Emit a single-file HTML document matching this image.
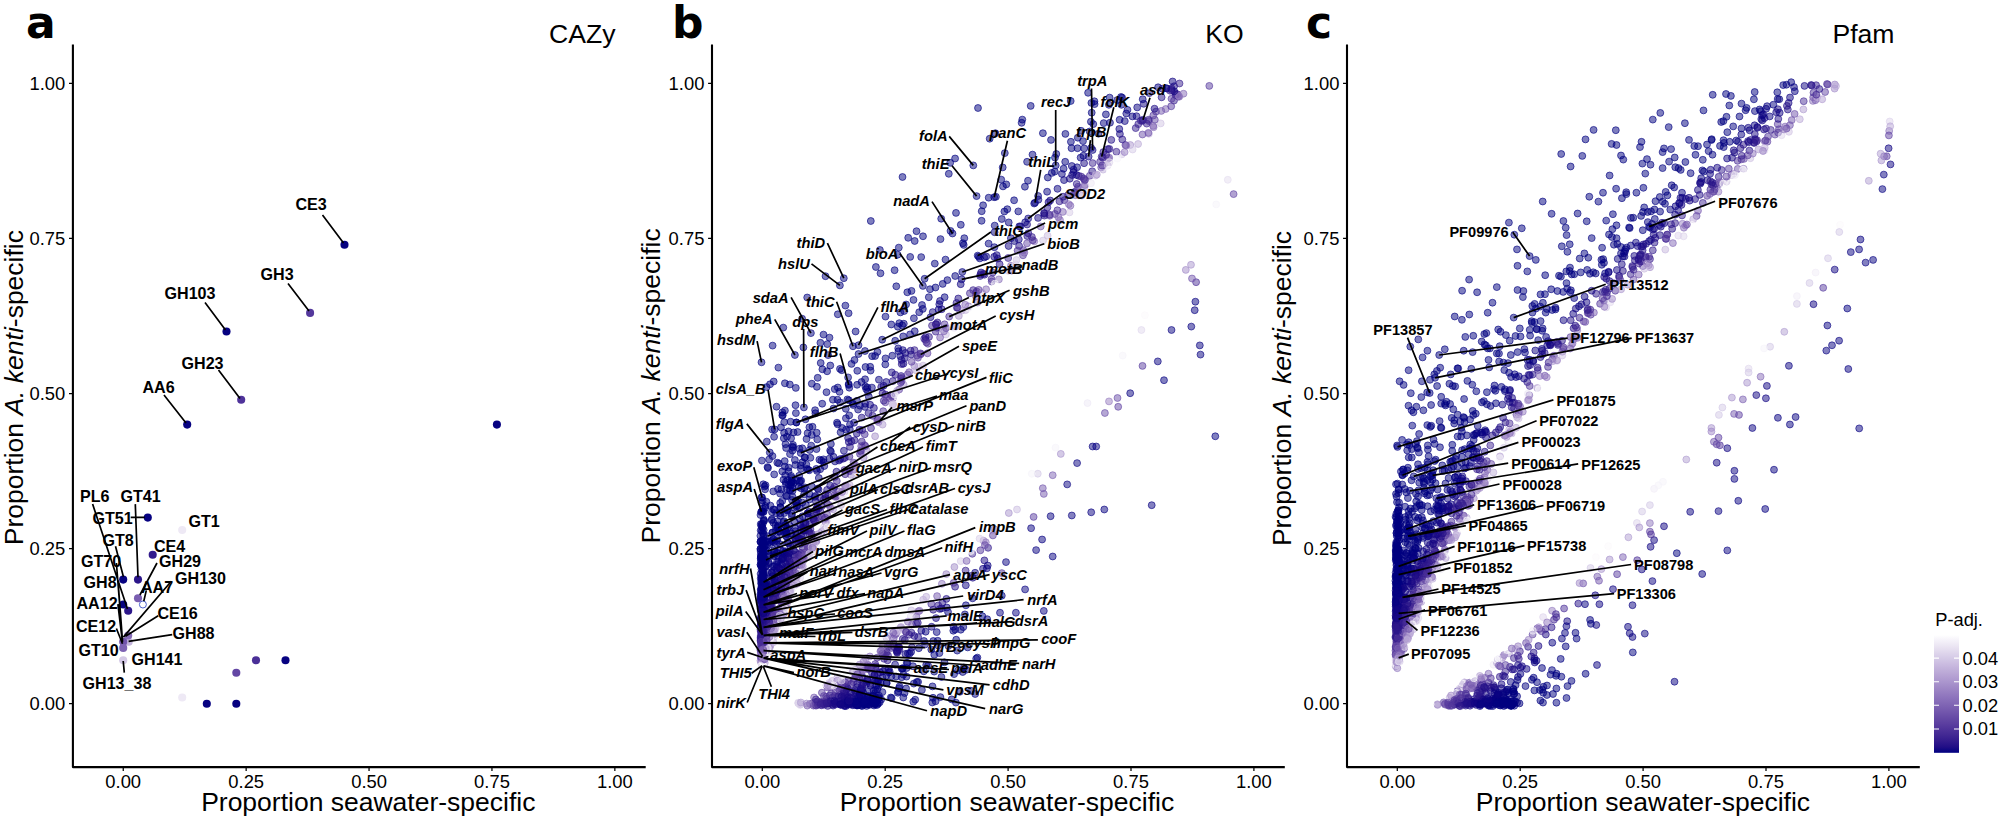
<!DOCTYPE html>
<html lang="en">
<head>
<meta charset="utf-8">
<title>Proportion of A. kenti-specific versus seawater-specific genes (CAZy, KO, Pfam)</title>
<style>
html,body{margin:0;padding:0;background:#fff;}
body{width:2000px;height:820px;overflow:hidden;}
svg{display:block;}
text{font-family:'Liberation Sans', sans-serif;fill:#000;}
.tick{font-size:18.4px;}
.atitle{font-size:26.5px;}
.pname{font-size:26.6px;}
.pletter{font-family:'DejaVu Sans','Liberation Sans',sans-serif;font-weight:bold;font-size:44px;}
.leg{font-size:18.3px;}
.la text{font-size:16.1px;font-weight:bold;}
.lb text{font-size:14.7px;font-weight:bold;font-style:italic;}
.lc text{font-size:14.6px;font-weight:bold;}
</style>
</head>
<body>
<svg width="2000" height="820" viewBox="0 0 2000 820">
<rect width="2000" height="820" fill="#fff"/>
<g class="frame" id="panel-a">
<path d="M72.9 44.4V767.1H645.7" fill="none" stroke="#000" stroke-width="2.1" stroke-linejoin="round"/>
<path d="M69.00 703.70H72.90M123.25 767.15V771.05M69.00 548.62H72.90M246.15 767.15V771.05M69.00 393.55H72.90M369.05 767.15V771.05M69.00 238.48H72.90M491.95 767.15V771.05M69.00 83.40H72.90M614.85 767.15V771.05" stroke="#000" stroke-width="1.25" fill="none"/>
<text class="tick" text-anchor="end" x="65.3" y="710.1">0.00</text>
<text class="tick" text-anchor="middle" x="123.2" y="788.0">0.00</text>
<text class="tick" text-anchor="end" x="65.3" y="555.0">0.25</text>
<text class="tick" text-anchor="middle" x="246.2" y="788.0">0.25</text>
<text class="tick" text-anchor="end" x="65.3" y="400.0">0.50</text>
<text class="tick" text-anchor="middle" x="369.1" y="788.0">0.50</text>
<text class="tick" text-anchor="end" x="65.3" y="244.9">0.75</text>
<text class="tick" text-anchor="middle" x="492.0" y="788.0">0.75</text>
<text class="tick" text-anchor="end" x="65.3" y="89.8">1.00</text>
<text class="tick" text-anchor="middle" x="614.9" y="788.0">1.00</text>
<text class="atitle" text-anchor="middle" x="368.3" y="810.6">Proportion seawater-specific</text>
<text class="atitle" text-anchor="middle" transform="translate(22.5 387.6) rotate(-90)">Proportion <tspan font-style="italic">A. kenti</tspan>-specific</text>
<text class="pname" x="549.0" y="43.0">CAZy</text>
<text class="pletter" x="26.0" y="38.2">a</text>
</g>
<g class="frame" id="panel-b">
<path d="M712.0 44.4V767.1H1284.8" fill="none" stroke="#000" stroke-width="2.1" stroke-linejoin="round"/>
<path d="M708.10 703.70H712.00M762.30 767.15V771.05M708.10 548.62H712.00M885.20 767.15V771.05M708.10 393.55H712.00M1008.10 767.15V771.05M708.10 238.48H712.00M1131.00 767.15V771.05M708.10 83.40H712.00M1253.90 767.15V771.05" stroke="#000" stroke-width="1.25" fill="none"/>
<text class="tick" text-anchor="end" x="704.4" y="710.1">0.00</text>
<text class="tick" text-anchor="middle" x="762.3" y="788.0">0.00</text>
<text class="tick" text-anchor="end" x="704.4" y="555.0">0.25</text>
<text class="tick" text-anchor="middle" x="885.2" y="788.0">0.25</text>
<text class="tick" text-anchor="end" x="704.4" y="400.0">0.50</text>
<text class="tick" text-anchor="middle" x="1008.1" y="788.0">0.50</text>
<text class="tick" text-anchor="end" x="704.4" y="244.9">0.75</text>
<text class="tick" text-anchor="middle" x="1131.0" y="788.0">0.75</text>
<text class="tick" text-anchor="end" x="704.4" y="89.8">1.00</text>
<text class="tick" text-anchor="middle" x="1253.9" y="788.0">1.00</text>
<text class="atitle" text-anchor="middle" x="1007.0" y="810.6">Proportion seawater-specific</text>
<text class="atitle" text-anchor="middle" transform="translate(660.2 385.9) rotate(-90)">Proportion <tspan font-style="italic">A. kenti</tspan>-specific</text>
<text class="pname" x="1205.3" y="43.0">KO</text>
<text class="pletter" x="672.0" y="38.2">b</text>
</g>
<g class="frame" id="panel-c">
<path d="M1347.0 44.4V767.1H1919.8" fill="none" stroke="#000" stroke-width="2.1" stroke-linejoin="round"/>
<path d="M1343.05 703.70H1346.95M1397.30 767.15V771.05M1343.05 548.62H1346.95M1520.20 767.15V771.05M1343.05 393.55H1346.95M1643.10 767.15V771.05M1343.05 238.48H1346.95M1766.00 767.15V771.05M1343.05 83.40H1346.95M1888.90 767.15V771.05" stroke="#000" stroke-width="1.25" fill="none"/>
<text class="tick" text-anchor="end" x="1339.4" y="710.1">0.00</text>
<text class="tick" text-anchor="middle" x="1397.3" y="788.0">0.00</text>
<text class="tick" text-anchor="end" x="1339.4" y="555.0">0.25</text>
<text class="tick" text-anchor="middle" x="1520.2" y="788.0">0.25</text>
<text class="tick" text-anchor="end" x="1339.4" y="400.0">0.50</text>
<text class="tick" text-anchor="middle" x="1643.1" y="788.0">0.50</text>
<text class="tick" text-anchor="end" x="1339.4" y="244.9">0.75</text>
<text class="tick" text-anchor="middle" x="1766.0" y="788.0">0.75</text>
<text class="tick" text-anchor="end" x="1339.4" y="89.8">1.00</text>
<text class="tick" text-anchor="middle" x="1888.9" y="788.0">1.00</text>
<text class="atitle" text-anchor="middle" x="1642.9" y="810.6">Proportion seawater-specific</text>
<text class="atitle" text-anchor="middle" transform="translate(1290.8 388.5) rotate(-90)">Proportion <tspan font-style="italic">A. kenti</tspan>-specific</text>
<text class="pname" x="1832.4" y="43.0">Pfam</text>
<text class="pletter" x="1306.0" y="38.2">c</text>
</g>
<g id="legend">
<defs><linearGradient id="padj" x1="0" y1="1" x2="0" y2="0">
<stop offset="0.00" stop-color="#000080"/>
<stop offset="0.05" stop-color="#210e86"/>
<stop offset="0.10" stop-color="#331b8d"/>
<stop offset="0.15" stop-color="#422893"/>
<stop offset="0.20" stop-color="#4f339a"/>
<stop offset="0.25" stop-color="#5c3fa0"/>
<stop offset="0.30" stop-color="#674ba6"/>
<stop offset="0.35" stop-color="#7357ad"/>
<stop offset="0.40" stop-color="#7e63b3"/>
<stop offset="0.45" stop-color="#896fba"/>
<stop offset="0.50" stop-color="#947bc0"/>
<stop offset="0.55" stop-color="#9f88c6"/>
<stop offset="0.60" stop-color="#aa95cd"/>
<stop offset="0.65" stop-color="#b5a1d3"/>
<stop offset="0.70" stop-color="#bfaed9"/>
<stop offset="0.75" stop-color="#cabbe0"/>
<stop offset="0.80" stop-color="#d4c9e6"/>
<stop offset="0.85" stop-color="#dfd6ec"/>
<stop offset="0.90" stop-color="#eae4f2"/>
<stop offset="0.95" stop-color="#f4f1f9"/>
<stop offset="1.00" stop-color="#ffffff"/>
</linearGradient></defs>
<text class="leg" x="1935.2" y="626.2">P-adj.</text>
<rect x="1934.0" y="635.0" width="25.0" height="117.8" fill="url(#padj)"/>
<path d="M1934.0 658.1h5M1954.0 658.1h5" stroke="#fff" stroke-width="1.1"/>
<text class="leg" x="1962.6" y="664.5">0.04</text>
<path d="M1934.0 681.7h5M1954.0 681.7h5" stroke="#fff" stroke-width="1.1"/>
<text class="leg" x="1962.6" y="688.1">0.03</text>
<path d="M1934.0 705.3h5M1954.0 705.3h5" stroke="#fff" stroke-width="1.1"/>
<text class="leg" x="1962.6" y="711.7">0.02</text>
<path d="M1934.0 729.0h5M1954.0 729.0h5" stroke="#fff" stroke-width="1.1"/>
<text class="leg" x="1962.6" y="735.4">0.01</text>
</g>
<g id="pts-a">
<circle cx="344.5" cy="244.7" r="4.05" fill="#070281"/>
<circle cx="310.1" cy="312.9" r="4.05" fill="#54389c"/>
<circle cx="226.5" cy="331.5" r="4.05" fill="#070281"/>
<circle cx="241.2" cy="399.8" r="4.05" fill="#4f339a"/>
<circle cx="187.2" cy="424.6" r="4.05" fill="#070281"/>
<circle cx="496.9" cy="424.6" r="4.05" fill="#070281"/>
<circle cx="147.8" cy="517.6" r="4.05" fill="#070281"/>
<circle cx="182.2" cy="530.0" r="4.05" fill="#eee9f5"/>
<circle cx="152.7" cy="554.8" r="4.05" fill="#331b8d"/>
<circle cx="123.2" cy="579.6" r="4.05" fill="#070281"/>
<circle cx="138.0" cy="579.6" r="4.05" fill="#2c168a"/>
<circle cx="138.0" cy="598.2" r="4.05" fill="#7a5eb1"/>
<circle cx="142.9" cy="604.5" r="3.5" fill="#fff" stroke="#3a50c8" stroke-width="0.9"/>
<circle cx="123.2" cy="604.5" r="4.05" fill="#070281"/>
<circle cx="128.2" cy="610.7" r="4.05" fill="#2c168a"/>
<circle cx="128.7" cy="641.7" r="4.05" fill="#c3b4dc"/>
<circle cx="128.2" cy="635.5" r="4.05" fill="#876db8"/>
<circle cx="123.2" cy="641.7" r="4.05" fill="#7154ac"/>
<circle cx="123.2" cy="647.9" r="4.05" fill="#7e63b3"/>
<circle cx="123.2" cy="660.3" r="4.05" fill="#d4c9e6"/>
<circle cx="182.2" cy="697.5" r="4.05" fill="#eee9f5"/>
<circle cx="206.8" cy="703.7" r="4.05" fill="#070281"/>
<circle cx="236.3" cy="703.7" r="4.05" fill="#070281"/>
<circle cx="236.3" cy="672.7" r="4.05" fill="#6346a4"/>
<circle cx="256.0" cy="660.3" r="4.05" fill="#4a2f97"/>
<circle cx="285.5" cy="660.3" r="4.05" fill="#070281"/>
</g>
<g id="pts-b" stroke-width="1" fill-opacity="0.5" stroke-opacity="0.62">
<circle cx="863.2" cy="700.7" r="3.45" fill="#060181" stroke="#060181"/>
<circle cx="763.1" cy="641.6" r="3.45" fill="#4f3399" stroke="#4f3399"/>
<circle cx="776.7" cy="553.0" r="3.45" fill="#020180" stroke="#020180"/>
<circle cx="863.2" cy="704.1" r="3.45" fill="#030180" stroke="#030180"/>
<circle cx="774.2" cy="550.5" r="3.45" fill="#000080" stroke="#000080"/>
<circle cx="786.5" cy="552.8" r="3.45" fill="#0f0482" stroke="#0f0482"/>
<circle cx="1023.0" cy="255.3" r="3.45" fill="#5a3e9f" stroke="#5a3e9f"/>
<circle cx="763.5" cy="589.8" r="3.45" fill="#050181" stroke="#050181"/>
<circle cx="768.9" cy="630.7" r="3.45" fill="#977fc2" stroke="#977fc2"/>
<circle cx="897.8" cy="692.7" r="3.45" fill="#000080" stroke="#000080"/>
<circle cx="761.0" cy="639.0" r="3.45" fill="#4b3098" stroke="#4b3098"/>
<circle cx="814.7" cy="496.9" r="3.45" fill="#050181" stroke="#050181"/>
<circle cx="877.1" cy="657.7" r="3.45" fill="#573a9d" stroke="#573a9d"/>
<circle cx="1174.0" cy="100.6" r="3.45" fill="#3d2391" stroke="#3d2391"/>
<circle cx="762.5" cy="626.4" r="3.45" fill="#2b158a" stroke="#2b158a"/>
<circle cx="1091.4" cy="102.9" r="3.45" fill="#000080" stroke="#000080"/>
<circle cx="763.5" cy="597.3" r="3.45" fill="#0a0281" stroke="#0a0281"/>
<circle cx="855.2" cy="669.9" r="3.45" fill="#9c84c4" stroke="#9c84c4"/>
<circle cx="899.3" cy="649.5" r="3.45" fill="#200d86" stroke="#200d86"/>
<circle cx="1175.5" cy="93.5" r="3.45" fill="#462b95" stroke="#462b95"/>
<circle cx="763.3" cy="536.4" r="3.45" fill="#000080" stroke="#000080"/>
<circle cx="765.7" cy="630.0" r="3.45" fill="#4a2f97" stroke="#4a2f97"/>
<circle cx="763.7" cy="664.8" r="3.45" fill="#ffffff" stroke="#ffffff"/>
<circle cx="1148.9" cy="121.1" r="3.45" fill="#563a9d" stroke="#563a9d"/>
<circle cx="1103.7" cy="123.1" r="3.45" fill="#010080" stroke="#010080"/>
<circle cx="776.9" cy="571.1" r="3.45" fill="#0f0482" stroke="#0f0482"/>
<circle cx="763.7" cy="638.2" r="3.45" fill="#472c96" stroke="#472c96"/>
<circle cx="768.5" cy="627.6" r="3.45" fill="#6346a4" stroke="#6346a4"/>
<circle cx="782.7" cy="612.1" r="3.45" fill="#fcfbfd" stroke="#fcfbfd"/>
<circle cx="900.4" cy="312.4" r="3.45" fill="#000080" stroke="#000080"/>
<circle cx="901.7" cy="668.7" r="3.45" fill="#020080" stroke="#020080"/>
<circle cx="761.5" cy="569.5" r="3.45" fill="#000080" stroke="#000080"/>
<circle cx="763.4" cy="614.3" r="3.45" fill="#0e0482" stroke="#0e0482"/>
<circle cx="768.7" cy="553.4" r="3.45" fill="#010080" stroke="#010080"/>
<circle cx="912.1" cy="624.5" r="3.45" fill="#8469b6" stroke="#8469b6"/>
<circle cx="763.3" cy="664.7" r="3.45" fill="#a791cb" stroke="#a791cb"/>
<circle cx="896.3" cy="286.3" r="3.45" fill="#000080" stroke="#000080"/>
<circle cx="848.7" cy="704.6" r="3.45" fill="#0c0382" stroke="#0c0382"/>
<circle cx="767.1" cy="597.6" r="3.45" fill="#0b0382" stroke="#0b0382"/>
<circle cx="1156.0" cy="111.6" r="3.45" fill="#472c96" stroke="#472c96"/>
<circle cx="779.5" cy="588.8" r="3.45" fill="#341c8d" stroke="#341c8d"/>
<circle cx="788.0" cy="508.9" r="3.45" fill="#010080" stroke="#010080"/>
<circle cx="956.2" cy="639.7" r="3.45" fill="#000080" stroke="#000080"/>
<circle cx="777.8" cy="553.0" r="3.45" fill="#030180" stroke="#030180"/>
<circle cx="871.0" cy="428.2" r="3.45" fill="#3e2491" stroke="#3e2491"/>
<circle cx="767.0" cy="623.5" r="3.45" fill="#462b95" stroke="#462b95"/>
<circle cx="802.3" cy="546.8" r="3.45" fill="#331c8d" stroke="#331c8d"/>
<circle cx="1049.5" cy="214.7" r="3.45" fill="#2e178b" stroke="#2e178b"/>
<circle cx="799.5" cy="482.1" r="3.45" fill="#000080" stroke="#000080"/>
<circle cx="1164.0" cy="380.2" r="3.45" fill="#050181" stroke="#050181"/>
<circle cx="1196.1" cy="282.2" r="3.45" fill="#4f339a" stroke="#4f339a"/>
<circle cx="761.6" cy="497.3" r="3.45" fill="#000080" stroke="#000080"/>
<circle cx="964.3" cy="238.2" r="3.45" fill="#000080" stroke="#000080"/>
<circle cx="785.2" cy="525.1" r="3.45" fill="#010080" stroke="#010080"/>
<circle cx="829.5" cy="703.1" r="3.45" fill="#1a0a85" stroke="#1a0a85"/>
<circle cx="893.4" cy="643.5" r="3.45" fill="#4a2f97" stroke="#4a2f97"/>
<circle cx="945.9" cy="334.5" r="3.45" fill="#cec1e2" stroke="#cec1e2"/>
<circle cx="798.7" cy="570.2" r="3.45" fill="#c0afd9" stroke="#c0afd9"/>
<circle cx="760.6" cy="550.9" r="3.45" fill="#000080" stroke="#000080"/>
<circle cx="769.7" cy="641.5" r="3.45" fill="#ece6f4" stroke="#ece6f4"/>
<circle cx="1049.8" cy="215.7" r="3.45" fill="#6548a5" stroke="#6548a5"/>
<circle cx="857.1" cy="384.8" r="3.45" fill="#000080" stroke="#000080"/>
<circle cx="800.7" cy="543.8" r="3.45" fill="#261288" stroke="#261288"/>
<circle cx="770.4" cy="505.6" r="3.45" fill="#000080" stroke="#000080"/>
<circle cx="783.7" cy="614.1" r="3.45" fill="#ad98cf" stroke="#ad98cf"/>
<circle cx="844.0" cy="697.0" r="3.45" fill="#190984" stroke="#190984"/>
<circle cx="867.7" cy="691.7" r="3.45" fill="#020180" stroke="#020180"/>
<circle cx="764.6" cy="652.0" r="3.45" fill="#9981c3" stroke="#9981c3"/>
<circle cx="860.6" cy="673.4" r="3.45" fill="#3b2290" stroke="#3b2290"/>
<circle cx="871.9" cy="387.6" r="3.45" fill="#060281" stroke="#060281"/>
<circle cx="770.6" cy="645.2" r="3.45" fill="#b4a1d3" stroke="#b4a1d3"/>
<circle cx="774.4" cy="509.7" r="3.45" fill="#000080" stroke="#000080"/>
<circle cx="976.6" cy="291.5" r="3.45" fill="#3f2592" stroke="#3f2592"/>
<circle cx="798.8" cy="564.7" r="3.45" fill="#472c96" stroke="#472c96"/>
<circle cx="837.6" cy="495.0" r="3.45" fill="#785db0" stroke="#785db0"/>
<circle cx="819.4" cy="459.7" r="3.45" fill="#010080" stroke="#010080"/>
<circle cx="875.1" cy="436.3" r="3.45" fill="#a690ca" stroke="#a690ca"/>
<circle cx="762.5" cy="589.0" r="3.45" fill="#040181" stroke="#040181"/>
<circle cx="1127.5" cy="109.9" r="3.45" fill="#050181" stroke="#050181"/>
<circle cx="848.0" cy="702.9" r="3.45" fill="#090281" stroke="#090281"/>
<circle cx="1194.7" cy="310.2" r="3.45" fill="#080281" stroke="#080281"/>
<circle cx="1081.1" cy="130.8" r="3.45" fill="#000080" stroke="#000080"/>
<circle cx="940.1" cy="337.5" r="3.45" fill="#765aaf" stroke="#765aaf"/>
<circle cx="1042.1" cy="539.5" r="3.45" fill="#080281" stroke="#080281"/>
<circle cx="763.2" cy="641.3" r="3.45" fill="#472c96" stroke="#472c96"/>
<circle cx="767.5" cy="624.0" r="3.45" fill="#412793" stroke="#412793"/>
<circle cx="771.2" cy="629.4" r="3.45" fill="#795eb1" stroke="#795eb1"/>
<circle cx="901.7" cy="677.2" r="3.45" fill="#010080" stroke="#010080"/>
<circle cx="825.5" cy="276.2" r="3.45" fill="#000080" stroke="#000080"/>
<circle cx="761.0" cy="649.8" r="3.45" fill="#8368b6" stroke="#8368b6"/>
<circle cx="766.7" cy="618.8" r="3.45" fill="#281389" stroke="#281389"/>
<circle cx="1109.2" cy="157.7" r="3.45" fill="#7357ad" stroke="#7357ad"/>
<circle cx="790.6" cy="485.5" r="3.45" fill="#000080" stroke="#000080"/>
<circle cx="898.5" cy="351.3" r="3.45" fill="#070281" stroke="#070281"/>
<circle cx="1090.9" cy="121.7" r="3.45" fill="#000080" stroke="#000080"/>
<circle cx="988.7" cy="197.7" r="3.45" fill="#000080" stroke="#000080"/>
<circle cx="875.4" cy="697.3" r="3.45" fill="#010080" stroke="#010080"/>
<circle cx="963.8" cy="667.5" r="3.45" fill="#000080" stroke="#000080"/>
<circle cx="760.7" cy="524.1" r="3.45" fill="#000080" stroke="#000080"/>
<circle cx="772.0" cy="541.0" r="3.45" fill="#000080" stroke="#000080"/>
<circle cx="769.4" cy="544.7" r="3.45" fill="#000080" stroke="#000080"/>
<circle cx="792.8" cy="584.7" r="3.45" fill="#cdbfe1" stroke="#cdbfe1"/>
<circle cx="798.4" cy="539.0" r="3.45" fill="#130683" stroke="#130683"/>
<circle cx="765.6" cy="561.4" r="3.45" fill="#010080" stroke="#010080"/>
<circle cx="844.3" cy="692.3" r="3.45" fill="#180884" stroke="#180884"/>
<circle cx="1130.3" cy="145.0" r="3.45" fill="#ab96cd" stroke="#ab96cd"/>
<circle cx="764.6" cy="586.9" r="3.45" fill="#0c0382" stroke="#0c0382"/>
<circle cx="1185.8" cy="269.9" r="3.45" fill="#a18ac8" stroke="#a18ac8"/>
<circle cx="800.7" cy="453.0" r="3.45" fill="#000080" stroke="#000080"/>
<circle cx="763.5" cy="619.5" r="3.45" fill="#200d86" stroke="#200d86"/>
<circle cx="1227.8" cy="179.8" r="3.45" fill="#e5def0" stroke="#e5def0"/>
<circle cx="763.0" cy="665.9" r="3.45" fill="#ffffff" stroke="#ffffff"/>
<circle cx="1153.6" cy="127.2" r="3.45" fill="#8d74bc" stroke="#8d74bc"/>
<circle cx="800.1" cy="553.1" r="3.45" fill="#2f188b" stroke="#2f188b"/>
<circle cx="772.9" cy="566.4" r="3.45" fill="#040181" stroke="#040181"/>
<circle cx="1084.2" cy="148.4" r="3.45" fill="#060181" stroke="#060181"/>
<circle cx="800.9" cy="468.8" r="3.45" fill="#000080" stroke="#000080"/>
<circle cx="762.0" cy="588.4" r="3.45" fill="#030180" stroke="#030180"/>
<circle cx="764.2" cy="662.3" r="3.45" fill="#efeaf5" stroke="#efeaf5"/>
<circle cx="1072.1" cy="175.0" r="3.45" fill="#110583" stroke="#110583"/>
<circle cx="763.1" cy="583.5" r="3.45" fill="#020180" stroke="#020180"/>
<circle cx="897.1" cy="630.6" r="3.45" fill="#d9cee9" stroke="#d9cee9"/>
<circle cx="814.8" cy="541.3" r="3.45" fill="#9c84c4" stroke="#9c84c4"/>
<circle cx="1216.2" cy="204.4" r="3.45" fill="#f6f4fa" stroke="#f6f4fa"/>
<circle cx="783.4" cy="607.5" r="3.45" fill="#d2c6e5" stroke="#d2c6e5"/>
<circle cx="836.3" cy="507.0" r="3.45" fill="#fcfcfe" stroke="#fcfcfe"/>
<circle cx="848.5" cy="701.5" r="3.45" fill="#0a0381" stroke="#0a0381"/>
<circle cx="788.5" cy="431.4" r="3.45" fill="#000080" stroke="#000080"/>
<circle cx="1105.9" cy="114.4" r="3.45" fill="#010080" stroke="#010080"/>
<circle cx="787.9" cy="566.4" r="3.45" fill="#241087" stroke="#241087"/>
<circle cx="761.8" cy="588.8" r="3.45" fill="#030180" stroke="#030180"/>
<circle cx="761.8" cy="623.4" r="3.45" fill="#200d86" stroke="#200d86"/>
<circle cx="916.5" cy="231.2" r="3.45" fill="#000080" stroke="#000080"/>
<circle cx="762.4" cy="631.6" r="3.45" fill="#361d8e" stroke="#361d8e"/>
<circle cx="816.4" cy="541.2" r="3.45" fill="#8065b4" stroke="#8065b4"/>
<circle cx="892.8" cy="381.1" r="3.45" fill="#2e178b" stroke="#2e178b"/>
<circle cx="867.8" cy="664.7" r="3.45" fill="#7154ac" stroke="#7154ac"/>
<circle cx="842.2" cy="428.0" r="3.45" fill="#010080" stroke="#010080"/>
<circle cx="774.7" cy="631.0" r="3.45" fill="#f4f1f9" stroke="#f4f1f9"/>
<circle cx="932.5" cy="686.4" r="3.45" fill="#000080" stroke="#000080"/>
<circle cx="760.5" cy="650.4" r="3.45" fill="#7357ad" stroke="#7357ad"/>
<circle cx="776.4" cy="590.1" r="3.45" fill="#241087" stroke="#241087"/>
<circle cx="1006.3" cy="184.4" r="3.45" fill="#000080" stroke="#000080"/>
<circle cx="796.7" cy="480.2" r="3.45" fill="#000080" stroke="#000080"/>
<circle cx="761.2" cy="644.3" r="3.45" fill="#51359b" stroke="#51359b"/>
<circle cx="857.1" cy="694.7" r="3.45" fill="#130583" stroke="#130583"/>
<circle cx="906.1" cy="304.5" r="3.45" fill="#000080" stroke="#000080"/>
<circle cx="970.8" cy="690.7" r="3.45" fill="#000080" stroke="#000080"/>
<circle cx="913.8" cy="683.6" r="3.45" fill="#000080" stroke="#000080"/>
<circle cx="955.6" cy="563.6" r="3.45" fill="#ffffff" stroke="#ffffff"/>
<circle cx="762.9" cy="614.3" r="3.45" fill="#1f0d86" stroke="#1f0d86"/>
<circle cx="1092.6" cy="163.1" r="3.45" fill="#402692" stroke="#402692"/>
<circle cx="803.1" cy="535.5" r="3.45" fill="#140683" stroke="#140683"/>
<circle cx="940.4" cy="697.1" r="3.45" fill="#000080" stroke="#000080"/>
<circle cx="765.3" cy="541.2" r="3.45" fill="#000080" stroke="#000080"/>
<circle cx="763.4" cy="599.4" r="3.45" fill="#0c0382" stroke="#0c0382"/>
<circle cx="981.1" cy="272.5" r="3.45" fill="#150783" stroke="#150783"/>
<circle cx="960.7" cy="561.1" r="3.45" fill="#d6cbe7" stroke="#d6cbe7"/>
<circle cx="763.6" cy="656.0" r="3.45" fill="#947cc0" stroke="#947cc0"/>
<circle cx="771.9" cy="631.8" r="3.45" fill="#795eb1" stroke="#795eb1"/>
<circle cx="875.1" cy="693.1" r="3.45" fill="#020080" stroke="#020080"/>
<circle cx="768.9" cy="563.8" r="3.45" fill="#020080" stroke="#020080"/>
<circle cx="762.3" cy="527.3" r="3.45" fill="#000080" stroke="#000080"/>
<circle cx="802.2" cy="572.2" r="3.45" fill="#f1edf7" stroke="#f1edf7"/>
<circle cx="766.1" cy="590.2" r="3.45" fill="#060181" stroke="#060181"/>
<circle cx="765.4" cy="506.0" r="3.45" fill="#000080" stroke="#000080"/>
<circle cx="850.9" cy="697.7" r="3.45" fill="#0f0482" stroke="#0f0482"/>
<circle cx="842.3" cy="684.8" r="3.45" fill="#573a9e" stroke="#573a9e"/>
<circle cx="848.3" cy="703.8" r="3.45" fill="#0a0381" stroke="#0a0381"/>
<circle cx="763.6" cy="579.5" r="3.45" fill="#020080" stroke="#020080"/>
<circle cx="821.9" cy="702.1" r="3.45" fill="#51359b" stroke="#51359b"/>
<circle cx="763.6" cy="594.9" r="3.45" fill="#040181" stroke="#040181"/>
<circle cx="1141.4" cy="330.0" r="3.45" fill="#e1d9ed" stroke="#e1d9ed"/>
<circle cx="779.5" cy="568.6" r="3.45" fill="#0a0281" stroke="#0a0281"/>
<circle cx="804.8" cy="457.6" r="3.45" fill="#000080" stroke="#000080"/>
<circle cx="799.7" cy="518.5" r="3.45" fill="#030180" stroke="#030180"/>
<circle cx="794.5" cy="556.2" r="3.45" fill="#1d0b85" stroke="#1d0b85"/>
<circle cx="842.9" cy="458.8" r="3.45" fill="#281389" stroke="#281389"/>
<circle cx="763.5" cy="604.9" r="3.45" fill="#0f0482" stroke="#0f0482"/>
<circle cx="789.5" cy="490.1" r="3.45" fill="#000080" stroke="#000080"/>
<circle cx="868.5" cy="413.1" r="3.45" fill="#200e86" stroke="#200e86"/>
<circle cx="865.0" cy="351.0" r="3.45" fill="#000080" stroke="#000080"/>
<circle cx="1004.4" cy="211.5" r="3.45" fill="#000080" stroke="#000080"/>
<circle cx="813.7" cy="519.8" r="3.45" fill="#2d178b" stroke="#2d178b"/>
<circle cx="798.2" cy="559.1" r="3.45" fill="#4d3299" stroke="#4d3299"/>
<circle cx="763.6" cy="638.6" r="3.45" fill="#452a95" stroke="#452a95"/>
<circle cx="790.4" cy="546.2" r="3.45" fill="#0a0281" stroke="#0a0281"/>
<circle cx="925.6" cy="339.8" r="3.45" fill="#30198c" stroke="#30198c"/>
<circle cx="802.3" cy="566.7" r="3.45" fill="#9b84c4" stroke="#9b84c4"/>
<circle cx="874.0" cy="705.5" r="3.45" fill="#010080" stroke="#010080"/>
<circle cx="844.4" cy="698.8" r="3.45" fill="#1a0a85" stroke="#1a0a85"/>
<circle cx="862.2" cy="676.6" r="3.45" fill="#220f87" stroke="#220f87"/>
<circle cx="1000.0" cy="612.7" r="3.45" fill="#080281" stroke="#080281"/>
<circle cx="766.4" cy="631.0" r="3.45" fill="#3c2291" stroke="#3c2291"/>
<circle cx="832.8" cy="704.5" r="3.45" fill="#1c0b85" stroke="#1c0b85"/>
<circle cx="1064.4" cy="200.1" r="3.45" fill="#3d2491" stroke="#3d2491"/>
<circle cx="1008.7" cy="222.4" r="3.45" fill="#010080" stroke="#010080"/>
<circle cx="815.2" cy="515.7" r="3.45" fill="#2a1489" stroke="#2a1489"/>
<circle cx="772.5" cy="597.2" r="3.45" fill="#220f87" stroke="#220f87"/>
<circle cx="859.5" cy="700.2" r="3.45" fill="#070281" stroke="#070281"/>
<circle cx="764.1" cy="641.5" r="3.45" fill="#321b8c" stroke="#321b8c"/>
<circle cx="786.9" cy="603.7" r="3.45" fill="#ab96cd" stroke="#ab96cd"/>
<circle cx="854.8" cy="690.3" r="3.45" fill="#170784" stroke="#170784"/>
<circle cx="872.2" cy="699.3" r="3.45" fill="#010080" stroke="#010080"/>
<circle cx="827.7" cy="705.9" r="3.45" fill="#271288" stroke="#271288"/>
<circle cx="872.1" cy="356.2" r="3.45" fill="#000080" stroke="#000080"/>
<circle cx="761.9" cy="627.8" r="3.45" fill="#2c168a" stroke="#2c168a"/>
<circle cx="838.7" cy="696.0" r="3.45" fill="#2a158a" stroke="#2a158a"/>
<circle cx="761.0" cy="652.0" r="3.45" fill="#8469b6" stroke="#8469b6"/>
<circle cx="763.8" cy="619.8" r="3.45" fill="#1b0a85" stroke="#1b0a85"/>
<circle cx="761.2" cy="617.9" r="3.45" fill="#140683" stroke="#140683"/>
<circle cx="876.9" cy="681.3" r="3.45" fill="#060281" stroke="#060281"/>
<circle cx="772.8" cy="539.9" r="3.45" fill="#010080" stroke="#010080"/>
<circle cx="764.7" cy="644.9" r="3.45" fill="#6b4ea8" stroke="#6b4ea8"/>
<circle cx="763.5" cy="597.3" r="3.45" fill="#0a0281" stroke="#0a0281"/>
<circle cx="763.5" cy="587.0" r="3.45" fill="#060181" stroke="#060181"/>
<circle cx="791.8" cy="590.2" r="3.45" fill="#c3b3db" stroke="#c3b3db"/>
<circle cx="1154.5" cy="108.7" r="3.45" fill="#1e0c85" stroke="#1e0c85"/>
<circle cx="953.3" cy="630.7" r="3.45" fill="#010080" stroke="#010080"/>
<circle cx="918.4" cy="366.7" r="3.45" fill="#cfc2e3" stroke="#cfc2e3"/>
<circle cx="760.7" cy="558.7" r="3.45" fill="#000080" stroke="#000080"/>
<circle cx="934.2" cy="671.6" r="3.45" fill="#000080" stroke="#000080"/>
<circle cx="762.8" cy="523.7" r="3.45" fill="#000080" stroke="#000080"/>
<circle cx="844.6" cy="705.4" r="3.45" fill="#0d0482" stroke="#0d0482"/>
<circle cx="762.8" cy="643.1" r="3.45" fill="#422894" stroke="#422894"/>
<circle cx="872.3" cy="703.1" r="3.45" fill="#010080" stroke="#010080"/>
<circle cx="763.5" cy="611.1" r="3.45" fill="#110583" stroke="#110583"/>
<circle cx="821.8" cy="531.7" r="3.45" fill="#8a70ba" stroke="#8a70ba"/>
<circle cx="975.9" cy="305.4" r="3.45" fill="#ffffff" stroke="#ffffff"/>
<circle cx="785.6" cy="531.4" r="3.45" fill="#010080" stroke="#010080"/>
<circle cx="761.2" cy="566.3" r="3.45" fill="#000080" stroke="#000080"/>
<circle cx="834.9" cy="703.3" r="3.45" fill="#1d0b85" stroke="#1d0b85"/>
<circle cx="801.0" cy="488.3" r="3.45" fill="#000080" stroke="#000080"/>
<circle cx="916.2" cy="623.3" r="3.45" fill="#4d3299" stroke="#4d3299"/>
<circle cx="966.6" cy="560.9" r="3.45" fill="#7f64b4" stroke="#7f64b4"/>
<circle cx="761.1" cy="512.1" r="3.45" fill="#000080" stroke="#000080"/>
<circle cx="888.7" cy="668.8" r="3.45" fill="#130683" stroke="#130683"/>
<circle cx="851.1" cy="474.8" r="3.45" fill="#7559ae" stroke="#7559ae"/>
<circle cx="761.3" cy="610.4" r="3.45" fill="#140683" stroke="#140683"/>
<circle cx="762.6" cy="545.9" r="3.45" fill="#000080" stroke="#000080"/>
<circle cx="823.7" cy="462.3" r="3.45" fill="#010080" stroke="#010080"/>
<circle cx="803.4" cy="347.4" r="3.45" fill="#000080" stroke="#000080"/>
<circle cx="859.8" cy="679.5" r="3.45" fill="#361d8e" stroke="#361d8e"/>
<circle cx="761.6" cy="637.0" r="3.45" fill="#432894" stroke="#432894"/>
<circle cx="863.8" cy="665.2" r="3.45" fill="#9b84c4" stroke="#9b84c4"/>
<circle cx="998.9" cy="279.4" r="3.45" fill="#8e75bc" stroke="#8e75bc"/>
<circle cx="760.9" cy="561.1" r="3.45" fill="#000080" stroke="#000080"/>
<circle cx="819.3" cy="534.7" r="3.45" fill="#f3eff8" stroke="#f3eff8"/>
<circle cx="771.5" cy="622.2" r="3.45" fill="#422893" stroke="#422893"/>
<circle cx="826.4" cy="685.4" r="3.45" fill="#cfc2e3" stroke="#cfc2e3"/>
<circle cx="810.4" cy="457.8" r="3.45" fill="#000080" stroke="#000080"/>
<circle cx="788.5" cy="543.3" r="3.45" fill="#070281" stroke="#070281"/>
<circle cx="760.5" cy="604.1" r="3.45" fill="#0b0382" stroke="#0b0382"/>
<circle cx="882.1" cy="645.3" r="3.45" fill="#c7b8de" stroke="#c7b8de"/>
<circle cx="879.0" cy="695.6" r="3.45" fill="#020080" stroke="#020080"/>
<circle cx="798.4" cy="703.3" r="3.45" fill="#cbbde0" stroke="#cbbde0"/>
<circle cx="762.4" cy="647.0" r="3.45" fill="#422893" stroke="#422893"/>
<circle cx="955.1" cy="586.7" r="3.45" fill="#231087" stroke="#231087"/>
<circle cx="763.5" cy="647.0" r="3.45" fill="#6d51aa" stroke="#6d51aa"/>
<circle cx="1108.1" cy="158.5" r="3.45" fill="#856ab7" stroke="#856ab7"/>
<circle cx="929.0" cy="336.9" r="3.45" fill="#361e8e" stroke="#361e8e"/>
<circle cx="769.2" cy="652.0" r="3.45" fill="#c6b7dd" stroke="#c6b7dd"/>
<circle cx="763.5" cy="627.4" r="3.45" fill="#2c168a" stroke="#2c168a"/>
<circle cx="782.3" cy="579.6" r="3.45" fill="#210e86" stroke="#210e86"/>
<circle cx="823.5" cy="459.4" r="3.45" fill="#010080" stroke="#010080"/>
<circle cx="835.0" cy="496.8" r="3.45" fill="#775baf" stroke="#775baf"/>
<circle cx="780.3" cy="599.5" r="3.45" fill="#492e97" stroke="#492e97"/>
<circle cx="764.0" cy="600.2" r="3.45" fill="#090281" stroke="#090281"/>
<circle cx="785.5" cy="605.9" r="3.45" fill="#b09cd0" stroke="#b09cd0"/>
<circle cx="863.4" cy="692.9" r="3.45" fill="#0a0381" stroke="#0a0381"/>
<circle cx="761.9" cy="460.6" r="3.45" fill="#000080" stroke="#000080"/>
<circle cx="762.1" cy="660.8" r="3.45" fill="#a791cb" stroke="#a791cb"/>
<circle cx="1122.7" cy="355.6" r="3.45" fill="#f6f4fa" stroke="#f6f4fa"/>
<circle cx="873.5" cy="701.5" r="3.45" fill="#010080" stroke="#010080"/>
<circle cx="1100.1" cy="161.8" r="3.45" fill="#4b3098" stroke="#4b3098"/>
<circle cx="787.0" cy="537.1" r="3.45" fill="#030180" stroke="#030180"/>
<circle cx="1004.8" cy="153.1" r="3.45" fill="#000080" stroke="#000080"/>
<circle cx="784.8" cy="602.7" r="3.45" fill="#8368b6" stroke="#8368b6"/>
<circle cx="760.9" cy="557.2" r="3.45" fill="#000080" stroke="#000080"/>
<circle cx="884.8" cy="654.7" r="3.45" fill="#3b2290" stroke="#3b2290"/>
<circle cx="1109.0" cy="401.4" r="3.45" fill="#9980c2" stroke="#9980c2"/>
<circle cx="955.2" cy="629.6" r="3.45" fill="#000080" stroke="#000080"/>
<circle cx="994.6" cy="232.2" r="3.45" fill="#010080" stroke="#010080"/>
<circle cx="849.3" cy="387.7" r="3.45" fill="#000080" stroke="#000080"/>
<circle cx="765.1" cy="545.1" r="3.45" fill="#000080" stroke="#000080"/>
<circle cx="779.8" cy="588.7" r="3.45" fill="#251188" stroke="#251188"/>
<circle cx="954.1" cy="674.1" r="3.45" fill="#000080" stroke="#000080"/>
<circle cx="1086.9" cy="186.8" r="3.45" fill="#ffffff" stroke="#ffffff"/>
<circle cx="894.2" cy="646.9" r="3.45" fill="#321b8d" stroke="#321b8d"/>
<circle cx="903.2" cy="336.4" r="3.45" fill="#020080" stroke="#020080"/>
<circle cx="904.2" cy="311.0" r="3.45" fill="#000080" stroke="#000080"/>
<circle cx="864.7" cy="434.3" r="3.45" fill="#462b95" stroke="#462b95"/>
<circle cx="1037.8" cy="473.7" r="3.45" fill="#d4c9e6" stroke="#d4c9e6"/>
<circle cx="760.7" cy="530.4" r="3.45" fill="#000080" stroke="#000080"/>
<circle cx="865.0" cy="704.1" r="3.45" fill="#020080" stroke="#020080"/>
<circle cx="763.5" cy="604.9" r="3.45" fill="#0f0482" stroke="#0f0482"/>
<circle cx="771.0" cy="611.0" r="3.45" fill="#371e8e" stroke="#371e8e"/>
<circle cx="878.5" cy="422.1" r="3.45" fill="#7e62b3" stroke="#7e62b3"/>
<circle cx="997.8" cy="258.6" r="3.45" fill="#180884" stroke="#180884"/>
<circle cx="1172.6" cy="81.5" r="3.45" fill="#100482" stroke="#100482"/>
<circle cx="772.4" cy="632.9" r="3.45" fill="#775caf" stroke="#775caf"/>
<circle cx="800.5" cy="704.4" r="3.45" fill="#b29fd2" stroke="#b29fd2"/>
<circle cx="853.0" cy="346.3" r="3.45" fill="#000080" stroke="#000080"/>
<circle cx="1035.0" cy="202.7" r="3.45" fill="#040181" stroke="#040181"/>
<circle cx="816.3" cy="705.6" r="3.45" fill="#4e3299" stroke="#4e3299"/>
<circle cx="761.8" cy="523.9" r="3.45" fill="#000080" stroke="#000080"/>
<circle cx="1043.1" cy="240.5" r="3.45" fill="#cec1e2" stroke="#cec1e2"/>
<circle cx="762.9" cy="552.7" r="3.45" fill="#000080" stroke="#000080"/>
<circle cx="787.4" cy="597.0" r="3.45" fill="#ae9acf" stroke="#ae9acf"/>
<circle cx="1071.8" cy="166.0" r="3.45" fill="#090281" stroke="#090281"/>
<circle cx="774.4" cy="600.8" r="3.45" fill="#30198c" stroke="#30198c"/>
<circle cx="763.8" cy="636.5" r="3.45" fill="#2b158a" stroke="#2b158a"/>
<circle cx="946.0" cy="328.1" r="3.45" fill="#5a3d9f" stroke="#5a3d9f"/>
<circle cx="763.9" cy="661.8" r="3.45" fill="#765aae" stroke="#765aae"/>
<circle cx="887.8" cy="636.1" r="3.45" fill="#b7a5d5" stroke="#b7a5d5"/>
<circle cx="1171.5" cy="90.0" r="3.45" fill="#1d0b85" stroke="#1d0b85"/>
<circle cx="761.8" cy="593.0" r="3.45" fill="#060181" stroke="#060181"/>
<circle cx="834.6" cy="695.9" r="3.45" fill="#231087" stroke="#231087"/>
<circle cx="882.6" cy="424.6" r="3.45" fill="#b29ed1" stroke="#b29ed1"/>
<circle cx="760.7" cy="638.7" r="3.45" fill="#341c8d" stroke="#341c8d"/>
<circle cx="954.0" cy="327.9" r="3.45" fill="#ece7f4" stroke="#ece7f4"/>
<circle cx="854.5" cy="462.9" r="3.45" fill="#b9a7d6" stroke="#b9a7d6"/>
<circle cx="778.9" cy="463.4" r="3.45" fill="#000080" stroke="#000080"/>
<circle cx="765.2" cy="636.9" r="3.45" fill="#472c96" stroke="#472c96"/>
<circle cx="841.8" cy="493.9" r="3.45" fill="#c5b5dd" stroke="#c5b5dd"/>
<circle cx="762.4" cy="609.6" r="3.45" fill="#170884" stroke="#170884"/>
<circle cx="761.2" cy="654.6" r="3.45" fill="#ac98ce" stroke="#ac98ce"/>
<circle cx="793.1" cy="447.4" r="3.45" fill="#000080" stroke="#000080"/>
<circle cx="1104.0" cy="165.2" r="3.45" fill="#b29fd2" stroke="#b29fd2"/>
<circle cx="784.9" cy="554.4" r="3.45" fill="#0f0482" stroke="#0f0482"/>
<circle cx="918.0" cy="357.7" r="3.45" fill="#5f43a2" stroke="#5f43a2"/>
<circle cx="763.8" cy="651.2" r="3.45" fill="#785cb0" stroke="#785cb0"/>
<circle cx="805.7" cy="523.3" r="3.45" fill="#120583" stroke="#120583"/>
<circle cx="781.0" cy="427.4" r="3.45" fill="#000080" stroke="#000080"/>
<circle cx="762.9" cy="539.7" r="3.45" fill="#000080" stroke="#000080"/>
<circle cx="831.8" cy="685.3" r="3.45" fill="#b3a0d2" stroke="#b3a0d2"/>
<circle cx="763.5" cy="665.9" r="3.45" fill="#ffffff" stroke="#ffffff"/>
<circle cx="911.2" cy="354.5" r="3.45" fill="#1f0d86" stroke="#1f0d86"/>
<circle cx="787.5" cy="542.7" r="3.45" fill="#060181" stroke="#060181"/>
<circle cx="1002.7" cy="167.4" r="3.45" fill="#000080" stroke="#000080"/>
<circle cx="762.6" cy="626.4" r="3.45" fill="#2c168a" stroke="#2c168a"/>
<circle cx="895.2" cy="340.8" r="3.45" fill="#020080" stroke="#020080"/>
<circle cx="850.0" cy="446.9" r="3.45" fill="#271388" stroke="#271388"/>
<circle cx="798.7" cy="572.0" r="3.45" fill="#ae99cf" stroke="#ae99cf"/>
<circle cx="763.3" cy="540.2" r="3.45" fill="#000080" stroke="#000080"/>
<circle cx="854.6" cy="699.6" r="3.45" fill="#0c0382" stroke="#0c0382"/>
<circle cx="797.9" cy="500.1" r="3.45" fill="#010080" stroke="#010080"/>
<circle cx="854.0" cy="678.7" r="3.45" fill="#9177be" stroke="#9177be"/>
<circle cx="796.4" cy="422.5" r="3.45" fill="#000080" stroke="#000080"/>
<circle cx="783.2" cy="610.8" r="3.45" fill="#d0c3e3" stroke="#d0c3e3"/>
<circle cx="766.1" cy="566.0" r="3.45" fill="#010080" stroke="#010080"/>
<circle cx="774.6" cy="578.5" r="3.45" fill="#080281" stroke="#080281"/>
<circle cx="762.6" cy="615.8" r="3.45" fill="#281389" stroke="#281389"/>
<circle cx="866.8" cy="701.6" r="3.45" fill="#010080" stroke="#010080"/>
<circle cx="1057.5" cy="188.8" r="3.45" fill="#0c0382" stroke="#0c0382"/>
<circle cx="763.5" cy="604.9" r="3.45" fill="#0f0482" stroke="#0f0482"/>
<circle cx="958.8" cy="315.9" r="3.45" fill="#a994cc" stroke="#a994cc"/>
<circle cx="832.9" cy="399.7" r="3.45" fill="#000080" stroke="#000080"/>
<circle cx="769.6" cy="542.0" r="3.45" fill="#000080" stroke="#000080"/>
<circle cx="773.0" cy="627.2" r="3.45" fill="#a58fca" stroke="#a58fca"/>
<circle cx="1024.9" cy="186.7" r="3.45" fill="#000080" stroke="#000080"/>
<circle cx="766.6" cy="387.1" r="3.45" fill="#000080" stroke="#000080"/>
<circle cx="773.3" cy="491.4" r="3.45" fill="#000080" stroke="#000080"/>
<circle cx="828.5" cy="703.3" r="3.45" fill="#251188" stroke="#251188"/>
<circle cx="1138.1" cy="144.0" r="3.45" fill="#bdacd8" stroke="#bdacd8"/>
<circle cx="976.1" cy="293.0" r="3.45" fill="#573b9e" stroke="#573b9e"/>
<circle cx="761.0" cy="620.6" r="3.45" fill="#1d0b85" stroke="#1d0b85"/>
<circle cx="892.1" cy="396.5" r="3.45" fill="#5b3fa0" stroke="#5b3fa0"/>
<circle cx="813.5" cy="705.6" r="3.45" fill="#6043a2" stroke="#6043a2"/>
<circle cx="763.3" cy="553.7" r="3.45" fill="#000080" stroke="#000080"/>
<circle cx="818.6" cy="489.7" r="3.45" fill="#0b0382" stroke="#0b0382"/>
<circle cx="886.7" cy="683.2" r="3.45" fill="#030180" stroke="#030180"/>
<circle cx="789.2" cy="586.3" r="3.45" fill="#7a5eb1" stroke="#7a5eb1"/>
<circle cx="784.9" cy="466.6" r="3.45" fill="#000080" stroke="#000080"/>
<circle cx="811.6" cy="533.7" r="3.45" fill="#2c168a" stroke="#2c168a"/>
<circle cx="893.2" cy="397.9" r="3.45" fill="#8267b5" stroke="#8267b5"/>
<circle cx="1149.3" cy="93.1" r="3.45" fill="#090281" stroke="#090281"/>
<circle cx="775.5" cy="525.5" r="3.45" fill="#000080" stroke="#000080"/>
<circle cx="923.2" cy="599.7" r="3.45" fill="#beacd8" stroke="#beacd8"/>
<circle cx="839.9" cy="681.8" r="3.45" fill="#6d51a9" stroke="#6d51a9"/>
<circle cx="898.5" cy="630.5" r="3.45" fill="#c2b2db" stroke="#c2b2db"/>
<circle cx="1006.0" cy="562.1" r="3.45" fill="#0a0381" stroke="#0a0381"/>
<circle cx="771.8" cy="572.9" r="3.45" fill="#060181" stroke="#060181"/>
<circle cx="865.8" cy="658.2" r="3.45" fill="#a892cb" stroke="#a892cb"/>
<circle cx="778.4" cy="367.6" r="3.45" fill="#000080" stroke="#000080"/>
<circle cx="867.5" cy="679.9" r="3.45" fill="#210e86" stroke="#210e86"/>
<circle cx="764.0" cy="657.2" r="3.45" fill="#a28bc8" stroke="#a28bc8"/>
<circle cx="791.0" cy="584.0" r="3.45" fill="#7a5eb1" stroke="#7a5eb1"/>
<circle cx="767.0" cy="628.1" r="3.45" fill="#371e8e" stroke="#371e8e"/>
<circle cx="765.9" cy="651.0" r="3.45" fill="#8267b5" stroke="#8267b5"/>
<circle cx="1078.8" cy="175.9" r="3.45" fill="#2b158a" stroke="#2b158a"/>
<circle cx="828.3" cy="495.3" r="3.45" fill="#381f8f" stroke="#381f8f"/>
<circle cx="1110.0" cy="122.7" r="3.45" fill="#030180" stroke="#030180"/>
<circle cx="817.3" cy="439.4" r="3.45" fill="#000080" stroke="#000080"/>
<circle cx="761.7" cy="577.3" r="3.45" fill="#010080" stroke="#010080"/>
<circle cx="787.3" cy="557.8" r="3.45" fill="#140683" stroke="#140683"/>
<circle cx="764.2" cy="641.0" r="3.45" fill="#422893" stroke="#422893"/>
<circle cx="900.3" cy="356.2" r="3.45" fill="#0c0382" stroke="#0c0382"/>
<circle cx="1017.0" cy="509.5" r="3.45" fill="#ccbee1" stroke="#ccbee1"/>
<circle cx="767.4" cy="572.2" r="3.45" fill="#010080" stroke="#010080"/>
<circle cx="784.2" cy="553.1" r="3.45" fill="#050181" stroke="#050181"/>
<circle cx="877.3" cy="689.5" r="3.45" fill="#020180" stroke="#020180"/>
<circle cx="1165.7" cy="109.0" r="3.45" fill="#7f64b4" stroke="#7f64b4"/>
<circle cx="1137.2" cy="107.4" r="3.45" fill="#090281" stroke="#090281"/>
<circle cx="1021.6" cy="122.8" r="3.45" fill="#000080" stroke="#000080"/>
<circle cx="862.2" cy="690.1" r="3.45" fill="#090281" stroke="#090281"/>
<circle cx="861.4" cy="696.0" r="3.45" fill="#060181" stroke="#060181"/>
<circle cx="793.8" cy="567.4" r="3.45" fill="#331b8d" stroke="#331b8d"/>
<circle cx="840.0" cy="368.9" r="3.45" fill="#000080" stroke="#000080"/>
<circle cx="1042.8" cy="488.2" r="3.45" fill="#7559ae" stroke="#7559ae"/>
<circle cx="777.3" cy="462.7" r="3.45" fill="#000080" stroke="#000080"/>
<circle cx="763.5" cy="658.1" r="3.45" fill="#b39fd2" stroke="#b39fd2"/>
<circle cx="763.9" cy="660.1" r="3.45" fill="#ffffff" stroke="#ffffff"/>
<circle cx="880.0" cy="672.5" r="3.45" fill="#130683" stroke="#130683"/>
<circle cx="837.1" cy="683.1" r="3.45" fill="#bdabd8" stroke="#bdabd8"/>
<circle cx="763.5" cy="658.1" r="3.45" fill="#b39fd2" stroke="#b39fd2"/>
<circle cx="824.6" cy="704.6" r="3.45" fill="#2f188b" stroke="#2f188b"/>
<circle cx="880.7" cy="683.6" r="3.45" fill="#060181" stroke="#060181"/>
<circle cx="883.3" cy="655.3" r="3.45" fill="#4d3299" stroke="#4d3299"/>
<circle cx="786.1" cy="495.6" r="3.45" fill="#000080" stroke="#000080"/>
<circle cx="827.8" cy="703.4" r="3.45" fill="#261188" stroke="#261188"/>
<circle cx="816.3" cy="511.8" r="3.45" fill="#1e0c86" stroke="#1e0c86"/>
<circle cx="891.7" cy="698.1" r="3.45" fill="#000080" stroke="#000080"/>
<circle cx="866.4" cy="450.0" r="3.45" fill="#a791cb" stroke="#a791cb"/>
<circle cx="761.2" cy="623.8" r="3.45" fill="#241087" stroke="#241087"/>
<circle cx="847.9" cy="680.6" r="3.45" fill="#7b60b1" stroke="#7b60b1"/>
<circle cx="821.8" cy="705.3" r="3.45" fill="#331b8d" stroke="#331b8d"/>
<circle cx="761.8" cy="611.8" r="3.45" fill="#110582" stroke="#110582"/>
<circle cx="895.3" cy="374.8" r="3.45" fill="#2b158a" stroke="#2b158a"/>
<circle cx="845.2" cy="474.2" r="3.45" fill="#39208f" stroke="#39208f"/>
<circle cx="931.3" cy="603.9" r="3.45" fill="#492e97" stroke="#492e97"/>
<circle cx="762.5" cy="628.3" r="3.45" fill="#251188" stroke="#251188"/>
<circle cx="805.1" cy="524.0" r="3.45" fill="#150683" stroke="#150683"/>
<circle cx="865.2" cy="455.4" r="3.45" fill="#f1edf7" stroke="#f1edf7"/>
<circle cx="771.7" cy="520.2" r="3.45" fill="#000080" stroke="#000080"/>
<circle cx="764.9" cy="663.0" r="3.45" fill="#f9f8fc" stroke="#f9f8fc"/>
<circle cx="781.9" cy="586.2" r="3.45" fill="#2f188b" stroke="#2f188b"/>
<circle cx="1148.9" cy="133.8" r="3.45" fill="#cabce0" stroke="#cabce0"/>
<circle cx="777.7" cy="521.2" r="3.45" fill="#000080" stroke="#000080"/>
<circle cx="762.6" cy="657.5" r="3.45" fill="#9a82c3" stroke="#9a82c3"/>
<circle cx="1065.4" cy="133.9" r="3.45" fill="#000080" stroke="#000080"/>
<circle cx="773.8" cy="600.7" r="3.45" fill="#291489" stroke="#291489"/>
<circle cx="852.5" cy="470.8" r="3.45" fill="#674ba6" stroke="#674ba6"/>
<circle cx="815.4" cy="413.3" r="3.45" fill="#000080" stroke="#000080"/>
<circle cx="776.4" cy="564.8" r="3.45" fill="#060281" stroke="#060281"/>
<circle cx="763.5" cy="635.4" r="3.45" fill="#3e2592" stroke="#3e2592"/>
<circle cx="780.1" cy="608.2" r="3.45" fill="#8065b4" stroke="#8065b4"/>
<circle cx="785.9" cy="536.1" r="3.45" fill="#030180" stroke="#030180"/>
<circle cx="762.3" cy="645.9" r="3.45" fill="#6a4da8" stroke="#6a4da8"/>
<circle cx="931.5" cy="352.8" r="3.45" fill="#ffffff" stroke="#ffffff"/>
<circle cx="1091.7" cy="112.7" r="3.45" fill="#000080" stroke="#000080"/>
<circle cx="800.6" cy="465.4" r="3.45" fill="#000080" stroke="#000080"/>
<circle cx="816.1" cy="509.2" r="3.45" fill="#2c168a" stroke="#2c168a"/>
<circle cx="968.6" cy="306.4" r="3.45" fill="#9077bd" stroke="#9077bd"/>
<circle cx="804.6" cy="554.6" r="3.45" fill="#6447a4" stroke="#6447a4"/>
<circle cx="948.8" cy="173.8" r="3.45" fill="#000080" stroke="#000080"/>
<circle cx="777.5" cy="626.4" r="3.45" fill="#eae4f3" stroke="#eae4f3"/>
<circle cx="778.2" cy="597.0" r="3.45" fill="#361e8e" stroke="#361e8e"/>
<circle cx="761.4" cy="615.5" r="3.45" fill="#0d0382" stroke="#0d0382"/>
<circle cx="774.8" cy="632.6" r="3.45" fill="#ebe5f3" stroke="#ebe5f3"/>
<circle cx="1065.2" cy="161.8" r="3.45" fill="#020080" stroke="#020080"/>
<circle cx="901.5" cy="359.9" r="3.45" fill="#120583" stroke="#120583"/>
<circle cx="988.1" cy="547.8" r="3.45" fill="#351d8e" stroke="#351d8e"/>
<circle cx="958.1" cy="670.4" r="3.45" fill="#000080" stroke="#000080"/>
<circle cx="792.4" cy="481.9" r="3.45" fill="#000080" stroke="#000080"/>
<circle cx="972.6" cy="598.3" r="3.45" fill="#020080" stroke="#020080"/>
<circle cx="763.5" cy="658.1" r="3.45" fill="#b39fd2" stroke="#b39fd2"/>
<circle cx="1001.8" cy="573.1" r="3.45" fill="#54389c" stroke="#54389c"/>
<circle cx="800.2" cy="481.1" r="3.45" fill="#000080" stroke="#000080"/>
<circle cx="763.9" cy="626.0" r="3.45" fill="#220f87" stroke="#220f87"/>
<circle cx="763.3" cy="661.0" r="3.45" fill="#b09cd0" stroke="#b09cd0"/>
<circle cx="787.1" cy="510.4" r="3.45" fill="#000080" stroke="#000080"/>
<circle cx="1071.8" cy="515.5" r="3.45" fill="#0a0381" stroke="#0a0381"/>
<circle cx="861.3" cy="701.9" r="3.45" fill="#020080" stroke="#020080"/>
<circle cx="991.7" cy="281.6" r="3.45" fill="#5a3e9f" stroke="#5a3e9f"/>
<circle cx="932.3" cy="702.5" r="3.45" fill="#000080" stroke="#000080"/>
<circle cx="781.2" cy="607.9" r="3.45" fill="#9a82c3" stroke="#9a82c3"/>
<circle cx="865.1" cy="379.3" r="3.45" fill="#010080" stroke="#010080"/>
<circle cx="935.5" cy="287.5" r="3.45" fill="#000080" stroke="#000080"/>
<circle cx="795.4" cy="464.9" r="3.45" fill="#000080" stroke="#000080"/>
<circle cx="786.6" cy="533.9" r="3.45" fill="#010080" stroke="#010080"/>
<circle cx="776.9" cy="540.8" r="3.45" fill="#010080" stroke="#010080"/>
<circle cx="963.3" cy="627.1" r="3.45" fill="#000080" stroke="#000080"/>
<circle cx="879.7" cy="702.3" r="3.45" fill="#000080" stroke="#000080"/>
<circle cx="984.2" cy="257.4" r="3.45" fill="#090281" stroke="#090281"/>
<circle cx="1118.2" cy="406.8" r="3.45" fill="#6346a4" stroke="#6346a4"/>
<circle cx="1022.3" cy="119.6" r="3.45" fill="#000080" stroke="#000080"/>
<circle cx="897.1" cy="652.0" r="3.45" fill="#160784" stroke="#160784"/>
<circle cx="763.9" cy="653.6" r="3.45" fill="#b19dd1" stroke="#b19dd1"/>
<circle cx="1143.7" cy="103.8" r="3.45" fill="#110582" stroke="#110582"/>
<circle cx="776.2" cy="580.1" r="3.45" fill="#0e0482" stroke="#0e0482"/>
<circle cx="804.1" cy="530.5" r="3.45" fill="#190984" stroke="#190984"/>
<circle cx="785.4" cy="598.9" r="3.45" fill="#7f64b4" stroke="#7f64b4"/>
<circle cx="762.6" cy="563.6" r="3.45" fill="#000080" stroke="#000080"/>
<circle cx="761.0" cy="617.5" r="3.45" fill="#190984" stroke="#190984"/>
<circle cx="870.2" cy="366.8" r="3.45" fill="#000080" stroke="#000080"/>
<circle cx="817.7" cy="704.7" r="3.45" fill="#3c2391" stroke="#3c2391"/>
<circle cx="930.5" cy="317.2" r="3.45" fill="#0d0382" stroke="#0d0382"/>
<circle cx="863.4" cy="682.8" r="3.45" fill="#180884" stroke="#180884"/>
<circle cx="1052.7" cy="475.2" r="3.45" fill="#7e63b3" stroke="#7e63b3"/>
<circle cx="764.1" cy="597.7" r="3.45" fill="#070281" stroke="#070281"/>
<circle cx="770.5" cy="606.3" r="3.45" fill="#341c8d" stroke="#341c8d"/>
<circle cx="760.9" cy="618.0" r="3.45" fill="#251188" stroke="#251188"/>
<circle cx="916.4" cy="616.7" r="3.45" fill="#7255ac" stroke="#7255ac"/>
<circle cx="771.0" cy="634.5" r="3.45" fill="#856bb7" stroke="#856bb7"/>
<circle cx="807.5" cy="513.3" r="3.45" fill="#0d0382" stroke="#0d0382"/>
<circle cx="769.5" cy="646.1" r="3.45" fill="#957dc1" stroke="#957dc1"/>
<circle cx="1064.0" cy="180.1" r="3.45" fill="#090281" stroke="#090281"/>
<circle cx="965.6" cy="310.1" r="3.45" fill="#c7b8de" stroke="#c7b8de"/>
<circle cx="881.2" cy="387.0" r="3.45" fill="#1b0a85" stroke="#1b0a85"/>
<circle cx="812.5" cy="426.8" r="3.45" fill="#000080" stroke="#000080"/>
<circle cx="764.0" cy="659.7" r="3.45" fill="#aa95cd" stroke="#aa95cd"/>
<circle cx="852.9" cy="403.6" r="3.45" fill="#010080" stroke="#010080"/>
<circle cx="955.9" cy="702.6" r="3.45" fill="#000080" stroke="#000080"/>
<circle cx="764.0" cy="521.0" r="3.45" fill="#000080" stroke="#000080"/>
<circle cx="784.1" cy="432.8" r="3.45" fill="#000080" stroke="#000080"/>
<circle cx="780.3" cy="515.8" r="3.45" fill="#000080" stroke="#000080"/>
<circle cx="855.6" cy="675.6" r="3.45" fill="#50359a" stroke="#50359a"/>
<circle cx="777.7" cy="594.7" r="3.45" fill="#2f188b" stroke="#2f188b"/>
<circle cx="778.5" cy="590.4" r="3.45" fill="#2b158a" stroke="#2b158a"/>
<circle cx="803.9" cy="407.4" r="3.45" fill="#000080" stroke="#000080"/>
<circle cx="792.4" cy="446.7" r="3.45" fill="#000080" stroke="#000080"/>
<circle cx="767.3" cy="609.2" r="3.45" fill="#200d86" stroke="#200d86"/>
<circle cx="809.1" cy="511.7" r="3.45" fill="#0d0382" stroke="#0d0382"/>
<circle cx="769.3" cy="602.7" r="3.45" fill="#241087" stroke="#241087"/>
<circle cx="762.7" cy="660.7" r="3.45" fill="#f6f3fa" stroke="#f6f3fa"/>
<circle cx="1070.7" cy="101.0" r="3.45" fill="#000080" stroke="#000080"/>
<circle cx="785.5" cy="444.2" r="3.45" fill="#000080" stroke="#000080"/>
<circle cx="820.7" cy="363.0" r="3.45" fill="#000080" stroke="#000080"/>
<circle cx="761.6" cy="621.1" r="3.45" fill="#230f87" stroke="#230f87"/>
<circle cx="770.5" cy="587.1" r="3.45" fill="#0c0382" stroke="#0c0382"/>
<circle cx="1001.8" cy="595.7" r="3.45" fill="#040181" stroke="#040181"/>
<circle cx="824.3" cy="466.0" r="3.45" fill="#030180" stroke="#030180"/>
<circle cx="952.4" cy="327.1" r="3.45" fill="#ece6f4" stroke="#ece6f4"/>
<circle cx="796.6" cy="575.7" r="3.45" fill="#7e62b3" stroke="#7e62b3"/>
<circle cx="962.3" cy="272.0" r="3.45" fill="#030180" stroke="#030180"/>
<circle cx="801.1" cy="569.0" r="3.45" fill="#8c72bb" stroke="#8c72bb"/>
<circle cx="792.6" cy="563.4" r="3.45" fill="#3e2592" stroke="#3e2592"/>
<circle cx="976.0" cy="296.4" r="3.45" fill="#6b4fa8" stroke="#6b4fa8"/>
<circle cx="982.2" cy="292.9" r="3.45" fill="#baa8d6" stroke="#baa8d6"/>
<circle cx="823.6" cy="702.8" r="3.45" fill="#432994" stroke="#432994"/>
<circle cx="830.9" cy="444.0" r="3.45" fill="#020080" stroke="#020080"/>
<circle cx="771.7" cy="605.3" r="3.45" fill="#210e86" stroke="#210e86"/>
<circle cx="1055.0" cy="214.0" r="3.45" fill="#573b9e" stroke="#573b9e"/>
<circle cx="891.5" cy="647.9" r="3.45" fill="#3f2592" stroke="#3f2592"/>
<circle cx="978.7" cy="256.6" r="3.45" fill="#030180" stroke="#030180"/>
<circle cx="762.1" cy="666.3" r="3.45" fill="#e7e0f1" stroke="#e7e0f1"/>
<circle cx="791.1" cy="482.9" r="3.45" fill="#000080" stroke="#000080"/>
<circle cx="760.6" cy="609.0" r="3.45" fill="#0e0482" stroke="#0e0482"/>
<circle cx="1121.8" cy="154.4" r="3.45" fill="#d6cbe7" stroke="#d6cbe7"/>
<circle cx="922.9" cy="285.9" r="3.45" fill="#000080" stroke="#000080"/>
<circle cx="763.5" cy="589.8" r="3.45" fill="#050181" stroke="#050181"/>
<circle cx="843.6" cy="694.5" r="3.45" fill="#1a0984" stroke="#1a0984"/>
<circle cx="828.1" cy="355.1" r="3.45" fill="#000080" stroke="#000080"/>
<circle cx="761.8" cy="583.5" r="3.45" fill="#050181" stroke="#050181"/>
<circle cx="939.8" cy="608.9" r="3.45" fill="#140683" stroke="#140683"/>
<circle cx="802.0" cy="560.9" r="3.45" fill="#5d41a1" stroke="#5d41a1"/>
<circle cx="762.6" cy="600.6" r="3.45" fill="#0b0382" stroke="#0b0382"/>
<circle cx="815.8" cy="702.9" r="3.45" fill="#462b95" stroke="#462b95"/>
<circle cx="859.0" cy="703.0" r="3.45" fill="#030180" stroke="#030180"/>
<circle cx="774.6" cy="613.2" r="3.45" fill="#492e97" stroke="#492e97"/>
<circle cx="774.2" cy="630.2" r="3.45" fill="#a993cc" stroke="#a993cc"/>
<circle cx="768.3" cy="637.9" r="3.45" fill="#d3c6e5" stroke="#d3c6e5"/>
<circle cx="1176.8" cy="94.2" r="3.45" fill="#4c3198" stroke="#4c3198"/>
<circle cx="761.4" cy="594.7" r="3.45" fill="#050181" stroke="#050181"/>
<circle cx="785.7" cy="592.8" r="3.45" fill="#5a3e9f" stroke="#5a3e9f"/>
<circle cx="764.1" cy="596.3" r="3.45" fill="#0c0382" stroke="#0c0382"/>
<circle cx="803.8" cy="523.0" r="3.45" fill="#170884" stroke="#170884"/>
<circle cx="896.2" cy="676.5" r="3.45" fill="#010080" stroke="#010080"/>
<circle cx="872.1" cy="673.2" r="3.45" fill="#160784" stroke="#160784"/>
<circle cx="939.3" cy="304.2" r="3.45" fill="#0b0382" stroke="#0b0382"/>
<circle cx="760.6" cy="564.4" r="3.45" fill="#010080" stroke="#010080"/>
<circle cx="882.5" cy="677.2" r="3.45" fill="#0a0281" stroke="#0a0281"/>
<circle cx="771.1" cy="637.7" r="3.45" fill="#b3a0d2" stroke="#b3a0d2"/>
<circle cx="799.2" cy="475.7" r="3.45" fill="#000080" stroke="#000080"/>
<circle cx="1060.0" cy="220.1" r="3.45" fill="#896eb9" stroke="#896eb9"/>
<circle cx="852.5" cy="475.8" r="3.45" fill="#e0d7ed" stroke="#e0d7ed"/>
<circle cx="1015.9" cy="612.7" r="3.45" fill="#080281" stroke="#080281"/>
<circle cx="941.2" cy="218.7" r="3.45" fill="#000080" stroke="#000080"/>
<circle cx="784.6" cy="577.0" r="3.45" fill="#2a1589" stroke="#2a1589"/>
<circle cx="861.9" cy="685.6" r="3.45" fill="#200d86" stroke="#200d86"/>
<circle cx="845.4" cy="485.6" r="3.45" fill="#a791cb" stroke="#a791cb"/>
<circle cx="761.6" cy="623.4" r="3.45" fill="#220f87" stroke="#220f87"/>
<circle cx="787.6" cy="479.9" r="3.45" fill="#000080" stroke="#000080"/>
<circle cx="764.2" cy="664.2" r="3.45" fill="#b6a3d4" stroke="#b6a3d4"/>
<circle cx="1011.0" cy="265.7" r="3.45" fill="#8c73bb" stroke="#8c73bb"/>
<circle cx="762.6" cy="542.6" r="3.45" fill="#000080" stroke="#000080"/>
<circle cx="830.3" cy="685.8" r="3.45" fill="#ad99cf" stroke="#ad99cf"/>
<circle cx="773.9" cy="637.3" r="3.45" fill="#d7cce7" stroke="#d7cce7"/>
<circle cx="956.0" cy="212.9" r="3.45" fill="#000080" stroke="#000080"/>
<circle cx="807.2" cy="297.5" r="3.45" fill="#000080" stroke="#000080"/>
<circle cx="864.5" cy="702.8" r="3.45" fill="#020180" stroke="#020180"/>
<circle cx="1151.7" cy="505.2" r="3.45" fill="#080281" stroke="#080281"/>
<circle cx="886.2" cy="382.0" r="3.45" fill="#120583" stroke="#120583"/>
<circle cx="762.6" cy="623.6" r="3.45" fill="#160784" stroke="#160784"/>
<circle cx="763.1" cy="663.3" r="3.45" fill="#cfc1e2" stroke="#cfc1e2"/>
<circle cx="765.4" cy="588.1" r="3.45" fill="#090281" stroke="#090281"/>
<circle cx="761.7" cy="600.3" r="3.45" fill="#0d0382" stroke="#0d0382"/>
<circle cx="1153.3" cy="115.5" r="3.45" fill="#573b9e" stroke="#573b9e"/>
<circle cx="914.7" cy="331.2" r="3.45" fill="#050181" stroke="#050181"/>
<circle cx="788.5" cy="580.4" r="3.45" fill="#4e3299" stroke="#4e3299"/>
<circle cx="795.2" cy="561.3" r="3.45" fill="#3e2491" stroke="#3e2491"/>
<circle cx="860.0" cy="405.7" r="3.45" fill="#040181" stroke="#040181"/>
<circle cx="768.2" cy="641.9" r="3.45" fill="#a58fca" stroke="#a58fca"/>
<circle cx="868.2" cy="699.0" r="3.45" fill="#030180" stroke="#030180"/>
<circle cx="762.3" cy="572.0" r="3.45" fill="#010080" stroke="#010080"/>
<circle cx="788.5" cy="471.3" r="3.45" fill="#000080" stroke="#000080"/>
<circle cx="865.4" cy="386.6" r="3.45" fill="#010080" stroke="#010080"/>
<circle cx="767.9" cy="644.4" r="3.45" fill="#bbaad7" stroke="#bbaad7"/>
<circle cx="1043.8" cy="610.9" r="3.45" fill="#080281" stroke="#080281"/>
<circle cx="855.4" cy="692.1" r="3.45" fill="#130683" stroke="#130683"/>
<circle cx="841.0" cy="688.5" r="3.45" fill="#39208f" stroke="#39208f"/>
<circle cx="980.1" cy="276.0" r="3.45" fill="#200d86" stroke="#200d86"/>
<circle cx="772.5" cy="456.1" r="3.45" fill="#000080" stroke="#000080"/>
<circle cx="768.5" cy="591.1" r="3.45" fill="#110582" stroke="#110582"/>
<circle cx="859.8" cy="693.3" r="3.45" fill="#110582" stroke="#110582"/>
<circle cx="909.1" cy="372.2" r="3.45" fill="#7154ac" stroke="#7154ac"/>
<circle cx="760.8" cy="652.8" r="3.45" fill="#8469b6" stroke="#8469b6"/>
<circle cx="763.9" cy="625.5" r="3.45" fill="#1d0c85" stroke="#1d0c85"/>
<circle cx="877.7" cy="419.8" r="3.45" fill="#6346a4" stroke="#6346a4"/>
<circle cx="930.0" cy="289.2" r="3.45" fill="#000080" stroke="#000080"/>
<circle cx="816.7" cy="432.7" r="3.45" fill="#000080" stroke="#000080"/>
<circle cx="773.3" cy="634.7" r="3.45" fill="#ac98ce" stroke="#ac98ce"/>
<circle cx="1160.7" cy="123.4" r="3.45" fill="#d2c5e4" stroke="#d2c5e4"/>
<circle cx="877.3" cy="703.3" r="3.45" fill="#010080" stroke="#010080"/>
<circle cx="793.5" cy="577.2" r="3.45" fill="#a58fca" stroke="#a58fca"/>
<circle cx="1088.1" cy="92.8" r="3.45" fill="#000080" stroke="#000080"/>
<circle cx="1030.7" cy="105.9" r="3.45" fill="#000080" stroke="#000080"/>
<circle cx="763.8" cy="588.9" r="3.45" fill="#070281" stroke="#070281"/>
<circle cx="809.3" cy="549.1" r="3.45" fill="#785cb0" stroke="#785cb0"/>
<circle cx="783.8" cy="438.2" r="3.45" fill="#000080" stroke="#000080"/>
<circle cx="764.1" cy="600.5" r="3.45" fill="#080281" stroke="#080281"/>
<circle cx="762.6" cy="636.8" r="3.45" fill="#4b3098" stroke="#4b3098"/>
<circle cx="1092.6" cy="446.5" r="3.45" fill="#080281" stroke="#080281"/>
<circle cx="804.6" cy="552.8" r="3.45" fill="#6246a4" stroke="#6246a4"/>
<circle cx="763.0" cy="664.2" r="3.45" fill="#e7e0f1" stroke="#e7e0f1"/>
<circle cx="813.5" cy="548.5" r="3.45" fill="#a38cc8" stroke="#a38cc8"/>
<circle cx="903.3" cy="697.5" r="3.45" fill="#000080" stroke="#000080"/>
<circle cx="766.9" cy="649.6" r="3.45" fill="#cdbfe1" stroke="#cdbfe1"/>
<circle cx="944.0" cy="331.3" r="3.45" fill="#7e63b3" stroke="#7e63b3"/>
<circle cx="763.1" cy="580.9" r="3.45" fill="#020180" stroke="#020180"/>
<circle cx="809.4" cy="548.1" r="3.45" fill="#432894" stroke="#432894"/>
<circle cx="858.1" cy="409.6" r="3.45" fill="#030180" stroke="#030180"/>
<circle cx="770.3" cy="633.9" r="3.45" fill="#674ba6" stroke="#674ba6"/>
<circle cx="924.2" cy="338.7" r="3.45" fill="#3b2290" stroke="#3b2290"/>
<circle cx="983.5" cy="540.6" r="3.45" fill="#a994cc" stroke="#a994cc"/>
<circle cx="761.3" cy="556.4" r="3.45" fill="#000080" stroke="#000080"/>
<circle cx="796.5" cy="506.7" r="3.45" fill="#010080" stroke="#010080"/>
<circle cx="776.3" cy="568.1" r="3.45" fill="#0b0381" stroke="#0b0381"/>
<circle cx="843.1" cy="683.2" r="3.45" fill="#664aa6" stroke="#664aa6"/>
<circle cx="799.8" cy="571.9" r="3.45" fill="#ffffff" stroke="#ffffff"/>
<circle cx="906.0" cy="632.1" r="3.45" fill="#583c9e" stroke="#583c9e"/>
<circle cx="796.4" cy="422.5" r="3.45" fill="#000080" stroke="#000080"/>
<circle cx="848.7" cy="384.0" r="3.45" fill="#000080" stroke="#000080"/>
<circle cx="845.9" cy="418.3" r="3.45" fill="#050181" stroke="#050181"/>
<circle cx="875.8" cy="666.3" r="3.45" fill="#261188" stroke="#261188"/>
<circle cx="776.2" cy="513.2" r="3.45" fill="#000080" stroke="#000080"/>
<circle cx="764.0" cy="520.6" r="3.45" fill="#000080" stroke="#000080"/>
<circle cx="763.5" cy="600.9" r="3.45" fill="#080281" stroke="#080281"/>
<circle cx="803.2" cy="527.8" r="3.45" fill="#190984" stroke="#190984"/>
<circle cx="763.5" cy="582.2" r="3.45" fill="#030180" stroke="#030180"/>
<circle cx="760.5" cy="515.0" r="3.45" fill="#000080" stroke="#000080"/>
<circle cx="762.6" cy="642.7" r="3.45" fill="#51359b" stroke="#51359b"/>
<circle cx="767.3" cy="544.4" r="3.45" fill="#000080" stroke="#000080"/>
<circle cx="773.4" cy="590.4" r="3.45" fill="#160783" stroke="#160783"/>
<circle cx="760.6" cy="627.0" r="3.45" fill="#291489" stroke="#291489"/>
<circle cx="841.3" cy="703.4" r="3.45" fill="#130683" stroke="#130683"/>
<circle cx="786.9" cy="496.3" r="3.45" fill="#000080" stroke="#000080"/>
<circle cx="837.8" cy="387.5" r="3.45" fill="#000080" stroke="#000080"/>
<circle cx="840.6" cy="704.4" r="3.45" fill="#180884" stroke="#180884"/>
<circle cx="1077.1" cy="167.3" r="3.45" fill="#0a0381" stroke="#0a0381"/>
<circle cx="834.7" cy="476.9" r="3.45" fill="#1d0b85" stroke="#1d0b85"/>
<circle cx="825.3" cy="494.5" r="3.45" fill="#1f0c86" stroke="#1f0c86"/>
<circle cx="801.4" cy="571.9" r="3.45" fill="#d3c7e5" stroke="#d3c7e5"/>
<circle cx="826.1" cy="696.7" r="3.45" fill="#5a3e9f" stroke="#5a3e9f"/>
<circle cx="762.1" cy="612.7" r="3.45" fill="#100582" stroke="#100582"/>
<circle cx="950.2" cy="162.8" r="3.45" fill="#000080" stroke="#000080"/>
<circle cx="991.5" cy="279.1" r="3.45" fill="#4d3198" stroke="#4d3198"/>
<circle cx="790.7" cy="576.7" r="3.45" fill="#7c61b2" stroke="#7c61b2"/>
<circle cx="846.8" cy="686.5" r="3.45" fill="#422893" stroke="#422893"/>
<circle cx="866.1" cy="702.8" r="3.45" fill="#020180" stroke="#020180"/>
<circle cx="1161.3" cy="110.9" r="3.45" fill="#765baf" stroke="#765baf"/>
<circle cx="884.7" cy="417.2" r="3.45" fill="#dcd3eb" stroke="#dcd3eb"/>
<circle cx="1075.2" cy="191.6" r="3.45" fill="#3d2491" stroke="#3d2491"/>
<circle cx="841.9" cy="703.7" r="3.45" fill="#100482" stroke="#100482"/>
<circle cx="845.5" cy="693.8" r="3.45" fill="#261288" stroke="#261288"/>
<circle cx="762.7" cy="658.9" r="3.45" fill="#bdacd8" stroke="#bdacd8"/>
<circle cx="787.2" cy="552.4" r="3.45" fill="#150783" stroke="#150783"/>
<circle cx="902.9" cy="668.5" r="3.45" fill="#010080" stroke="#010080"/>
<circle cx="763.7" cy="585.8" r="3.45" fill="#040181" stroke="#040181"/>
<circle cx="944.6" cy="297.2" r="3.45" fill="#040181" stroke="#040181"/>
<circle cx="976.6" cy="196.1" r="3.45" fill="#000080" stroke="#000080"/>
<circle cx="830.2" cy="450.5" r="3.45" fill="#020180" stroke="#020180"/>
<circle cx="761.6" cy="565.5" r="3.45" fill="#000080" stroke="#000080"/>
<circle cx="1087.5" cy="403.1" r="3.45" fill="#eee9f5" stroke="#eee9f5"/>
<circle cx="782.6" cy="558.1" r="3.45" fill="#070281" stroke="#070281"/>
<circle cx="789.5" cy="572.2" r="3.45" fill="#2a1489" stroke="#2a1489"/>
<circle cx="853.7" cy="703.5" r="3.45" fill="#0b0382" stroke="#0b0382"/>
<circle cx="897.2" cy="652.8" r="3.45" fill="#1d0c85" stroke="#1d0c85"/>
<circle cx="761.2" cy="624.5" r="3.45" fill="#200e86" stroke="#200e86"/>
<circle cx="761.7" cy="627.0" r="3.45" fill="#2e188b" stroke="#2e188b"/>
<circle cx="807.3" cy="705.6" r="3.45" fill="#795db0" stroke="#795db0"/>
<circle cx="812.5" cy="703.3" r="3.45" fill="#7054ab" stroke="#7054ab"/>
<circle cx="763.2" cy="626.2" r="3.45" fill="#261188" stroke="#261188"/>
<circle cx="923.0" cy="236.3" r="3.45" fill="#000080" stroke="#000080"/>
<circle cx="763.5" cy="657.6" r="3.45" fill="#a089c7" stroke="#a089c7"/>
<circle cx="857.0" cy="400.8" r="3.45" fill="#010080" stroke="#010080"/>
<circle cx="1011.7" cy="270.6" r="3.45" fill="#6d50a9" stroke="#6d50a9"/>
<circle cx="763.9" cy="647.8" r="3.45" fill="#573b9e" stroke="#573b9e"/>
<circle cx="764.3" cy="594.6" r="3.45" fill="#110583" stroke="#110583"/>
<circle cx="811.2" cy="445.6" r="3.45" fill="#000080" stroke="#000080"/>
<circle cx="836.6" cy="680.6" r="3.45" fill="#ffffff" stroke="#ffffff"/>
<circle cx="769.8" cy="647.5" r="3.45" fill="#b09cd0" stroke="#b09cd0"/>
<circle cx="808.9" cy="531.3" r="3.45" fill="#2b158a" stroke="#2b158a"/>
<circle cx="894.1" cy="406.3" r="3.45" fill="#e1d9ed" stroke="#e1d9ed"/>
<circle cx="848.2" cy="701.9" r="3.45" fill="#0d0382" stroke="#0d0382"/>
<circle cx="763.9" cy="630.3" r="3.45" fill="#271288" stroke="#271288"/>
<circle cx="1077.1" cy="463.1" r="3.45" fill="#0a0381" stroke="#0a0381"/>
<circle cx="764.1" cy="629.1" r="3.45" fill="#3a2190" stroke="#3a2190"/>
<circle cx="887.4" cy="639.5" r="3.45" fill="#ffffff" stroke="#ffffff"/>
<circle cx="760.9" cy="645.5" r="3.45" fill="#4f3399" stroke="#4f3399"/>
<circle cx="809.2" cy="549.0" r="3.45" fill="#a690ca" stroke="#a690ca"/>
<circle cx="786.8" cy="566.0" r="3.45" fill="#2e178b" stroke="#2e178b"/>
<circle cx="765.5" cy="485.2" r="3.45" fill="#000080" stroke="#000080"/>
<circle cx="763.5" cy="644.0" r="3.45" fill="#412793" stroke="#412793"/>
<circle cx="921.3" cy="630.7" r="3.45" fill="#130683" stroke="#130683"/>
<circle cx="800.1" cy="577.8" r="3.45" fill="#ded4eb" stroke="#ded4eb"/>
<circle cx="818.0" cy="696.4" r="3.45" fill="#ffffff" stroke="#ffffff"/>
<circle cx="762.6" cy="664.2" r="3.45" fill="#e6dff0" stroke="#e6dff0"/>
<circle cx="786.9" cy="598.3" r="3.45" fill="#8a70ba" stroke="#8a70ba"/>
<circle cx="909.6" cy="653.6" r="3.45" fill="#030180" stroke="#030180"/>
<circle cx="868.7" cy="701.4" r="3.45" fill="#020180" stroke="#020180"/>
<circle cx="972.3" cy="553.8" r="3.45" fill="#4c3198" stroke="#4c3198"/>
<circle cx="775.1" cy="594.3" r="3.45" fill="#261188" stroke="#261188"/>
<circle cx="994.2" cy="197.2" r="3.45" fill="#000080" stroke="#000080"/>
<circle cx="795.9" cy="413.1" r="3.45" fill="#000080" stroke="#000080"/>
<circle cx="779.1" cy="622.9" r="3.45" fill="#c4b5dc" stroke="#c4b5dc"/>
<circle cx="837.4" cy="681.8" r="3.45" fill="#9880c2" stroke="#9880c2"/>
<circle cx="985.8" cy="542.3" r="3.45" fill="#947bc0" stroke="#947bc0"/>
<circle cx="861.3" cy="451.9" r="3.45" fill="#9077be" stroke="#9077be"/>
<circle cx="933.3" cy="641.0" r="3.45" fill="#020080" stroke="#020080"/>
<circle cx="763.1" cy="616.1" r="3.45" fill="#190984" stroke="#190984"/>
<circle cx="762.3" cy="643.4" r="3.45" fill="#3b2290" stroke="#3b2290"/>
<circle cx="763.5" cy="642.9" r="3.45" fill="#563a9d" stroke="#563a9d"/>
<circle cx="1038.1" cy="196.0" r="3.45" fill="#040181" stroke="#040181"/>
<circle cx="953.6" cy="582.9" r="3.45" fill="#50349a" stroke="#50349a"/>
<circle cx="763.6" cy="657.7" r="3.45" fill="#947bc0" stroke="#947bc0"/>
<circle cx="784.7" cy="461.1" r="3.45" fill="#000080" stroke="#000080"/>
<circle cx="1101.2" cy="167.4" r="3.45" fill="#7357ad" stroke="#7357ad"/>
<circle cx="948.4" cy="646.0" r="3.45" fill="#000080" stroke="#000080"/>
<circle cx="776.5" cy="406.7" r="3.45" fill="#000080" stroke="#000080"/>
<circle cx="762.2" cy="543.6" r="3.45" fill="#000080" stroke="#000080"/>
<circle cx="914.3" cy="365.9" r="3.45" fill="#9f89c7" stroke="#9f89c7"/>
<circle cx="761.5" cy="592.7" r="3.45" fill="#050181" stroke="#050181"/>
<circle cx="762.8" cy="533.0" r="3.45" fill="#000080" stroke="#000080"/>
<circle cx="1050.2" cy="200.5" r="3.45" fill="#130683" stroke="#130683"/>
<circle cx="795.5" cy="405.2" r="3.45" fill="#000080" stroke="#000080"/>
<circle cx="982.4" cy="616.3" r="3.45" fill="#000080" stroke="#000080"/>
<circle cx="767.7" cy="623.2" r="3.45" fill="#361e8e" stroke="#361e8e"/>
<circle cx="763.4" cy="663.0" r="3.45" fill="#947cc0" stroke="#947cc0"/>
<circle cx="875.2" cy="703.7" r="3.45" fill="#010080" stroke="#010080"/>
<circle cx="787.5" cy="586.4" r="3.45" fill="#6d51aa" stroke="#6d51aa"/>
<circle cx="791.8" cy="480.4" r="3.45" fill="#000080" stroke="#000080"/>
<circle cx="854.6" cy="670.5" r="3.45" fill="#e9e3f2" stroke="#e9e3f2"/>
<circle cx="762.1" cy="643.5" r="3.45" fill="#51359b" stroke="#51359b"/>
<circle cx="821.0" cy="703.2" r="3.45" fill="#492e97" stroke="#492e97"/>
<circle cx="785.4" cy="605.7" r="3.45" fill="#a38dc9" stroke="#a38dc9"/>
<circle cx="890.8" cy="697.5" r="3.45" fill="#000080" stroke="#000080"/>
<circle cx="789.8" cy="561.8" r="3.45" fill="#251188" stroke="#251188"/>
<circle cx="787.6" cy="571.8" r="3.45" fill="#2a1589" stroke="#2a1589"/>
<circle cx="830.6" cy="508.2" r="3.45" fill="#846ab7" stroke="#846ab7"/>
<circle cx="763.0" cy="550.6" r="3.45" fill="#000080" stroke="#000080"/>
<circle cx="786.1" cy="448.0" r="3.45" fill="#000080" stroke="#000080"/>
<circle cx="1135.7" cy="128.1" r="3.45" fill="#351d8e" stroke="#351d8e"/>
<circle cx="785.8" cy="551.3" r="3.45" fill="#0a0381" stroke="#0a0381"/>
<circle cx="777.4" cy="578.2" r="3.45" fill="#140683" stroke="#140683"/>
<circle cx="761.7" cy="636.5" r="3.45" fill="#3d2391" stroke="#3d2391"/>
<circle cx="845.1" cy="687.0" r="3.45" fill="#331b8d" stroke="#331b8d"/>
<circle cx="864.5" cy="445.2" r="3.45" fill="#684ba7" stroke="#684ba7"/>
<circle cx="1051.8" cy="172.9" r="3.45" fill="#010080" stroke="#010080"/>
<circle cx="772.4" cy="576.2" r="3.45" fill="#060181" stroke="#060181"/>
<circle cx="764.0" cy="632.6" r="3.45" fill="#351d8e" stroke="#351d8e"/>
<circle cx="761.8" cy="578.4" r="3.45" fill="#020180" stroke="#020180"/>
<circle cx="833.8" cy="703.3" r="3.45" fill="#1b0a85" stroke="#1b0a85"/>
<circle cx="831.2" cy="684.5" r="3.45" fill="#d3c7e5" stroke="#d3c7e5"/>
<circle cx="861.3" cy="695.8" r="3.45" fill="#050181" stroke="#050181"/>
<circle cx="861.7" cy="417.6" r="3.45" fill="#1e0c86" stroke="#1e0c86"/>
<circle cx="994.2" cy="256.8" r="3.45" fill="#110582" stroke="#110582"/>
<circle cx="776.8" cy="595.7" r="3.45" fill="#351d8e" stroke="#351d8e"/>
<circle cx="822.4" cy="369.3" r="3.45" fill="#000080" stroke="#000080"/>
<circle cx="763.5" cy="658.1" r="3.45" fill="#b39fd2" stroke="#b39fd2"/>
<circle cx="760.8" cy="601.2" r="3.45" fill="#090281" stroke="#090281"/>
<circle cx="927.5" cy="353.3" r="3.45" fill="#6548a5" stroke="#6548a5"/>
<circle cx="781.5" cy="572.9" r="3.45" fill="#110583" stroke="#110583"/>
<circle cx="821.9" cy="505.9" r="3.45" fill="#2a1489" stroke="#2a1489"/>
<circle cx="867.4" cy="679.3" r="3.45" fill="#2b158a" stroke="#2b158a"/>
<circle cx="779.9" cy="615.6" r="3.45" fill="#7b5fb1" stroke="#7b5fb1"/>
<circle cx="986.9" cy="568.3" r="3.45" fill="#080281" stroke="#080281"/>
<circle cx="764.0" cy="660.2" r="3.45" fill="#c6b7dd" stroke="#c6b7dd"/>
<circle cx="773.1" cy="600.7" r="3.45" fill="#2e178b" stroke="#2e178b"/>
<circle cx="1060.8" cy="453.9" r="3.45" fill="#aa95cd" stroke="#aa95cd"/>
<circle cx="891.8" cy="372.4" r="3.45" fill="#1d0c85" stroke="#1d0c85"/>
<circle cx="761.2" cy="558.4" r="3.45" fill="#000080" stroke="#000080"/>
<circle cx="842.0" cy="689.1" r="3.45" fill="#593c9f" stroke="#593c9f"/>
<circle cx="762.0" cy="548.0" r="3.45" fill="#000080" stroke="#000080"/>
<circle cx="760.8" cy="599.9" r="3.45" fill="#090281" stroke="#090281"/>
<circle cx="820.7" cy="702.2" r="3.45" fill="#472c96" stroke="#472c96"/>
<circle cx="784.4" cy="597.1" r="3.45" fill="#674ba6" stroke="#674ba6"/>
<circle cx="974.9" cy="305.7" r="3.45" fill="#ffffff" stroke="#ffffff"/>
<circle cx="814.1" cy="520.5" r="3.45" fill="#3b2290" stroke="#3b2290"/>
<circle cx="849.8" cy="429.2" r="3.45" fill="#040181" stroke="#040181"/>
<circle cx="870.8" cy="221.0" r="3.45" fill="#000080" stroke="#000080"/>
<circle cx="837.3" cy="677.5" r="3.45" fill="#bcaad7" stroke="#bcaad7"/>
<circle cx="765.3" cy="566.8" r="3.45" fill="#020080" stroke="#020080"/>
<circle cx="772.1" cy="632.5" r="3.45" fill="#967dc1" stroke="#967dc1"/>
<circle cx="761.5" cy="649.0" r="3.45" fill="#7e63b3" stroke="#7e63b3"/>
<circle cx="983.9" cy="295.9" r="3.45" fill="#faf8fc" stroke="#faf8fc"/>
<circle cx="790.8" cy="592.6" r="3.45" fill="#ffffff" stroke="#ffffff"/>
<circle cx="769.1" cy="459.5" r="3.45" fill="#000080" stroke="#000080"/>
<circle cx="824.4" cy="519.3" r="3.45" fill="#8166b5" stroke="#8166b5"/>
<circle cx="836.8" cy="481.1" r="3.45" fill="#3b2290" stroke="#3b2290"/>
<circle cx="820.1" cy="497.8" r="3.45" fill="#251188" stroke="#251188"/>
<circle cx="781.2" cy="579.9" r="3.45" fill="#1f0d86" stroke="#1f0d86"/>
<circle cx="848.4" cy="680.5" r="3.45" fill="#8166b5" stroke="#8166b5"/>
<circle cx="836.5" cy="471.7" r="3.45" fill="#190984" stroke="#190984"/>
<circle cx="761.2" cy="581.0" r="3.45" fill="#020180" stroke="#020180"/>
<circle cx="885.5" cy="358.4" r="3.45" fill="#010080" stroke="#010080"/>
<circle cx="765.6" cy="585.5" r="3.45" fill="#050181" stroke="#050181"/>
<circle cx="763.5" cy="612.2" r="3.45" fill="#170784" stroke="#170784"/>
<circle cx="988.6" cy="243.6" r="3.45" fill="#020080" stroke="#020080"/>
<circle cx="889.7" cy="671.8" r="3.45" fill="#060281" stroke="#060281"/>
<circle cx="763.5" cy="612.2" r="3.45" fill="#170784" stroke="#170784"/>
<circle cx="764.6" cy="486.5" r="3.45" fill="#000080" stroke="#000080"/>
<circle cx="900.5" cy="627.7" r="3.45" fill="#b4a1d3" stroke="#b4a1d3"/>
<circle cx="761.4" cy="663.7" r="3.45" fill="#896fb9" stroke="#896fb9"/>
<circle cx="763.2" cy="554.5" r="3.45" fill="#000080" stroke="#000080"/>
<circle cx="804.3" cy="530.1" r="3.45" fill="#1e0c85" stroke="#1e0c85"/>
<circle cx="1094.4" cy="101.3" r="3.45" fill="#000080" stroke="#000080"/>
<circle cx="795.2" cy="572.6" r="3.45" fill="#6447a4" stroke="#6447a4"/>
<circle cx="837.6" cy="686.3" r="3.45" fill="#8e74bc" stroke="#8e74bc"/>
<circle cx="761.8" cy="615.7" r="3.45" fill="#150783" stroke="#150783"/>
<circle cx="829.1" cy="683.0" r="3.45" fill="#cbbde0" stroke="#cbbde0"/>
<circle cx="853.5" cy="704.6" r="3.45" fill="#090281" stroke="#090281"/>
<circle cx="983.0" cy="568.8" r="3.45" fill="#0f0482" stroke="#0f0482"/>
<circle cx="865.5" cy="367.0" r="3.45" fill="#000080" stroke="#000080"/>
<circle cx="939.4" cy="653.1" r="3.45" fill="#000080" stroke="#000080"/>
<circle cx="962.7" cy="672.0" r="3.45" fill="#000080" stroke="#000080"/>
<circle cx="922.0" cy="305.0" r="3.45" fill="#010080" stroke="#010080"/>
<circle cx="860.0" cy="453.9" r="3.45" fill="#422893" stroke="#422893"/>
<circle cx="978.7" cy="289.9" r="3.45" fill="#5f43a2" stroke="#5f43a2"/>
<circle cx="832.5" cy="697.5" r="3.45" fill="#2a158a" stroke="#2a158a"/>
<circle cx="880.5" cy="273.3" r="3.45" fill="#000080" stroke="#000080"/>
<circle cx="968.5" cy="308.0" r="3.45" fill="#f5f2f9" stroke="#f5f2f9"/>
<circle cx="1083.4" cy="155.7" r="3.45" fill="#030180" stroke="#030180"/>
<circle cx="847.2" cy="701.2" r="3.45" fill="#100482" stroke="#100482"/>
<circle cx="790.2" cy="590.1" r="3.45" fill="#ffffff" stroke="#ffffff"/>
<circle cx="1200.5" cy="354.6" r="3.45" fill="#080281" stroke="#080281"/>
<circle cx="1094.6" cy="104.1" r="3.45" fill="#000080" stroke="#000080"/>
<circle cx="827.1" cy="503.9" r="3.45" fill="#311a8c" stroke="#311a8c"/>
<circle cx="774.2" cy="474.4" r="3.45" fill="#000080" stroke="#000080"/>
<circle cx="1083.7" cy="178.5" r="3.45" fill="#442994" stroke="#442994"/>
<circle cx="795.6" cy="539.0" r="3.45" fill="#110583" stroke="#110583"/>
<circle cx="941.9" cy="583.8" r="3.45" fill="#9077be" stroke="#9077be"/>
<circle cx="895.1" cy="664.6" r="3.45" fill="#0b0382" stroke="#0b0382"/>
<circle cx="947.4" cy="280.1" r="3.45" fill="#010080" stroke="#010080"/>
<circle cx="762.2" cy="540.6" r="3.45" fill="#000080" stroke="#000080"/>
<circle cx="878.6" cy="680.4" r="3.45" fill="#0a0281" stroke="#0a0281"/>
<circle cx="1056.3" cy="154.0" r="3.45" fill="#000080" stroke="#000080"/>
<circle cx="849.8" cy="471.0" r="3.45" fill="#3b2290" stroke="#3b2290"/>
<circle cx="776.4" cy="619.5" r="3.45" fill="#e1d8ed" stroke="#e1d8ed"/>
<circle cx="873.8" cy="702.2" r="3.45" fill="#010080" stroke="#010080"/>
<circle cx="833.1" cy="509.3" r="3.45" fill="#ae9acf" stroke="#ae9acf"/>
<circle cx="916.2" cy="370.4" r="3.45" fill="#bdabd8" stroke="#bdabd8"/>
<circle cx="942.4" cy="602.9" r="3.45" fill="#2d178a" stroke="#2d178a"/>
<circle cx="762.9" cy="619.1" r="3.45" fill="#2b158a" stroke="#2b158a"/>
<circle cx="1063.1" cy="196.7" r="3.45" fill="#1e0c86" stroke="#1e0c86"/>
<circle cx="927.9" cy="343.7" r="3.45" fill="#5c40a0" stroke="#5c40a0"/>
<circle cx="785.8" cy="482.0" r="3.45" fill="#000080" stroke="#000080"/>
<circle cx="976.2" cy="658.6" r="3.45" fill="#000080" stroke="#000080"/>
<circle cx="772.7" cy="611.9" r="3.45" fill="#3d2391" stroke="#3d2391"/>
<circle cx="811.9" cy="544.1" r="3.45" fill="#9d85c5" stroke="#9d85c5"/>
<circle cx="1008.2" cy="270.8" r="3.45" fill="#cbbde0" stroke="#cbbde0"/>
<circle cx="788.5" cy="570.9" r="3.45" fill="#452a95" stroke="#452a95"/>
<circle cx="862.3" cy="430.1" r="3.45" fill="#2f188b" stroke="#2f188b"/>
<circle cx="798.2" cy="702.7" r="3.45" fill="#ded5ec" stroke="#ded5ec"/>
<circle cx="995.4" cy="133.2" r="3.45" fill="#000080" stroke="#000080"/>
<circle cx="1073.6" cy="169.7" r="3.45" fill="#0c0382" stroke="#0c0382"/>
<circle cx="850.0" cy="668.6" r="3.45" fill="#eee9f5" stroke="#eee9f5"/>
<circle cx="949.2" cy="316.6" r="3.45" fill="#432894" stroke="#432894"/>
<circle cx="760.5" cy="629.7" r="3.45" fill="#2e178b" stroke="#2e178b"/>
<circle cx="809.1" cy="556.9" r="3.45" fill="#d0c3e3" stroke="#d0c3e3"/>
<circle cx="795.6" cy="501.6" r="3.45" fill="#010080" stroke="#010080"/>
<circle cx="1199.8" cy="345.4" r="3.45" fill="#080281" stroke="#080281"/>
<circle cx="787.0" cy="533.9" r="3.45" fill="#020180" stroke="#020180"/>
<circle cx="760.5" cy="549.0" r="3.45" fill="#000080" stroke="#000080"/>
<circle cx="1122.1" cy="97.6" r="3.45" fill="#000080" stroke="#000080"/>
<circle cx="762.0" cy="665.7" r="3.45" fill="#a791cb" stroke="#a791cb"/>
<circle cx="913.0" cy="666.2" r="3.45" fill="#010080" stroke="#010080"/>
<circle cx="869.9" cy="656.5" r="3.45" fill="#896fba" stroke="#896fba"/>
<circle cx="839.7" cy="682.2" r="3.45" fill="#5d41a1" stroke="#5d41a1"/>
<circle cx="856.1" cy="702.0" r="3.45" fill="#060281" stroke="#060281"/>
<circle cx="1157.8" cy="361.4" r="3.45" fill="#0a0381" stroke="#0a0381"/>
<circle cx="764.0" cy="625.3" r="3.45" fill="#231087" stroke="#231087"/>
<circle cx="1042.9" cy="133.2" r="3.45" fill="#000080" stroke="#000080"/>
<circle cx="937.7" cy="640.8" r="3.45" fill="#000080" stroke="#000080"/>
<circle cx="870.6" cy="370.6" r="3.45" fill="#010080" stroke="#010080"/>
<circle cx="794.9" cy="460.0" r="3.45" fill="#000080" stroke="#000080"/>
<circle cx="992.7" cy="272.6" r="3.45" fill="#3b2290" stroke="#3b2290"/>
<circle cx="877.9" cy="673.5" r="3.45" fill="#1b0a85" stroke="#1b0a85"/>
<circle cx="781.5" cy="573.7" r="3.45" fill="#180884" stroke="#180884"/>
<circle cx="1078.0" cy="186.8" r="3.45" fill="#5e42a1" stroke="#5e42a1"/>
<circle cx="785.2" cy="558.4" r="3.45" fill="#070281" stroke="#070281"/>
<circle cx="877.2" cy="420.4" r="3.45" fill="#765aae" stroke="#765aae"/>
<circle cx="1093.3" cy="124.1" r="3.45" fill="#010080" stroke="#010080"/>
<circle cx="873.9" cy="408.0" r="3.45" fill="#190984" stroke="#190984"/>
<circle cx="763.0" cy="508.7" r="3.45" fill="#000080" stroke="#000080"/>
<circle cx="789.8" cy="384.5" r="3.45" fill="#000080" stroke="#000080"/>
<circle cx="835.6" cy="691.5" r="3.45" fill="#4e3299" stroke="#4e3299"/>
<circle cx="780.9" cy="601.6" r="3.45" fill="#4e3299" stroke="#4e3299"/>
<circle cx="901.5" cy="377.8" r="3.45" fill="#6d50a9" stroke="#6d50a9"/>
<circle cx="899.3" cy="323.2" r="3.45" fill="#000080" stroke="#000080"/>
<circle cx="781.6" cy="609.9" r="3.45" fill="#7357ad" stroke="#7357ad"/>
<circle cx="955.7" cy="326.5" r="3.45" fill="#bbaad7" stroke="#bbaad7"/>
<circle cx="762.3" cy="584.9" r="3.45" fill="#030180" stroke="#030180"/>
<circle cx="878.1" cy="419.3" r="3.45" fill="#7559ae" stroke="#7559ae"/>
<circle cx="1161.6" cy="97.3" r="3.45" fill="#220f87" stroke="#220f87"/>
<circle cx="973.2" cy="290.1" r="3.45" fill="#3a2190" stroke="#3a2190"/>
<circle cx="1027.1" cy="224.5" r="3.45" fill="#1f0d86" stroke="#1f0d86"/>
<circle cx="857.8" cy="696.5" r="3.45" fill="#0b0382" stroke="#0b0382"/>
<circle cx="861.5" cy="382.0" r="3.45" fill="#010080" stroke="#010080"/>
<circle cx="1167.1" cy="88.6" r="3.45" fill="#130683" stroke="#130683"/>
<circle cx="793.5" cy="483.3" r="3.45" fill="#000080" stroke="#000080"/>
<circle cx="761.1" cy="583.4" r="3.45" fill="#020080" stroke="#020080"/>
<circle cx="953.5" cy="626.7" r="3.45" fill="#010080" stroke="#010080"/>
<circle cx="790.4" cy="593.0" r="3.45" fill="#ded5eb" stroke="#ded5eb"/>
<circle cx="816.3" cy="468.9" r="3.45" fill="#010080" stroke="#010080"/>
<circle cx="772.4" cy="614.0" r="3.45" fill="#3c2391" stroke="#3c2391"/>
<circle cx="781.2" cy="576.4" r="3.45" fill="#1f0d86" stroke="#1f0d86"/>
<circle cx="1092.2" cy="171.3" r="3.45" fill="#2f198b" stroke="#2f198b"/>
<circle cx="783.3" cy="600.5" r="3.45" fill="#51359b" stroke="#51359b"/>
<circle cx="763.5" cy="603.9" r="3.45" fill="#110582" stroke="#110582"/>
<circle cx="1181.7" cy="102.4" r="3.45" fill="#ffffff" stroke="#ffffff"/>
<circle cx="946.3" cy="574.1" r="3.45" fill="#9a82c3" stroke="#9a82c3"/>
<circle cx="785.5" cy="525.1" r="3.45" fill="#010080" stroke="#010080"/>
<circle cx="763.5" cy="582.2" r="3.45" fill="#030180" stroke="#030180"/>
<circle cx="994.7" cy="225.6" r="3.45" fill="#000080" stroke="#000080"/>
<circle cx="769.0" cy="621.8" r="3.45" fill="#2a1589" stroke="#2a1589"/>
<circle cx="875.9" cy="267.0" r="3.45" fill="#000080" stroke="#000080"/>
<circle cx="808.6" cy="517.8" r="3.45" fill="#170884" stroke="#170884"/>
<circle cx="867.7" cy="669.0" r="3.45" fill="#361e8e" stroke="#361e8e"/>
<circle cx="909.3" cy="634.7" r="3.45" fill="#371f8f" stroke="#371f8f"/>
<circle cx="874.9" cy="704.0" r="3.45" fill="#010080" stroke="#010080"/>
<circle cx="774.8" cy="579.9" r="3.45" fill="#160784" stroke="#160784"/>
<circle cx="773.0" cy="616.0" r="3.45" fill="#5b3fa0" stroke="#5b3fa0"/>
<circle cx="807.0" cy="468.9" r="3.45" fill="#000080" stroke="#000080"/>
<circle cx="860.1" cy="701.3" r="3.45" fill="#030180" stroke="#030180"/>
<circle cx="763.6" cy="630.0" r="3.45" fill="#2d178a" stroke="#2d178a"/>
<circle cx="830.3" cy="365.5" r="3.45" fill="#000080" stroke="#000080"/>
<circle cx="902.4" cy="668.3" r="3.45" fill="#020080" stroke="#020080"/>
<circle cx="765.4" cy="595.2" r="3.45" fill="#0a0281" stroke="#0a0281"/>
<circle cx="790.6" cy="421.7" r="3.45" fill="#000080" stroke="#000080"/>
<circle cx="768.2" cy="613.2" r="3.45" fill="#371e8e" stroke="#371e8e"/>
<circle cx="1178.6" cy="96.5" r="3.45" fill="#6d51aa" stroke="#6d51aa"/>
<circle cx="934.8" cy="263.6" r="3.45" fill="#000080" stroke="#000080"/>
<circle cx="769.8" cy="606.3" r="3.45" fill="#200d86" stroke="#200d86"/>
<circle cx="918.8" cy="648.2" r="3.45" fill="#040181" stroke="#040181"/>
<circle cx="837.5" cy="497.3" r="3.45" fill="#cabce0" stroke="#cabce0"/>
<circle cx="777.9" cy="614.1" r="3.45" fill="#7458ad" stroke="#7458ad"/>
<circle cx="855.9" cy="674.3" r="3.45" fill="#4d3299" stroke="#4d3299"/>
<circle cx="761.4" cy="618.9" r="3.45" fill="#1c0b85" stroke="#1c0b85"/>
<circle cx="850.5" cy="468.4" r="3.45" fill="#593c9e" stroke="#593c9e"/>
<circle cx="829.4" cy="458.6" r="3.45" fill="#030180" stroke="#030180"/>
<circle cx="821.3" cy="460.5" r="3.45" fill="#010080" stroke="#010080"/>
<circle cx="784.6" cy="554.2" r="3.45" fill="#070281" stroke="#070281"/>
<circle cx="761.3" cy="639.7" r="3.45" fill="#6e52aa" stroke="#6e52aa"/>
<circle cx="955.2" cy="276.0" r="3.45" fill="#030180" stroke="#030180"/>
<circle cx="773.7" cy="381.5" r="3.45" fill="#000080" stroke="#000080"/>
<circle cx="783.1" cy="551.0" r="3.45" fill="#060281" stroke="#060281"/>
<circle cx="851.4" cy="702.5" r="3.45" fill="#070281" stroke="#070281"/>
<circle cx="895.9" cy="633.9" r="3.45" fill="#5c3fa0" stroke="#5c3fa0"/>
<circle cx="897.8" cy="650.7" r="3.45" fill="#200e86" stroke="#200e86"/>
<circle cx="901.1" cy="627.0" r="3.45" fill="#b7a5d5" stroke="#b7a5d5"/>
<circle cx="762.7" cy="652.6" r="3.45" fill="#664aa6" stroke="#664aa6"/>
<circle cx="791.4" cy="566.3" r="3.45" fill="#371e8e" stroke="#371e8e"/>
<circle cx="815.1" cy="551.3" r="3.45" fill="#c7b8de" stroke="#c7b8de"/>
<circle cx="1089.8" cy="175.8" r="3.45" fill="#573a9d" stroke="#573a9d"/>
<circle cx="764.1" cy="623.3" r="3.45" fill="#180884" stroke="#180884"/>
<circle cx="771.4" cy="608.3" r="3.45" fill="#51359b" stroke="#51359b"/>
<circle cx="1069.5" cy="212.4" r="3.45" fill="#d9cee8" stroke="#d9cee8"/>
<circle cx="970.8" cy="551.1" r="3.45" fill="#fdfdfe" stroke="#fdfdfe"/>
<circle cx="875.2" cy="664.1" r="3.45" fill="#3b2290" stroke="#3b2290"/>
<circle cx="789.7" cy="525.9" r="3.45" fill="#020180" stroke="#020180"/>
<circle cx="763.7" cy="574.8" r="3.45" fill="#010080" stroke="#010080"/>
<circle cx="981.7" cy="211.2" r="3.45" fill="#000080" stroke="#000080"/>
<circle cx="785.8" cy="585.0" r="3.45" fill="#4a2e97" stroke="#4a2e97"/>
<circle cx="783.5" cy="571.9" r="3.45" fill="#1a0a85" stroke="#1a0a85"/>
<circle cx="1054.8" cy="171.6" r="3.45" fill="#020180" stroke="#020180"/>
<circle cx="849.6" cy="484.9" r="3.45" fill="#bbaad7" stroke="#bbaad7"/>
<circle cx="823.5" cy="334.6" r="3.45" fill="#000080" stroke="#000080"/>
<circle cx="860.9" cy="702.7" r="3.45" fill="#030180" stroke="#030180"/>
<circle cx="887.7" cy="645.8" r="3.45" fill="#8065b4" stroke="#8065b4"/>
<circle cx="833.2" cy="489.0" r="3.45" fill="#361e8e" stroke="#361e8e"/>
<circle cx="793.6" cy="576.6" r="3.45" fill="#6246a4" stroke="#6246a4"/>
<circle cx="800.1" cy="561.1" r="3.45" fill="#6549a5" stroke="#6549a5"/>
<circle cx="1055.0" cy="157.6" r="3.45" fill="#000080" stroke="#000080"/>
<circle cx="873.4" cy="699.0" r="3.45" fill="#010080" stroke="#010080"/>
<circle cx="853.3" cy="682.1" r="3.45" fill="#492d96" stroke="#492d96"/>
<circle cx="787.5" cy="567.8" r="3.45" fill="#180884" stroke="#180884"/>
<circle cx="840.0" cy="703.5" r="3.45" fill="#140683" stroke="#140683"/>
<circle cx="760.5" cy="548.8" r="3.45" fill="#000080" stroke="#000080"/>
<circle cx="790.6" cy="533.6" r="3.45" fill="#040181" stroke="#040181"/>
<circle cx="787.1" cy="594.2" r="3.45" fill="#795db0" stroke="#795db0"/>
<circle cx="762.4" cy="597.5" r="3.45" fill="#060181" stroke="#060181"/>
<circle cx="799.3" cy="562.3" r="3.45" fill="#39208f" stroke="#39208f"/>
<circle cx="785.0" cy="603.1" r="3.45" fill="#9f88c7" stroke="#9f88c7"/>
<circle cx="1047.1" cy="191.7" r="3.45" fill="#050181" stroke="#050181"/>
<circle cx="896.4" cy="632.1" r="3.45" fill="#cdbfe1" stroke="#cdbfe1"/>
<circle cx="763.5" cy="635.4" r="3.45" fill="#3e2592" stroke="#3e2592"/>
<circle cx="780.4" cy="609.2" r="3.45" fill="#896eb9" stroke="#896eb9"/>
<circle cx="1119.6" cy="119.8" r="3.45" fill="#050181" stroke="#050181"/>
<circle cx="851.3" cy="703.8" r="3.45" fill="#090281" stroke="#090281"/>
<circle cx="793.2" cy="574.6" r="3.45" fill="#5d41a1" stroke="#5d41a1"/>
<circle cx="792.5" cy="491.0" r="3.45" fill="#000080" stroke="#000080"/>
<circle cx="768.4" cy="636.7" r="3.45" fill="#6144a3" stroke="#6144a3"/>
<circle cx="921.9" cy="689.9" r="3.45" fill="#000080" stroke="#000080"/>
<circle cx="1098.5" cy="133.7" r="3.45" fill="#020180" stroke="#020180"/>
<circle cx="807.1" cy="555.8" r="3.45" fill="#c3b3db" stroke="#c3b3db"/>
<circle cx="773.4" cy="522.7" r="3.45" fill="#000080" stroke="#000080"/>
<circle cx="1111.3" cy="139.9" r="3.45" fill="#251188" stroke="#251188"/>
<circle cx="1084.7" cy="180.6" r="3.45" fill="#5f42a2" stroke="#5f42a2"/>
<circle cx="762.4" cy="642.1" r="3.45" fill="#573b9e" stroke="#573b9e"/>
<circle cx="785.9" cy="596.9" r="3.45" fill="#7f64b4" stroke="#7f64b4"/>
<circle cx="762.9" cy="646.2" r="3.45" fill="#472c96" stroke="#472c96"/>
<circle cx="1125.4" cy="145.0" r="3.45" fill="#6043a2" stroke="#6043a2"/>
<circle cx="763.5" cy="612.2" r="3.45" fill="#170784" stroke="#170784"/>
<circle cx="792.0" cy="514.0" r="3.45" fill="#010080" stroke="#010080"/>
<circle cx="760.5" cy="620.9" r="3.45" fill="#2a1489" stroke="#2a1489"/>
<circle cx="762.4" cy="665.3" r="3.45" fill="#b8a6d5" stroke="#b8a6d5"/>
<circle cx="937.4" cy="322.5" r="3.45" fill="#2f198b" stroke="#2f198b"/>
<circle cx="984.5" cy="274.7" r="3.45" fill="#291489" stroke="#291489"/>
<circle cx="778.3" cy="557.0" r="3.45" fill="#030180" stroke="#030180"/>
<circle cx="763.5" cy="635.4" r="3.45" fill="#3e2592" stroke="#3e2592"/>
<circle cx="788.3" cy="583.3" r="3.45" fill="#442994" stroke="#442994"/>
<circle cx="1043.8" cy="493.9" r="3.45" fill="#7559ae" stroke="#7559ae"/>
<circle cx="984.9" cy="545.1" r="3.45" fill="#6a4da8" stroke="#6a4da8"/>
<circle cx="907.5" cy="663.0" r="3.45" fill="#040181" stroke="#040181"/>
<circle cx="835.0" cy="461.4" r="3.45" fill="#0a0381" stroke="#0a0381"/>
<circle cx="816.9" cy="386.8" r="3.45" fill="#000080" stroke="#000080"/>
<circle cx="1191.0" cy="264.8" r="3.45" fill="#aa95cd" stroke="#aa95cd"/>
<circle cx="875.1" cy="356.0" r="3.45" fill="#000080" stroke="#000080"/>
<circle cx="861.6" cy="670.5" r="3.45" fill="#8e75bc" stroke="#8e75bc"/>
<circle cx="761.2" cy="632.8" r="3.45" fill="#4a2f97" stroke="#4a2f97"/>
<circle cx="788.3" cy="556.6" r="3.45" fill="#110582" stroke="#110582"/>
<circle cx="868.3" cy="695.9" r="3.45" fill="#050181" stroke="#050181"/>
<circle cx="827.8" cy="687.2" r="3.45" fill="#b8a6d5" stroke="#b8a6d5"/>
<circle cx="1047.3" cy="207.6" r="3.45" fill="#230f87" stroke="#230f87"/>
<circle cx="763.5" cy="627.4" r="3.45" fill="#2c168a" stroke="#2c168a"/>
<circle cx="763.0" cy="611.7" r="3.45" fill="#100482" stroke="#100482"/>
<circle cx="773.4" cy="642.3" r="3.45" fill="#c7b8de" stroke="#c7b8de"/>
<circle cx="961.7" cy="279.3" r="3.45" fill="#070281" stroke="#070281"/>
<circle cx="844.4" cy="491.9" r="3.45" fill="#a28bc8" stroke="#a28bc8"/>
<circle cx="823.8" cy="499.5" r="3.45" fill="#271288" stroke="#271288"/>
<circle cx="954.4" cy="567.0" r="3.45" fill="#a28cc8" stroke="#a28cc8"/>
<circle cx="761.7" cy="608.3" r="3.45" fill="#0d0382" stroke="#0d0382"/>
<circle cx="763.8" cy="663.2" r="3.45" fill="#cbbde0" stroke="#cbbde0"/>
<circle cx="857.3" cy="683.8" r="3.45" fill="#220f87" stroke="#220f87"/>
<circle cx="913.9" cy="318.3" r="3.45" fill="#030180" stroke="#030180"/>
<circle cx="760.7" cy="639.9" r="3.45" fill="#371f8f" stroke="#371f8f"/>
<circle cx="781.4" cy="489.4" r="3.45" fill="#000080" stroke="#000080"/>
<circle cx="1183.5" cy="93.7" r="3.45" fill="#856ab7" stroke="#856ab7"/>
<circle cx="761.5" cy="620.7" r="3.45" fill="#210e86" stroke="#210e86"/>
<circle cx="836.1" cy="687.3" r="3.45" fill="#b8a6d5" stroke="#b8a6d5"/>
<circle cx="839.6" cy="680.9" r="3.45" fill="#ffffff" stroke="#ffffff"/>
<circle cx="901.7" cy="364.1" r="3.45" fill="#1f0c86" stroke="#1f0c86"/>
<circle cx="896.6" cy="396.4" r="3.45" fill="#ffffff" stroke="#ffffff"/>
<circle cx="809.6" cy="450.0" r="3.45" fill="#000080" stroke="#000080"/>
<circle cx="761.5" cy="586.4" r="3.45" fill="#010080" stroke="#010080"/>
<circle cx="763.2" cy="557.7" r="3.45" fill="#000080" stroke="#000080"/>
<circle cx="763.4" cy="650.3" r="3.45" fill="#8368b6" stroke="#8368b6"/>
<circle cx="999.6" cy="264.2" r="3.45" fill="#261188" stroke="#261188"/>
<circle cx="892.0" cy="441.0" r="3.45" fill="#ffffff" stroke="#ffffff"/>
<circle cx="761.5" cy="362.3" r="3.45" fill="#000080" stroke="#000080"/>
<circle cx="978.0" cy="108.0" r="3.45" fill="#000080" stroke="#000080"/>
<circle cx="1008.2" cy="258.0" r="3.45" fill="#3e2592" stroke="#3e2592"/>
<circle cx="1062.8" cy="211.9" r="3.45" fill="#8368b6" stroke="#8368b6"/>
<circle cx="894.6" cy="270.2" r="3.45" fill="#000080" stroke="#000080"/>
<circle cx="1061.9" cy="173.9" r="3.45" fill="#080281" stroke="#080281"/>
<circle cx="1028.2" cy="218.5" r="3.45" fill="#0c0382" stroke="#0c0382"/>
<circle cx="1124.6" cy="152.1" r="3.45" fill="#967dc1" stroke="#967dc1"/>
<circle cx="807.8" cy="513.5" r="3.45" fill="#0c0382" stroke="#0c0382"/>
<circle cx="923.1" cy="365.6" r="3.45" fill="#c5b5dc" stroke="#c5b5dc"/>
<circle cx="762.4" cy="618.2" r="3.45" fill="#130683" stroke="#130683"/>
<circle cx="762.3" cy="574.4" r="3.45" fill="#010080" stroke="#010080"/>
<circle cx="763.5" cy="629.1" r="3.45" fill="#321b8d" stroke="#321b8d"/>
<circle cx="1130.2" cy="393.2" r="3.45" fill="#0a0381" stroke="#0a0381"/>
<circle cx="960.8" cy="629.7" r="3.45" fill="#000080" stroke="#000080"/>
<circle cx="763.3" cy="583.8" r="3.45" fill="#030180" stroke="#030180"/>
<circle cx="883.6" cy="385.8" r="3.45" fill="#130683" stroke="#130683"/>
<circle cx="807.8" cy="547.1" r="3.45" fill="#5a3e9f" stroke="#5a3e9f"/>
<circle cx="760.6" cy="637.2" r="3.45" fill="#2b158a" stroke="#2b158a"/>
<circle cx="1027.3" cy="236.1" r="3.45" fill="#1d0b85" stroke="#1d0b85"/>
<circle cx="763.7" cy="530.2" r="3.45" fill="#000080" stroke="#000080"/>
<circle cx="898.4" cy="691.4" r="3.45" fill="#000080" stroke="#000080"/>
<circle cx="804.1" cy="494.4" r="3.45" fill="#020080" stroke="#020080"/>
<circle cx="1038.4" cy="199.7" r="3.45" fill="#060281" stroke="#060281"/>
<circle cx="952.5" cy="233.5" r="3.45" fill="#000080" stroke="#000080"/>
<circle cx="1076.5" cy="175.0" r="3.45" fill="#110583" stroke="#110583"/>
<circle cx="783.8" cy="603.8" r="3.45" fill="#a892cb" stroke="#a892cb"/>
<circle cx="767.1" cy="639.9" r="3.45" fill="#785cb0" stroke="#785cb0"/>
<circle cx="810.4" cy="529.1" r="3.45" fill="#30198c" stroke="#30198c"/>
<circle cx="763.8" cy="559.6" r="3.45" fill="#000080" stroke="#000080"/>
<circle cx="823.3" cy="703.7" r="3.45" fill="#2f188b" stroke="#2f188b"/>
<circle cx="886.4" cy="683.1" r="3.45" fill="#020080" stroke="#020080"/>
<circle cx="920.6" cy="353.4" r="3.45" fill="#3a2190" stroke="#3a2190"/>
<circle cx="760.5" cy="564.9" r="3.45" fill="#000080" stroke="#000080"/>
<circle cx="827.1" cy="514.4" r="3.45" fill="#6649a5" stroke="#6649a5"/>
<circle cx="1015.7" cy="264.3" r="3.45" fill="#e5ddef" stroke="#e5ddef"/>
<circle cx="778.0" cy="528.0" r="3.45" fill="#000080" stroke="#000080"/>
<circle cx="1058.3" cy="217.1" r="3.45" fill="#8368b6" stroke="#8368b6"/>
<circle cx="904.8" cy="358.1" r="3.45" fill="#1c0b85" stroke="#1c0b85"/>
<circle cx="919.5" cy="610.8" r="3.45" fill="#8d73bc" stroke="#8d73bc"/>
<circle cx="886.5" cy="638.0" r="3.45" fill="#8d73bc" stroke="#8d73bc"/>
<circle cx="1177.9" cy="96.4" r="3.45" fill="#4d3198" stroke="#4d3198"/>
<circle cx="796.4" cy="501.9" r="3.45" fill="#010080" stroke="#010080"/>
<circle cx="761.8" cy="609.0" r="3.45" fill="#0e0482" stroke="#0e0482"/>
<circle cx="790.4" cy="490.2" r="3.45" fill="#000080" stroke="#000080"/>
<circle cx="785.3" cy="475.2" r="3.45" fill="#000080" stroke="#000080"/>
<circle cx="865.2" cy="403.7" r="3.45" fill="#0a0381" stroke="#0a0381"/>
<circle cx="827.4" cy="687.5" r="3.45" fill="#7f64b4" stroke="#7f64b4"/>
<circle cx="761.3" cy="630.7" r="3.45" fill="#371e8e" stroke="#371e8e"/>
<circle cx="1177.4" cy="94.3" r="3.45" fill="#51359b" stroke="#51359b"/>
<circle cx="955.1" cy="158.5" r="3.45" fill="#000080" stroke="#000080"/>
<circle cx="872.1" cy="702.6" r="3.45" fill="#010080" stroke="#010080"/>
<circle cx="763.5" cy="650.6" r="3.45" fill="#7b60b1" stroke="#7b60b1"/>
<circle cx="765.3" cy="550.9" r="3.45" fill="#000080" stroke="#000080"/>
<circle cx="760.8" cy="596.3" r="3.45" fill="#090281" stroke="#090281"/>
<circle cx="789.6" cy="569.8" r="3.45" fill="#1d0b85" stroke="#1d0b85"/>
<circle cx="762.4" cy="659.0" r="3.45" fill="#947bc0" stroke="#947bc0"/>
<circle cx="910.8" cy="616.0" r="3.45" fill="#e4dcef" stroke="#e4dcef"/>
<circle cx="781.6" cy="581.3" r="3.45" fill="#331b8d" stroke="#331b8d"/>
<circle cx="1044.4" cy="215.6" r="3.45" fill="#281389" stroke="#281389"/>
<circle cx="1044.3" cy="213.8" r="3.45" fill="#291489" stroke="#291489"/>
<circle cx="885.3" cy="364.4" r="3.45" fill="#040181" stroke="#040181"/>
<circle cx="960.8" cy="224.8" r="3.45" fill="#000080" stroke="#000080"/>
<circle cx="806.3" cy="464.4" r="3.45" fill="#000080" stroke="#000080"/>
<circle cx="826.5" cy="392.2" r="3.45" fill="#000080" stroke="#000080"/>
<circle cx="881.2" cy="699.4" r="3.45" fill="#010080" stroke="#010080"/>
<circle cx="763.0" cy="607.8" r="3.45" fill="#0e0482" stroke="#0e0482"/>
<circle cx="762.5" cy="657.1" r="3.45" fill="#c6b7dd" stroke="#c6b7dd"/>
<circle cx="794.9" cy="355.0" r="3.45" fill="#000080" stroke="#000080"/>
<circle cx="1154.8" cy="119.7" r="3.45" fill="#6448a5" stroke="#6448a5"/>
<circle cx="1067.2" cy="484.4" r="3.45" fill="#0a0381" stroke="#0a0381"/>
<circle cx="772.3" cy="599.3" r="3.45" fill="#2f188b" stroke="#2f188b"/>
<circle cx="918.1" cy="681.9" r="3.45" fill="#000080" stroke="#000080"/>
<circle cx="834.7" cy="389.1" r="3.45" fill="#000080" stroke="#000080"/>
<circle cx="891.3" cy="324.5" r="3.45" fill="#000080" stroke="#000080"/>
<circle cx="839.9" cy="285.4" r="3.45" fill="#000080" stroke="#000080"/>
<circle cx="798.7" cy="486.9" r="3.45" fill="#000080" stroke="#000080"/>
<circle cx="1034.3" cy="241.3" r="3.45" fill="#8f75bd" stroke="#8f75bd"/>
<circle cx="765.2" cy="648.9" r="3.45" fill="#ad99cf" stroke="#ad99cf"/>
<circle cx="1095.6" cy="175.5" r="3.45" fill="#cdbfe1" stroke="#cdbfe1"/>
<circle cx="780.2" cy="549.8" r="3.45" fill="#010080" stroke="#010080"/>
<circle cx="799.7" cy="508.1" r="3.45" fill="#010080" stroke="#010080"/>
<circle cx="918.3" cy="611.3" r="3.45" fill="#9076bd" stroke="#9076bd"/>
<circle cx="775.8" cy="530.4" r="3.45" fill="#000080" stroke="#000080"/>
<circle cx="780.1" cy="589.7" r="3.45" fill="#281389" stroke="#281389"/>
<circle cx="764.2" cy="613.0" r="3.45" fill="#140683" stroke="#140683"/>
<circle cx="761.3" cy="647.5" r="3.45" fill="#4a2f97" stroke="#4a2f97"/>
<circle cx="760.5" cy="541.9" r="3.45" fill="#000080" stroke="#000080"/>
<circle cx="777.1" cy="619.4" r="3.45" fill="#7a5eb1" stroke="#7a5eb1"/>
<circle cx="849.0" cy="697.0" r="3.45" fill="#311a8c" stroke="#311a8c"/>
<circle cx="796.7" cy="562.6" r="3.45" fill="#5a3e9f" stroke="#5a3e9f"/>
<circle cx="825.6" cy="498.0" r="3.45" fill="#200e86" stroke="#200e86"/>
<circle cx="760.6" cy="640.5" r="3.45" fill="#3c2290" stroke="#3c2290"/>
<circle cx="854.1" cy="422.7" r="3.45" fill="#080281" stroke="#080281"/>
<circle cx="782.8" cy="415.1" r="3.45" fill="#000080" stroke="#000080"/>
<circle cx="779.0" cy="531.3" r="3.45" fill="#010080" stroke="#010080"/>
<circle cx="965.8" cy="585.3" r="3.45" fill="#100482" stroke="#100482"/>
<circle cx="935.6" cy="701.3" r="3.45" fill="#000080" stroke="#000080"/>
<circle cx="801.4" cy="536.5" r="3.45" fill="#1b0a85" stroke="#1b0a85"/>
<circle cx="851.0" cy="684.0" r="3.45" fill="#422793" stroke="#422793"/>
<circle cx="899.2" cy="647.2" r="3.45" fill="#321a8c" stroke="#321a8c"/>
<circle cx="814.1" cy="697.5" r="3.45" fill="#7d62b3" stroke="#7d62b3"/>
<circle cx="762.0" cy="628.2" r="3.45" fill="#341c8d" stroke="#341c8d"/>
<circle cx="1175.5" cy="95.0" r="3.45" fill="#2e178b" stroke="#2e178b"/>
<circle cx="805.8" cy="504.7" r="3.45" fill="#040181" stroke="#040181"/>
<circle cx="980.5" cy="274.4" r="3.45" fill="#261188" stroke="#261188"/>
<circle cx="762.2" cy="576.5" r="3.45" fill="#010080" stroke="#010080"/>
<circle cx="1109.4" cy="148.9" r="3.45" fill="#371f8f" stroke="#371f8f"/>
<circle cx="772.0" cy="583.7" r="3.45" fill="#130683" stroke="#130683"/>
<circle cx="891.2" cy="395.0" r="3.45" fill="#452a95" stroke="#452a95"/>
<circle cx="763.5" cy="658.1" r="3.45" fill="#b39fd2" stroke="#b39fd2"/>
<circle cx="945.5" cy="259.6" r="3.45" fill="#000080" stroke="#000080"/>
<circle cx="820.2" cy="469.2" r="3.45" fill="#010080" stroke="#010080"/>
<circle cx="845.8" cy="408.8" r="3.45" fill="#010080" stroke="#010080"/>
<circle cx="963.7" cy="244.9" r="3.45" fill="#000080" stroke="#000080"/>
<circle cx="887.6" cy="660.3" r="3.45" fill="#271288" stroke="#271288"/>
<circle cx="763.6" cy="511.9" r="3.45" fill="#000080" stroke="#000080"/>
<circle cx="763.3" cy="595.6" r="3.45" fill="#050181" stroke="#050181"/>
<circle cx="859.7" cy="694.9" r="3.45" fill="#090281" stroke="#090281"/>
<circle cx="862.5" cy="447.4" r="3.45" fill="#9279bf" stroke="#9279bf"/>
<circle cx="1034.2" cy="203.5" r="3.45" fill="#050181" stroke="#050181"/>
<circle cx="781.2" cy="602.2" r="3.45" fill="#6649a6" stroke="#6649a6"/>
<circle cx="763.4" cy="654.7" r="3.45" fill="#977fc2" stroke="#977fc2"/>
<circle cx="843.8" cy="278.2" r="3.45" fill="#000080" stroke="#000080"/>
<circle cx="837.6" cy="424.3" r="3.45" fill="#010080" stroke="#010080"/>
<circle cx="858.4" cy="704.6" r="3.45" fill="#030180" stroke="#030180"/>
<circle cx="802.1" cy="318.7" r="3.45" fill="#000080" stroke="#000080"/>
<circle cx="763.8" cy="573.3" r="3.45" fill="#010080" stroke="#010080"/>
<circle cx="1068.1" cy="195.0" r="3.45" fill="#3d2491" stroke="#3d2491"/>
<circle cx="774.1" cy="566.4" r="3.45" fill="#050181" stroke="#050181"/>
<circle cx="763.2" cy="666.3" r="3.45" fill="#ffffff" stroke="#ffffff"/>
<circle cx="1019.3" cy="226.4" r="3.45" fill="#070281" stroke="#070281"/>
<circle cx="966.3" cy="669.7" r="3.45" fill="#000080" stroke="#000080"/>
<circle cx="1192.0" cy="278.5" r="3.45" fill="#7559ae" stroke="#7559ae"/>
<circle cx="771.8" cy="577.1" r="3.45" fill="#050181" stroke="#050181"/>
<circle cx="858.5" cy="345.2" r="3.45" fill="#000080" stroke="#000080"/>
<circle cx="825.2" cy="529.3" r="3.45" fill="#ffffff" stroke="#ffffff"/>
<circle cx="801.2" cy="480.8" r="3.45" fill="#000080" stroke="#000080"/>
<circle cx="763.0" cy="611.4" r="3.45" fill="#120583" stroke="#120583"/>
<circle cx="774.1" cy="626.6" r="3.45" fill="#cabce0" stroke="#cabce0"/>
<circle cx="815.5" cy="705.3" r="3.45" fill="#54389c" stroke="#54389c"/>
<circle cx="847.9" cy="700.1" r="3.45" fill="#070281" stroke="#070281"/>
<circle cx="811.9" cy="550.7" r="3.45" fill="#f5f2f9" stroke="#f5f2f9"/>
<circle cx="786.9" cy="489.1" r="3.45" fill="#000080" stroke="#000080"/>
<circle cx="773.3" cy="632.5" r="3.45" fill="#a38cc8" stroke="#a38cc8"/>
<circle cx="835.5" cy="704.5" r="3.45" fill="#180884" stroke="#180884"/>
<circle cx="763.5" cy="641.4" r="3.45" fill="#5a3d9f" stroke="#5a3d9f"/>
<circle cx="763.6" cy="627.1" r="3.45" fill="#31198c" stroke="#31198c"/>
<circle cx="826.2" cy="701.5" r="3.45" fill="#2f188b" stroke="#2f188b"/>
<circle cx="874.0" cy="702.8" r="3.45" fill="#010080" stroke="#010080"/>
<circle cx="1003.0" cy="186.4" r="3.45" fill="#000080" stroke="#000080"/>
<circle cx="763.7" cy="664.1" r="3.45" fill="#e8e1f1" stroke="#e8e1f1"/>
<circle cx="877.7" cy="681.9" r="3.45" fill="#080281" stroke="#080281"/>
<circle cx="1001.2" cy="179.6" r="3.45" fill="#000080" stroke="#000080"/>
<circle cx="770.9" cy="640.2" r="3.45" fill="#e3dbef" stroke="#e3dbef"/>
<circle cx="784.1" cy="521.2" r="3.45" fill="#000080" stroke="#000080"/>
<circle cx="809.8" cy="534.2" r="3.45" fill="#341c8d" stroke="#341c8d"/>
<circle cx="944.6" cy="324.3" r="3.45" fill="#5c3fa0" stroke="#5c3fa0"/>
<circle cx="989.7" cy="138.7" r="3.45" fill="#000080" stroke="#000080"/>
<circle cx="763.7" cy="661.7" r="3.45" fill="#ac97ce" stroke="#ac97ce"/>
<circle cx="778.2" cy="567.0" r="3.45" fill="#110582" stroke="#110582"/>
<circle cx="882.4" cy="692.1" r="3.45" fill="#010080" stroke="#010080"/>
<circle cx="938.1" cy="645.5" r="3.45" fill="#000080" stroke="#000080"/>
<circle cx="1075.5" cy="195.2" r="3.45" fill="#7c61b2" stroke="#7c61b2"/>
<circle cx="836.6" cy="680.4" r="3.45" fill="#ffffff" stroke="#ffffff"/>
<circle cx="765.3" cy="661.7" r="3.45" fill="#cec1e2" stroke="#cec1e2"/>
<circle cx="1036.1" cy="550.1" r="3.45" fill="#080281" stroke="#080281"/>
<circle cx="1116.4" cy="151.8" r="3.45" fill="#432994" stroke="#432994"/>
<circle cx="760.5" cy="660.8" r="3.45" fill="#8f76bd" stroke="#8f76bd"/>
<circle cx="803.5" cy="560.7" r="3.45" fill="#ad99cf" stroke="#ad99cf"/>
<circle cx="817.7" cy="534.3" r="3.45" fill="#a28bc8" stroke="#a28bc8"/>
<circle cx="1103.1" cy="169.6" r="3.45" fill="#c2b2db" stroke="#c2b2db"/>
<circle cx="778.0" cy="489.0" r="3.45" fill="#000080" stroke="#000080"/>
<circle cx="762.4" cy="558.8" r="3.45" fill="#000080" stroke="#000080"/>
<circle cx="850.1" cy="697.7" r="3.45" fill="#180884" stroke="#180884"/>
<circle cx="760.5" cy="598.2" r="3.45" fill="#080281" stroke="#080281"/>
<circle cx="1215.3" cy="436.3" r="3.45" fill="#040181" stroke="#040181"/>
<circle cx="779.0" cy="531.5" r="3.45" fill="#000080" stroke="#000080"/>
<circle cx="890.3" cy="398.3" r="3.45" fill="#6144a3" stroke="#6144a3"/>
<circle cx="761.9" cy="610.9" r="3.45" fill="#0e0482" stroke="#0e0482"/>
<circle cx="782.4" cy="558.5" r="3.45" fill="#060281" stroke="#060281"/>
<circle cx="826.5" cy="684.7" r="3.45" fill="#efeaf5" stroke="#efeaf5"/>
<circle cx="761.2" cy="626.6" r="3.45" fill="#2a1489" stroke="#2a1489"/>
<circle cx="926.2" cy="665.0" r="3.45" fill="#000080" stroke="#000080"/>
<circle cx="761.3" cy="611.8" r="3.45" fill="#0d0482" stroke="#0d0482"/>
<circle cx="936.2" cy="324.2" r="3.45" fill="#2c168a" stroke="#2c168a"/>
<circle cx="784.2" cy="422.2" r="3.45" fill="#000080" stroke="#000080"/>
<circle cx="762.1" cy="497.5" r="3.45" fill="#000080" stroke="#000080"/>
<circle cx="763.7" cy="597.1" r="3.45" fill="#070281" stroke="#070281"/>
<circle cx="839.4" cy="491.4" r="3.45" fill="#7c61b2" stroke="#7c61b2"/>
<circle cx="765.2" cy="651.7" r="3.45" fill="#8469b6" stroke="#8469b6"/>
<circle cx="903.4" cy="363.7" r="3.45" fill="#1a0985" stroke="#1a0985"/>
<circle cx="980.4" cy="550.3" r="3.45" fill="#52369b" stroke="#52369b"/>
<circle cx="1019.1" cy="245.9" r="3.45" fill="#281389" stroke="#281389"/>
<circle cx="1178.4" cy="95.4" r="3.45" fill="#967dc1" stroke="#967dc1"/>
<circle cx="785.3" cy="590.0" r="3.45" fill="#6c50a9" stroke="#6c50a9"/>
<circle cx="766.0" cy="647.0" r="3.45" fill="#c8badf" stroke="#c8badf"/>
<circle cx="841.4" cy="696.7" r="3.45" fill="#210e86" stroke="#210e86"/>
<circle cx="804.0" cy="568.6" r="3.45" fill="#f3eff8" stroke="#f3eff8"/>
<circle cx="762.1" cy="660.2" r="3.45" fill="#896fba" stroke="#896fba"/>
<circle cx="821.3" cy="703.3" r="3.45" fill="#381f8f" stroke="#381f8f"/>
<circle cx="1171.5" cy="330.0" r="3.45" fill="#0a0381" stroke="#0a0381"/>
<circle cx="782.9" cy="610.5" r="3.45" fill="#ffffff" stroke="#ffffff"/>
<circle cx="763.9" cy="583.7" r="3.45" fill="#020080" stroke="#020080"/>
<circle cx="845.9" cy="706.1" r="3.45" fill="#0d0482" stroke="#0d0482"/>
<circle cx="870.5" cy="685.5" r="3.45" fill="#090281" stroke="#090281"/>
<circle cx="780.1" cy="493.6" r="3.45" fill="#000080" stroke="#000080"/>
<circle cx="802.3" cy="448.3" r="3.45" fill="#000080" stroke="#000080"/>
<circle cx="802.3" cy="540.9" r="3.45" fill="#291489" stroke="#291489"/>
<circle cx="797.7" cy="564.2" r="3.45" fill="#7a5eb1" stroke="#7a5eb1"/>
<circle cx="797.6" cy="432.0" r="3.45" fill="#000080" stroke="#000080"/>
<circle cx="839.5" cy="391.8" r="3.45" fill="#000080" stroke="#000080"/>
<circle cx="774.3" cy="570.2" r="3.45" fill="#070281" stroke="#070281"/>
<circle cx="882.5" cy="393.3" r="3.45" fill="#230f87" stroke="#230f87"/>
<circle cx="789.9" cy="551.5" r="3.45" fill="#170784" stroke="#170784"/>
<circle cx="815.7" cy="702.0" r="3.45" fill="#472c96" stroke="#472c96"/>
<circle cx="911.4" cy="632.7" r="3.45" fill="#2a1589" stroke="#2a1589"/>
<circle cx="836.2" cy="701.9" r="3.45" fill="#180884" stroke="#180884"/>
<circle cx="1158.1" cy="87.3" r="3.45" fill="#060281" stroke="#060281"/>
<circle cx="768.0" cy="468.0" r="3.45" fill="#000080" stroke="#000080"/>
<circle cx="796.7" cy="535.7" r="3.45" fill="#0f0482" stroke="#0f0482"/>
<circle cx="763.5" cy="560.6" r="3.45" fill="#000080" stroke="#000080"/>
<circle cx="761.3" cy="593.6" r="3.45" fill="#060181" stroke="#060181"/>
<circle cx="788.5" cy="558.4" r="3.45" fill="#190984" stroke="#190984"/>
<circle cx="763.0" cy="644.0" r="3.45" fill="#492e96" stroke="#492e96"/>
<circle cx="841.4" cy="684.2" r="3.45" fill="#7155ac" stroke="#7155ac"/>
<circle cx="762.5" cy="563.4" r="3.45" fill="#000080" stroke="#000080"/>
<circle cx="844.4" cy="702.4" r="3.45" fill="#0a0381" stroke="#0a0381"/>
<circle cx="876.0" cy="669.3" r="3.45" fill="#321a8c" stroke="#321a8c"/>
<circle cx="1174.1" cy="86.3" r="3.45" fill="#170884" stroke="#170884"/>
<circle cx="820.4" cy="342.8" r="3.45" fill="#000080" stroke="#000080"/>
<circle cx="763.7" cy="610.3" r="3.45" fill="#1a0a85" stroke="#1a0a85"/>
<circle cx="804.2" cy="556.9" r="3.45" fill="#9279bf" stroke="#9279bf"/>
<circle cx="846.1" cy="429.7" r="3.45" fill="#040181" stroke="#040181"/>
<circle cx="987.2" cy="619.2" r="3.45" fill="#000080" stroke="#000080"/>
<circle cx="773.6" cy="539.4" r="3.45" fill="#000080" stroke="#000080"/>
<circle cx="762.5" cy="644.8" r="3.45" fill="#957dc1" stroke="#957dc1"/>
<circle cx="977.7" cy="255.6" r="3.45" fill="#030180" stroke="#030180"/>
<circle cx="790.0" cy="454.1" r="3.45" fill="#000080" stroke="#000080"/>
<circle cx="1119.9" cy="134.0" r="3.45" fill="#190984" stroke="#190984"/>
<circle cx="830.3" cy="687.0" r="3.45" fill="#957cc0" stroke="#957cc0"/>
<circle cx="760.5" cy="541.8" r="3.45" fill="#000080" stroke="#000080"/>
<circle cx="1162.3" cy="88.7" r="3.45" fill="#0e0482" stroke="#0e0482"/>
<circle cx="762.2" cy="617.7" r="3.45" fill="#1a0984" stroke="#1a0984"/>
<circle cx="1081.3" cy="176.6" r="3.45" fill="#432894" stroke="#432894"/>
<circle cx="800.0" cy="705.0" r="3.45" fill="#e2daee" stroke="#e2daee"/>
<circle cx="1091.2" cy="512.3" r="3.45" fill="#090281" stroke="#090281"/>
<circle cx="867.3" cy="666.2" r="3.45" fill="#573b9e" stroke="#573b9e"/>
<circle cx="773.8" cy="542.0" r="3.45" fill="#000080" stroke="#000080"/>
<circle cx="773.5" cy="620.1" r="3.45" fill="#6548a5" stroke="#6548a5"/>
<circle cx="847.4" cy="399.4" r="3.45" fill="#000080" stroke="#000080"/>
<circle cx="818.2" cy="517.3" r="3.45" fill="#422893" stroke="#422893"/>
<circle cx="810.9" cy="333.1" r="3.45" fill="#000080" stroke="#000080"/>
<circle cx="888.0" cy="655.5" r="3.45" fill="#30198c" stroke="#30198c"/>
<circle cx="761.3" cy="526.0" r="3.45" fill="#000080" stroke="#000080"/>
<circle cx="858.7" cy="697.5" r="3.45" fill="#090281" stroke="#090281"/>
<circle cx="783.2" cy="589.9" r="3.45" fill="#4d3299" stroke="#4d3299"/>
<circle cx="914.5" cy="350.1" r="3.45" fill="#371e8e" stroke="#371e8e"/>
<circle cx="836.2" cy="496.4" r="3.45" fill="#583c9e" stroke="#583c9e"/>
<circle cx="1078.3" cy="188.5" r="3.45" fill="#7e63b3" stroke="#7e63b3"/>
<circle cx="783.3" cy="327.6" r="3.45" fill="#000080" stroke="#000080"/>
<circle cx="788.4" cy="588.5" r="3.45" fill="#8e75bc" stroke="#8e75bc"/>
<circle cx="762.2" cy="592.0" r="3.45" fill="#080281" stroke="#080281"/>
<circle cx="809.5" cy="525.0" r="3.45" fill="#1b0a85" stroke="#1b0a85"/>
<circle cx="892.6" cy="404.7" r="3.45" fill="#c6b6dd" stroke="#c6b6dd"/>
<circle cx="840.2" cy="459.1" r="3.45" fill="#0a0381" stroke="#0a0381"/>
<circle cx="1017.6" cy="250.6" r="3.45" fill="#4d3198" stroke="#4d3198"/>
<circle cx="829.0" cy="505.0" r="3.45" fill="#7e63b3" stroke="#7e63b3"/>
<circle cx="776.9" cy="613.8" r="3.45" fill="#694da7" stroke="#694da7"/>
<circle cx="841.3" cy="686.6" r="3.45" fill="#5a3e9f" stroke="#5a3e9f"/>
<circle cx="794.8" cy="522.2" r="3.45" fill="#050181" stroke="#050181"/>
<circle cx="941.7" cy="309.2" r="3.45" fill="#160784" stroke="#160784"/>
<circle cx="760.6" cy="573.9" r="3.45" fill="#010080" stroke="#010080"/>
<circle cx="763.5" cy="603.7" r="3.45" fill="#0b0382" stroke="#0b0382"/>
<circle cx="786.1" cy="531.9" r="3.45" fill="#030180" stroke="#030180"/>
<circle cx="783.9" cy="532.4" r="3.45" fill="#010080" stroke="#010080"/>
<circle cx="868.8" cy="396.7" r="3.45" fill="#050181" stroke="#050181"/>
<circle cx="873.6" cy="690.5" r="3.45" fill="#040181" stroke="#040181"/>
<circle cx="924.0" cy="641.0" r="3.45" fill="#060181" stroke="#060181"/>
<circle cx="857.9" cy="701.8" r="3.45" fill="#050181" stroke="#050181"/>
<circle cx="811.8" cy="538.9" r="3.45" fill="#6549a5" stroke="#6549a5"/>
<circle cx="782.3" cy="415.4" r="3.45" fill="#000080" stroke="#000080"/>
<circle cx="926.2" cy="596.8" r="3.45" fill="#c1b1db" stroke="#c1b1db"/>
<circle cx="862.1" cy="706.0" r="3.45" fill="#020180" stroke="#020180"/>
<circle cx="815.3" cy="495.9" r="3.45" fill="#0a0381" stroke="#0a0381"/>
<circle cx="784.9" cy="383.3" r="3.45" fill="#000080" stroke="#000080"/>
<circle cx="1209.3" cy="85.9" r="3.45" fill="#593d9f" stroke="#593d9f"/>
<circle cx="941.6" cy="608.4" r="3.45" fill="#140683" stroke="#140683"/>
<circle cx="772.1" cy="429.5" r="3.45" fill="#000080" stroke="#000080"/>
<circle cx="1055.7" cy="165.4" r="3.45" fill="#010080" stroke="#010080"/>
<circle cx="795.0" cy="560.0" r="3.45" fill="#5f42a2" stroke="#5f42a2"/>
<circle cx="764.1" cy="576.6" r="3.45" fill="#010080" stroke="#010080"/>
<circle cx="1024.3" cy="252.6" r="3.45" fill="#6f53ab" stroke="#6f53ab"/>
<circle cx="853.2" cy="405.0" r="3.45" fill="#010080" stroke="#010080"/>
<circle cx="882.9" cy="671.2" r="3.45" fill="#110583" stroke="#110583"/>
<circle cx="816.5" cy="509.1" r="3.45" fill="#1e0c86" stroke="#1e0c86"/>
<circle cx="892.3" cy="355.7" r="3.45" fill="#030180" stroke="#030180"/>
<circle cx="967.7" cy="647.4" r="3.45" fill="#000080" stroke="#000080"/>
<circle cx="906.6" cy="668.1" r="3.45" fill="#020180" stroke="#020180"/>
<circle cx="906.1" cy="688.5" r="3.45" fill="#000080" stroke="#000080"/>
<circle cx="762.5" cy="647.1" r="3.45" fill="#8166b5" stroke="#8166b5"/>
<circle cx="769.8" cy="452.5" r="3.45" fill="#000080" stroke="#000080"/>
<circle cx="767.4" cy="536.2" r="3.45" fill="#000080" stroke="#000080"/>
<circle cx="763.8" cy="534.5" r="3.45" fill="#000080" stroke="#000080"/>
<circle cx="792.2" cy="578.8" r="3.45" fill="#7054ab" stroke="#7054ab"/>
<circle cx="1102.6" cy="157.6" r="3.45" fill="#351d8e" stroke="#351d8e"/>
<circle cx="1084.7" cy="186.4" r="3.45" fill="#a994cc" stroke="#a994cc"/>
<circle cx="878.6" cy="685.8" r="3.45" fill="#020180" stroke="#020180"/>
<circle cx="826.8" cy="698.8" r="3.45" fill="#3d2391" stroke="#3d2391"/>
<circle cx="817.7" cy="377.8" r="3.45" fill="#000080" stroke="#000080"/>
<circle cx="785.3" cy="586.2" r="3.45" fill="#6a4da8" stroke="#6a4da8"/>
<circle cx="767.9" cy="644.4" r="3.45" fill="#9d86c5" stroke="#9d86c5"/>
<circle cx="847.5" cy="697.8" r="3.45" fill="#180884" stroke="#180884"/>
<circle cx="839.0" cy="460.5" r="3.45" fill="#110582" stroke="#110582"/>
<circle cx="1027.1" cy="161.8" r="3.45" fill="#000080" stroke="#000080"/>
<circle cx="808.0" cy="469.6" r="3.45" fill="#000080" stroke="#000080"/>
<circle cx="972.8" cy="577.7" r="3.45" fill="#1c0b85" stroke="#1c0b85"/>
<circle cx="783.5" cy="522.1" r="3.45" fill="#000080" stroke="#000080"/>
<circle cx="1018.8" cy="239.4" r="3.45" fill="#140683" stroke="#140683"/>
<circle cx="919.2" cy="312.2" r="3.45" fill="#010080" stroke="#010080"/>
<circle cx="790.5" cy="564.3" r="3.45" fill="#2c168a" stroke="#2c168a"/>
<circle cx="1073.5" cy="172.1" r="3.45" fill="#110582" stroke="#110582"/>
<circle cx="958.3" cy="298.5" r="3.45" fill="#1d0c85" stroke="#1d0c85"/>
<circle cx="893.7" cy="638.1" r="3.45" fill="#785caf" stroke="#785caf"/>
<circle cx="763.5" cy="635.4" r="3.45" fill="#3e2592" stroke="#3e2592"/>
<circle cx="928.8" cy="297.2" r="3.45" fill="#010080" stroke="#010080"/>
<circle cx="762.1" cy="665.6" r="3.45" fill="#ded4eb" stroke="#ded4eb"/>
<circle cx="946.4" cy="598.9" r="3.45" fill="#200d86" stroke="#200d86"/>
<circle cx="845.0" cy="486.4" r="3.45" fill="#977ec1" stroke="#977ec1"/>
<circle cx="813.7" cy="541.6" r="3.45" fill="#856bb7" stroke="#856bb7"/>
<circle cx="902.8" cy="638.9" r="3.45" fill="#321a8c" stroke="#321a8c"/>
<circle cx="869.7" cy="704.8" r="3.45" fill="#010080" stroke="#010080"/>
<circle cx="817.7" cy="701.3" r="3.45" fill="#442994" stroke="#442994"/>
<circle cx="776.2" cy="599.9" r="3.45" fill="#492e97" stroke="#492e97"/>
<circle cx="925.6" cy="337.1" r="3.45" fill="#230f87" stroke="#230f87"/>
<circle cx="931.6" cy="626.8" r="3.45" fill="#140683" stroke="#140683"/>
<circle cx="801.4" cy="564.9" r="3.45" fill="#6e52aa" stroke="#6e52aa"/>
<circle cx="994.4" cy="247.2" r="3.45" fill="#060281" stroke="#060281"/>
<circle cx="793.6" cy="554.5" r="3.45" fill="#210e86" stroke="#210e86"/>
<circle cx="914.3" cy="636.0" r="3.45" fill="#251188" stroke="#251188"/>
<circle cx="760.4" cy="594.2" r="3.45" fill="#040181" stroke="#040181"/>
<circle cx="864.3" cy="704.3" r="3.45" fill="#020080" stroke="#020080"/>
<circle cx="761.0" cy="556.5" r="3.45" fill="#000080" stroke="#000080"/>
<circle cx="796.0" cy="541.1" r="3.45" fill="#190984" stroke="#190984"/>
<circle cx="1096.2" cy="446.5" r="3.45" fill="#080281" stroke="#080281"/>
<circle cx="773.8" cy="624.8" r="3.45" fill="#7a5eb1" stroke="#7a5eb1"/>
<circle cx="764.2" cy="625.3" r="3.45" fill="#220f87" stroke="#220f87"/>
<circle cx="872.9" cy="695.7" r="3.45" fill="#010080" stroke="#010080"/>
<circle cx="763.6" cy="593.3" r="3.45" fill="#080281" stroke="#080281"/>
<circle cx="763.1" cy="656.2" r="3.45" fill="#e5def0" stroke="#e5def0"/>
<circle cx="800.8" cy="702.5" r="3.45" fill="#b09cd0" stroke="#b09cd0"/>
<circle cx="764.0" cy="656.9" r="3.45" fill="#8b71ba" stroke="#8b71ba"/>
<circle cx="760.8" cy="554.2" r="3.45" fill="#000080" stroke="#000080"/>
<circle cx="885.2" cy="640.2" r="3.45" fill="#ffffff" stroke="#ffffff"/>
<circle cx="893.1" cy="404.1" r="3.45" fill="#cfc2e3" stroke="#cfc2e3"/>
<circle cx="863.1" cy="704.2" r="3.45" fill="#020180" stroke="#020180"/>
<circle cx="807.6" cy="433.2" r="3.45" fill="#000080" stroke="#000080"/>
<circle cx="761.0" cy="598.2" r="3.45" fill="#0b0382" stroke="#0b0382"/>
<circle cx="766.7" cy="636.4" r="3.45" fill="#492e97" stroke="#492e97"/>
<circle cx="861.4" cy="705.5" r="3.45" fill="#030180" stroke="#030180"/>
<circle cx="802.3" cy="502.6" r="3.45" fill="#030180" stroke="#030180"/>
<circle cx="785.9" cy="588.3" r="3.45" fill="#7d62b3" stroke="#7d62b3"/>
<circle cx="800.2" cy="524.2" r="3.45" fill="#0e0482" stroke="#0e0482"/>
<circle cx="841.7" cy="370.2" r="3.45" fill="#000080" stroke="#000080"/>
<circle cx="846.4" cy="703.6" r="3.45" fill="#0d0482" stroke="#0d0482"/>
<circle cx="904.8" cy="640.0" r="3.45" fill="#2b158a" stroke="#2b158a"/>
<circle cx="905.3" cy="353.0" r="3.45" fill="#160783" stroke="#160783"/>
<circle cx="839.6" cy="690.2" r="3.45" fill="#52369b" stroke="#52369b"/>
<circle cx="837.1" cy="696.7" r="3.45" fill="#351d8d" stroke="#351d8d"/>
<circle cx="1084.7" cy="190.7" r="3.45" fill="#dcd2ea" stroke="#dcd2ea"/>
<circle cx="899.2" cy="389.5" r="3.45" fill="#6448a5" stroke="#6448a5"/>
<circle cx="764.3" cy="631.5" r="3.45" fill="#4f3399" stroke="#4f3399"/>
<circle cx="849.4" cy="456.6" r="3.45" fill="#371e8e" stroke="#371e8e"/>
<circle cx="764.6" cy="626.9" r="3.45" fill="#220e87" stroke="#220e87"/>
<circle cx="762.5" cy="563.9" r="3.45" fill="#000080" stroke="#000080"/>
<circle cx="894.6" cy="634.9" r="3.45" fill="#7d62b3" stroke="#7d62b3"/>
<circle cx="868.8" cy="701.2" r="3.45" fill="#020080" stroke="#020080"/>
<circle cx="866.6" cy="705.9" r="3.45" fill="#020080" stroke="#020080"/>
<circle cx="763.5" cy="635.4" r="3.45" fill="#3e2592" stroke="#3e2592"/>
<circle cx="795.0" cy="538.4" r="3.45" fill="#0e0482" stroke="#0e0482"/>
<circle cx="940.0" cy="301.0" r="3.45" fill="#0a0281" stroke="#0a0281"/>
<circle cx="1171.5" cy="88.4" r="3.45" fill="#271288" stroke="#271288"/>
<circle cx="762.7" cy="582.4" r="3.45" fill="#020180" stroke="#020180"/>
<circle cx="794.1" cy="507.5" r="3.45" fill="#010080" stroke="#010080"/>
<circle cx="761.9" cy="579.6" r="3.45" fill="#020080" stroke="#020080"/>
<circle cx="851.2" cy="691.4" r="3.45" fill="#281389" stroke="#281389"/>
<circle cx="856.2" cy="466.2" r="3.45" fill="#8267b5" stroke="#8267b5"/>
<circle cx="937.0" cy="327.7" r="3.45" fill="#3d2391" stroke="#3d2391"/>
<circle cx="789.8" cy="561.4" r="3.45" fill="#251188" stroke="#251188"/>
<circle cx="872.7" cy="696.5" r="3.45" fill="#020180" stroke="#020180"/>
<circle cx="762.7" cy="543.2" r="3.45" fill="#000080" stroke="#000080"/>
<circle cx="864.4" cy="699.8" r="3.45" fill="#020180" stroke="#020180"/>
<circle cx="860.6" cy="450.9" r="3.45" fill="#4c3098" stroke="#4c3098"/>
<circle cx="763.1" cy="570.5" r="3.45" fill="#010080" stroke="#010080"/>
<circle cx="799.4" cy="538.6" r="3.45" fill="#170884" stroke="#170884"/>
<circle cx="761.5" cy="502.8" r="3.45" fill="#000080" stroke="#000080"/>
<circle cx="775.4" cy="629.3" r="3.45" fill="#cec0e2" stroke="#cec0e2"/>
<circle cx="765.3" cy="507.9" r="3.45" fill="#000080" stroke="#000080"/>
<circle cx="1038.1" cy="217.9" r="3.45" fill="#170884" stroke="#170884"/>
<circle cx="853.0" cy="671.4" r="3.45" fill="#a994cc" stroke="#a994cc"/>
<circle cx="938.6" cy="309.5" r="3.45" fill="#0c0382" stroke="#0c0382"/>
<circle cx="800.9" cy="529.8" r="3.45" fill="#140683" stroke="#140683"/>
<circle cx="763.1" cy="640.3" r="3.45" fill="#381f8f" stroke="#381f8f"/>
<circle cx="770.0" cy="556.0" r="3.45" fill="#010080" stroke="#010080"/>
<circle cx="782.3" cy="471.4" r="3.45" fill="#000080" stroke="#000080"/>
<circle cx="854.9" cy="702.9" r="3.45" fill="#090281" stroke="#090281"/>
<circle cx="777.4" cy="538.8" r="3.45" fill="#010080" stroke="#010080"/>
<circle cx="771.9" cy="612.9" r="3.45" fill="#432894" stroke="#432894"/>
<circle cx="1122.3" cy="139.4" r="3.45" fill="#2e178b" stroke="#2e178b"/>
<circle cx="763.9" cy="623.0" r="3.45" fill="#1a0a85" stroke="#1a0a85"/>
<circle cx="830.8" cy="701.1" r="3.45" fill="#241087" stroke="#241087"/>
<circle cx="763.3" cy="484.3" r="3.45" fill="#000080" stroke="#000080"/>
<circle cx="804.9" cy="457.4" r="3.45" fill="#000080" stroke="#000080"/>
<circle cx="903.4" cy="674.6" r="3.45" fill="#010080" stroke="#010080"/>
<circle cx="815.9" cy="699.4" r="3.45" fill="#3c2391" stroke="#3c2391"/>
<circle cx="1126.3" cy="113.5" r="3.45" fill="#0b0382" stroke="#0b0382"/>
<circle cx="764.1" cy="626.0" r="3.45" fill="#351d8e" stroke="#351d8e"/>
<circle cx="835.3" cy="702.6" r="3.45" fill="#1d0b85" stroke="#1d0b85"/>
<circle cx="1028.0" cy="180.7" r="3.45" fill="#000080" stroke="#000080"/>
<circle cx="875.2" cy="689.8" r="3.45" fill="#040181" stroke="#040181"/>
<circle cx="763.5" cy="635.4" r="3.45" fill="#3e2592" stroke="#3e2592"/>
<circle cx="810.0" cy="704.0" r="3.45" fill="#765aaf" stroke="#765aaf"/>
<circle cx="762.6" cy="635.4" r="3.45" fill="#351d8e" stroke="#351d8e"/>
<circle cx="854.5" cy="360.0" r="3.45" fill="#000080" stroke="#000080"/>
<circle cx="884.1" cy="658.8" r="3.45" fill="#341c8d" stroke="#341c8d"/>
<circle cx="794.7" cy="527.9" r="3.45" fill="#040181" stroke="#040181"/>
<circle cx="763.3" cy="580.6" r="3.45" fill="#030180" stroke="#030180"/>
<circle cx="767.4" cy="551.3" r="3.45" fill="#000080" stroke="#000080"/>
<circle cx="763.5" cy="658.1" r="3.45" fill="#b39fd2" stroke="#b39fd2"/>
<circle cx="861.2" cy="671.0" r="3.45" fill="#9a82c3" stroke="#9a82c3"/>
<circle cx="821.9" cy="516.7" r="3.45" fill="#432994" stroke="#432994"/>
<circle cx="808.1" cy="530.5" r="3.45" fill="#281389" stroke="#281389"/>
<circle cx="1174.3" cy="91.4" r="3.45" fill="#150783" stroke="#150783"/>
<circle cx="847.4" cy="704.5" r="3.45" fill="#0b0381" stroke="#0b0381"/>
<circle cx="910.2" cy="256.9" r="3.45" fill="#000080" stroke="#000080"/>
<circle cx="766.1" cy="650.1" r="3.45" fill="#896eb9" stroke="#896eb9"/>
<circle cx="874.0" cy="700.4" r="3.45" fill="#010080" stroke="#010080"/>
<circle cx="1047.8" cy="177.5" r="3.45" fill="#010080" stroke="#010080"/>
<circle cx="802.4" cy="462.3" r="3.45" fill="#000080" stroke="#000080"/>
<circle cx="808.4" cy="545.1" r="3.45" fill="#684ba7" stroke="#684ba7"/>
<circle cx="772.7" cy="532.6" r="3.45" fill="#000080" stroke="#000080"/>
<circle cx="964.9" cy="614.4" r="3.45" fill="#010080" stroke="#010080"/>
<circle cx="767.8" cy="624.5" r="3.45" fill="#593c9f" stroke="#593c9f"/>
<circle cx="1088.6" cy="156.6" r="3.45" fill="#0f0482" stroke="#0f0482"/>
<circle cx="1108.9" cy="104.8" r="3.45" fill="#000080" stroke="#000080"/>
<circle cx="857.3" cy="370.8" r="3.45" fill="#000080" stroke="#000080"/>
<circle cx="763.4" cy="626.9" r="3.45" fill="#251188" stroke="#251188"/>
<circle cx="860.0" cy="694.6" r="3.45" fill="#090281" stroke="#090281"/>
<circle cx="764.5" cy="559.6" r="3.45" fill="#010080" stroke="#010080"/>
<circle cx="863.6" cy="457.6" r="3.45" fill="#a089c7" stroke="#a089c7"/>
<circle cx="775.6" cy="627.0" r="3.45" fill="#c5b6dd" stroke="#c5b6dd"/>
<circle cx="801.1" cy="553.1" r="3.45" fill="#4d3299" stroke="#4d3299"/>
<circle cx="780.8" cy="563.6" r="3.45" fill="#110582" stroke="#110582"/>
<circle cx="857.9" cy="705.4" r="3.45" fill="#030180" stroke="#030180"/>
<circle cx="779.9" cy="611.7" r="3.45" fill="#7054ab" stroke="#7054ab"/>
<circle cx="766.0" cy="641.4" r="3.45" fill="#56399d" stroke="#56399d"/>
<circle cx="827.1" cy="371.3" r="3.45" fill="#000080" stroke="#000080"/>
<circle cx="1171.5" cy="98.8" r="3.45" fill="#573b9e" stroke="#573b9e"/>
<circle cx="795.2" cy="552.0" r="3.45" fill="#2e188b" stroke="#2e188b"/>
<circle cx="948.0" cy="611.9" r="3.45" fill="#040181" stroke="#040181"/>
<circle cx="996.7" cy="255.1" r="3.45" fill="#140683" stroke="#140683"/>
<circle cx="783.4" cy="585.1" r="3.45" fill="#261288" stroke="#261288"/>
<circle cx="793.0" cy="571.3" r="3.45" fill="#6447a5" stroke="#6447a5"/>
<circle cx="782.0" cy="564.5" r="3.45" fill="#090281" stroke="#090281"/>
<circle cx="768.8" cy="562.3" r="3.45" fill="#010080" stroke="#010080"/>
<circle cx="896.8" cy="651.0" r="3.45" fill="#1b0a85" stroke="#1b0a85"/>
<circle cx="762.8" cy="618.8" r="3.45" fill="#271288" stroke="#271288"/>
<circle cx="931.3" cy="649.6" r="3.45" fill="#000080" stroke="#000080"/>
<circle cx="762.3" cy="644.1" r="3.45" fill="#371e8e" stroke="#371e8e"/>
<circle cx="874.4" cy="675.1" r="3.45" fill="#1d0b85" stroke="#1d0b85"/>
<circle cx="867.9" cy="701.7" r="3.45" fill="#010080" stroke="#010080"/>
<circle cx="898.9" cy="647.4" r="3.45" fill="#241087" stroke="#241087"/>
<circle cx="797.3" cy="505.7" r="3.45" fill="#010080" stroke="#010080"/>
<circle cx="854.6" cy="440.3" r="3.45" fill="#220f87" stroke="#220f87"/>
<circle cx="765.4" cy="652.6" r="3.45" fill="#cbbde0" stroke="#cbbde0"/>
<circle cx="780.5" cy="507.1" r="3.45" fill="#000080" stroke="#000080"/>
<circle cx="950.5" cy="230.9" r="3.45" fill="#000080" stroke="#000080"/>
<circle cx="783.3" cy="586.4" r="3.45" fill="#412793" stroke="#412793"/>
<circle cx="885.5" cy="394.5" r="3.45" fill="#30198b" stroke="#30198b"/>
<circle cx="763.3" cy="612.4" r="3.45" fill="#150783" stroke="#150783"/>
<circle cx="1081.8" cy="195.6" r="3.45" fill="#b5a2d3" stroke="#b5a2d3"/>
<circle cx="933.0" cy="697.8" r="3.45" fill="#000080" stroke="#000080"/>
<circle cx="895.9" cy="631.8" r="3.45" fill="#cfc1e2" stroke="#cfc1e2"/>
<circle cx="762.1" cy="599.0" r="3.45" fill="#050181" stroke="#050181"/>
<circle cx="936.0" cy="618.1" r="3.45" fill="#160784" stroke="#160784"/>
<circle cx="762.6" cy="528.0" r="3.45" fill="#000080" stroke="#000080"/>
<circle cx="770.0" cy="384.3" r="3.45" fill="#000080" stroke="#000080"/>
<circle cx="1080.6" cy="157.6" r="3.45" fill="#070281" stroke="#070281"/>
<circle cx="886.4" cy="675.5" r="3.45" fill="#060181" stroke="#060181"/>
<circle cx="893.2" cy="632.7" r="3.45" fill="#7559ae" stroke="#7559ae"/>
<circle cx="878.9" cy="379.7" r="3.45" fill="#080281" stroke="#080281"/>
<circle cx="806.5" cy="439.0" r="3.45" fill="#000080" stroke="#000080"/>
<circle cx="763.7" cy="630.4" r="3.45" fill="#2d178b" stroke="#2d178b"/>
<circle cx="803.5" cy="541.8" r="3.45" fill="#311a8c" stroke="#311a8c"/>
<circle cx="1016.5" cy="260.0" r="3.45" fill="#d2c6e4" stroke="#d2c6e4"/>
<circle cx="760.5" cy="656.1" r="3.45" fill="#9b83c4" stroke="#9b83c4"/>
<circle cx="763.3" cy="647.8" r="3.45" fill="#6e52aa" stroke="#6e52aa"/>
<circle cx="766.0" cy="560.0" r="3.45" fill="#010080" stroke="#010080"/>
<circle cx="867.3" cy="387.4" r="3.45" fill="#020080" stroke="#020080"/>
<circle cx="760.4" cy="535.8" r="3.45" fill="#000080" stroke="#000080"/>
<circle cx="766.4" cy="541.0" r="3.45" fill="#000080" stroke="#000080"/>
<circle cx="841.8" cy="696.1" r="3.45" fill="#1c0a85" stroke="#1c0a85"/>
<circle cx="762.2" cy="609.5" r="3.45" fill="#120583" stroke="#120583"/>
<circle cx="769.1" cy="621.7" r="3.45" fill="#271288" stroke="#271288"/>
<circle cx="1136.5" cy="116.2" r="3.45" fill="#120583" stroke="#120583"/>
<circle cx="899.1" cy="688.2" r="3.45" fill="#000080" stroke="#000080"/>
<circle cx="799.6" cy="565.1" r="3.45" fill="#6447a5" stroke="#6447a5"/>
<circle cx="1170.0" cy="90.7" r="3.45" fill="#39208f" stroke="#39208f"/>
<circle cx="765.4" cy="648.1" r="3.45" fill="#6c50a9" stroke="#6c50a9"/>
<circle cx="979.6" cy="538.6" r="3.45" fill="#dacfe9" stroke="#dacfe9"/>
<circle cx="942.7" cy="283.9" r="3.45" fill="#010080" stroke="#010080"/>
<circle cx="965.6" cy="570.6" r="3.45" fill="#371f8f" stroke="#371f8f"/>
<circle cx="767.8" cy="626.9" r="3.45" fill="#341c8d" stroke="#341c8d"/>
<circle cx="762.2" cy="575.7" r="3.45" fill="#010080" stroke="#010080"/>
<circle cx="811.8" cy="535.8" r="3.45" fill="#3f2592" stroke="#3f2592"/>
<circle cx="763.5" cy="642.9" r="3.45" fill="#563a9d" stroke="#563a9d"/>
<circle cx="846.3" cy="689.6" r="3.45" fill="#2a1589" stroke="#2a1589"/>
<circle cx="1142.7" cy="99.2" r="3.45" fill="#050181" stroke="#050181"/>
<circle cx="774.7" cy="593.3" r="3.45" fill="#1f0d86" stroke="#1f0d86"/>
<circle cx="780.1" cy="513.2" r="3.45" fill="#000080" stroke="#000080"/>
<circle cx="975.1" cy="572.8" r="3.45" fill="#0d0482" stroke="#0d0482"/>
<circle cx="805.5" cy="419.3" r="3.45" fill="#000080" stroke="#000080"/>
<circle cx="788.9" cy="593.8" r="3.45" fill="#cfc2e3" stroke="#cfc2e3"/>
<circle cx="764.1" cy="576.7" r="3.45" fill="#010080" stroke="#010080"/>
<circle cx="801.5" cy="527.9" r="3.45" fill="#110582" stroke="#110582"/>
<circle cx="1010.9" cy="238.2" r="3.45" fill="#0d0382" stroke="#0d0382"/>
<circle cx="1102.1" cy="165.5" r="3.45" fill="#4c3198" stroke="#4c3198"/>
<circle cx="762.0" cy="563.5" r="3.45" fill="#010080" stroke="#010080"/>
<circle cx="761.8" cy="640.1" r="3.45" fill="#3c2291" stroke="#3c2291"/>
<circle cx="837.1" cy="687.5" r="3.45" fill="#7054ab" stroke="#7054ab"/>
<circle cx="763.5" cy="642.9" r="3.45" fill="#563a9d" stroke="#563a9d"/>
<circle cx="765.1" cy="489.3" r="3.45" fill="#000080" stroke="#000080"/>
<circle cx="784.9" cy="410.6" r="3.45" fill="#000080" stroke="#000080"/>
<circle cx="841.0" cy="505.1" r="3.45" fill="#c1b0da" stroke="#c1b0da"/>
<circle cx="1068.8" cy="204.2" r="3.45" fill="#8b71bb" stroke="#8b71bb"/>
<circle cx="760.8" cy="641.6" r="3.45" fill="#3d2491" stroke="#3d2491"/>
<circle cx="867.9" cy="391.8" r="3.45" fill="#0a0381" stroke="#0a0381"/>
<circle cx="1023.4" cy="250.1" r="3.45" fill="#54389c" stroke="#54389c"/>
<circle cx="986.2" cy="256.5" r="3.45" fill="#060281" stroke="#060281"/>
<circle cx="781.6" cy="581.9" r="3.45" fill="#251188" stroke="#251188"/>
<circle cx="762.6" cy="592.8" r="3.45" fill="#050181" stroke="#050181"/>
<circle cx="764.6" cy="654.3" r="3.45" fill="#ffffff" stroke="#ffffff"/>
<circle cx="965.9" cy="605.3" r="3.45" fill="#040181" stroke="#040181"/>
<circle cx="916.8" cy="682.0" r="3.45" fill="#000080" stroke="#000080"/>
<circle cx="914.7" cy="241.0" r="3.45" fill="#000080" stroke="#000080"/>
<circle cx="817.0" cy="470.9" r="3.45" fill="#010080" stroke="#010080"/>
<circle cx="1142.4" cy="120.9" r="3.45" fill="#341c8d" stroke="#341c8d"/>
<circle cx="897.8" cy="326.7" r="3.45" fill="#000080" stroke="#000080"/>
<circle cx="801.4" cy="539.2" r="3.45" fill="#180884" stroke="#180884"/>
<circle cx="871.2" cy="668.4" r="3.45" fill="#462b95" stroke="#462b95"/>
<circle cx="793.0" cy="444.9" r="3.45" fill="#000080" stroke="#000080"/>
<circle cx="780.5" cy="607.9" r="3.45" fill="#ad98cf" stroke="#ad98cf"/>
<circle cx="903.7" cy="384.9" r="3.45" fill="#ad99cf" stroke="#ad99cf"/>
<circle cx="970.6" cy="576.0" r="3.45" fill="#241087" stroke="#241087"/>
<circle cx="787.0" cy="510.0" r="3.45" fill="#000080" stroke="#000080"/>
<circle cx="856.8" cy="705.2" r="3.45" fill="#060181" stroke="#060181"/>
<circle cx="879.9" cy="250.0" r="3.45" fill="#000080" stroke="#000080"/>
<circle cx="1121.0" cy="97.0" r="3.45" fill="#000080" stroke="#000080"/>
<circle cx="911.6" cy="361.8" r="3.45" fill="#6347a4" stroke="#6347a4"/>
<circle cx="811.8" cy="486.5" r="3.45" fill="#030180" stroke="#030180"/>
<circle cx="815.2" cy="520.6" r="3.45" fill="#341c8d" stroke="#341c8d"/>
<circle cx="798.8" cy="554.8" r="3.45" fill="#281389" stroke="#281389"/>
<circle cx="771.0" cy="593.8" r="3.45" fill="#1b0a85" stroke="#1b0a85"/>
<circle cx="763.0" cy="587.3" r="3.45" fill="#020180" stroke="#020180"/>
<circle cx="791.1" cy="475.9" r="3.45" fill="#000080" stroke="#000080"/>
<circle cx="957.7" cy="307.7" r="3.45" fill="#54389c" stroke="#54389c"/>
<circle cx="761.8" cy="530.9" r="3.45" fill="#000080" stroke="#000080"/>
<circle cx="764.0" cy="607.8" r="3.45" fill="#120583" stroke="#120583"/>
<circle cx="840.6" cy="432.3" r="3.45" fill="#020180" stroke="#020180"/>
<circle cx="850.7" cy="692.8" r="3.45" fill="#160784" stroke="#160784"/>
<circle cx="763.2" cy="652.1" r="3.45" fill="#856bb7" stroke="#856bb7"/>
<circle cx="764.7" cy="649.3" r="3.45" fill="#a18ac7" stroke="#a18ac7"/>
<circle cx="1084.8" cy="185.0" r="3.45" fill="#8267b5" stroke="#8267b5"/>
<circle cx="876.2" cy="685.9" r="3.45" fill="#040181" stroke="#040181"/>
<circle cx="1106.1" cy="154.8" r="3.45" fill="#3b2290" stroke="#3b2290"/>
<circle cx="856.8" cy="705.5" r="3.45" fill="#050181" stroke="#050181"/>
<circle cx="762.3" cy="554.7" r="3.45" fill="#000080" stroke="#000080"/>
<circle cx="774.6" cy="429.4" r="3.45" fill="#000080" stroke="#000080"/>
<circle cx="781.7" cy="570.5" r="3.45" fill="#120583" stroke="#120583"/>
<circle cx="804.4" cy="488.9" r="3.45" fill="#010080" stroke="#010080"/>
<circle cx="762.6" cy="500.5" r="3.45" fill="#000080" stroke="#000080"/>
<circle cx="803.2" cy="557.3" r="3.45" fill="#8065b4" stroke="#8065b4"/>
<circle cx="933.2" cy="609.7" r="3.45" fill="#271288" stroke="#271288"/>
<circle cx="962.9" cy="243.2" r="3.45" fill="#000080" stroke="#000080"/>
<circle cx="891.4" cy="676.3" r="3.45" fill="#030180" stroke="#030180"/>
<circle cx="788.7" cy="588.1" r="3.45" fill="#cbbde0" stroke="#cbbde0"/>
<circle cx="867.7" cy="681.1" r="3.45" fill="#160784" stroke="#160784"/>
<circle cx="845.5" cy="485.6" r="3.45" fill="#9b83c4" stroke="#9b83c4"/>
<circle cx="907.9" cy="621.7" r="3.45" fill="#856bb7" stroke="#856bb7"/>
<circle cx="762.2" cy="607.3" r="3.45" fill="#0e0482" stroke="#0e0482"/>
<circle cx="763.1" cy="628.3" r="3.45" fill="#281389" stroke="#281389"/>
<circle cx="761.5" cy="611.7" r="3.45" fill="#130683" stroke="#130683"/>
<circle cx="1109.6" cy="97.6" r="3.45" fill="#000080" stroke="#000080"/>
<circle cx="771.2" cy="628.3" r="3.45" fill="#4e3399" stroke="#4e3399"/>
<circle cx="762.8" cy="657.5" r="3.45" fill="#8e74bc" stroke="#8e74bc"/>
<circle cx="763.5" cy="642.9" r="3.45" fill="#563a9d" stroke="#563a9d"/>
<circle cx="901.6" cy="381.1" r="3.45" fill="#6044a2" stroke="#6044a2"/>
<circle cx="992.2" cy="530.5" r="3.45" fill="#d9cee8" stroke="#d9cee8"/>
<circle cx="761.1" cy="659.9" r="3.45" fill="#c1b1db" stroke="#c1b1db"/>
<circle cx="844.0" cy="691.3" r="3.45" fill="#230f87" stroke="#230f87"/>
<circle cx="1140.9" cy="120.7" r="3.45" fill="#2f188b" stroke="#2f188b"/>
<circle cx="886.6" cy="651.9" r="3.45" fill="#482d96" stroke="#482d96"/>
<circle cx="760.7" cy="625.3" r="3.45" fill="#291489" stroke="#291489"/>
<circle cx="878.0" cy="703.9" r="3.45" fill="#000080" stroke="#000080"/>
<circle cx="760.5" cy="649.3" r="3.45" fill="#4b2f97" stroke="#4b2f97"/>
<circle cx="842.8" cy="704.1" r="3.45" fill="#0e0482" stroke="#0e0482"/>
<circle cx="791.2" cy="482.7" r="3.45" fill="#000080" stroke="#000080"/>
<circle cx="767.5" cy="467.1" r="3.45" fill="#000080" stroke="#000080"/>
<circle cx="818.6" cy="508.4" r="3.45" fill="#1a0a85" stroke="#1a0a85"/>
<circle cx="763.6" cy="630.7" r="3.45" fill="#311a8c" stroke="#311a8c"/>
<circle cx="772.7" cy="608.7" r="3.45" fill="#341c8d" stroke="#341c8d"/>
<circle cx="934.3" cy="654.8" r="3.45" fill="#000080" stroke="#000080"/>
<circle cx="1233.6" cy="194.1" r="3.45" fill="#6346a4" stroke="#6346a4"/>
<circle cx="992.9" cy="535.4" r="3.45" fill="#6043a2" stroke="#6043a2"/>
<circle cx="878.7" cy="698.5" r="3.45" fill="#010080" stroke="#010080"/>
<circle cx="815.1" cy="410.2" r="3.45" fill="#000080" stroke="#000080"/>
<circle cx="830.0" cy="685.5" r="3.45" fill="#c3b3dc" stroke="#c3b3dc"/>
<circle cx="832.2" cy="680.9" r="3.45" fill="#c3b3dc" stroke="#c3b3dc"/>
<circle cx="766.4" cy="501.7" r="3.45" fill="#000080" stroke="#000080"/>
<circle cx="763.5" cy="665.9" r="3.45" fill="#ffffff" stroke="#ffffff"/>
<circle cx="840.4" cy="701.0" r="3.45" fill="#1c0b85" stroke="#1c0b85"/>
<circle cx="921.2" cy="257.1" r="3.45" fill="#000080" stroke="#000080"/>
<circle cx="835.5" cy="682.6" r="3.45" fill="#eee9f5" stroke="#eee9f5"/>
<circle cx="902.8" cy="350.1" r="3.45" fill="#0d0382" stroke="#0d0382"/>
<circle cx="908.2" cy="237.8" r="3.45" fill="#000080" stroke="#000080"/>
<circle cx="1059.5" cy="201.3" r="3.45" fill="#341c8d" stroke="#341c8d"/>
<circle cx="848.9" cy="400.3" r="3.45" fill="#000080" stroke="#000080"/>
<circle cx="789.6" cy="573.9" r="3.45" fill="#593d9f" stroke="#593d9f"/>
<circle cx="833.1" cy="705.6" r="3.45" fill="#200d86" stroke="#200d86"/>
<circle cx="866.3" cy="703.9" r="3.45" fill="#010080" stroke="#010080"/>
<circle cx="824.7" cy="529.5" r="3.45" fill="#9981c3" stroke="#9981c3"/>
<circle cx="965.2" cy="304.8" r="3.45" fill="#896eb9" stroke="#896eb9"/>
<circle cx="1047.6" cy="235.7" r="3.45" fill="#c9bbdf" stroke="#c9bbdf"/>
<circle cx="1109.4" cy="162.2" r="3.45" fill="#e1d9ed" stroke="#e1d9ed"/>
<circle cx="1074.2" cy="192.5" r="3.45" fill="#492e97" stroke="#492e97"/>
<circle cx="889.7" cy="644.2" r="3.45" fill="#684ba7" stroke="#684ba7"/>
<circle cx="1143.0" cy="119.7" r="3.45" fill="#2b168a" stroke="#2b168a"/>
<circle cx="764.0" cy="640.7" r="3.45" fill="#30198b" stroke="#30198b"/>
<circle cx="763.4" cy="594.8" r="3.45" fill="#050181" stroke="#050181"/>
<circle cx="761.3" cy="659.3" r="3.45" fill="#a58fca" stroke="#a58fca"/>
<circle cx="881.1" cy="650.8" r="3.45" fill="#5c40a0" stroke="#5c40a0"/>
<circle cx="1166.3" cy="88.2" r="3.45" fill="#0c0382" stroke="#0c0382"/>
<circle cx="783.9" cy="611.1" r="3.45" fill="#b19ed1" stroke="#b19ed1"/>
<circle cx="907.3" cy="292.3" r="3.45" fill="#000080" stroke="#000080"/>
<circle cx="763.2" cy="581.0" r="3.45" fill="#030180" stroke="#030180"/>
<circle cx="923.8" cy="671.3" r="3.45" fill="#000080" stroke="#000080"/>
<circle cx="769.0" cy="584.0" r="3.45" fill="#090281" stroke="#090281"/>
<circle cx="869.9" cy="666.4" r="3.45" fill="#5d41a1" stroke="#5d41a1"/>
<circle cx="874.5" cy="675.1" r="3.45" fill="#150783" stroke="#150783"/>
<circle cx="772.3" cy="532.5" r="3.45" fill="#000080" stroke="#000080"/>
<circle cx="764.0" cy="618.6" r="3.45" fill="#2d178a" stroke="#2d178a"/>
<circle cx="766.6" cy="583.7" r="3.45" fill="#050181" stroke="#050181"/>
<circle cx="762.9" cy="661.6" r="3.45" fill="#ffffff" stroke="#ffffff"/>
<circle cx="761.9" cy="609.1" r="3.45" fill="#1a0a85" stroke="#1a0a85"/>
<circle cx="910.6" cy="350.7" r="3.45" fill="#251188" stroke="#251188"/>
<circle cx="1191.3" cy="326.6" r="3.45" fill="#080281" stroke="#080281"/>
<circle cx="766.5" cy="629.9" r="3.45" fill="#7054ab" stroke="#7054ab"/>
<circle cx="770.5" cy="638.2" r="3.45" fill="#ffffff" stroke="#ffffff"/>
<circle cx="760.7" cy="578.2" r="3.45" fill="#010080" stroke="#010080"/>
<circle cx="1055.5" cy="447.6" r="3.45" fill="#f6f4fa" stroke="#f6f4fa"/>
<circle cx="762.6" cy="634.4" r="3.45" fill="#361e8e" stroke="#361e8e"/>
<circle cx="834.4" cy="701.0" r="3.45" fill="#170884" stroke="#170884"/>
<circle cx="956.5" cy="302.9" r="3.45" fill="#271288" stroke="#271288"/>
<circle cx="825.6" cy="522.2" r="3.45" fill="#8065b4" stroke="#8065b4"/>
<circle cx="787.0" cy="436.7" r="3.45" fill="#000080" stroke="#000080"/>
<circle cx="1132.6" cy="149.5" r="3.45" fill="#d6cbe7" stroke="#d6cbe7"/>
<circle cx="983.6" cy="273.8" r="3.45" fill="#230f87" stroke="#230f87"/>
<circle cx="818.8" cy="478.0" r="3.45" fill="#020080" stroke="#020080"/>
<circle cx="850.0" cy="424.4" r="3.45" fill="#040181" stroke="#040181"/>
<circle cx="984.4" cy="560.4" r="3.45" fill="#1d0c85" stroke="#1d0c85"/>
<circle cx="1091.0" cy="183.2" r="3.45" fill="#ede7f4" stroke="#ede7f4"/>
<circle cx="795.5" cy="531.2" r="3.45" fill="#090281" stroke="#090281"/>
<circle cx="788.2" cy="598.6" r="3.45" fill="#b3a0d2" stroke="#b3a0d2"/>
<circle cx="813.2" cy="518.3" r="3.45" fill="#1f0d86" stroke="#1f0d86"/>
<circle cx="847.5" cy="688.2" r="3.45" fill="#2a1589" stroke="#2a1589"/>
<circle cx="794.2" cy="585.3" r="3.45" fill="#af9bd0" stroke="#af9bd0"/>
<circle cx="869.0" cy="704.3" r="3.45" fill="#010080" stroke="#010080"/>
<circle cx="897.9" cy="647.2" r="3.45" fill="#1b0a85" stroke="#1b0a85"/>
<circle cx="761.2" cy="658.1" r="3.45" fill="#8368b6" stroke="#8368b6"/>
<circle cx="784.9" cy="528.4" r="3.45" fill="#010080" stroke="#010080"/>
<circle cx="1107.9" cy="149.1" r="3.45" fill="#230f87" stroke="#230f87"/>
<circle cx="793.1" cy="544.2" r="3.45" fill="#0e0482" stroke="#0e0482"/>
<circle cx="823.9" cy="527.1" r="3.45" fill="#dad0e9" stroke="#dad0e9"/>
<circle cx="868.2" cy="697.1" r="3.45" fill="#020180" stroke="#020180"/>
<circle cx="843.9" cy="450.7" r="3.45" fill="#0d0482" stroke="#0d0482"/>
<circle cx="811.8" cy="383.7" r="3.45" fill="#000080" stroke="#000080"/>
<circle cx="769.6" cy="636.7" r="3.45" fill="#876cb8" stroke="#876cb8"/>
<circle cx="1101.7" cy="156.6" r="3.45" fill="#331c8d" stroke="#331c8d"/>
<circle cx="838.2" cy="685.4" r="3.45" fill="#6145a3" stroke="#6145a3"/>
<circle cx="770.7" cy="626.2" r="3.45" fill="#4c3098" stroke="#4c3098"/>
<circle cx="866.2" cy="389.1" r="3.45" fill="#030180" stroke="#030180"/>
<circle cx="773.9" cy="630.8" r="3.45" fill="#a893cc" stroke="#a893cc"/>
<circle cx="925.1" cy="644.5" r="3.45" fill="#070281" stroke="#070281"/>
<circle cx="817.6" cy="488.6" r="3.45" fill="#080281" stroke="#080281"/>
<circle cx="905.3" cy="653.9" r="3.45" fill="#0e0482" stroke="#0e0482"/>
<circle cx="848.6" cy="313.2" r="3.45" fill="#000080" stroke="#000080"/>
<circle cx="762.7" cy="643.5" r="3.45" fill="#3e2491" stroke="#3e2491"/>
<circle cx="781.3" cy="621.4" r="3.45" fill="#fcfcfe" stroke="#fcfcfe"/>
<circle cx="772.6" cy="345.6" r="3.45" fill="#000080" stroke="#000080"/>
<circle cx="780.0" cy="590.6" r="3.45" fill="#1d0b85" stroke="#1d0b85"/>
<circle cx="1070.4" cy="205.7" r="3.45" fill="#856bb7" stroke="#856bb7"/>
<circle cx="1121.4" cy="104.8" r="3.45" fill="#020080" stroke="#020080"/>
<circle cx="1153.2" cy="125.9" r="3.45" fill="#8368b6" stroke="#8368b6"/>
<circle cx="797.2" cy="583.7" r="3.45" fill="#a58eca" stroke="#a58eca"/>
<circle cx="1142.5" cy="365.9" r="3.45" fill="#593d9f" stroke="#593d9f"/>
<circle cx="790.6" cy="587.3" r="3.45" fill="#8a70ba" stroke="#8a70ba"/>
<circle cx="766.7" cy="635.9" r="3.45" fill="#482d96" stroke="#482d96"/>
<circle cx="898.8" cy="247.6" r="3.45" fill="#000080" stroke="#000080"/>
<circle cx="842.1" cy="496.0" r="3.45" fill="#d9cee8" stroke="#d9cee8"/>
<circle cx="925.7" cy="631.7" r="3.45" fill="#070281" stroke="#070281"/>
<circle cx="763.0" cy="583.3" r="3.45" fill="#030180" stroke="#030180"/>
<circle cx="1001.8" cy="219.0" r="3.45" fill="#010080" stroke="#010080"/>
<circle cx="827.3" cy="344.1" r="3.45" fill="#000080" stroke="#000080"/>
<circle cx="906.7" cy="662.9" r="3.45" fill="#040180" stroke="#040180"/>
<circle cx="763.0" cy="652.2" r="3.45" fill="#52369b" stroke="#52369b"/>
<circle cx="762.9" cy="574.2" r="3.45" fill="#010080" stroke="#010080"/>
<circle cx="852.6" cy="705.2" r="3.45" fill="#0b0381" stroke="#0b0381"/>
<circle cx="763.0" cy="591.7" r="3.45" fill="#030180" stroke="#030180"/>
<circle cx="932.0" cy="325.6" r="3.45" fill="#432894" stroke="#432894"/>
<circle cx="904.6" cy="693.0" r="3.45" fill="#000080" stroke="#000080"/>
<circle cx="861.1" cy="690.2" r="3.45" fill="#0f0482" stroke="#0f0482"/>
<circle cx="875.7" cy="680.3" r="3.45" fill="#090281" stroke="#090281"/>
<circle cx="774.1" cy="436.8" r="3.45" fill="#000080" stroke="#000080"/>
<circle cx="961.6" cy="310.7" r="3.45" fill="#bbaad7" stroke="#bbaad7"/>
<circle cx="848.0" cy="487.3" r="3.45" fill="#b39fd2" stroke="#b39fd2"/>
<circle cx="906.5" cy="676.6" r="3.45" fill="#010080" stroke="#010080"/>
<circle cx="771.9" cy="572.5" r="3.45" fill="#090281" stroke="#090281"/>
<circle cx="837.8" cy="314.3" r="3.45" fill="#000080" stroke="#000080"/>
<circle cx="834.7" cy="495.2" r="3.45" fill="#6447a5" stroke="#6447a5"/>
<circle cx="1025.2" cy="222.3" r="3.45" fill="#080281" stroke="#080281"/>
<circle cx="764.3" cy="546.8" r="3.45" fill="#000080" stroke="#000080"/>
<circle cx="864.9" cy="701.5" r="3.45" fill="#020080" stroke="#020080"/>
<circle cx="1057.4" cy="210.3" r="3.45" fill="#492e97" stroke="#492e97"/>
<circle cx="772.7" cy="587.5" r="3.45" fill="#130683" stroke="#130683"/>
<circle cx="977.5" cy="302.6" r="3.45" fill="#957cc0" stroke="#957cc0"/>
<circle cx="1077.8" cy="137.7" r="3.45" fill="#000080" stroke="#000080"/>
<circle cx="789.6" cy="595.2" r="3.45" fill="#ffffff" stroke="#ffffff"/>
<circle cx="946.8" cy="607.5" r="3.45" fill="#100582" stroke="#100582"/>
<circle cx="788.6" cy="467.6" r="3.45" fill="#000080" stroke="#000080"/>
<circle cx="762.4" cy="603.4" r="3.45" fill="#130683" stroke="#130683"/>
<circle cx="767.8" cy="648.0" r="3.45" fill="#ffffff" stroke="#ffffff"/>
<circle cx="763.5" cy="597.3" r="3.45" fill="#0a0281" stroke="#0a0281"/>
<circle cx="782.8" cy="606.7" r="3.45" fill="#765aaf" stroke="#765aaf"/>
<circle cx="803.3" cy="530.7" r="3.45" fill="#160784" stroke="#160784"/>
<circle cx="853.5" cy="462.7" r="3.45" fill="#6b4fa9" stroke="#6b4fa9"/>
<circle cx="1014.1" cy="200.3" r="3.45" fill="#000080" stroke="#000080"/>
<circle cx="882.2" cy="339.7" r="3.45" fill="#000080" stroke="#000080"/>
<circle cx="772.2" cy="585.7" r="3.45" fill="#140683" stroke="#140683"/>
<circle cx="781.7" cy="559.5" r="3.45" fill="#090281" stroke="#090281"/>
<circle cx="935.7" cy="331.6" r="3.45" fill="#3e2491" stroke="#3e2491"/>
<circle cx="782.4" cy="412.4" r="3.45" fill="#000080" stroke="#000080"/>
<circle cx="762.6" cy="634.9" r="3.45" fill="#371f8f" stroke="#371f8f"/>
<circle cx="773.6" cy="554.8" r="3.45" fill="#010080" stroke="#010080"/>
<circle cx="761.7" cy="596.4" r="3.45" fill="#070281" stroke="#070281"/>
<circle cx="1084.1" cy="163.2" r="3.45" fill="#180884" stroke="#180884"/>
<circle cx="1148.4" cy="132.9" r="3.45" fill="#7256ac" stroke="#7256ac"/>
<circle cx="935.8" cy="324.3" r="3.45" fill="#2f198b" stroke="#2f198b"/>
<circle cx="804.9" cy="487.4" r="3.45" fill="#010080" stroke="#010080"/>
<circle cx="766.8" cy="441.6" r="3.45" fill="#000080" stroke="#000080"/>
<circle cx="791.6" cy="515.9" r="3.45" fill="#010080" stroke="#010080"/>
<circle cx="1008.6" cy="246.0" r="3.45" fill="#130683" stroke="#130683"/>
<circle cx="763.1" cy="642.7" r="3.45" fill="#4f349a" stroke="#4f349a"/>
<circle cx="808.1" cy="547.5" r="3.45" fill="#5f42a2" stroke="#5f42a2"/>
<circle cx="762.0" cy="635.2" r="3.45" fill="#3e2491" stroke="#3e2491"/>
<circle cx="903.8" cy="323.7" r="3.45" fill="#010080" stroke="#010080"/>
<circle cx="763.4" cy="658.8" r="3.45" fill="#c8b9de" stroke="#c8b9de"/>
<circle cx="856.1" cy="703.9" r="3.45" fill="#070281" stroke="#070281"/>
<circle cx="869.9" cy="683.9" r="3.45" fill="#190984" stroke="#190984"/>
<circle cx="779.8" cy="532.1" r="3.45" fill="#010080" stroke="#010080"/>
<circle cx="840.9" cy="686.4" r="3.45" fill="#6347a4" stroke="#6347a4"/>
<circle cx="766.3" cy="640.9" r="3.45" fill="#583c9e" stroke="#583c9e"/>
<circle cx="1142.5" cy="134.5" r="3.45" fill="#6c50a9" stroke="#6c50a9"/>
<circle cx="779.6" cy="614.2" r="3.45" fill="#795eb0" stroke="#795eb0"/>
<circle cx="763.5" cy="619.5" r="3.45" fill="#200d86" stroke="#200d86"/>
<circle cx="763.6" cy="632.1" r="3.45" fill="#3f2592" stroke="#3f2592"/>
<circle cx="762.2" cy="511.4" r="3.45" fill="#000080" stroke="#000080"/>
<circle cx="1124.8" cy="121.1" r="3.45" fill="#0b0382" stroke="#0b0382"/>
<circle cx="831.5" cy="684.5" r="3.45" fill="#d7cce7" stroke="#d7cce7"/>
<circle cx="855.1" cy="671.5" r="3.45" fill="#eae4f3" stroke="#eae4f3"/>
<circle cx="867.9" cy="697.0" r="3.45" fill="#020080" stroke="#020080"/>
<circle cx="845.1" cy="682.4" r="3.45" fill="#4e3299" stroke="#4e3299"/>
<circle cx="1048.5" cy="202.2" r="3.45" fill="#150683" stroke="#150683"/>
<circle cx="780.2" cy="507.4" r="3.45" fill="#000080" stroke="#000080"/>
<circle cx="848.1" cy="438.0" r="3.45" fill="#0f0482" stroke="#0f0482"/>
<circle cx="788.9" cy="484.7" r="3.45" fill="#000080" stroke="#000080"/>
<circle cx="760.8" cy="541.0" r="3.45" fill="#000080" stroke="#000080"/>
<circle cx="782.8" cy="603.5" r="3.45" fill="#583c9e" stroke="#583c9e"/>
<circle cx="763.1" cy="567.2" r="3.45" fill="#010080" stroke="#010080"/>
<circle cx="1050.6" cy="516.2" r="3.45" fill="#0a0381" stroke="#0a0381"/>
<circle cx="791.2" cy="533.2" r="3.45" fill="#060181" stroke="#060181"/>
<circle cx="1096.8" cy="174.7" r="3.45" fill="#ab96cd" stroke="#ab96cd"/>
<circle cx="775.2" cy="582.3" r="3.45" fill="#100582" stroke="#100582"/>
<circle cx="763.8" cy="642.7" r="3.45" fill="#492e97" stroke="#492e97"/>
<circle cx="1107.7" cy="165.6" r="3.45" fill="#cec1e2" stroke="#cec1e2"/>
<circle cx="906.1" cy="631.9" r="3.45" fill="#4b2f98" stroke="#4b2f98"/>
<circle cx="1033.6" cy="516.9" r="3.45" fill="#593d9f" stroke="#593d9f"/>
<circle cx="771.8" cy="519.2" r="3.45" fill="#000080" stroke="#000080"/>
<circle cx="878.8" cy="697.9" r="3.45" fill="#010080" stroke="#010080"/>
<circle cx="765.5" cy="583.8" r="3.45" fill="#030180" stroke="#030180"/>
<circle cx="886.1" cy="653.6" r="3.45" fill="#4d3198" stroke="#4d3198"/>
<circle cx="1071.5" cy="148.2" r="3.45" fill="#010080" stroke="#010080"/>
<circle cx="763.0" cy="641.9" r="3.45" fill="#3f2592" stroke="#3f2592"/>
<circle cx="790.0" cy="589.9" r="3.45" fill="#6346a4" stroke="#6346a4"/>
<circle cx="783.8" cy="613.4" r="3.45" fill="#9a82c3" stroke="#9a82c3"/>
<circle cx="780.2" cy="503.0" r="3.45" fill="#000080" stroke="#000080"/>
<circle cx="767.9" cy="658.0" r="3.45" fill="#fdfcfe" stroke="#fdfcfe"/>
<circle cx="1104.9" cy="413.0" r="3.45" fill="#6c50a9" stroke="#6c50a9"/>
<circle cx="829.8" cy="695.5" r="3.45" fill="#2c168a" stroke="#2c168a"/>
<circle cx="855.6" cy="331.5" r="3.45" fill="#000080" stroke="#000080"/>
<circle cx="791.1" cy="438.3" r="3.45" fill="#000080" stroke="#000080"/>
<circle cx="783.8" cy="591.7" r="3.45" fill="#3d2491" stroke="#3d2491"/>
<circle cx="780.9" cy="618.7" r="3.45" fill="#baa8d6" stroke="#baa8d6"/>
<circle cx="830.2" cy="485.6" r="3.45" fill="#140683" stroke="#140683"/>
<circle cx="761.7" cy="608.5" r="3.45" fill="#170884" stroke="#170884"/>
<circle cx="1103.3" cy="152.1" r="3.45" fill="#291489" stroke="#291489"/>
<circle cx="762.9" cy="660.0" r="3.45" fill="#a18ac7" stroke="#a18ac7"/>
<circle cx="1023.9" cy="252.0" r="3.45" fill="#9e87c6" stroke="#9e87c6"/>
<circle cx="897.1" cy="390.8" r="3.45" fill="#b09cd0" stroke="#b09cd0"/>
<circle cx="763.1" cy="544.3" r="3.45" fill="#000080" stroke="#000080"/>
<circle cx="776.6" cy="610.3" r="3.45" fill="#573b9e" stroke="#573b9e"/>
<circle cx="1007.3" cy="209.2" r="3.45" fill="#000080" stroke="#000080"/>
<circle cx="959.8" cy="691.8" r="3.45" fill="#000080" stroke="#000080"/>
<circle cx="763.3" cy="621.8" r="3.45" fill="#371f8f" stroke="#371f8f"/>
<circle cx="778.2" cy="525.4" r="3.45" fill="#000080" stroke="#000080"/>
<circle cx="837.2" cy="680.6" r="3.45" fill="#9981c3" stroke="#9981c3"/>
<circle cx="1070.9" cy="141.8" r="3.45" fill="#000080" stroke="#000080"/>
<circle cx="804.9" cy="530.6" r="3.45" fill="#190984" stroke="#190984"/>
<circle cx="1027.0" cy="243.4" r="3.45" fill="#6a4da8" stroke="#6a4da8"/>
<circle cx="1085.0" cy="179.8" r="3.45" fill="#4f3399" stroke="#4f3399"/>
<circle cx="762.1" cy="581.1" r="3.45" fill="#020180" stroke="#020180"/>
<circle cx="761.0" cy="656.8" r="3.45" fill="#6549a5" stroke="#6549a5"/>
<circle cx="790.9" cy="574.8" r="3.45" fill="#54389c" stroke="#54389c"/>
<circle cx="840.3" cy="704.4" r="3.45" fill="#110582" stroke="#110582"/>
<circle cx="951.7" cy="699.4" r="3.45" fill="#000080" stroke="#000080"/>
<circle cx="763.6" cy="605.1" r="3.45" fill="#0e0482" stroke="#0e0482"/>
<circle cx="1040.7" cy="226.5" r="3.45" fill="#785cb0" stroke="#785cb0"/>
<circle cx="788.9" cy="592.6" r="3.45" fill="#9178be" stroke="#9178be"/>
<circle cx="761.7" cy="630.0" r="3.45" fill="#291489" stroke="#291489"/>
<circle cx="840.1" cy="402.4" r="3.45" fill="#000080" stroke="#000080"/>
<circle cx="848.8" cy="442.1" r="3.45" fill="#160784" stroke="#160784"/>
<circle cx="803.3" cy="555.8" r="3.45" fill="#6447a4" stroke="#6447a4"/>
<circle cx="797.5" cy="563.4" r="3.45" fill="#563a9d" stroke="#563a9d"/>
<circle cx="874.7" cy="704.2" r="3.45" fill="#010080" stroke="#010080"/>
<circle cx="764.7" cy="659.2" r="3.45" fill="#6549a5" stroke="#6549a5"/>
<circle cx="785.2" cy="608.8" r="3.45" fill="#ffffff" stroke="#ffffff"/>
<circle cx="778.5" cy="561.2" r="3.45" fill="#060281" stroke="#060281"/>
<circle cx="920.6" cy="354.4" r="3.45" fill="#52369b" stroke="#52369b"/>
<circle cx="888.8" cy="672.5" r="3.45" fill="#0a0281" stroke="#0a0281"/>
<circle cx="862.5" cy="670.9" r="3.45" fill="#8d73bc" stroke="#8d73bc"/>
<circle cx="762.3" cy="588.2" r="3.45" fill="#040181" stroke="#040181"/>
<circle cx="763.7" cy="519.4" r="3.45" fill="#000080" stroke="#000080"/>
<circle cx="877.4" cy="351.9" r="3.45" fill="#010080" stroke="#010080"/>
<circle cx="924.6" cy="278.8" r="3.45" fill="#000080" stroke="#000080"/>
<circle cx="845.4" cy="305.6" r="3.45" fill="#000080" stroke="#000080"/>
<circle cx="764.6" cy="606.5" r="3.45" fill="#120583" stroke="#120583"/>
<circle cx="807.5" cy="549.5" r="3.45" fill="#5e42a1" stroke="#5e42a1"/>
<circle cx="760.8" cy="666.1" r="3.45" fill="#ffffff" stroke="#ffffff"/>
<circle cx="760.8" cy="589.3" r="3.45" fill="#030180" stroke="#030180"/>
<circle cx="792.5" cy="450.6" r="3.45" fill="#000080" stroke="#000080"/>
<circle cx="762.9" cy="569.3" r="3.45" fill="#010080" stroke="#010080"/>
<circle cx="783.5" cy="479.7" r="3.45" fill="#000080" stroke="#000080"/>
<circle cx="885.3" cy="402.3" r="3.45" fill="#6144a3" stroke="#6144a3"/>
<circle cx="834.3" cy="486.9" r="3.45" fill="#351d8e" stroke="#351d8e"/>
<circle cx="780.1" cy="544.2" r="3.45" fill="#020080" stroke="#020080"/>
<circle cx="1032.8" cy="240.2" r="3.45" fill="#4e3299" stroke="#4e3299"/>
<circle cx="1063.6" cy="168.7" r="3.45" fill="#030180" stroke="#030180"/>
<circle cx="774.7" cy="614.6" r="3.45" fill="#5f42a2" stroke="#5f42a2"/>
<circle cx="941.4" cy="677.0" r="3.45" fill="#000080" stroke="#000080"/>
<circle cx="791.7" cy="586.4" r="3.45" fill="#c1b1da" stroke="#c1b1da"/>
<circle cx="792.7" cy="590.5" r="3.45" fill="#ffffff" stroke="#ffffff"/>
<circle cx="844.4" cy="706.0" r="3.45" fill="#100482" stroke="#100482"/>
<circle cx="764.0" cy="558.3" r="3.45" fill="#000080" stroke="#000080"/>
<circle cx="859.7" cy="664.6" r="3.45" fill="#b09cd0" stroke="#b09cd0"/>
<circle cx="918.1" cy="637.1" r="3.45" fill="#1b0a85" stroke="#1b0a85"/>
<circle cx="776.6" cy="592.8" r="3.45" fill="#2f188b" stroke="#2f188b"/>
<circle cx="888.0" cy="646.7" r="3.45" fill="#4a2f97" stroke="#4a2f97"/>
<circle cx="844.4" cy="470.0" r="3.45" fill="#4c3198" stroke="#4c3198"/>
<circle cx="856.8" cy="433.5" r="3.45" fill="#150783" stroke="#150783"/>
<circle cx="894.5" cy="394.5" r="3.45" fill="#f1edf7" stroke="#f1edf7"/>
<circle cx="900.7" cy="382.5" r="3.45" fill="#53379c" stroke="#53379c"/>
<circle cx="865.8" cy="699.6" r="3.45" fill="#060181" stroke="#060181"/>
<circle cx="1126.2" cy="145.6" r="3.45" fill="#7e63b3" stroke="#7e63b3"/>
<circle cx="981.6" cy="220.8" r="3.45" fill="#000080" stroke="#000080"/>
<circle cx="795.3" cy="578.6" r="3.45" fill="#c0afda" stroke="#c0afda"/>
<circle cx="761.7" cy="634.1" r="3.45" fill="#2b158a" stroke="#2b158a"/>
<circle cx="944.4" cy="662.3" r="3.45" fill="#000080" stroke="#000080"/>
<circle cx="815.9" cy="501.5" r="3.45" fill="#170884" stroke="#170884"/>
<circle cx="851.4" cy="441.4" r="3.45" fill="#200e86" stroke="#200e86"/>
<circle cx="762.6" cy="656.4" r="3.45" fill="#9279bf" stroke="#9279bf"/>
<circle cx="861.2" cy="446.1" r="3.45" fill="#6d51aa" stroke="#6d51aa"/>
<circle cx="995.9" cy="196.8" r="3.45" fill="#000080" stroke="#000080"/>
<circle cx="847.5" cy="701.6" r="3.45" fill="#0d0382" stroke="#0d0382"/>
<circle cx="775.6" cy="585.9" r="3.45" fill="#0e0482" stroke="#0e0482"/>
<circle cx="957.2" cy="650.6" r="3.45" fill="#000080" stroke="#000080"/>
<circle cx="1089.7" cy="131.5" r="3.45" fill="#000080" stroke="#000080"/>
<circle cx="761.5" cy="598.7" r="3.45" fill="#090281" stroke="#090281"/>
<circle cx="913.5" cy="299.9" r="3.45" fill="#000080" stroke="#000080"/>
<circle cx="853.5" cy="701.4" r="3.45" fill="#060281" stroke="#060281"/>
<circle cx="761.0" cy="590.0" r="3.45" fill="#070281" stroke="#070281"/>
<circle cx="1179.5" cy="83.5" r="3.45" fill="#3a2190" stroke="#3a2190"/>
<circle cx="837.0" cy="422.7" r="3.45" fill="#000080" stroke="#000080"/>
<circle cx="1028.3" cy="233.3" r="3.45" fill="#281389" stroke="#281389"/>
<circle cx="940.5" cy="239.1" r="3.45" fill="#000080" stroke="#000080"/>
<circle cx="956.9" cy="307.7" r="3.45" fill="#361d8e" stroke="#361d8e"/>
<circle cx="773.3" cy="509.5" r="3.45" fill="#000080" stroke="#000080"/>
<circle cx="774.2" cy="552.3" r="3.45" fill="#010080" stroke="#010080"/>
<circle cx="784.5" cy="598.1" r="3.45" fill="#a690ca" stroke="#a690ca"/>
<circle cx="848.8" cy="702.2" r="3.45" fill="#0c0382" stroke="#0c0382"/>
<circle cx="1104.3" cy="509.5" r="3.45" fill="#080281" stroke="#080281"/>
<circle cx="833.7" cy="685.3" r="3.45" fill="#f7f4fa" stroke="#f7f4fa"/>
<circle cx="820.5" cy="704.8" r="3.45" fill="#381f8f" stroke="#381f8f"/>
<circle cx="874.6" cy="680.4" r="3.45" fill="#090281" stroke="#090281"/>
<circle cx="777.7" cy="526.8" r="3.45" fill="#000080" stroke="#000080"/>
<circle cx="779.6" cy="611.9" r="3.45" fill="#856ab7" stroke="#856ab7"/>
<circle cx="986.1" cy="289.3" r="3.45" fill="#8a70ba" stroke="#8a70ba"/>
<circle cx="1069.8" cy="178.7" r="3.45" fill="#160783" stroke="#160783"/>
<circle cx="776.3" cy="543.7" r="3.45" fill="#010080" stroke="#010080"/>
<circle cx="969.9" cy="293.3" r="3.45" fill="#4a2f97" stroke="#4a2f97"/>
<circle cx="763.1" cy="511.7" r="3.45" fill="#000080" stroke="#000080"/>
<circle cx="786.2" cy="583.5" r="3.45" fill="#52369b" stroke="#52369b"/>
<circle cx="856.4" cy="704.5" r="3.45" fill="#060181" stroke="#060181"/>
<circle cx="858.5" cy="354.0" r="3.45" fill="#000080" stroke="#000080"/>
<circle cx="809.4" cy="493.9" r="3.45" fill="#020180" stroke="#020180"/>
<circle cx="760.8" cy="641.1" r="3.45" fill="#371f8f" stroke="#371f8f"/>
<circle cx="855.6" cy="473.2" r="3.45" fill="#ccbee1" stroke="#ccbee1"/>
<circle cx="779.5" cy="615.9" r="3.45" fill="#8f76bd" stroke="#8f76bd"/>
<circle cx="1146.7" cy="123.6" r="3.45" fill="#3a2190" stroke="#3a2190"/>
<circle cx="787.5" cy="528.2" r="3.45" fill="#010080" stroke="#010080"/>
<circle cx="760.8" cy="635.8" r="3.45" fill="#2c168a" stroke="#2c168a"/>
<circle cx="773.9" cy="556.2" r="3.45" fill="#010080" stroke="#010080"/>
<circle cx="771.6" cy="590.5" r="3.45" fill="#180884" stroke="#180884"/>
<circle cx="775.7" cy="611.2" r="3.45" fill="#51359a" stroke="#51359a"/>
<circle cx="760.9" cy="619.2" r="3.45" fill="#1c0a85" stroke="#1c0a85"/>
<circle cx="877.0" cy="705.0" r="3.45" fill="#000080" stroke="#000080"/>
<circle cx="762.8" cy="586.3" r="3.45" fill="#050181" stroke="#050181"/>
<circle cx="811.7" cy="434.9" r="3.45" fill="#000080" stroke="#000080"/>
<circle cx="975.2" cy="694.0" r="3.45" fill="#000080" stroke="#000080"/>
<circle cx="865.4" cy="446.1" r="3.45" fill="#5d41a1" stroke="#5d41a1"/>
<circle cx="857.6" cy="674.1" r="3.45" fill="#6044a2" stroke="#6044a2"/>
<circle cx="907.6" cy="374.4" r="3.45" fill="#7054ab" stroke="#7054ab"/>
<circle cx="900.9" cy="378.8" r="3.45" fill="#54389c" stroke="#54389c"/>
<circle cx="761.3" cy="591.2" r="3.45" fill="#050181" stroke="#050181"/>
<circle cx="928.1" cy="665.7" r="3.45" fill="#000080" stroke="#000080"/>
<circle cx="761.8" cy="594.2" r="3.45" fill="#060281" stroke="#060281"/>
<circle cx="809.4" cy="553.6" r="3.45" fill="#cec1e2" stroke="#cec1e2"/>
<circle cx="987.7" cy="565.5" r="3.45" fill="#0d0382" stroke="#0d0382"/>
<circle cx="1092.6" cy="150.0" r="3.45" fill="#0c0382" stroke="#0c0382"/>
<circle cx="761.1" cy="641.8" r="3.45" fill="#52369b" stroke="#52369b"/>
<circle cx="994.4" cy="529.2" r="3.45" fill="#9c85c5" stroke="#9c85c5"/>
<circle cx="857.1" cy="687.1" r="3.45" fill="#1f0d86" stroke="#1f0d86"/>
<circle cx="802.8" cy="566.1" r="3.45" fill="#b5a2d3" stroke="#b5a2d3"/>
<circle cx="915.2" cy="699.7" r="3.45" fill="#000080" stroke="#000080"/>
<circle cx="814.6" cy="543.4" r="3.45" fill="#c9badf" stroke="#c9badf"/>
<circle cx="960.7" cy="284.2" r="3.45" fill="#0e0482" stroke="#0e0482"/>
<circle cx="792.0" cy="500.0" r="3.45" fill="#000080" stroke="#000080"/>
<circle cx="764.0" cy="582.7" r="3.45" fill="#020080" stroke="#020080"/>
<circle cx="849.2" cy="415.4" r="3.45" fill="#020180" stroke="#020180"/>
<circle cx="782.2" cy="501.0" r="3.45" fill="#000080" stroke="#000080"/>
<circle cx="827.1" cy="489.9" r="3.45" fill="#200d86" stroke="#200d86"/>
<circle cx="851.5" cy="363.9" r="3.45" fill="#000080" stroke="#000080"/>
<circle cx="1018.3" cy="211.4" r="3.45" fill="#010080" stroke="#010080"/>
<circle cx="848.7" cy="384.9" r="3.45" fill="#000080" stroke="#000080"/>
<circle cx="1020.4" cy="226.5" r="3.45" fill="#110583" stroke="#110583"/>
<circle cx="830.9" cy="451.7" r="3.45" fill="#020080" stroke="#020080"/>
<circle cx="910.1" cy="334.4" r="3.45" fill="#060281" stroke="#060281"/>
<circle cx="1014.3" cy="241.1" r="3.45" fill="#100582" stroke="#100582"/>
<circle cx="816.5" cy="449.1" r="3.45" fill="#000080" stroke="#000080"/>
<circle cx="765.5" cy="613.5" r="3.45" fill="#2a158a" stroke="#2a158a"/>
<circle cx="885.5" cy="316.6" r="3.45" fill="#000080" stroke="#000080"/>
<circle cx="867.5" cy="704.1" r="3.45" fill="#010080" stroke="#010080"/>
<circle cx="911.3" cy="610.4" r="3.45" fill="#cdc0e2" stroke="#cdc0e2"/>
<circle cx="792.0" cy="478.0" r="3.45" fill="#000080" stroke="#000080"/>
<circle cx="763.5" cy="628.2" r="3.45" fill="#281389" stroke="#281389"/>
<circle cx="842.8" cy="495.2" r="3.45" fill="#f7f4fa" stroke="#f7f4fa"/>
<circle cx="1091.1" cy="147.9" r="3.45" fill="#070281" stroke="#070281"/>
<circle cx="806.6" cy="703.6" r="3.45" fill="#9880c2" stroke="#9880c2"/>
<circle cx="846.7" cy="492.7" r="3.45" fill="#ffffff" stroke="#ffffff"/>
<circle cx="870.1" cy="404.8" r="3.45" fill="#110583" stroke="#110583"/>
<circle cx="1179.3" cy="96.7" r="3.45" fill="#9077bd" stroke="#9077bd"/>
<circle cx="827.8" cy="685.2" r="3.45" fill="#9b83c4" stroke="#9b83c4"/>
<circle cx="779.7" cy="568.4" r="3.45" fill="#0f0482" stroke="#0f0482"/>
<circle cx="823.9" cy="696.0" r="3.45" fill="#5b3fa0" stroke="#5b3fa0"/>
<circle cx="1076.7" cy="184.0" r="3.45" fill="#381f8f" stroke="#381f8f"/>
<circle cx="883.2" cy="411.2" r="3.45" fill="#52369b" stroke="#52369b"/>
<circle cx="790.1" cy="592.0" r="3.45" fill="#bba9d7" stroke="#bba9d7"/>
<circle cx="882.3" cy="653.6" r="3.45" fill="#4a2f97" stroke="#4a2f97"/>
<circle cx="1195.4" cy="301.7" r="3.45" fill="#080281" stroke="#080281"/>
<circle cx="837.5" cy="399.7" r="3.45" fill="#000080" stroke="#000080"/>
<circle cx="761.9" cy="596.2" r="3.45" fill="#070281" stroke="#070281"/>
<circle cx="763.5" cy="619.5" r="3.45" fill="#200d86" stroke="#200d86"/>
<circle cx="1117.2" cy="100.1" r="3.45" fill="#000080" stroke="#000080"/>
<circle cx="899.5" cy="686.5" r="3.45" fill="#000080" stroke="#000080"/>
<circle cx="765.6" cy="586.6" r="3.45" fill="#040181" stroke="#040181"/>
<circle cx="785.9" cy="484.1" r="3.45" fill="#000080" stroke="#000080"/>
<circle cx="859.4" cy="429.7" r="3.45" fill="#1f0c86" stroke="#1f0c86"/>
<circle cx="793.6" cy="432.5" r="3.45" fill="#000080" stroke="#000080"/>
<circle cx="938.2" cy="605.4" r="3.45" fill="#2f188b" stroke="#2f188b"/>
<circle cx="937.1" cy="596.1" r="3.45" fill="#7458ae" stroke="#7458ae"/>
<circle cx="762.5" cy="592.0" r="3.45" fill="#050181" stroke="#050181"/>
<circle cx="979.8" cy="258.4" r="3.45" fill="#040181" stroke="#040181"/>
<circle cx="866.2" cy="684.1" r="3.45" fill="#0d0382" stroke="#0d0382"/>
<circle cx="917.8" cy="622.8" r="3.45" fill="#241087" stroke="#241087"/>
<circle cx="880.4" cy="651.3" r="3.45" fill="#876db8" stroke="#876db8"/>
<circle cx="994.9" cy="283.6" r="3.45" fill="#ffffff" stroke="#ffffff"/>
<circle cx="859.6" cy="664.7" r="3.45" fill="#b4a1d3" stroke="#b4a1d3"/>
<circle cx="897.6" cy="254.7" r="3.45" fill="#000080" stroke="#000080"/>
<circle cx="786.6" cy="575.3" r="3.45" fill="#361e8e" stroke="#361e8e"/>
<circle cx="770.5" cy="608.7" r="3.45" fill="#210e87" stroke="#210e87"/>
<circle cx="848.1" cy="377.4" r="3.45" fill="#000080" stroke="#000080"/>
<circle cx="763.1" cy="649.3" r="3.45" fill="#8267b5" stroke="#8267b5"/>
<circle cx="763.5" cy="627.4" r="3.45" fill="#2c168a" stroke="#2c168a"/>
<circle cx="1044.1" cy="213.0" r="3.45" fill="#1d0b85" stroke="#1d0b85"/>
<circle cx="1032.5" cy="154.6" r="3.45" fill="#000080" stroke="#000080"/>
<circle cx="1051.0" cy="139.9" r="3.45" fill="#000080" stroke="#000080"/>
<circle cx="1171.2" cy="106.3" r="3.45" fill="#593d9f" stroke="#593d9f"/>
<circle cx="764.8" cy="628.2" r="3.45" fill="#492e97" stroke="#492e97"/>
<circle cx="1025.1" cy="589.4" r="3.45" fill="#080281" stroke="#080281"/>
<circle cx="795.8" cy="387.9" r="3.45" fill="#000080" stroke="#000080"/>
<circle cx="822.2" cy="403.7" r="3.45" fill="#000080" stroke="#000080"/>
<circle cx="863.6" cy="661.6" r="3.45" fill="#9178be" stroke="#9178be"/>
<circle cx="763.5" cy="650.6" r="3.45" fill="#7b60b1" stroke="#7b60b1"/>
<circle cx="861.8" cy="441.6" r="3.45" fill="#3b2290" stroke="#3b2290"/>
<circle cx="760.8" cy="631.4" r="3.45" fill="#3a2190" stroke="#3a2190"/>
<circle cx="809.4" cy="427.3" r="3.45" fill="#000080" stroke="#000080"/>
<circle cx="857.0" cy="472.0" r="3.45" fill="#ffffff" stroke="#ffffff"/>
<circle cx="763.6" cy="590.4" r="3.45" fill="#070281" stroke="#070281"/>
<circle cx="811.6" cy="547.1" r="3.45" fill="#dcd2ea" stroke="#dcd2ea"/>
<circle cx="883.8" cy="400.7" r="3.45" fill="#402692" stroke="#402692"/>
<circle cx="785.8" cy="584.8" r="3.45" fill="#3c2391" stroke="#3c2391"/>
<circle cx="872.6" cy="415.8" r="3.45" fill="#3a2190" stroke="#3a2190"/>
<circle cx="829.5" cy="337.6" r="3.45" fill="#000080" stroke="#000080"/>
<circle cx="901.1" cy="376.0" r="3.45" fill="#311a8c" stroke="#311a8c"/>
<circle cx="907.9" cy="653.4" r="3.45" fill="#070281" stroke="#070281"/>
<circle cx="766.0" cy="613.1" r="3.45" fill="#150783" stroke="#150783"/>
<circle cx="1119.3" cy="129.0" r="3.45" fill="#0d0382" stroke="#0d0382"/>
<circle cx="1132.4" cy="116.4" r="3.45" fill="#090281" stroke="#090281"/>
<circle cx="911.5" cy="290.9" r="3.45" fill="#000080" stroke="#000080"/>
<circle cx="779.7" cy="615.6" r="3.45" fill="#dcd2ea" stroke="#dcd2ea"/>
<circle cx="977.4" cy="657.6" r="3.45" fill="#000080" stroke="#000080"/>
<circle cx="770.1" cy="593.5" r="3.45" fill="#140683" stroke="#140683"/>
<circle cx="762.5" cy="577.0" r="3.45" fill="#010080" stroke="#010080"/>
<circle cx="772.0" cy="512.2" r="3.45" fill="#000080" stroke="#000080"/>
<circle cx="1031.9" cy="237.0" r="3.45" fill="#3b2290" stroke="#3b2290"/>
<circle cx="898.2" cy="348.4" r="3.45" fill="#060281" stroke="#060281"/>
<circle cx="885.1" cy="668.9" r="3.45" fill="#0e0482" stroke="#0e0482"/>
<circle cx="1117.5" cy="398.0" r="3.45" fill="#6c50a9" stroke="#6c50a9"/>
<circle cx="932.7" cy="312.1" r="3.45" fill="#110583" stroke="#110583"/>
<circle cx="763.8" cy="619.8" r="3.45" fill="#190984" stroke="#190984"/>
<circle cx="876.5" cy="701.5" r="3.45" fill="#000080" stroke="#000080"/>
<circle cx="1148.6" cy="119.8" r="3.45" fill="#422893" stroke="#422893"/>
<circle cx="973.3" cy="165.4" r="3.45" fill="#000080" stroke="#000080"/>
<circle cx="768.2" cy="603.8" r="3.45" fill="#220f87" stroke="#220f87"/>
<circle cx="820.2" cy="511.1" r="3.45" fill="#2b158a" stroke="#2b158a"/>
<circle cx="784.8" cy="577.0" r="3.45" fill="#241087" stroke="#241087"/>
<circle cx="864.9" cy="406.9" r="3.45" fill="#0a0381" stroke="#0a0381"/>
<circle cx="788.9" cy="553.2" r="3.45" fill="#0e0482" stroke="#0e0482"/>
<circle cx="785.8" cy="563.9" r="3.45" fill="#120583" stroke="#120583"/>
<circle cx="911.1" cy="651.9" r="3.45" fill="#060181" stroke="#060181"/>
<circle cx="855.5" cy="701.6" r="3.45" fill="#050181" stroke="#050181"/>
<circle cx="763.2" cy="548.9" r="3.45" fill="#000080" stroke="#000080"/>
<circle cx="784.2" cy="513.1" r="3.45" fill="#000080" stroke="#000080"/>
<circle cx="860.8" cy="688.9" r="3.45" fill="#0d0482" stroke="#0d0482"/>
<circle cx="1031.1" cy="528.2" r="3.45" fill="#0a0381" stroke="#0a0381"/>
<circle cx="767.6" cy="590.3" r="3.45" fill="#070281" stroke="#070281"/>
<circle cx="797.8" cy="556.0" r="3.45" fill="#52369b" stroke="#52369b"/>
<circle cx="796.9" cy="576.8" r="3.45" fill="#b7a4d4" stroke="#b7a4d4"/>
<circle cx="926.4" cy="342.4" r="3.45" fill="#4c3098" stroke="#4c3098"/>
<circle cx="761.2" cy="604.4" r="3.45" fill="#0f0482" stroke="#0f0482"/>
<circle cx="783.0" cy="596.1" r="3.45" fill="#9077be" stroke="#9077be"/>
<circle cx="1109.5" cy="169.5" r="3.45" fill="#ffffff" stroke="#ffffff"/>
<circle cx="826.5" cy="703.0" r="3.45" fill="#2e178b" stroke="#2e178b"/>
<circle cx="1138.3" cy="124.1" r="3.45" fill="#381f8f" stroke="#381f8f"/>
<circle cx="886.4" cy="397.6" r="3.45" fill="#694ca7" stroke="#694ca7"/>
<circle cx="826.6" cy="521.1" r="3.45" fill="#c7b7de" stroke="#c7b7de"/>
<circle cx="792.7" cy="488.1" r="3.45" fill="#000080" stroke="#000080"/>
<circle cx="762.5" cy="604.9" r="3.45" fill="#100482" stroke="#100482"/>
<circle cx="792.6" cy="496.9" r="3.45" fill="#000080" stroke="#000080"/>
<circle cx="1144.9" cy="315.3" r="3.45" fill="#fbf9fc" stroke="#fbf9fc"/>
<circle cx="1008.8" cy="513.0" r="3.45" fill="#aa95cd" stroke="#aa95cd"/>
<circle cx="821.9" cy="692.7" r="3.45" fill="#5f43a2" stroke="#5f43a2"/>
<circle cx="762.4" cy="630.5" r="3.45" fill="#30198c" stroke="#30198c"/>
<circle cx="773.8" cy="599.8" r="3.45" fill="#2d178a" stroke="#2d178a"/>
<circle cx="788.0" cy="598.7" r="3.45" fill="#765aae" stroke="#765aae"/>
<circle cx="802.6" cy="516.3" r="3.45" fill="#050181" stroke="#050181"/>
<circle cx="983.1" cy="205.3" r="3.45" fill="#000080" stroke="#000080"/>
<circle cx="868.4" cy="668.5" r="3.45" fill="#55399d" stroke="#55399d"/>
<circle cx="763.4" cy="632.7" r="3.45" fill="#341c8d" stroke="#341c8d"/>
<circle cx="1117.4" cy="158.6" r="3.45" fill="#f7f5fb" stroke="#f7f5fb"/>
<circle cx="882.6" cy="646.5" r="3.45" fill="#876db8" stroke="#876db8"/>
<circle cx="854.6" cy="469.6" r="3.45" fill="#7f64b4" stroke="#7f64b4"/>
<circle cx="913.3" cy="701.7" r="3.45" fill="#000080" stroke="#000080"/>
<circle cx="911.9" cy="647.4" r="3.45" fill="#140683" stroke="#140683"/>
<circle cx="777.0" cy="561.9" r="3.45" fill="#060281" stroke="#060281"/>
<circle cx="760.6" cy="626.0" r="3.45" fill="#200e86" stroke="#200e86"/>
<circle cx="761.5" cy="511.8" r="3.45" fill="#000080" stroke="#000080"/>
<circle cx="827.5" cy="527.2" r="3.45" fill="#f4f1f9" stroke="#f4f1f9"/>
<circle cx="842.1" cy="492.0" r="3.45" fill="#8d73bc" stroke="#8d73bc"/>
<circle cx="783.1" cy="558.6" r="3.45" fill="#0d0382" stroke="#0d0382"/>
<circle cx="887.5" cy="417.4" r="3.45" fill="#fcfbfd" stroke="#fcfbfd"/>
<circle cx="840.8" cy="704.9" r="3.45" fill="#130683" stroke="#130683"/>
<circle cx="761.7" cy="589.0" r="3.45" fill="#050181" stroke="#050181"/>
<circle cx="922.8" cy="308.9" r="3.45" fill="#030180" stroke="#030180"/>
<circle cx="809.4" cy="499.5" r="3.45" fill="#040181" stroke="#040181"/>
<circle cx="809.2" cy="470.3" r="3.45" fill="#000080" stroke="#000080"/>
<circle cx="817.2" cy="507.6" r="3.45" fill="#170884" stroke="#170884"/>
<circle cx="936.7" cy="632.1" r="3.45" fill="#050181" stroke="#050181"/>
<circle cx="864.3" cy="701.6" r="3.45" fill="#040181" stroke="#040181"/>
<circle cx="844.7" cy="457.9" r="3.45" fill="#1f0d86" stroke="#1f0d86"/>
<circle cx="762.8" cy="657.1" r="3.45" fill="#ab96cd" stroke="#ab96cd"/>
<circle cx="766.7" cy="619.6" r="3.45" fill="#2e178b" stroke="#2e178b"/>
<circle cx="766.7" cy="640.3" r="3.45" fill="#6f53ab" stroke="#6f53ab"/>
<circle cx="1083.0" cy="141.1" r="3.45" fill="#000080" stroke="#000080"/>
<circle cx="825.3" cy="517.8" r="3.45" fill="#4c3098" stroke="#4c3098"/>
<circle cx="799.4" cy="448.8" r="3.45" fill="#000080" stroke="#000080"/>
<circle cx="833.5" cy="456.8" r="3.45" fill="#080281" stroke="#080281"/>
<circle cx="762.1" cy="633.3" r="3.45" fill="#311a8c" stroke="#311a8c"/>
<circle cx="862.2" cy="687.1" r="3.45" fill="#241087" stroke="#241087"/>
<circle cx="812.4" cy="547.8" r="3.45" fill="#8469b6" stroke="#8469b6"/>
<circle cx="841.6" cy="680.6" r="3.45" fill="#dcd3eb" stroke="#dcd3eb"/>
<circle cx="762.5" cy="623.3" r="3.45" fill="#200e86" stroke="#200e86"/>
<circle cx="873.3" cy="699.6" r="3.45" fill="#010080" stroke="#010080"/>
<circle cx="902.5" cy="177.0" r="3.45" fill="#000080" stroke="#000080"/>
<circle cx="833.5" cy="408.5" r="3.45" fill="#000080" stroke="#000080"/>
<circle cx="769.8" cy="604.7" r="3.45" fill="#2c168a" stroke="#2c168a"/>
<circle cx="902.2" cy="325.3" r="3.45" fill="#000080" stroke="#000080"/>
<circle cx="1077.5" cy="148.2" r="3.45" fill="#020080" stroke="#020080"/>
<circle cx="1031.8" cy="473.7" r="3.45" fill="#f6f4fa" stroke="#f6f4fa"/>
<circle cx="849.1" cy="700.7" r="3.45" fill="#1a0a85" stroke="#1a0a85"/>
<circle cx="917.0" cy="355.6" r="3.45" fill="#51359a" stroke="#51359a"/>
<circle cx="763.6" cy="613.2" r="3.45" fill="#0d0382" stroke="#0d0382"/>
<circle cx="764.0" cy="611.2" r="3.45" fill="#150783" stroke="#150783"/>
<circle cx="1052.7" cy="556.5" r="3.45" fill="#080281" stroke="#080281"/>
<circle cx="793.7" cy="550.3" r="3.45" fill="#160784" stroke="#160784"/>
<circle cx="831.2" cy="693.5" r="3.45" fill="#5c40a0" stroke="#5c40a0"/>
</g>
<g id="pts-c" stroke-width="1" fill-opacity="0.5" stroke-opacity="0.62">
<circle cx="1721.2" cy="122.0" r="3.45" fill="#000080" stroke="#000080"/>
<circle cx="1448.1" cy="705.6" r="3.45" fill="#5c40a0" stroke="#5c40a0"/>
<circle cx="1542.7" cy="201.5" r="3.45" fill="#000080" stroke="#000080"/>
<circle cx="1535.3" cy="350.5" r="3.45" fill="#0e0482" stroke="#0e0482"/>
<circle cx="1488.1" cy="700.6" r="3.45" fill="#0c0382" stroke="#0c0382"/>
<circle cx="1712.5" cy="154.7" r="3.45" fill="#030180" stroke="#030180"/>
<circle cx="1597.3" cy="576.6" r="3.45" fill="#7e63b3" stroke="#7e63b3"/>
<circle cx="1482.2" cy="701.2" r="3.45" fill="#170784" stroke="#170784"/>
<circle cx="1410.8" cy="624.1" r="3.45" fill="#7a5fb1" stroke="#7a5fb1"/>
<circle cx="1396.1" cy="621.9" r="3.45" fill="#1d0c85" stroke="#1d0c85"/>
<circle cx="1647.0" cy="159.1" r="3.45" fill="#000080" stroke="#000080"/>
<circle cx="1492.4" cy="435.4" r="3.45" fill="#271288" stroke="#271288"/>
<circle cx="1476.2" cy="704.9" r="3.45" fill="#130683" stroke="#130683"/>
<circle cx="1514.0" cy="408.2" r="3.45" fill="#371f8f" stroke="#371f8f"/>
<circle cx="1788.9" cy="365.8" r="3.45" fill="#0b0382" stroke="#0b0382"/>
<circle cx="1420.9" cy="477.9" r="3.45" fill="#000080" stroke="#000080"/>
<circle cx="1442.6" cy="471.0" r="3.45" fill="#000080" stroke="#000080"/>
<circle cx="1398.4" cy="642.3" r="3.45" fill="#472c96" stroke="#472c96"/>
<circle cx="1506.8" cy="689.9" r="3.45" fill="#030180" stroke="#030180"/>
<circle cx="1428.1" cy="565.6" r="3.45" fill="#492e97" stroke="#492e97"/>
<circle cx="1415.8" cy="548.7" r="3.45" fill="#030180" stroke="#030180"/>
<circle cx="1442.1" cy="510.9" r="3.45" fill="#0c0382" stroke="#0c0382"/>
<circle cx="1466.9" cy="435.4" r="3.45" fill="#010080" stroke="#010080"/>
<circle cx="1399.7" cy="661.8" r="3.45" fill="#dad0e9" stroke="#dad0e9"/>
<circle cx="1464.2" cy="417.9" r="3.45" fill="#000080" stroke="#000080"/>
<circle cx="1632.5" cy="267.4" r="3.45" fill="#4c3198" stroke="#4c3198"/>
<circle cx="1576.6" cy="638.6" r="3.45" fill="#010080" stroke="#010080"/>
<circle cx="1723.7" cy="147.1" r="3.45" fill="#030180" stroke="#030180"/>
<circle cx="1630.7" cy="274.2" r="3.45" fill="#3a2190" stroke="#3a2190"/>
<circle cx="1495.8" cy="702.6" r="3.45" fill="#040181" stroke="#040181"/>
<circle cx="1487.7" cy="703.4" r="3.45" fill="#0b0381" stroke="#0b0381"/>
<circle cx="1513.4" cy="689.0" r="3.45" fill="#020180" stroke="#020180"/>
<circle cx="1588.7" cy="312.9" r="3.45" fill="#684ba7" stroke="#684ba7"/>
<circle cx="1504.7" cy="703.1" r="3.45" fill="#010080" stroke="#010080"/>
<circle cx="1402.4" cy="581.2" r="3.45" fill="#060281" stroke="#060281"/>
<circle cx="1407.4" cy="627.9" r="3.45" fill="#7e63b3" stroke="#7e63b3"/>
<circle cx="1469.4" cy="486.5" r="3.45" fill="#3e2592" stroke="#3e2592"/>
<circle cx="1423.9" cy="478.3" r="3.45" fill="#000080" stroke="#000080"/>
<circle cx="1442.3" cy="465.4" r="3.45" fill="#000080" stroke="#000080"/>
<circle cx="1400.9" cy="636.9" r="3.45" fill="#492e97" stroke="#492e97"/>
<circle cx="1460.3" cy="484.1" r="3.45" fill="#140683" stroke="#140683"/>
<circle cx="1398.5" cy="636.5" r="3.45" fill="#4a2f97" stroke="#4a2f97"/>
<circle cx="1421.3" cy="601.9" r="3.45" fill="#bcaad7" stroke="#bcaad7"/>
<circle cx="1420.7" cy="571.6" r="3.45" fill="#210e87" stroke="#210e87"/>
<circle cx="1398.2" cy="546.8" r="3.45" fill="#000080" stroke="#000080"/>
<circle cx="1408.7" cy="634.3" r="3.45" fill="#d8cee8" stroke="#d8cee8"/>
<circle cx="1501.2" cy="703.6" r="3.45" fill="#020080" stroke="#020080"/>
<circle cx="1398.4" cy="518.8" r="3.45" fill="#000080" stroke="#000080"/>
<circle cx="1555.5" cy="307.8" r="3.45" fill="#010080" stroke="#010080"/>
<circle cx="1490.3" cy="445.4" r="3.45" fill="#412793" stroke="#412793"/>
<circle cx="1718.4" cy="191.7" r="3.45" fill="#9b83c4" stroke="#9b83c4"/>
<circle cx="1409.2" cy="518.4" r="3.45" fill="#000080" stroke="#000080"/>
<circle cx="1397.0" cy="574.5" r="3.45" fill="#010080" stroke="#010080"/>
<circle cx="1707.6" cy="180.2" r="3.45" fill="#190984" stroke="#190984"/>
<circle cx="1643.0" cy="212.0" r="3.45" fill="#010080" stroke="#010080"/>
<circle cx="1483.4" cy="699.8" r="3.45" fill="#0f0482" stroke="#0f0482"/>
<circle cx="1586.7" cy="221.3" r="3.45" fill="#000080" stroke="#000080"/>
<circle cx="1456.0" cy="495.4" r="3.45" fill="#120583" stroke="#120583"/>
<circle cx="1397.1" cy="586.0" r="3.45" fill="#040181" stroke="#040181"/>
<circle cx="1419.2" cy="482.7" r="3.45" fill="#000080" stroke="#000080"/>
<circle cx="1475.8" cy="413.7" r="3.45" fill="#000080" stroke="#000080"/>
<circle cx="1398.6" cy="639.3" r="3.45" fill="#7356ad" stroke="#7356ad"/>
<circle cx="1427.5" cy="565.5" r="3.45" fill="#341c8d" stroke="#341c8d"/>
<circle cx="1398.0" cy="556.6" r="3.45" fill="#000080" stroke="#000080"/>
<circle cx="1542.2" cy="330.8" r="3.45" fill="#020080" stroke="#020080"/>
<circle cx="1698.0" cy="210.7" r="3.45" fill="#7a5eb1" stroke="#7a5eb1"/>
<circle cx="1428.4" cy="552.7" r="3.45" fill="#210e86" stroke="#210e86"/>
<circle cx="1396.5" cy="517.5" r="3.45" fill="#000080" stroke="#000080"/>
<circle cx="1397.7" cy="622.6" r="3.45" fill="#180884" stroke="#180884"/>
<circle cx="1654.2" cy="228.7" r="3.45" fill="#140683" stroke="#140683"/>
<circle cx="1424.4" cy="569.4" r="3.45" fill="#281389" stroke="#281389"/>
<circle cx="1584.4" cy="253.4" r="3.45" fill="#000080" stroke="#000080"/>
<circle cx="1545.0" cy="294.2" r="3.45" fill="#000080" stroke="#000080"/>
<circle cx="1481.6" cy="681.3" r="3.45" fill="#785cb0" stroke="#785cb0"/>
<circle cx="1398.9" cy="586.3" r="3.45" fill="#020180" stroke="#020180"/>
<circle cx="1749.4" cy="150.6" r="3.45" fill="#2b168a" stroke="#2b168a"/>
<circle cx="1483.8" cy="462.6" r="3.45" fill="#4a2f97" stroke="#4a2f97"/>
<circle cx="1708.6" cy="151.1" r="3.45" fill="#010080" stroke="#010080"/>
<circle cx="1466.2" cy="688.8" r="3.45" fill="#8b72bb" stroke="#8b72bb"/>
<circle cx="1527.3" cy="382.1" r="3.45" fill="#2b158a" stroke="#2b158a"/>
<circle cx="1475.1" cy="681.1" r="3.45" fill="#896fb9" stroke="#896fb9"/>
<circle cx="1396.4" cy="569.7" r="3.45" fill="#010080" stroke="#010080"/>
<circle cx="1398.6" cy="568.1" r="3.45" fill="#010080" stroke="#010080"/>
<circle cx="1399.5" cy="516.3" r="3.45" fill="#000080" stroke="#000080"/>
<circle cx="1396.6" cy="622.9" r="3.45" fill="#1a0984" stroke="#1a0984"/>
<circle cx="1493.1" cy="704.5" r="3.45" fill="#040181" stroke="#040181"/>
<circle cx="1651.0" cy="239.8" r="3.45" fill="#160783" stroke="#160783"/>
<circle cx="1571.3" cy="345.2" r="3.45" fill="#b4a1d3" stroke="#b4a1d3"/>
<circle cx="1655.3" cy="237.9" r="3.45" fill="#230f87" stroke="#230f87"/>
<circle cx="1407.2" cy="450.4" r="3.45" fill="#000080" stroke="#000080"/>
<circle cx="1681.5" cy="204.9" r="3.45" fill="#170884" stroke="#170884"/>
<circle cx="1567.2" cy="621.2" r="3.45" fill="#140683" stroke="#140683"/>
<circle cx="1605.7" cy="289.8" r="3.45" fill="#2d168a" stroke="#2d168a"/>
<circle cx="1789.9" cy="125.2" r="3.45" fill="#7256ac" stroke="#7256ac"/>
<circle cx="1748.0" cy="141.1" r="3.45" fill="#1c0b85" stroke="#1c0b85"/>
<circle cx="1754.6" cy="125.3" r="3.45" fill="#0c0382" stroke="#0c0382"/>
<circle cx="1760.6" cy="376.7" r="3.45" fill="#876db8" stroke="#876db8"/>
<circle cx="1417.5" cy="596.7" r="3.45" fill="#7a5fb1" stroke="#7a5fb1"/>
<circle cx="1553.0" cy="694.0" r="3.45" fill="#000080" stroke="#000080"/>
<circle cx="1570.6" cy="166.5" r="3.45" fill="#000080" stroke="#000080"/>
<circle cx="1548.6" cy="362.5" r="3.45" fill="#3f2592" stroke="#3f2592"/>
<circle cx="1889.7" cy="121.5" r="3.45" fill="#ddd3eb" stroke="#ddd3eb"/>
<circle cx="1396.2" cy="646.3" r="3.45" fill="#442994" stroke="#442994"/>
<circle cx="1697.9" cy="189.9" r="3.45" fill="#170884" stroke="#170884"/>
<circle cx="1764.5" cy="118.1" r="3.45" fill="#0f0482" stroke="#0f0482"/>
<circle cx="1487.4" cy="470.0" r="3.45" fill="#7458ad" stroke="#7458ad"/>
<circle cx="1663.0" cy="481.8" r="3.45" fill="#f6f4fa" stroke="#f6f4fa"/>
<circle cx="1427.2" cy="392.4" r="3.45" fill="#000080" stroke="#000080"/>
<circle cx="1509.0" cy="653.5" r="3.45" fill="#b7a5d5" stroke="#b7a5d5"/>
<circle cx="1416.2" cy="614.9" r="3.45" fill="#a791cb" stroke="#a791cb"/>
<circle cx="1440.2" cy="367.7" r="3.45" fill="#000080" stroke="#000080"/>
<circle cx="1396.8" cy="550.2" r="3.45" fill="#000080" stroke="#000080"/>
<circle cx="1396.1" cy="632.7" r="3.45" fill="#2a1489" stroke="#2a1489"/>
<circle cx="1501.8" cy="703.5" r="3.45" fill="#010080" stroke="#010080"/>
<circle cx="1473.5" cy="457.8" r="3.45" fill="#110583" stroke="#110583"/>
<circle cx="1418.8" cy="598.8" r="3.45" fill="#9a82c3" stroke="#9a82c3"/>
<circle cx="1883.8" cy="174.6" r="3.45" fill="#080281" stroke="#080281"/>
<circle cx="1415.0" cy="606.5" r="3.45" fill="#6548a5" stroke="#6548a5"/>
<circle cx="1562.0" cy="340.7" r="3.45" fill="#261288" stroke="#261288"/>
<circle cx="1512.7" cy="402.8" r="3.45" fill="#31198c" stroke="#31198c"/>
<circle cx="1451.2" cy="504.3" r="3.45" fill="#110583" stroke="#110583"/>
<circle cx="1418.8" cy="597.8" r="3.45" fill="#846ab7" stroke="#846ab7"/>
<circle cx="1826.3" cy="350.6" r="3.45" fill="#080281" stroke="#080281"/>
<circle cx="1428.8" cy="526.3" r="3.45" fill="#030180" stroke="#030180"/>
<circle cx="1778.9" cy="129.3" r="3.45" fill="#5c40a0" stroke="#5c40a0"/>
<circle cx="1407.9" cy="498.1" r="3.45" fill="#000080" stroke="#000080"/>
<circle cx="1642.9" cy="266.1" r="3.45" fill="#492e97" stroke="#492e97"/>
<circle cx="1505.5" cy="422.4" r="3.45" fill="#2e188b" stroke="#2e188b"/>
<circle cx="1400.5" cy="587.6" r="3.45" fill="#050181" stroke="#050181"/>
<circle cx="1433.2" cy="470.2" r="3.45" fill="#000080" stroke="#000080"/>
<circle cx="1473.5" cy="702.8" r="3.45" fill="#140683" stroke="#140683"/>
<circle cx="1422.9" cy="533.4" r="3.45" fill="#040181" stroke="#040181"/>
<circle cx="1775.0" cy="134.6" r="3.45" fill="#6649a5" stroke="#6649a5"/>
<circle cx="1674.7" cy="157.5" r="3.45" fill="#000080" stroke="#000080"/>
<circle cx="1401.4" cy="652.7" r="3.45" fill="#b8a6d5" stroke="#b8a6d5"/>
<circle cx="1632.5" cy="637.0" r="3.45" fill="#0b0382" stroke="#0b0382"/>
<circle cx="1396.3" cy="641.3" r="3.45" fill="#52369b" stroke="#52369b"/>
<circle cx="1399.0" cy="638.0" r="3.45" fill="#331c8d" stroke="#331c8d"/>
<circle cx="1474.9" cy="684.5" r="3.45" fill="#7458ad" stroke="#7458ad"/>
<circle cx="1454.7" cy="316.5" r="3.45" fill="#000080" stroke="#000080"/>
<circle cx="1654.1" cy="488.8" r="3.45" fill="#f2eef7" stroke="#f2eef7"/>
<circle cx="1659.5" cy="225.1" r="3.45" fill="#0b0381" stroke="#0b0381"/>
<circle cx="1535.8" cy="259.9" r="3.45" fill="#000080" stroke="#000080"/>
<circle cx="1745.6" cy="110.2" r="3.45" fill="#010080" stroke="#010080"/>
<circle cx="1403.8" cy="538.6" r="3.45" fill="#000080" stroke="#000080"/>
<circle cx="1479.6" cy="697.3" r="3.45" fill="#120583" stroke="#120583"/>
<circle cx="1509.8" cy="390.9" r="3.45" fill="#0b0382" stroke="#0b0382"/>
<circle cx="1682.0" cy="215.4" r="3.45" fill="#351d8e" stroke="#351d8e"/>
<circle cx="1462.1" cy="686.2" r="3.45" fill="#9178be" stroke="#9178be"/>
<circle cx="1433.3" cy="521.1" r="3.45" fill="#030180" stroke="#030180"/>
<circle cx="1788.9" cy="131.8" r="3.45" fill="#d1c4e4" stroke="#d1c4e4"/>
<circle cx="1472.1" cy="448.5" r="3.45" fill="#040181" stroke="#040181"/>
<circle cx="1427.7" cy="563.9" r="3.45" fill="#341c8d" stroke="#341c8d"/>
<circle cx="1396.4" cy="658.3" r="3.45" fill="#9279bf" stroke="#9279bf"/>
<circle cx="1396.2" cy="643.9" r="3.45" fill="#452a95" stroke="#452a95"/>
<circle cx="1628.4" cy="537.3" r="3.45" fill="#b29fd2" stroke="#b29fd2"/>
<circle cx="1468.2" cy="698.8" r="3.45" fill="#311a8c" stroke="#311a8c"/>
<circle cx="1518.8" cy="376.3" r="3.45" fill="#070281" stroke="#070281"/>
<circle cx="1401.6" cy="578.8" r="3.45" fill="#030180" stroke="#030180"/>
<circle cx="1413.4" cy="412.3" r="3.45" fill="#000080" stroke="#000080"/>
<circle cx="1749.6" cy="130.3" r="3.45" fill="#0c0382" stroke="#0c0382"/>
<circle cx="1794.0" cy="87.1" r="3.45" fill="#070281" stroke="#070281"/>
<circle cx="1548.0" cy="366.9" r="3.45" fill="#4b3098" stroke="#4b3098"/>
<circle cx="1664.0" cy="526.3" r="3.45" fill="#100482" stroke="#100482"/>
<circle cx="1402.5" cy="474.9" r="3.45" fill="#000080" stroke="#000080"/>
<circle cx="1412.0" cy="553.1" r="3.45" fill="#030180" stroke="#030180"/>
<circle cx="1434.3" cy="509.8" r="3.45" fill="#030180" stroke="#030180"/>
<circle cx="1411.9" cy="449.1" r="3.45" fill="#000080" stroke="#000080"/>
<circle cx="1434.3" cy="550.0" r="3.45" fill="#402692" stroke="#402692"/>
<circle cx="1398.6" cy="613.3" r="3.45" fill="#180884" stroke="#180884"/>
<circle cx="1396.8" cy="563.5" r="3.45" fill="#010080" stroke="#010080"/>
<circle cx="1889.2" cy="130.9" r="3.45" fill="#9077bd" stroke="#9077bd"/>
<circle cx="1396.5" cy="579.0" r="3.45" fill="#010080" stroke="#010080"/>
<circle cx="1447.7" cy="498.5" r="3.45" fill="#0b0382" stroke="#0b0382"/>
<circle cx="1813.2" cy="97.3" r="3.45" fill="#6c50a9" stroke="#6c50a9"/>
<circle cx="1399.3" cy="633.3" r="3.45" fill="#3e2491" stroke="#3e2491"/>
<circle cx="1412.7" cy="612.4" r="3.45" fill="#8368b6" stroke="#8368b6"/>
<circle cx="1420.8" cy="570.0" r="3.45" fill="#251188" stroke="#251188"/>
<circle cx="1611.6" cy="143.9" r="3.45" fill="#000080" stroke="#000080"/>
<circle cx="1534.5" cy="658.3" r="3.45" fill="#190984" stroke="#190984"/>
<circle cx="1825.1" cy="92.0" r="3.45" fill="#6346a4" stroke="#6346a4"/>
<circle cx="1399.0" cy="572.8" r="3.45" fill="#020080" stroke="#020080"/>
<circle cx="1740.4" cy="148.2" r="3.45" fill="#271288" stroke="#271288"/>
<circle cx="1400.0" cy="552.7" r="3.45" fill="#000080" stroke="#000080"/>
<circle cx="1505.6" cy="699.3" r="3.45" fill="#010080" stroke="#010080"/>
<circle cx="1577.6" cy="213.5" r="3.45" fill="#000080" stroke="#000080"/>
<circle cx="1541.9" cy="348.9" r="3.45" fill="#0d0382" stroke="#0d0382"/>
<circle cx="1522.0" cy="666.2" r="3.45" fill="#160784" stroke="#160784"/>
<circle cx="1640.3" cy="261.5" r="3.45" fill="#452a95" stroke="#452a95"/>
<circle cx="1662.6" cy="152.1" r="3.45" fill="#000080" stroke="#000080"/>
<circle cx="1401.1" cy="648.0" r="3.45" fill="#5a3d9f" stroke="#5a3d9f"/>
<circle cx="1434.3" cy="374.4" r="3.45" fill="#000080" stroke="#000080"/>
<circle cx="1454.7" cy="704.5" r="3.45" fill="#3c2391" stroke="#3c2391"/>
<circle cx="1518.6" cy="414.3" r="3.45" fill="#7f64b4" stroke="#7f64b4"/>
<circle cx="1429.0" cy="586.3" r="3.45" fill="#d8cde8" stroke="#d8cde8"/>
<circle cx="1398.0" cy="613.9" r="3.45" fill="#0f0482" stroke="#0f0482"/>
<circle cx="1529.7" cy="329.9" r="3.45" fill="#000080" stroke="#000080"/>
<circle cx="1426.4" cy="549.1" r="3.45" fill="#190984" stroke="#190984"/>
<circle cx="1556.5" cy="673.7" r="3.45" fill="#000080" stroke="#000080"/>
<circle cx="1469.7" cy="498.7" r="3.45" fill="#7f64b4" stroke="#7f64b4"/>
<circle cx="1409.9" cy="597.9" r="3.45" fill="#261288" stroke="#261288"/>
<circle cx="1397.4" cy="583.0" r="3.45" fill="#040181" stroke="#040181"/>
<circle cx="1640.1" cy="256.3" r="3.45" fill="#230f87" stroke="#230f87"/>
<circle cx="1427.6" cy="506.2" r="3.45" fill="#010080" stroke="#010080"/>
<circle cx="1405.1" cy="634.3" r="3.45" fill="#7155ac" stroke="#7155ac"/>
<circle cx="1550.5" cy="345.3" r="3.45" fill="#210e87" stroke="#210e87"/>
<circle cx="1492.5" cy="302.7" r="3.45" fill="#000080" stroke="#000080"/>
<circle cx="1408.6" cy="617.4" r="3.45" fill="#55399c" stroke="#55399c"/>
<circle cx="1472.3" cy="384.7" r="3.45" fill="#000080" stroke="#000080"/>
<circle cx="1479.1" cy="704.3" r="3.45" fill="#0d0482" stroke="#0d0482"/>
<circle cx="1398.7" cy="657.7" r="3.45" fill="#7256ac" stroke="#7256ac"/>
<circle cx="1398.5" cy="560.5" r="3.45" fill="#000080" stroke="#000080"/>
<circle cx="1463.8" cy="518.9" r="3.45" fill="#e4dcef" stroke="#e4dcef"/>
<circle cx="1587.8" cy="313.2" r="3.45" fill="#4a2e97" stroke="#4a2e97"/>
<circle cx="1647.8" cy="222.1" r="3.45" fill="#050181" stroke="#050181"/>
<circle cx="1827.7" cy="84.5" r="3.45" fill="#563a9d" stroke="#563a9d"/>
<circle cx="1591.7" cy="238.1" r="3.45" fill="#000080" stroke="#000080"/>
<circle cx="1397.1" cy="445.5" r="3.45" fill="#000080" stroke="#000080"/>
<circle cx="1503.4" cy="362.6" r="3.45" fill="#000080" stroke="#000080"/>
<circle cx="1517.5" cy="680.1" r="3.45" fill="#050181" stroke="#050181"/>
<circle cx="1397.0" cy="550.2" r="3.45" fill="#000080" stroke="#000080"/>
<circle cx="1395.9" cy="623.6" r="3.45" fill="#241188" stroke="#241188"/>
<circle cx="1401.1" cy="587.5" r="3.45" fill="#090281" stroke="#090281"/>
<circle cx="1462.1" cy="290.7" r="3.45" fill="#000080" stroke="#000080"/>
<circle cx="1616.1" cy="188.7" r="3.45" fill="#000080" stroke="#000080"/>
<circle cx="1660.3" cy="112.9" r="3.45" fill="#000080" stroke="#000080"/>
<circle cx="1425.6" cy="570.9" r="3.45" fill="#371f8e" stroke="#371f8e"/>
<circle cx="1686.3" cy="459.5" r="3.45" fill="#b29fd2" stroke="#b29fd2"/>
<circle cx="1403.6" cy="630.1" r="3.45" fill="#6549a5" stroke="#6549a5"/>
<circle cx="1822.2" cy="99.3" r="3.45" fill="#b19dd1" stroke="#b19dd1"/>
<circle cx="1414.9" cy="508.4" r="3.45" fill="#000080" stroke="#000080"/>
<circle cx="1795.6" cy="417.0" r="3.45" fill="#080281" stroke="#080281"/>
<circle cx="1421.0" cy="595.6" r="3.45" fill="#8d74bc" stroke="#8d74bc"/>
<circle cx="1396.5" cy="524.4" r="3.45" fill="#000080" stroke="#000080"/>
<circle cx="1711.4" cy="428.0" r="3.45" fill="#aa95cd" stroke="#aa95cd"/>
<circle cx="1432.2" cy="577.0" r="3.45" fill="#947cc0" stroke="#947cc0"/>
<circle cx="1398.0" cy="643.6" r="3.45" fill="#7357ad" stroke="#7357ad"/>
<circle cx="1434.5" cy="540.4" r="3.45" fill="#1d0b85" stroke="#1d0b85"/>
<circle cx="1412.3" cy="552.7" r="3.45" fill="#010080" stroke="#010080"/>
<circle cx="1403.6" cy="384.9" r="3.45" fill="#000080" stroke="#000080"/>
<circle cx="1486.0" cy="693.5" r="3.45" fill="#170784" stroke="#170784"/>
<circle cx="1477.1" cy="488.9" r="3.45" fill="#b19dd1" stroke="#b19dd1"/>
<circle cx="1708.2" cy="199.4" r="3.45" fill="#e5def0" stroke="#e5def0"/>
<circle cx="1414.8" cy="547.7" r="3.45" fill="#030180" stroke="#030180"/>
<circle cx="1484.1" cy="485.0" r="3.45" fill="#d4c8e5" stroke="#d4c8e5"/>
<circle cx="1397.4" cy="617.6" r="3.45" fill="#261188" stroke="#261188"/>
<circle cx="1405.1" cy="506.7" r="3.45" fill="#000080" stroke="#000080"/>
<circle cx="1407.8" cy="544.0" r="3.45" fill="#000080" stroke="#000080"/>
<circle cx="1398.9" cy="489.3" r="3.45" fill="#000080" stroke="#000080"/>
<circle cx="1423.4" cy="410.3" r="3.45" fill="#000080" stroke="#000080"/>
<circle cx="1819.3" cy="89.0" r="3.45" fill="#2d178a" stroke="#2d178a"/>
<circle cx="1395.8" cy="656.9" r="3.45" fill="#9c84c4" stroke="#9c84c4"/>
<circle cx="1398.7" cy="648.3" r="3.45" fill="#5e41a1" stroke="#5e41a1"/>
<circle cx="1413.6" cy="620.4" r="3.45" fill="#9e86c5" stroke="#9e86c5"/>
<circle cx="1429.9" cy="586.0" r="3.45" fill="#ffffff" stroke="#ffffff"/>
<circle cx="1407.2" cy="623.5" r="3.45" fill="#765baf" stroke="#765baf"/>
<circle cx="1397.2" cy="636.8" r="3.45" fill="#482d96" stroke="#482d96"/>
<circle cx="1487.7" cy="348.4" r="3.45" fill="#000080" stroke="#000080"/>
<circle cx="1430.5" cy="572.4" r="3.45" fill="#b29fd2" stroke="#b29fd2"/>
<circle cx="1580.7" cy="272.4" r="3.45" fill="#000080" stroke="#000080"/>
<circle cx="1435.1" cy="377.8" r="3.45" fill="#000080" stroke="#000080"/>
<circle cx="1532.6" cy="634.5" r="3.45" fill="#6549a5" stroke="#6549a5"/>
<circle cx="1499.3" cy="695.5" r="3.45" fill="#070281" stroke="#070281"/>
<circle cx="1402.8" cy="636.8" r="3.45" fill="#593d9f" stroke="#593d9f"/>
<circle cx="1649.1" cy="226.6" r="3.45" fill="#050181" stroke="#050181"/>
<circle cx="1718.7" cy="176.8" r="3.45" fill="#361d8e" stroke="#361d8e"/>
<circle cx="1398.7" cy="565.7" r="3.45" fill="#000080" stroke="#000080"/>
<circle cx="1479.9" cy="675.9" r="3.45" fill="#b7a4d4" stroke="#b7a4d4"/>
<circle cx="1408.1" cy="617.5" r="3.45" fill="#5e42a1" stroke="#5e42a1"/>
<circle cx="1485.9" cy="345.4" r="3.45" fill="#000080" stroke="#000080"/>
<circle cx="1398.4" cy="621.5" r="3.45" fill="#220f87" stroke="#220f87"/>
<circle cx="1456.7" cy="694.0" r="3.45" fill="#6f53ab" stroke="#6f53ab"/>
<circle cx="1411.3" cy="575.4" r="3.45" fill="#0b0381" stroke="#0b0381"/>
<circle cx="1611.9" cy="237.0" r="3.45" fill="#010080" stroke="#010080"/>
<circle cx="1396.2" cy="615.0" r="3.45" fill="#130683" stroke="#130683"/>
<circle cx="1415.5" cy="621.0" r="3.45" fill="#b4a1d3" stroke="#b4a1d3"/>
<circle cx="1421.3" cy="581.4" r="3.45" fill="#3c2391" stroke="#3c2391"/>
<circle cx="1766.0" cy="128.5" r="3.45" fill="#220f87" stroke="#220f87"/>
<circle cx="1794.8" cy="91.2" r="3.45" fill="#070281" stroke="#070281"/>
<circle cx="1486.1" cy="431.9" r="3.45" fill="#0a0281" stroke="#0a0281"/>
<circle cx="1649.9" cy="227.6" r="3.45" fill="#040181" stroke="#040181"/>
<circle cx="1530.1" cy="335.6" r="3.45" fill="#010080" stroke="#010080"/>
<circle cx="1561.2" cy="154.0" r="3.45" fill="#000080" stroke="#000080"/>
<circle cx="1570.7" cy="320.3" r="3.45" fill="#231087" stroke="#231087"/>
<circle cx="1544.7" cy="353.0" r="3.45" fill="#2b158a" stroke="#2b158a"/>
<circle cx="1421.8" cy="517.2" r="3.45" fill="#010080" stroke="#010080"/>
<circle cx="1498.2" cy="329.5" r="3.45" fill="#000080" stroke="#000080"/>
<circle cx="1398.8" cy="590.2" r="3.45" fill="#060281" stroke="#060281"/>
<circle cx="1401.5" cy="611.8" r="3.45" fill="#261288" stroke="#261288"/>
<circle cx="1401.4" cy="629.6" r="3.45" fill="#51359b" stroke="#51359b"/>
<circle cx="1444.9" cy="704.5" r="3.45" fill="#775baf" stroke="#775baf"/>
<circle cx="1531.9" cy="322.9" r="3.45" fill="#000080" stroke="#000080"/>
<circle cx="1470.6" cy="703.8" r="3.45" fill="#190984" stroke="#190984"/>
<circle cx="1401.5" cy="624.7" r="3.45" fill="#261188" stroke="#261188"/>
<circle cx="1417.9" cy="575.5" r="3.45" fill="#190984" stroke="#190984"/>
<circle cx="1399.2" cy="584.5" r="3.45" fill="#040181" stroke="#040181"/>
<circle cx="1398.6" cy="626.6" r="3.45" fill="#220f87" stroke="#220f87"/>
<circle cx="1533.6" cy="677.7" r="3.45" fill="#010080" stroke="#010080"/>
<circle cx="1397.8" cy="627.8" r="3.45" fill="#1e0c86" stroke="#1e0c86"/>
<circle cx="1524.4" cy="349.1" r="3.45" fill="#020080" stroke="#020080"/>
<circle cx="1397.8" cy="617.3" r="3.45" fill="#251188" stroke="#251188"/>
<circle cx="1590.7" cy="314.7" r="3.45" fill="#593d9f" stroke="#593d9f"/>
<circle cx="1478.0" cy="480.2" r="3.45" fill="#e1d8ed" stroke="#e1d8ed"/>
<circle cx="1493.4" cy="664.7" r="3.45" fill="#f0ecf6" stroke="#f0ecf6"/>
<circle cx="1396.8" cy="629.4" r="3.45" fill="#2a1489" stroke="#2a1489"/>
<circle cx="1710.1" cy="173.8" r="3.45" fill="#100582" stroke="#100582"/>
<circle cx="1469.8" cy="466.1" r="3.45" fill="#100482" stroke="#100482"/>
<circle cx="1481.3" cy="688.5" r="3.45" fill="#271388" stroke="#271388"/>
<circle cx="1769.7" cy="116.4" r="3.45" fill="#0d0382" stroke="#0d0382"/>
<circle cx="1408.4" cy="617.2" r="3.45" fill="#5c40a0" stroke="#5c40a0"/>
<circle cx="1533.6" cy="652.6" r="3.45" fill="#231087" stroke="#231087"/>
<circle cx="1834.7" cy="269.6" r="3.45" fill="#100482" stroke="#100482"/>
<circle cx="1672.2" cy="228.8" r="3.45" fill="#2c168a" stroke="#2c168a"/>
<circle cx="1701.2" cy="178.2" r="3.45" fill="#0b0382" stroke="#0b0382"/>
<circle cx="1398.6" cy="608.5" r="3.45" fill="#0b0382" stroke="#0b0382"/>
<circle cx="1471.3" cy="484.4" r="3.45" fill="#381f8f" stroke="#381f8f"/>
<circle cx="1593.2" cy="272.3" r="3.45" fill="#020180" stroke="#020180"/>
<circle cx="1402.7" cy="625.4" r="3.45" fill="#51359b" stroke="#51359b"/>
<circle cx="1398.1" cy="591.6" r="3.45" fill="#060281" stroke="#060281"/>
<circle cx="1632.5" cy="605.2" r="3.45" fill="#0b0382" stroke="#0b0382"/>
<circle cx="1396.5" cy="585.0" r="3.45" fill="#040181" stroke="#040181"/>
<circle cx="1711.5" cy="184.4" r="3.45" fill="#311a8c" stroke="#311a8c"/>
<circle cx="1408.6" cy="370.2" r="3.45" fill="#000080" stroke="#000080"/>
<circle cx="1764.5" cy="150.4" r="3.45" fill="#e5def0" stroke="#e5def0"/>
<circle cx="1553.9" cy="355.7" r="3.45" fill="#5d41a1" stroke="#5d41a1"/>
<circle cx="1480.0" cy="460.7" r="3.45" fill="#2e178b" stroke="#2e178b"/>
<circle cx="1679.1" cy="202.9" r="3.45" fill="#0a0381" stroke="#0a0381"/>
<circle cx="1447.4" cy="489.9" r="3.45" fill="#050181" stroke="#050181"/>
<circle cx="1396.5" cy="533.3" r="3.45" fill="#000080" stroke="#000080"/>
<circle cx="1488.5" cy="673.7" r="3.45" fill="#886eb9" stroke="#886eb9"/>
<circle cx="1452.9" cy="543.6" r="3.45" fill="#ffffff" stroke="#ffffff"/>
<circle cx="1473.9" cy="687.7" r="3.45" fill="#7e63b3" stroke="#7e63b3"/>
<circle cx="1682.0" cy="192.7" r="3.45" fill="#040181" stroke="#040181"/>
<circle cx="1540.4" cy="700.6" r="3.45" fill="#000080" stroke="#000080"/>
<circle cx="1397.1" cy="595.6" r="3.45" fill="#050181" stroke="#050181"/>
<circle cx="1531.3" cy="656.5" r="3.45" fill="#1f0d86" stroke="#1f0d86"/>
<circle cx="1467.8" cy="505.9" r="3.45" fill="#6649a6" stroke="#6649a6"/>
<circle cx="1551.2" cy="289.3" r="3.45" fill="#000080" stroke="#000080"/>
<circle cx="1397.4" cy="615.4" r="3.45" fill="#1d0b85" stroke="#1d0b85"/>
<circle cx="1566.6" cy="235.1" r="3.45" fill="#000080" stroke="#000080"/>
<circle cx="1421.3" cy="562.6" r="3.45" fill="#1f0c86" stroke="#1f0c86"/>
<circle cx="1511.7" cy="433.6" r="3.45" fill="#c7b8de" stroke="#c7b8de"/>
<circle cx="1416.4" cy="406.7" r="3.45" fill="#000080" stroke="#000080"/>
<circle cx="1622.9" cy="557.1" r="3.45" fill="#7e63b3" stroke="#7e63b3"/>
<circle cx="1796.9" cy="303.9" r="3.45" fill="#d4c9e6" stroke="#d4c9e6"/>
<circle cx="1407.0" cy="564.5" r="3.45" fill="#020080" stroke="#020080"/>
<circle cx="1597.6" cy="312.8" r="3.45" fill="#ffffff" stroke="#ffffff"/>
<circle cx="1570.0" cy="267.6" r="3.45" fill="#000080" stroke="#000080"/>
<circle cx="1546.0" cy="616.1" r="3.45" fill="#ffffff" stroke="#ffffff"/>
<circle cx="1544.8" cy="375.7" r="3.45" fill="#795db0" stroke="#795db0"/>
<circle cx="1770.1" cy="346.7" r="3.45" fill="#d4c9e6" stroke="#d4c9e6"/>
<circle cx="1396.6" cy="496.8" r="3.45" fill="#000080" stroke="#000080"/>
<circle cx="1502.5" cy="657.8" r="3.45" fill="#a893cc" stroke="#a893cc"/>
<circle cx="1455.3" cy="699.6" r="3.45" fill="#55399d" stroke="#55399d"/>
<circle cx="1401.7" cy="603.4" r="3.45" fill="#1a0984" stroke="#1a0984"/>
<circle cx="1407.9" cy="467.7" r="3.45" fill="#000080" stroke="#000080"/>
<circle cx="1442.0" cy="496.9" r="3.45" fill="#030180" stroke="#030180"/>
<circle cx="1463.0" cy="495.6" r="3.45" fill="#442994" stroke="#442994"/>
<circle cx="1603.0" cy="192.7" r="3.45" fill="#000080" stroke="#000080"/>
<circle cx="1396.0" cy="587.2" r="3.45" fill="#040181" stroke="#040181"/>
<circle cx="1410.0" cy="633.6" r="3.45" fill="#a58fca" stroke="#a58fca"/>
<circle cx="1406.4" cy="580.4" r="3.45" fill="#0c0382" stroke="#0c0382"/>
<circle cx="1403.4" cy="625.8" r="3.45" fill="#3f2592" stroke="#3f2592"/>
<circle cx="1399.3" cy="659.7" r="3.45" fill="#ffffff" stroke="#ffffff"/>
<circle cx="1451.6" cy="513.3" r="3.45" fill="#271288" stroke="#271288"/>
<circle cx="1595.7" cy="273.5" r="3.45" fill="#030180" stroke="#030180"/>
<circle cx="1517.1" cy="696.3" r="3.45" fill="#010080" stroke="#010080"/>
<circle cx="1396.4" cy="594.9" r="3.45" fill="#070281" stroke="#070281"/>
<circle cx="1437.0" cy="522.7" r="3.45" fill="#0a0381" stroke="#0a0381"/>
<circle cx="1840.1" cy="224.8" r="3.45" fill="#fbf9fc" stroke="#fbf9fc"/>
<circle cx="1502.9" cy="656.9" r="3.45" fill="#c0afda" stroke="#c0afda"/>
<circle cx="1727.3" cy="132.2" r="3.45" fill="#020080" stroke="#020080"/>
<circle cx="1397.8" cy="620.7" r="3.45" fill="#170884" stroke="#170884"/>
<circle cx="1471.1" cy="702.0" r="3.45" fill="#1f0d86" stroke="#1f0d86"/>
<circle cx="1440.5" cy="569.4" r="3.45" fill="#efebf6" stroke="#efebf6"/>
<circle cx="1734.5" cy="152.6" r="3.45" fill="#170884" stroke="#170884"/>
<circle cx="1396.9" cy="586.9" r="3.45" fill="#060181" stroke="#060181"/>
<circle cx="1432.6" cy="578.8" r="3.45" fill="#c2b1db" stroke="#c2b1db"/>
<circle cx="1487.7" cy="697.9" r="3.45" fill="#150783" stroke="#150783"/>
<circle cx="1399.2" cy="608.9" r="3.45" fill="#100582" stroke="#100582"/>
<circle cx="1465.7" cy="705.6" r="3.45" fill="#200d86" stroke="#200d86"/>
<circle cx="1398.5" cy="622.2" r="3.45" fill="#251188" stroke="#251188"/>
<circle cx="1536.6" cy="387.9" r="3.45" fill="#ffffff" stroke="#ffffff"/>
<circle cx="1707.1" cy="195.8" r="3.45" fill="#684ca7" stroke="#684ca7"/>
<circle cx="1405.3" cy="517.0" r="3.45" fill="#000080" stroke="#000080"/>
<circle cx="1486.9" cy="404.3" r="3.45" fill="#010080" stroke="#010080"/>
<circle cx="1465.5" cy="704.0" r="3.45" fill="#210e86" stroke="#210e86"/>
<circle cx="1486.8" cy="461.1" r="3.45" fill="#462b95" stroke="#462b95"/>
<circle cx="1473.7" cy="439.9" r="3.45" fill="#040180" stroke="#040180"/>
<circle cx="1398.6" cy="628.3" r="3.45" fill="#2a1489" stroke="#2a1489"/>
<circle cx="1583.7" cy="321.4" r="3.45" fill="#6a4ea8" stroke="#6a4ea8"/>
<circle cx="1755.2" cy="139.1" r="3.45" fill="#200d86" stroke="#200d86"/>
<circle cx="1696.6" cy="216.0" r="3.45" fill="#684ba7" stroke="#684ba7"/>
<circle cx="1577.5" cy="337.2" r="3.45" fill="#9a83c4" stroke="#9a83c4"/>
<circle cx="1500.0" cy="456.4" r="3.45" fill="#b8a6d5" stroke="#b8a6d5"/>
<circle cx="1485.9" cy="701.4" r="3.45" fill="#090281" stroke="#090281"/>
<circle cx="1650.6" cy="546.8" r="3.45" fill="#120583" stroke="#120583"/>
<circle cx="1402.3" cy="569.9" r="3.45" fill="#040181" stroke="#040181"/>
<circle cx="1848.3" cy="369.0" r="3.45" fill="#080281" stroke="#080281"/>
<circle cx="1569.7" cy="244.3" r="3.45" fill="#000080" stroke="#000080"/>
<circle cx="1422.9" cy="520.4" r="3.45" fill="#010080" stroke="#010080"/>
<circle cx="1402.3" cy="484.5" r="3.45" fill="#000080" stroke="#000080"/>
<circle cx="1397.4" cy="623.3" r="3.45" fill="#200e86" stroke="#200e86"/>
<circle cx="1613.6" cy="283.2" r="3.45" fill="#452b95" stroke="#452b95"/>
<circle cx="1435.0" cy="564.7" r="3.45" fill="#563a9d" stroke="#563a9d"/>
<circle cx="1496.1" cy="703.8" r="3.45" fill="#030180" stroke="#030180"/>
<circle cx="1711.7" cy="139.2" r="3.45" fill="#000080" stroke="#000080"/>
<circle cx="1464.4" cy="468.5" r="3.45" fill="#080281" stroke="#080281"/>
<circle cx="1566.3" cy="271.4" r="3.45" fill="#000080" stroke="#000080"/>
<circle cx="1644.2" cy="207.4" r="3.45" fill="#000080" stroke="#000080"/>
<circle cx="1563.2" cy="291.9" r="3.45" fill="#000080" stroke="#000080"/>
<circle cx="1444.4" cy="470.5" r="3.45" fill="#000080" stroke="#000080"/>
<circle cx="1700.4" cy="183.6" r="3.45" fill="#0d0382" stroke="#0d0382"/>
<circle cx="1497.8" cy="702.3" r="3.45" fill="#030180" stroke="#030180"/>
<circle cx="1495.1" cy="699.9" r="3.45" fill="#040181" stroke="#040181"/>
<circle cx="1671.1" cy="224.3" r="3.45" fill="#2e178b" stroke="#2e178b"/>
<circle cx="1397.9" cy="645.3" r="3.45" fill="#53379b" stroke="#53379b"/>
<circle cx="1621.9" cy="198.2" r="3.45" fill="#000080" stroke="#000080"/>
<circle cx="1428.5" cy="533.5" r="3.45" fill="#0d0382" stroke="#0d0382"/>
<circle cx="1529.3" cy="395.2" r="3.45" fill="#886db9" stroke="#886db9"/>
<circle cx="1660.1" cy="211.6" r="3.45" fill="#040181" stroke="#040181"/>
<circle cx="1742.9" cy="399.4" r="3.45" fill="#7e63b3" stroke="#7e63b3"/>
<circle cx="1401.8" cy="614.6" r="3.45" fill="#371f8f" stroke="#371f8f"/>
<circle cx="1420.7" cy="595.9" r="3.45" fill="#b09cd0" stroke="#b09cd0"/>
<circle cx="1396.6" cy="598.9" r="3.45" fill="#070281" stroke="#070281"/>
<circle cx="1402.1" cy="597.7" r="3.45" fill="#0e0482" stroke="#0e0482"/>
<circle cx="1517.0" cy="249.4" r="3.45" fill="#000080" stroke="#000080"/>
<circle cx="1410.0" cy="594.2" r="3.45" fill="#2c168a" stroke="#2c168a"/>
<circle cx="1609.0" cy="234.5" r="3.45" fill="#000080" stroke="#000080"/>
<circle cx="1398.1" cy="537.8" r="3.45" fill="#000080" stroke="#000080"/>
<circle cx="1406.2" cy="529.3" r="3.45" fill="#000080" stroke="#000080"/>
<circle cx="1563.4" cy="221.0" r="3.45" fill="#000080" stroke="#000080"/>
<circle cx="1472.7" cy="457.3" r="3.45" fill="#080281" stroke="#080281"/>
<circle cx="1402.4" cy="617.9" r="3.45" fill="#2f198b" stroke="#2f198b"/>
<circle cx="1528.1" cy="646.8" r="3.45" fill="#321b8d" stroke="#321b8d"/>
<circle cx="1525.0" cy="352.5" r="3.45" fill="#010080" stroke="#010080"/>
<circle cx="1436.4" cy="554.0" r="3.45" fill="#51359b" stroke="#51359b"/>
<circle cx="1652.1" cy="223.9" r="3.45" fill="#050181" stroke="#050181"/>
<circle cx="1403.6" cy="569.5" r="3.45" fill="#030180" stroke="#030180"/>
<circle cx="1516.4" cy="414.6" r="3.45" fill="#6b4fa8" stroke="#6b4fa8"/>
<circle cx="1529.7" cy="386.0" r="3.45" fill="#54389c" stroke="#54389c"/>
<circle cx="1396.5" cy="659.0" r="3.45" fill="#856ab7" stroke="#856ab7"/>
<circle cx="1481.0" cy="679.2" r="3.45" fill="#7559ae" stroke="#7559ae"/>
<circle cx="1462.8" cy="481.2" r="3.45" fill="#0c0382" stroke="#0c0382"/>
<circle cx="1615.3" cy="290.7" r="3.45" fill="#53379c" stroke="#53379c"/>
<circle cx="1550.1" cy="344.9" r="3.45" fill="#1a0984" stroke="#1a0984"/>
<circle cx="1511.7" cy="407.3" r="3.45" fill="#2a1489" stroke="#2a1489"/>
<circle cx="1694.3" cy="146.0" r="3.45" fill="#000080" stroke="#000080"/>
<circle cx="1418.0" cy="577.1" r="3.45" fill="#271388" stroke="#271388"/>
<circle cx="1399.0" cy="551.0" r="3.45" fill="#000080" stroke="#000080"/>
<circle cx="1479.9" cy="706.1" r="3.45" fill="#0e0482" stroke="#0e0482"/>
<circle cx="1768.0" cy="136.6" r="3.45" fill="#54389c" stroke="#54389c"/>
<circle cx="1444.1" cy="542.3" r="3.45" fill="#5e42a2" stroke="#5e42a2"/>
<circle cx="1508.9" cy="222.6" r="3.45" fill="#000080" stroke="#000080"/>
<circle cx="1402.4" cy="630.7" r="3.45" fill="#6144a3" stroke="#6144a3"/>
<circle cx="1462.4" cy="476.4" r="3.45" fill="#120583" stroke="#120583"/>
<circle cx="1398.3" cy="633.1" r="3.45" fill="#231087" stroke="#231087"/>
<circle cx="1456.5" cy="509.2" r="3.45" fill="#1d0c85" stroke="#1d0c85"/>
<circle cx="1575.5" cy="632.8" r="3.45" fill="#030180" stroke="#030180"/>
<circle cx="1543.4" cy="686.8" r="3.45" fill="#000080" stroke="#000080"/>
<circle cx="1407.4" cy="611.6" r="3.45" fill="#311a8c" stroke="#311a8c"/>
<circle cx="1550.5" cy="674.6" r="3.45" fill="#000080" stroke="#000080"/>
<circle cx="1397.9" cy="655.9" r="3.45" fill="#a58fca" stroke="#a58fca"/>
<circle cx="1406.8" cy="629.0" r="3.45" fill="#8368b6" stroke="#8368b6"/>
<circle cx="1499.8" cy="676.8" r="3.45" fill="#3c2291" stroke="#3c2291"/>
<circle cx="1483.9" cy="401.1" r="3.45" fill="#000080" stroke="#000080"/>
<circle cx="1545.3" cy="629.1" r="3.45" fill="#422793" stroke="#422793"/>
<circle cx="1399.6" cy="525.1" r="3.45" fill="#000080" stroke="#000080"/>
<circle cx="1398.9" cy="565.8" r="3.45" fill="#010080" stroke="#010080"/>
<circle cx="1596.1" cy="293.8" r="3.45" fill="#2b168a" stroke="#2b168a"/>
<circle cx="1396.9" cy="587.7" r="3.45" fill="#040181" stroke="#040181"/>
<circle cx="1537.3" cy="388.0" r="3.45" fill="#b29ed1" stroke="#b29ed1"/>
<circle cx="1409.4" cy="445.2" r="3.45" fill="#000080" stroke="#000080"/>
<circle cx="1398.1" cy="573.8" r="3.45" fill="#010080" stroke="#010080"/>
<circle cx="1396.1" cy="552.0" r="3.45" fill="#000080" stroke="#000080"/>
<circle cx="1652.9" cy="229.5" r="3.45" fill="#0e0482" stroke="#0e0482"/>
<circle cx="1651.0" cy="211.4" r="3.45" fill="#010080" stroke="#010080"/>
<circle cx="1398.7" cy="630.3" r="3.45" fill="#241087" stroke="#241087"/>
<circle cx="1411.2" cy="583.9" r="3.45" fill="#251188" stroke="#251188"/>
<circle cx="1741.5" cy="128.4" r="3.45" fill="#030180" stroke="#030180"/>
<circle cx="1551.6" cy="213.8" r="3.45" fill="#000080" stroke="#000080"/>
<circle cx="1543.0" cy="702.6" r="3.45" fill="#000080" stroke="#000080"/>
<circle cx="1431.8" cy="577.0" r="3.45" fill="#967ec1" stroke="#967ec1"/>
<circle cx="1505.3" cy="671.7" r="3.45" fill="#3e2592" stroke="#3e2592"/>
<circle cx="1450.7" cy="374.4" r="3.45" fill="#000080" stroke="#000080"/>
<circle cx="1608.5" cy="272.4" r="3.45" fill="#0d0482" stroke="#0d0482"/>
<circle cx="1654.1" cy="540.1" r="3.45" fill="#120583" stroke="#120583"/>
<circle cx="1414.3" cy="540.1" r="3.45" fill="#010080" stroke="#010080"/>
<circle cx="1817.8" cy="98.2" r="3.45" fill="#d9cee8" stroke="#d9cee8"/>
<circle cx="1515.1" cy="701.2" r="3.45" fill="#000080" stroke="#000080"/>
<circle cx="1397.4" cy="583.8" r="3.45" fill="#010080" stroke="#010080"/>
<circle cx="1683.9" cy="227.7" r="3.45" fill="#886db9" stroke="#886db9"/>
<circle cx="1559.0" cy="275.7" r="3.45" fill="#000080" stroke="#000080"/>
<circle cx="1441.5" cy="536.4" r="3.45" fill="#220f87" stroke="#220f87"/>
<circle cx="1439.2" cy="514.1" r="3.45" fill="#060281" stroke="#060281"/>
<circle cx="1754.2" cy="143.0" r="3.45" fill="#331c8d" stroke="#331c8d"/>
<circle cx="1778.1" cy="132.6" r="3.45" fill="#53379b" stroke="#53379b"/>
<circle cx="1626.3" cy="194.1" r="3.45" fill="#000080" stroke="#000080"/>
<circle cx="1569.7" cy="271.0" r="3.45" fill="#000080" stroke="#000080"/>
<circle cx="1406.3" cy="524.3" r="3.45" fill="#000080" stroke="#000080"/>
<circle cx="1528.6" cy="374.9" r="3.45" fill="#241087" stroke="#241087"/>
<circle cx="1519.5" cy="703.4" r="3.45" fill="#000080" stroke="#000080"/>
<circle cx="1460.5" cy="697.8" r="3.45" fill="#4a2f97" stroke="#4a2f97"/>
<circle cx="1460.7" cy="490.5" r="3.45" fill="#170884" stroke="#170884"/>
<circle cx="1660.8" cy="226.7" r="3.45" fill="#130683" stroke="#130683"/>
<circle cx="1546.9" cy="309.0" r="3.45" fill="#000080" stroke="#000080"/>
<circle cx="1463.8" cy="689.4" r="3.45" fill="#d2c5e4" stroke="#d2c5e4"/>
<circle cx="1415.1" cy="617.7" r="3.45" fill="#ffffff" stroke="#ffffff"/>
<circle cx="1445.9" cy="533.2" r="3.45" fill="#351d8d" stroke="#351d8d"/>
<circle cx="1481.1" cy="698.5" r="3.45" fill="#1e0c85" stroke="#1e0c85"/>
<circle cx="1578.3" cy="603.6" r="3.45" fill="#230f87" stroke="#230f87"/>
<circle cx="1721.7" cy="170.0" r="3.45" fill="#381f8f" stroke="#381f8f"/>
<circle cx="1511.7" cy="701.6" r="3.45" fill="#010080" stroke="#010080"/>
<circle cx="1718.5" cy="511.1" r="3.45" fill="#0b0382" stroke="#0b0382"/>
<circle cx="1401.4" cy="649.2" r="3.45" fill="#b9a6d5" stroke="#b9a6d5"/>
<circle cx="1790.0" cy="97.5" r="3.45" fill="#100482" stroke="#100482"/>
<circle cx="1396.4" cy="595.8" r="3.45" fill="#060281" stroke="#060281"/>
<circle cx="1397.4" cy="665.7" r="3.45" fill="#e9e2f2" stroke="#e9e2f2"/>
<circle cx="1414.0" cy="601.5" r="3.45" fill="#2d178b" stroke="#2d178b"/>
<circle cx="1445.0" cy="551.0" r="3.45" fill="#8f75bd" stroke="#8f75bd"/>
<circle cx="1418.5" cy="490.4" r="3.45" fill="#000080" stroke="#000080"/>
<circle cx="1407.4" cy="624.0" r="3.45" fill="#52369b" stroke="#52369b"/>
<circle cx="1396.9" cy="521.7" r="3.45" fill="#000080" stroke="#000080"/>
<circle cx="1764.7" cy="141.2" r="3.45" fill="#7d62b3" stroke="#7d62b3"/>
<circle cx="1449.0" cy="540.2" r="3.45" fill="#7a5fb1" stroke="#7a5fb1"/>
<circle cx="1421.9" cy="381.3" r="3.45" fill="#000080" stroke="#000080"/>
<circle cx="1633.6" cy="269.7" r="3.45" fill="#331b8d" stroke="#331b8d"/>
<circle cx="1777.7" cy="124.1" r="3.45" fill="#5e42a1" stroke="#5e42a1"/>
<circle cx="1418.0" cy="464.3" r="3.45" fill="#000080" stroke="#000080"/>
<circle cx="1399.8" cy="555.3" r="3.45" fill="#000080" stroke="#000080"/>
<circle cx="1400.5" cy="645.6" r="3.45" fill="#5a3e9f" stroke="#5a3e9f"/>
<circle cx="1616.5" cy="225.3" r="3.45" fill="#000080" stroke="#000080"/>
<circle cx="1396.3" cy="598.0" r="3.45" fill="#0a0381" stroke="#0a0381"/>
<circle cx="1423.5" cy="597.7" r="3.45" fill="#ffffff" stroke="#ffffff"/>
<circle cx="1475.9" cy="686.2" r="3.45" fill="#a58ec9" stroke="#a58ec9"/>
<circle cx="1403.2" cy="565.6" r="3.45" fill="#020080" stroke="#020080"/>
<circle cx="1449.4" cy="383.8" r="3.45" fill="#000080" stroke="#000080"/>
<circle cx="1545.8" cy="634.5" r="3.45" fill="#200d86" stroke="#200d86"/>
<circle cx="1518.6" cy="418.4" r="3.45" fill="#d1c5e4" stroke="#d1c5e4"/>
<circle cx="1412.3" cy="425.6" r="3.45" fill="#000080" stroke="#000080"/>
<circle cx="1481.6" cy="485.6" r="3.45" fill="#c6b6dd" stroke="#c6b6dd"/>
<circle cx="1713.9" cy="441.8" r="3.45" fill="#7559ae" stroke="#7559ae"/>
<circle cx="1809.8" cy="108.0" r="3.45" fill="#ffffff" stroke="#ffffff"/>
<circle cx="1420.1" cy="566.4" r="3.45" fill="#1b0a85" stroke="#1b0a85"/>
<circle cx="1508.5" cy="693.3" r="3.45" fill="#030180" stroke="#030180"/>
<circle cx="1509.1" cy="372.8" r="3.45" fill="#010080" stroke="#010080"/>
<circle cx="1512.2" cy="669.4" r="3.45" fill="#210e86" stroke="#210e86"/>
<circle cx="1484.6" cy="477.2" r="3.45" fill="#6c50a9" stroke="#6c50a9"/>
<circle cx="1397.4" cy="633.6" r="3.45" fill="#52369b" stroke="#52369b"/>
<circle cx="1410.5" cy="508.5" r="3.45" fill="#000080" stroke="#000080"/>
<circle cx="1398.7" cy="584.3" r="3.45" fill="#020180" stroke="#020180"/>
<circle cx="1509.2" cy="429.6" r="3.45" fill="#c1b1da" stroke="#c1b1da"/>
<circle cx="1404.7" cy="597.1" r="3.45" fill="#190984" stroke="#190984"/>
<circle cx="1437.8" cy="533.8" r="3.45" fill="#1c0b85" stroke="#1c0b85"/>
<circle cx="1783.2" cy="85.1" r="3.45" fill="#020080" stroke="#020080"/>
<circle cx="1402.1" cy="589.9" r="3.45" fill="#050181" stroke="#050181"/>
<circle cx="1552.2" cy="310.0" r="3.45" fill="#000080" stroke="#000080"/>
<circle cx="1504.8" cy="676.6" r="3.45" fill="#1c0b85" stroke="#1c0b85"/>
<circle cx="1418.6" cy="548.0" r="3.45" fill="#030180" stroke="#030180"/>
<circle cx="1400.9" cy="471.5" r="3.45" fill="#000080" stroke="#000080"/>
<circle cx="1613.9" cy="244.7" r="3.45" fill="#010080" stroke="#010080"/>
<circle cx="1777.9" cy="417.8" r="3.45" fill="#080281" stroke="#080281"/>
<circle cx="1408.5" cy="570.7" r="3.45" fill="#050181" stroke="#050181"/>
<circle cx="1527.3" cy="271.4" r="3.45" fill="#000080" stroke="#000080"/>
<circle cx="1396.8" cy="609.4" r="3.45" fill="#180884" stroke="#180884"/>
<circle cx="1450.4" cy="537.8" r="3.45" fill="#6c4fa9" stroke="#6c4fa9"/>
<circle cx="1776.2" cy="112.2" r="3.45" fill="#110583" stroke="#110583"/>
<circle cx="1395.6" cy="637.8" r="3.45" fill="#371e8e" stroke="#371e8e"/>
<circle cx="1396.7" cy="577.1" r="3.45" fill="#020080" stroke="#020080"/>
<circle cx="1405.5" cy="591.1" r="3.45" fill="#120583" stroke="#120583"/>
<circle cx="1395.8" cy="601.1" r="3.45" fill="#080281" stroke="#080281"/>
<circle cx="1566.5" cy="283.1" r="3.45" fill="#000080" stroke="#000080"/>
<circle cx="1396.6" cy="638.0" r="3.45" fill="#492e97" stroke="#492e97"/>
<circle cx="1408.8" cy="531.6" r="3.45" fill="#000080" stroke="#000080"/>
<circle cx="1422.9" cy="476.8" r="3.45" fill="#000080" stroke="#000080"/>
<circle cx="1398.6" cy="604.7" r="3.45" fill="#0d0382" stroke="#0d0382"/>
<circle cx="1504.3" cy="370.1" r="3.45" fill="#000080" stroke="#000080"/>
<circle cx="1469.1" cy="279.6" r="3.45" fill="#000080" stroke="#000080"/>
<circle cx="1400.8" cy="639.0" r="3.45" fill="#472c96" stroke="#472c96"/>
<circle cx="1619.2" cy="277.6" r="3.45" fill="#462b95" stroke="#462b95"/>
<circle cx="1630.8" cy="245.5" r="3.45" fill="#0a0381" stroke="#0a0381"/>
<circle cx="1505.9" cy="335.1" r="3.45" fill="#000080" stroke="#000080"/>
<circle cx="1486.4" cy="333.1" r="3.45" fill="#000080" stroke="#000080"/>
<circle cx="1670.3" cy="209.6" r="3.45" fill="#070281" stroke="#070281"/>
<circle cx="1788.6" cy="103.0" r="3.45" fill="#170784" stroke="#170784"/>
<circle cx="1493.4" cy="472.4" r="3.45" fill="#bfafd9" stroke="#bfafd9"/>
<circle cx="1672.9" cy="243.1" r="3.45" fill="#8469b7" stroke="#8469b7"/>
<circle cx="1514.2" cy="402.7" r="3.45" fill="#2f188b" stroke="#2f188b"/>
<circle cx="1693.2" cy="219.3" r="3.45" fill="#bcaad7" stroke="#bcaad7"/>
<circle cx="1671.7" cy="185.3" r="3.45" fill="#010080" stroke="#010080"/>
<circle cx="1556.1" cy="675.8" r="3.45" fill="#000080" stroke="#000080"/>
<circle cx="1464.1" cy="399.0" r="3.45" fill="#000080" stroke="#000080"/>
<circle cx="1409.7" cy="545.8" r="3.45" fill="#010080" stroke="#010080"/>
<circle cx="1583.2" cy="583.4" r="3.45" fill="#7054ab" stroke="#7054ab"/>
<circle cx="1506.5" cy="691.6" r="3.45" fill="#040181" stroke="#040181"/>
<circle cx="1455.0" cy="537.4" r="3.45" fill="#a58fca" stroke="#a58fca"/>
<circle cx="1765.2" cy="509.0" r="3.45" fill="#080281" stroke="#080281"/>
<circle cx="1465.8" cy="481.1" r="3.45" fill="#120583" stroke="#120583"/>
<circle cx="1860.5" cy="239.5" r="3.45" fill="#080281" stroke="#080281"/>
<circle cx="1396.4" cy="559.3" r="3.45" fill="#000080" stroke="#000080"/>
<circle cx="1397.4" cy="652.0" r="3.45" fill="#8065b4" stroke="#8065b4"/>
<circle cx="1433.8" cy="554.8" r="3.45" fill="#412793" stroke="#412793"/>
<circle cx="1430.8" cy="511.4" r="3.45" fill="#010080" stroke="#010080"/>
<circle cx="1396.3" cy="554.0" r="3.45" fill="#000080" stroke="#000080"/>
<circle cx="1401.7" cy="599.9" r="3.45" fill="#0f0482" stroke="#0f0482"/>
<circle cx="1750.5" cy="140.0" r="3.45" fill="#200e86" stroke="#200e86"/>
<circle cx="1405.1" cy="555.0" r="3.45" fill="#010080" stroke="#010080"/>
<circle cx="1457.4" cy="691.2" r="3.45" fill="#573b9e" stroke="#573b9e"/>
<circle cx="1615.8" cy="130.2" r="3.45" fill="#000080" stroke="#000080"/>
<circle cx="1487.8" cy="702.4" r="3.45" fill="#060281" stroke="#060281"/>
<circle cx="1400.3" cy="595.8" r="3.45" fill="#080281" stroke="#080281"/>
<circle cx="1451.6" cy="468.4" r="3.45" fill="#010080" stroke="#010080"/>
<circle cx="1395.6" cy="577.1" r="3.45" fill="#020080" stroke="#020080"/>
<circle cx="1399.1" cy="614.3" r="3.45" fill="#160784" stroke="#160784"/>
<circle cx="1397.7" cy="646.1" r="3.45" fill="#52369b" stroke="#52369b"/>
<circle cx="1552.1" cy="610.7" r="3.45" fill="#977fc2" stroke="#977fc2"/>
<circle cx="1713.1" cy="185.3" r="3.45" fill="#291489" stroke="#291489"/>
<circle cx="1497.4" cy="696.1" r="3.45" fill="#040181" stroke="#040181"/>
<circle cx="1409.3" cy="625.6" r="3.45" fill="#896fb9" stroke="#896fb9"/>
<circle cx="1719.9" cy="445.3" r="3.45" fill="#4f339a" stroke="#4f339a"/>
<circle cx="1811.2" cy="85.0" r="3.45" fill="#210e86" stroke="#210e86"/>
<circle cx="1621.0" cy="155.5" r="3.45" fill="#000080" stroke="#000080"/>
<circle cx="1540.5" cy="294.4" r="3.45" fill="#000080" stroke="#000080"/>
<circle cx="1536.6" cy="329.1" r="3.45" fill="#010080" stroke="#010080"/>
<circle cx="1886.7" cy="156.3" r="3.45" fill="#6346a4" stroke="#6346a4"/>
<circle cx="1450.4" cy="490.0" r="3.45" fill="#060281" stroke="#060281"/>
<circle cx="1470.0" cy="701.8" r="3.45" fill="#190984" stroke="#190984"/>
<circle cx="1398.7" cy="613.1" r="3.45" fill="#170784" stroke="#170784"/>
<circle cx="1759.6" cy="109.5" r="3.45" fill="#020080" stroke="#020080"/>
<circle cx="1604.1" cy="300.7" r="3.45" fill="#52369b" stroke="#52369b"/>
<circle cx="1396.8" cy="617.6" r="3.45" fill="#180884" stroke="#180884"/>
<circle cx="1410.5" cy="558.0" r="3.45" fill="#020180" stroke="#020180"/>
<circle cx="1415.2" cy="516.9" r="3.45" fill="#000080" stroke="#000080"/>
<circle cx="1711.4" cy="431.5" r="3.45" fill="#a18ac8" stroke="#a18ac8"/>
<circle cx="1679.7" cy="203.5" r="3.45" fill="#140683" stroke="#140683"/>
<circle cx="1423.1" cy="574.1" r="3.45" fill="#432894" stroke="#432894"/>
<circle cx="1395.8" cy="598.9" r="3.45" fill="#090281" stroke="#090281"/>
<circle cx="1410.2" cy="531.7" r="3.45" fill="#000080" stroke="#000080"/>
<circle cx="1413.1" cy="590.5" r="3.45" fill="#2b158a" stroke="#2b158a"/>
<circle cx="1484.3" cy="482.5" r="3.45" fill="#8a70ba" stroke="#8a70ba"/>
<circle cx="1409.7" cy="523.2" r="3.45" fill="#000080" stroke="#000080"/>
<circle cx="1542.2" cy="689.6" r="3.45" fill="#000080" stroke="#000080"/>
<circle cx="1420.7" cy="568.6" r="3.45" fill="#38208f" stroke="#38208f"/>
<circle cx="1513.6" cy="701.0" r="3.45" fill="#000080" stroke="#000080"/>
<circle cx="1539.8" cy="690.1" r="3.45" fill="#000080" stroke="#000080"/>
<circle cx="1463.4" cy="515.7" r="3.45" fill="#7b60b2" stroke="#7b60b2"/>
<circle cx="1501.1" cy="705.0" r="3.45" fill="#020080" stroke="#020080"/>
<circle cx="1397.3" cy="632.6" r="3.45" fill="#291489" stroke="#291489"/>
<circle cx="1690.2" cy="511.8" r="3.45" fill="#0b0382" stroke="#0b0382"/>
<circle cx="1398.5" cy="622.2" r="3.45" fill="#1b0a85" stroke="#1b0a85"/>
<circle cx="1718.5" cy="437.6" r="3.45" fill="#6346a4" stroke="#6346a4"/>
<circle cx="1397.5" cy="483.6" r="3.45" fill="#000080" stroke="#000080"/>
<circle cx="1737.7" cy="168.9" r="3.45" fill="#7559ae" stroke="#7559ae"/>
<circle cx="1566.4" cy="626.2" r="3.45" fill="#070281" stroke="#070281"/>
<circle cx="1464.3" cy="687.9" r="3.45" fill="#ffffff" stroke="#ffffff"/>
<circle cx="1509.7" cy="340.7" r="3.45" fill="#000080" stroke="#000080"/>
<circle cx="1584.6" cy="296.7" r="3.45" fill="#0c0382" stroke="#0c0382"/>
<circle cx="1399.2" cy="638.2" r="3.45" fill="#39208f" stroke="#39208f"/>
<circle cx="1505.3" cy="703.2" r="3.45" fill="#010080" stroke="#010080"/>
<circle cx="1488.5" cy="682.6" r="3.45" fill="#432894" stroke="#432894"/>
<circle cx="1675.1" cy="214.7" r="3.45" fill="#140683" stroke="#140683"/>
<circle cx="1604.0" cy="262.8" r="3.45" fill="#030180" stroke="#030180"/>
<circle cx="1397.7" cy="619.8" r="3.45" fill="#200d86" stroke="#200d86"/>
<circle cx="1619.1" cy="275.9" r="3.45" fill="#251188" stroke="#251188"/>
<circle cx="1461.8" cy="478.4" r="3.45" fill="#080281" stroke="#080281"/>
<circle cx="1664.0" cy="148.4" r="3.45" fill="#000080" stroke="#000080"/>
<circle cx="1398.5" cy="652.4" r="3.45" fill="#947bc0" stroke="#947bc0"/>
<circle cx="1714.6" cy="189.5" r="3.45" fill="#50349a" stroke="#50349a"/>
<circle cx="1530.1" cy="365.1" r="3.45" fill="#110582" stroke="#110582"/>
<circle cx="1398.9" cy="535.9" r="3.45" fill="#000080" stroke="#000080"/>
<circle cx="1710.3" cy="181.2" r="3.45" fill="#2c168a" stroke="#2c168a"/>
<circle cx="1748.6" cy="368.6" r="3.45" fill="#e1d9ed" stroke="#e1d9ed"/>
<circle cx="1398.3" cy="628.0" r="3.45" fill="#210e86" stroke="#210e86"/>
<circle cx="1609.5" cy="281.1" r="3.45" fill="#200d86" stroke="#200d86"/>
<circle cx="1395.8" cy="666.3" r="3.45" fill="#a28cc8" stroke="#a28cc8"/>
<circle cx="1430.5" cy="482.3" r="3.45" fill="#000080" stroke="#000080"/>
<circle cx="1890.2" cy="126.3" r="3.45" fill="#bba9d7" stroke="#bba9d7"/>
<circle cx="1396.5" cy="646.9" r="3.45" fill="#573b9e" stroke="#573b9e"/>
<circle cx="1419.1" cy="434.0" r="3.45" fill="#000080" stroke="#000080"/>
<circle cx="1479.3" cy="701.0" r="3.45" fill="#0f0482" stroke="#0f0482"/>
<circle cx="1410.1" cy="621.0" r="3.45" fill="#5a3e9f" stroke="#5a3e9f"/>
<circle cx="1882.4" cy="189.1" r="3.45" fill="#060181" stroke="#060181"/>
<circle cx="1532.4" cy="312.6" r="3.45" fill="#000080" stroke="#000080"/>
<circle cx="1480.1" cy="478.7" r="3.45" fill="#583b9e" stroke="#583b9e"/>
<circle cx="1473.3" cy="335.8" r="3.45" fill="#000080" stroke="#000080"/>
<circle cx="1652.8" cy="119.6" r="3.45" fill="#000080" stroke="#000080"/>
<circle cx="1397.7" cy="617.8" r="3.45" fill="#291489" stroke="#291489"/>
<circle cx="1510.0" cy="666.9" r="3.45" fill="#341c8d" stroke="#341c8d"/>
<circle cx="1482.3" cy="690.3" r="3.45" fill="#2a158a" stroke="#2a158a"/>
<circle cx="1445.7" cy="558.0" r="3.45" fill="#baa8d6" stroke="#baa8d6"/>
<circle cx="1400.5" cy="649.7" r="3.45" fill="#7b60b1" stroke="#7b60b1"/>
<circle cx="1480.9" cy="432.7" r="3.45" fill="#030180" stroke="#030180"/>
<circle cx="1475.3" cy="686.9" r="3.45" fill="#3f2592" stroke="#3f2592"/>
<circle cx="1503.1" cy="704.3" r="3.45" fill="#010080" stroke="#010080"/>
<circle cx="1397.2" cy="664.3" r="3.45" fill="#ffffff" stroke="#ffffff"/>
<circle cx="1497.8" cy="659.4" r="3.45" fill="#9e87c6" stroke="#9e87c6"/>
<circle cx="1396.1" cy="605.7" r="3.45" fill="#0a0381" stroke="#0a0381"/>
<circle cx="1397.4" cy="574.9" r="3.45" fill="#010080" stroke="#010080"/>
<circle cx="1433.8" cy="543.7" r="3.45" fill="#281389" stroke="#281389"/>
<circle cx="1823.2" cy="287.8" r="3.45" fill="#593d9f" stroke="#593d9f"/>
<circle cx="1466.6" cy="517.6" r="3.45" fill="#c0b0da" stroke="#c0b0da"/>
<circle cx="1398.1" cy="570.8" r="3.45" fill="#010080" stroke="#010080"/>
<circle cx="1718.9" cy="414.9" r="3.45" fill="#d4c9e6" stroke="#d4c9e6"/>
<circle cx="1743.6" cy="168.8" r="3.45" fill="#9b84c4" stroke="#9b84c4"/>
<circle cx="1398.3" cy="625.8" r="3.45" fill="#1b0a85" stroke="#1b0a85"/>
<circle cx="1678.5" cy="168.1" r="3.45" fill="#000080" stroke="#000080"/>
<circle cx="1662.0" cy="222.8" r="3.45" fill="#110583" stroke="#110583"/>
<circle cx="1424.8" cy="579.3" r="3.45" fill="#4d3199" stroke="#4d3199"/>
<circle cx="1493.0" cy="700.6" r="3.45" fill="#040181" stroke="#040181"/>
<circle cx="1419.2" cy="602.2" r="3.45" fill="#9d85c5" stroke="#9d85c5"/>
<circle cx="1556.4" cy="688.5" r="3.45" fill="#000080" stroke="#000080"/>
<circle cx="1397.7" cy="541.6" r="3.45" fill="#000080" stroke="#000080"/>
<circle cx="1399.2" cy="573.6" r="3.45" fill="#020080" stroke="#020080"/>
<circle cx="1456.3" cy="456.0" r="3.45" fill="#010080" stroke="#010080"/>
<circle cx="1621.8" cy="264.2" r="3.45" fill="#1c0b85" stroke="#1c0b85"/>
<circle cx="1403.2" cy="632.8" r="3.45" fill="#6347a4" stroke="#6347a4"/>
<circle cx="1427.8" cy="445.4" r="3.45" fill="#000080" stroke="#000080"/>
<circle cx="1590.0" cy="273.7" r="3.45" fill="#010080" stroke="#010080"/>
<circle cx="1608.7" cy="271.8" r="3.45" fill="#0d0482" stroke="#0d0482"/>
<circle cx="1479.5" cy="702.4" r="3.45" fill="#0d0482" stroke="#0d0482"/>
<circle cx="1408.0" cy="606.4" r="3.45" fill="#3e2491" stroke="#3e2491"/>
<circle cx="1402.4" cy="597.4" r="3.45" fill="#120583" stroke="#120583"/>
<circle cx="1398.8" cy="643.0" r="3.45" fill="#462b95" stroke="#462b95"/>
<circle cx="1567.4" cy="251.8" r="3.45" fill="#000080" stroke="#000080"/>
<circle cx="1478.6" cy="704.0" r="3.45" fill="#0f0482" stroke="#0f0482"/>
<circle cx="1610.4" cy="302.3" r="3.45" fill="#e4dcef" stroke="#e4dcef"/>
<circle cx="1405.4" cy="617.6" r="3.45" fill="#4d3199" stroke="#4d3199"/>
<circle cx="1493.8" cy="702.5" r="3.45" fill="#040181" stroke="#040181"/>
<circle cx="1440.3" cy="497.4" r="3.45" fill="#010080" stroke="#010080"/>
<circle cx="1396.2" cy="636.3" r="3.45" fill="#452a95" stroke="#452a95"/>
<circle cx="1812.9" cy="100.9" r="3.45" fill="#8e75bd" stroke="#8e75bd"/>
<circle cx="1777.9" cy="109.2" r="3.45" fill="#190984" stroke="#190984"/>
<circle cx="1432.1" cy="487.7" r="3.45" fill="#000080" stroke="#000080"/>
<circle cx="1573.6" cy="328.3" r="3.45" fill="#2c168a" stroke="#2c168a"/>
<circle cx="1465.6" cy="701.8" r="3.45" fill="#3d2491" stroke="#3d2491"/>
<circle cx="1543.1" cy="617.1" r="3.45" fill="#ded4eb" stroke="#ded4eb"/>
<circle cx="1427.2" cy="588.4" r="3.45" fill="#886db9" stroke="#886db9"/>
<circle cx="1409.9" cy="536.1" r="3.45" fill="#000080" stroke="#000080"/>
<circle cx="1473.3" cy="683.6" r="3.45" fill="#d1c5e4" stroke="#d1c5e4"/>
<circle cx="1474.7" cy="435.1" r="3.45" fill="#020080" stroke="#020080"/>
<circle cx="1556.9" cy="361.0" r="3.45" fill="#e4dcef" stroke="#e4dcef"/>
<circle cx="1398.1" cy="510.3" r="3.45" fill="#000080" stroke="#000080"/>
<circle cx="1399.0" cy="632.2" r="3.45" fill="#351d8e" stroke="#351d8e"/>
<circle cx="1397.4" cy="576.1" r="3.45" fill="#010080" stroke="#010080"/>
<circle cx="1480.8" cy="694.7" r="3.45" fill="#281389" stroke="#281389"/>
<circle cx="1404.9" cy="586.7" r="3.45" fill="#110583" stroke="#110583"/>
<circle cx="1636.4" cy="192.7" r="3.45" fill="#000080" stroke="#000080"/>
<circle cx="1398.6" cy="603.8" r="3.45" fill="#0f0482" stroke="#0f0482"/>
<circle cx="1462.1" cy="450.2" r="3.45" fill="#010080" stroke="#010080"/>
<circle cx="1658.4" cy="485.3" r="3.45" fill="#f6f4fa" stroke="#f6f4fa"/>
<circle cx="1442.7" cy="543.4" r="3.45" fill="#422793" stroke="#422793"/>
<circle cx="1395.7" cy="629.9" r="3.45" fill="#220f87" stroke="#220f87"/>
<circle cx="1717.2" cy="167.7" r="3.45" fill="#180884" stroke="#180884"/>
<circle cx="1545.2" cy="275.2" r="3.45" fill="#000080" stroke="#000080"/>
<circle cx="1412.8" cy="536.3" r="3.45" fill="#010080" stroke="#010080"/>
<circle cx="1497.2" cy="696.7" r="3.45" fill="#0b0382" stroke="#0b0382"/>
<circle cx="1454.8" cy="496.5" r="3.45" fill="#110582" stroke="#110582"/>
<circle cx="1398.0" cy="585.3" r="3.45" fill="#050181" stroke="#050181"/>
<circle cx="1612.1" cy="298.9" r="3.45" fill="#a089c7" stroke="#a089c7"/>
<circle cx="1397.9" cy="628.1" r="3.45" fill="#251188" stroke="#251188"/>
<circle cx="1445.5" cy="405.4" r="3.45" fill="#000080" stroke="#000080"/>
<circle cx="1460.4" cy="481.0" r="3.45" fill="#120583" stroke="#120583"/>
<circle cx="1477.5" cy="693.3" r="3.45" fill="#291489" stroke="#291489"/>
<circle cx="1665.0" cy="203.8" r="3.45" fill="#030180" stroke="#030180"/>
<circle cx="1496.8" cy="701.5" r="3.45" fill="#030180" stroke="#030180"/>
<circle cx="1669.1" cy="161.6" r="3.45" fill="#000080" stroke="#000080"/>
<circle cx="1511.4" cy="705.7" r="3.45" fill="#010080" stroke="#010080"/>
<circle cx="1766.9" cy="385.9" r="3.45" fill="#100482" stroke="#100482"/>
<circle cx="1408.1" cy="527.6" r="3.45" fill="#000080" stroke="#000080"/>
<circle cx="1761.3" cy="119.1" r="3.45" fill="#080281" stroke="#080281"/>
<circle cx="1396.9" cy="602.0" r="3.45" fill="#0d0382" stroke="#0d0382"/>
<circle cx="1460.3" cy="518.2" r="3.45" fill="#6549a5" stroke="#6549a5"/>
<circle cx="1427.3" cy="425.1" r="3.45" fill="#000080" stroke="#000080"/>
<circle cx="1451.4" cy="461.6" r="3.45" fill="#010080" stroke="#010080"/>
<circle cx="1441.8" cy="537.1" r="3.45" fill="#3d2391" stroke="#3d2391"/>
<circle cx="1458.2" cy="368.5" r="3.45" fill="#000080" stroke="#000080"/>
<circle cx="1398.0" cy="656.0" r="3.45" fill="#c6b7dd" stroke="#c6b7dd"/>
<circle cx="1395.7" cy="550.9" r="3.45" fill="#000080" stroke="#000080"/>
<circle cx="1461.1" cy="436.5" r="3.45" fill="#000080" stroke="#000080"/>
<circle cx="1405.5" cy="598.0" r="3.45" fill="#130683" stroke="#130683"/>
<circle cx="1595.3" cy="595.3" r="3.45" fill="#120583" stroke="#120583"/>
<circle cx="1402.1" cy="439.9" r="3.45" fill="#000080" stroke="#000080"/>
<circle cx="1398.4" cy="659.8" r="3.45" fill="#765aae" stroke="#765aae"/>
<circle cx="1533.2" cy="360.5" r="3.45" fill="#0d0382" stroke="#0d0382"/>
<circle cx="1406.4" cy="552.8" r="3.45" fill="#010080" stroke="#010080"/>
<circle cx="1431.6" cy="529.5" r="3.45" fill="#0b0381" stroke="#0b0381"/>
<circle cx="1604.2" cy="276.9" r="3.45" fill="#170784" stroke="#170784"/>
<circle cx="1650.5" cy="164.7" r="3.45" fill="#000080" stroke="#000080"/>
<circle cx="1453.5" cy="699.8" r="3.45" fill="#a893cc" stroke="#a893cc"/>
<circle cx="1399.3" cy="539.9" r="3.45" fill="#000080" stroke="#000080"/>
<circle cx="1407.0" cy="444.4" r="3.45" fill="#000080" stroke="#000080"/>
<circle cx="1397.0" cy="584.2" r="3.45" fill="#020080" stroke="#020080"/>
<circle cx="1424.0" cy="483.9" r="3.45" fill="#000080" stroke="#000080"/>
<circle cx="1542.2" cy="350.8" r="3.45" fill="#150783" stroke="#150783"/>
<circle cx="1473.7" cy="450.9" r="3.45" fill="#090281" stroke="#090281"/>
<circle cx="1405.8" cy="632.8" r="3.45" fill="#5e41a1" stroke="#5e41a1"/>
<circle cx="1760.9" cy="111.2" r="3.45" fill="#040181" stroke="#040181"/>
<circle cx="1396.4" cy="610.5" r="3.45" fill="#170884" stroke="#170884"/>
<circle cx="1531.9" cy="679.8" r="3.45" fill="#010080" stroke="#010080"/>
<circle cx="1674.5" cy="681.7" r="3.45" fill="#080281" stroke="#080281"/>
<circle cx="1429.3" cy="494.9" r="3.45" fill="#000080" stroke="#000080"/>
<circle cx="1395.9" cy="659.3" r="3.45" fill="#7c60b2" stroke="#7c60b2"/>
<circle cx="1552.3" cy="642.7" r="3.45" fill="#070281" stroke="#070281"/>
<circle cx="1482.0" cy="432.4" r="3.45" fill="#0b0382" stroke="#0b0382"/>
<circle cx="1397.3" cy="585.6" r="3.45" fill="#040181" stroke="#040181"/>
<circle cx="1400.5" cy="606.9" r="3.45" fill="#110583" stroke="#110583"/>
<circle cx="1495.2" cy="689.4" r="3.45" fill="#170884" stroke="#170884"/>
<circle cx="1413.4" cy="619.9" r="3.45" fill="#e6def0" stroke="#e6def0"/>
<circle cx="1502.4" cy="404.6" r="3.45" fill="#100582" stroke="#100582"/>
<circle cx="1399.0" cy="507.4" r="3.45" fill="#000080" stroke="#000080"/>
<circle cx="1671.1" cy="149.1" r="3.45" fill="#000080" stroke="#000080"/>
<circle cx="1439.8" cy="538.0" r="3.45" fill="#210e87" stroke="#210e87"/>
<circle cx="1442.5" cy="555.0" r="3.45" fill="#8d73bc" stroke="#8d73bc"/>
<circle cx="1466.7" cy="688.7" r="3.45" fill="#ae99cf" stroke="#ae99cf"/>
<circle cx="1406.3" cy="618.6" r="3.45" fill="#3c2391" stroke="#3c2391"/>
<circle cx="1407.8" cy="605.6" r="3.45" fill="#2b158a" stroke="#2b158a"/>
<circle cx="1397.1" cy="636.2" r="3.45" fill="#3e2491" stroke="#3e2491"/>
<circle cx="1470.7" cy="701.4" r="3.45" fill="#1a0984" stroke="#1a0984"/>
<circle cx="1459.7" cy="688.6" r="3.45" fill="#d3c7e5" stroke="#d3c7e5"/>
<circle cx="1497.0" cy="663.1" r="3.45" fill="#b8a5d5" stroke="#b8a5d5"/>
<circle cx="1617.1" cy="574.2" r="3.45" fill="#593d9f" stroke="#593d9f"/>
<circle cx="1609.6" cy="559.5" r="3.45" fill="#aa95cd" stroke="#aa95cd"/>
<circle cx="1413.7" cy="593.3" r="3.45" fill="#3f2592" stroke="#3f2592"/>
<circle cx="1484.7" cy="703.4" r="3.45" fill="#100482" stroke="#100482"/>
<circle cx="1435.6" cy="555.7" r="3.45" fill="#6d51a9" stroke="#6d51a9"/>
<circle cx="1512.1" cy="397.9" r="3.45" fill="#190984" stroke="#190984"/>
<circle cx="1585.5" cy="139.4" r="3.45" fill="#000080" stroke="#000080"/>
<circle cx="1420.9" cy="572.4" r="3.45" fill="#2d178b" stroke="#2d178b"/>
<circle cx="1401.4" cy="612.4" r="3.45" fill="#1d0b85" stroke="#1d0b85"/>
<circle cx="1435.5" cy="483.2" r="3.45" fill="#000080" stroke="#000080"/>
<circle cx="1731.4" cy="175.1" r="3.45" fill="#8c72bb" stroke="#8c72bb"/>
<circle cx="1654.5" cy="242.6" r="3.45" fill="#261188" stroke="#261188"/>
<circle cx="1616.6" cy="238.2" r="3.45" fill="#010080" stroke="#010080"/>
<circle cx="1396.9" cy="603.4" r="3.45" fill="#0a0281" stroke="#0a0281"/>
<circle cx="1427.7" cy="573.9" r="3.45" fill="#593d9f" stroke="#593d9f"/>
<circle cx="1406.5" cy="553.3" r="3.45" fill="#010080" stroke="#010080"/>
<circle cx="1395.9" cy="617.3" r="3.45" fill="#1a0984" stroke="#1a0984"/>
<circle cx="1398.6" cy="634.5" r="3.45" fill="#2d168a" stroke="#2d168a"/>
<circle cx="1715.4" cy="183.8" r="3.45" fill="#341c8d" stroke="#341c8d"/>
<circle cx="1402.7" cy="619.2" r="3.45" fill="#281389" stroke="#281389"/>
<circle cx="1498.1" cy="694.4" r="3.45" fill="#0d0382" stroke="#0d0382"/>
<circle cx="1445.8" cy="527.6" r="3.45" fill="#251188" stroke="#251188"/>
<circle cx="1428.1" cy="464.1" r="3.45" fill="#000080" stroke="#000080"/>
<circle cx="1491.4" cy="687.8" r="3.45" fill="#261188" stroke="#261188"/>
<circle cx="1508.2" cy="441.3" r="3.45" fill="#e6dff0" stroke="#e6dff0"/>
<circle cx="1448.9" cy="505.7" r="3.45" fill="#070281" stroke="#070281"/>
<circle cx="1450.7" cy="538.9" r="3.45" fill="#b6a3d4" stroke="#b6a3d4"/>
<circle cx="1435.2" cy="544.9" r="3.45" fill="#2d168a" stroke="#2d168a"/>
<circle cx="1485.1" cy="430.2" r="3.45" fill="#060281" stroke="#060281"/>
<circle cx="1398.0" cy="562.5" r="3.45" fill="#000080" stroke="#000080"/>
<circle cx="1438.5" cy="568.2" r="3.45" fill="#ffffff" stroke="#ffffff"/>
<circle cx="1741.4" cy="159.3" r="3.45" fill="#50359a" stroke="#50359a"/>
<circle cx="1503.9" cy="700.8" r="3.45" fill="#020080" stroke="#020080"/>
<circle cx="1474.2" cy="699.2" r="3.45" fill="#1f0d86" stroke="#1f0d86"/>
<circle cx="1518.1" cy="646.3" r="3.45" fill="#9b83c4" stroke="#9b83c4"/>
<circle cx="1449.6" cy="697.8" r="3.45" fill="#c5b5dd" stroke="#c5b5dd"/>
<circle cx="1453.3" cy="409.3" r="3.45" fill="#000080" stroke="#000080"/>
<circle cx="1636.9" cy="523.0" r="3.45" fill="#ddd3eb" stroke="#ddd3eb"/>
<circle cx="1397.5" cy="660.8" r="3.45" fill="#ffffff" stroke="#ffffff"/>
<circle cx="1395.9" cy="557.5" r="3.45" fill="#000080" stroke="#000080"/>
<circle cx="1710.6" cy="169.8" r="3.45" fill="#130683" stroke="#130683"/>
<circle cx="1649.9" cy="531.6" r="3.45" fill="#6346a4" stroke="#6346a4"/>
<circle cx="1455.2" cy="386.4" r="3.45" fill="#000080" stroke="#000080"/>
<circle cx="1499.0" cy="353.6" r="3.45" fill="#000080" stroke="#000080"/>
<circle cx="1398.5" cy="646.4" r="3.45" fill="#563a9d" stroke="#563a9d"/>
<circle cx="1722.4" cy="407.5" r="3.45" fill="#d4c9e6" stroke="#d4c9e6"/>
<circle cx="1493.8" cy="687.1" r="3.45" fill="#1a0a85" stroke="#1a0a85"/>
<circle cx="1659.9" cy="235.1" r="3.45" fill="#1d0c85" stroke="#1d0c85"/>
<circle cx="1505.4" cy="692.2" r="3.45" fill="#040181" stroke="#040181"/>
<circle cx="1442.1" cy="508.6" r="3.45" fill="#0b0381" stroke="#0b0381"/>
<circle cx="1477.4" cy="448.5" r="3.45" fill="#0a0381" stroke="#0a0381"/>
<circle cx="1403.9" cy="648.9" r="3.45" fill="#9178be" stroke="#9178be"/>
<circle cx="1489.2" cy="367.4" r="3.45" fill="#000080" stroke="#000080"/>
<circle cx="1573.2" cy="313.8" r="3.45" fill="#140683" stroke="#140683"/>
<circle cx="1674.2" cy="187.4" r="3.45" fill="#010080" stroke="#010080"/>
<circle cx="1804.5" cy="85.9" r="3.45" fill="#110582" stroke="#110582"/>
<circle cx="1455.3" cy="459.0" r="3.45" fill="#010080" stroke="#010080"/>
<circle cx="1500.1" cy="700.4" r="3.45" fill="#030180" stroke="#030180"/>
<circle cx="1440.4" cy="538.3" r="3.45" fill="#271288" stroke="#271288"/>
<circle cx="1527.9" cy="393.7" r="3.45" fill="#ece7f4" stroke="#ece7f4"/>
<circle cx="1398.7" cy="631.2" r="3.45" fill="#2f188b" stroke="#2f188b"/>
<circle cx="1675.3" cy="167.2" r="3.45" fill="#000080" stroke="#000080"/>
<circle cx="1547.1" cy="622.4" r="3.45" fill="#8f75bd" stroke="#8f75bd"/>
<circle cx="1767.4" cy="141.7" r="3.45" fill="#684ca7" stroke="#684ca7"/>
<circle cx="1513.7" cy="317.6" r="3.45" fill="#000080" stroke="#000080"/>
<circle cx="1454.5" cy="704.6" r="3.45" fill="#432894" stroke="#432894"/>
<circle cx="1418.0" cy="496.6" r="3.45" fill="#000080" stroke="#000080"/>
<circle cx="1638.9" cy="263.5" r="3.45" fill="#492e97" stroke="#492e97"/>
<circle cx="1401.4" cy="647.6" r="3.45" fill="#c9bbdf" stroke="#c9bbdf"/>
<circle cx="1648.7" cy="265.2" r="3.45" fill="#947bc0" stroke="#947bc0"/>
<circle cx="1689.7" cy="200.6" r="3.45" fill="#170784" stroke="#170784"/>
<circle cx="1510.4" cy="431.5" r="3.45" fill="#aa95cd" stroke="#aa95cd"/>
<circle cx="1436.9" cy="534.2" r="3.45" fill="#100482" stroke="#100482"/>
<circle cx="1503.1" cy="675.6" r="3.45" fill="#261188" stroke="#261188"/>
<circle cx="1474.8" cy="701.5" r="3.45" fill="#190984" stroke="#190984"/>
<circle cx="1398.6" cy="661.0" r="3.45" fill="#ab96cd" stroke="#ab96cd"/>
<circle cx="1409.9" cy="606.0" r="3.45" fill="#371e8e" stroke="#371e8e"/>
<circle cx="1418.3" cy="618.1" r="3.45" fill="#e1d8ed" stroke="#e1d8ed"/>
<circle cx="1432.5" cy="479.7" r="3.45" fill="#000080" stroke="#000080"/>
<circle cx="1668.7" cy="127.1" r="3.45" fill="#000080" stroke="#000080"/>
<circle cx="1398.4" cy="661.0" r="3.45" fill="#896fb9" stroke="#896fb9"/>
<circle cx="1499.1" cy="361.5" r="3.45" fill="#000080" stroke="#000080"/>
<circle cx="1496.8" cy="287.1" r="3.45" fill="#000080" stroke="#000080"/>
<circle cx="1491.2" cy="463.9" r="3.45" fill="#674aa6" stroke="#674aa6"/>
<circle cx="1401.3" cy="641.9" r="3.45" fill="#a48ec9" stroke="#a48ec9"/>
<circle cx="1403.1" cy="532.3" r="3.45" fill="#000080" stroke="#000080"/>
<circle cx="1463.8" cy="519.4" r="3.45" fill="#ccbee1" stroke="#ccbee1"/>
<circle cx="1399.7" cy="531.4" r="3.45" fill="#000080" stroke="#000080"/>
<circle cx="1756.3" cy="395.1" r="3.45" fill="#100482" stroke="#100482"/>
<circle cx="1395.9" cy="660.4" r="3.45" fill="#a690ca" stroke="#a690ca"/>
<circle cx="1678.3" cy="235.6" r="3.45" fill="#ddd4eb" stroke="#ddd4eb"/>
<circle cx="1865.6" cy="262.6" r="3.45" fill="#080281" stroke="#080281"/>
<circle cx="1682.5" cy="223.8" r="3.45" fill="#9a83c4" stroke="#9a83c4"/>
<circle cx="1420.1" cy="505.3" r="3.45" fill="#000080" stroke="#000080"/>
<circle cx="1462.9" cy="684.5" r="3.45" fill="#a791cb" stroke="#a791cb"/>
<circle cx="1466.6" cy="689.0" r="3.45" fill="#7356ad" stroke="#7356ad"/>
<circle cx="1678.1" cy="210.0" r="3.45" fill="#110583" stroke="#110583"/>
<circle cx="1675.5" cy="206.3" r="3.45" fill="#090281" stroke="#090281"/>
<circle cx="1490.0" cy="706.0" r="3.45" fill="#050181" stroke="#050181"/>
<circle cx="1409.0" cy="620.9" r="3.45" fill="#7c61b2" stroke="#7c61b2"/>
<circle cx="1455.7" cy="692.9" r="3.45" fill="#ffffff" stroke="#ffffff"/>
<circle cx="1498.8" cy="705.0" r="3.45" fill="#020080" stroke="#020080"/>
<circle cx="1418.5" cy="518.0" r="3.45" fill="#000080" stroke="#000080"/>
<circle cx="1396.2" cy="654.3" r="3.45" fill="#8a70ba" stroke="#8a70ba"/>
<circle cx="1395.7" cy="583.4" r="3.45" fill="#020180" stroke="#020180"/>
<circle cx="1510.7" cy="432.9" r="3.45" fill="#bdacd8" stroke="#bdacd8"/>
<circle cx="1471.3" cy="368.8" r="3.45" fill="#000080" stroke="#000080"/>
<circle cx="1428.9" cy="535.4" r="3.45" fill="#0a0381" stroke="#0a0381"/>
<circle cx="1695.5" cy="154.8" r="3.45" fill="#000080" stroke="#000080"/>
<circle cx="1472.0" cy="446.1" r="3.45" fill="#030180" stroke="#030180"/>
<circle cx="1403.6" cy="635.5" r="3.45" fill="#54389c" stroke="#54389c"/>
<circle cx="1464.4" cy="682.4" r="3.45" fill="#a792cb" stroke="#a792cb"/>
<circle cx="1437.4" cy="704.3" r="3.45" fill="#b7a5d5" stroke="#b7a5d5"/>
<circle cx="1463.7" cy="515.6" r="3.45" fill="#866bb8" stroke="#866bb8"/>
<circle cx="1424.9" cy="528.4" r="3.45" fill="#020180" stroke="#020180"/>
<circle cx="1514.3" cy="705.8" r="3.45" fill="#000080" stroke="#000080"/>
<circle cx="1642.4" cy="163.6" r="3.45" fill="#000080" stroke="#000080"/>
<circle cx="1445.7" cy="535.2" r="3.45" fill="#4d3199" stroke="#4d3199"/>
<circle cx="1398.6" cy="529.5" r="3.45" fill="#000080" stroke="#000080"/>
<circle cx="1413.6" cy="553.2" r="3.45" fill="#020080" stroke="#020080"/>
<circle cx="1417.1" cy="561.0" r="3.45" fill="#070281" stroke="#070281"/>
<circle cx="1719.2" cy="184.0" r="3.45" fill="#53379c" stroke="#53379c"/>
<circle cx="1397.7" cy="630.1" r="3.45" fill="#281389" stroke="#281389"/>
<circle cx="1396.6" cy="588.2" r="3.45" fill="#050181" stroke="#050181"/>
<circle cx="1701.1" cy="181.9" r="3.45" fill="#150783" stroke="#150783"/>
<circle cx="1437.4" cy="508.9" r="3.45" fill="#040181" stroke="#040181"/>
<circle cx="1396.2" cy="659.5" r="3.45" fill="#f1edf7" stroke="#f1edf7"/>
<circle cx="1527.9" cy="400.4" r="3.45" fill="#ad99cf" stroke="#ad99cf"/>
<circle cx="1832.0" cy="345.3" r="3.45" fill="#080281" stroke="#080281"/>
<circle cx="1407.2" cy="538.8" r="3.45" fill="#000080" stroke="#000080"/>
<circle cx="1766.1" cy="108.8" r="3.45" fill="#090281" stroke="#090281"/>
<circle cx="1397.1" cy="622.8" r="3.45" fill="#140683" stroke="#140683"/>
<circle cx="1702.4" cy="170.4" r="3.45" fill="#050181" stroke="#050181"/>
<circle cx="1633.3" cy="217.7" r="3.45" fill="#000080" stroke="#000080"/>
<circle cx="1457.9" cy="701.3" r="3.45" fill="#361d8e" stroke="#361d8e"/>
<circle cx="1469.4" cy="505.1" r="3.45" fill="#674aa6" stroke="#674aa6"/>
<circle cx="1502.2" cy="703.0" r="3.45" fill="#030180" stroke="#030180"/>
<circle cx="1412.0" cy="614.4" r="3.45" fill="#785db0" stroke="#785db0"/>
<circle cx="1438.6" cy="500.7" r="3.45" fill="#030180" stroke="#030180"/>
<circle cx="1446.8" cy="531.2" r="3.45" fill="#281389" stroke="#281389"/>
<circle cx="1518.9" cy="411.9" r="3.45" fill="#694ca7" stroke="#694ca7"/>
<circle cx="1397.7" cy="548.4" r="3.45" fill="#000080" stroke="#000080"/>
<circle cx="1764.0" cy="129.5" r="3.45" fill="#231087" stroke="#231087"/>
<circle cx="1485.0" cy="431.9" r="3.45" fill="#0d0382" stroke="#0d0382"/>
<circle cx="1407.3" cy="530.6" r="3.45" fill="#000080" stroke="#000080"/>
<circle cx="1847.3" cy="308.5" r="3.45" fill="#060181" stroke="#060181"/>
<circle cx="1596.3" cy="625.0" r="3.45" fill="#0e0482" stroke="#0e0482"/>
<circle cx="1494.6" cy="687.5" r="3.45" fill="#180884" stroke="#180884"/>
<circle cx="1490.8" cy="678.2" r="3.45" fill="#53379c" stroke="#53379c"/>
<circle cx="1811.7" cy="85.6" r="3.45" fill="#291389" stroke="#291389"/>
<circle cx="1408.6" cy="511.1" r="3.45" fill="#000080" stroke="#000080"/>
<circle cx="1518.3" cy="403.8" r="3.45" fill="#38208f" stroke="#38208f"/>
<circle cx="1654.8" cy="219.0" r="3.45" fill="#040181" stroke="#040181"/>
<circle cx="1515.5" cy="336.0" r="3.45" fill="#000080" stroke="#000080"/>
<circle cx="1834.8" cy="84.5" r="3.45" fill="#9e87c6" stroke="#9e87c6"/>
<circle cx="1432.8" cy="555.3" r="3.45" fill="#432894" stroke="#432894"/>
<circle cx="1422.8" cy="523.9" r="3.45" fill="#010080" stroke="#010080"/>
<circle cx="1451.4" cy="521.7" r="3.45" fill="#462b95" stroke="#462b95"/>
<circle cx="1741.5" cy="103.6" r="3.45" fill="#000080" stroke="#000080"/>
<circle cx="1590.5" cy="568.0" r="3.45" fill="#d4c9e6" stroke="#d4c9e6"/>
<circle cx="1624.0" cy="253.2" r="3.45" fill="#0a0381" stroke="#0a0381"/>
<circle cx="1532.7" cy="374.6" r="3.45" fill="#2e188b" stroke="#2e188b"/>
<circle cx="1457.1" cy="503.0" r="3.45" fill="#210e87" stroke="#210e87"/>
<circle cx="1486.9" cy="392.2" r="3.45" fill="#000080" stroke="#000080"/>
<circle cx="1418.6" cy="589.4" r="3.45" fill="#4d3199" stroke="#4d3199"/>
<circle cx="1403.0" cy="469.6" r="3.45" fill="#000080" stroke="#000080"/>
<circle cx="1700.0" cy="182.7" r="3.45" fill="#150683" stroke="#150683"/>
<circle cx="1433.5" cy="439.5" r="3.45" fill="#000080" stroke="#000080"/>
<circle cx="1395.5" cy="636.7" r="3.45" fill="#361e8e" stroke="#361e8e"/>
<circle cx="1405.4" cy="630.0" r="3.45" fill="#8e74bc" stroke="#8e74bc"/>
<circle cx="1460.3" cy="704.3" r="3.45" fill="#321b8c" stroke="#321b8c"/>
<circle cx="1461.9" cy="456.8" r="3.45" fill="#020080" stroke="#020080"/>
<circle cx="1397.7" cy="620.9" r="3.45" fill="#261288" stroke="#261288"/>
<circle cx="1612.4" cy="229.2" r="3.45" fill="#000080" stroke="#000080"/>
<circle cx="1542.6" cy="328.4" r="3.45" fill="#020080" stroke="#020080"/>
<circle cx="1396.3" cy="613.5" r="3.45" fill="#150683" stroke="#150683"/>
<circle cx="1448.6" cy="469.9" r="3.45" fill="#010080" stroke="#010080"/>
<circle cx="1406.2" cy="621.2" r="3.45" fill="#4f349a" stroke="#4f349a"/>
<circle cx="1665.3" cy="249.6" r="3.45" fill="#c7b8de" stroke="#c7b8de"/>
<circle cx="1398.2" cy="586.9" r="3.45" fill="#030180" stroke="#030180"/>
<circle cx="1545.7" cy="312.6" r="3.45" fill="#000080" stroke="#000080"/>
<circle cx="1399.0" cy="589.2" r="3.45" fill="#050181" stroke="#050181"/>
<circle cx="1397.7" cy="590.9" r="3.45" fill="#050181" stroke="#050181"/>
<circle cx="1430.3" cy="426.9" r="3.45" fill="#000080" stroke="#000080"/>
<circle cx="1588.3" cy="257.7" r="3.45" fill="#000080" stroke="#000080"/>
<circle cx="1459.2" cy="483.7" r="3.45" fill="#0f0482" stroke="#0f0482"/>
<circle cx="1398.7" cy="619.3" r="3.45" fill="#1d0b85" stroke="#1d0b85"/>
<circle cx="1657.4" cy="260.4" r="3.45" fill="#ffffff" stroke="#ffffff"/>
<circle cx="1577.4" cy="337.9" r="3.45" fill="#9279bf" stroke="#9279bf"/>
<circle cx="1421.3" cy="468.1" r="3.45" fill="#000080" stroke="#000080"/>
<circle cx="1509.6" cy="402.1" r="3.45" fill="#150783" stroke="#150783"/>
<circle cx="1398.9" cy="627.9" r="3.45" fill="#251188" stroke="#251188"/>
<circle cx="1479.1" cy="702.5" r="3.45" fill="#160784" stroke="#160784"/>
<circle cx="1454.6" cy="483.3" r="3.45" fill="#040181" stroke="#040181"/>
<circle cx="1424.9" cy="528.4" r="3.45" fill="#020080" stroke="#020080"/>
<circle cx="1683.6" cy="236.3" r="3.45" fill="#ded5ec" stroke="#ded5ec"/>
<circle cx="1501.3" cy="688.2" r="3.45" fill="#130683" stroke="#130683"/>
<circle cx="1439.0" cy="510.6" r="3.45" fill="#050181" stroke="#050181"/>
<circle cx="1796.9" cy="296.1" r="3.45" fill="#f2eef7" stroke="#f2eef7"/>
<circle cx="1397.7" cy="660.8" r="3.45" fill="#eee9f5" stroke="#eee9f5"/>
<circle cx="1460.2" cy="421.8" r="3.45" fill="#000080" stroke="#000080"/>
<circle cx="1567.2" cy="288.6" r="3.45" fill="#000080" stroke="#000080"/>
<circle cx="1665.7" cy="191.9" r="3.45" fill="#000080" stroke="#000080"/>
<circle cx="1469.5" cy="682.7" r="3.45" fill="#775baf" stroke="#775baf"/>
<circle cx="1691.9" cy="225.0" r="3.45" fill="#ffffff" stroke="#ffffff"/>
<circle cx="1606.2" cy="220.6" r="3.45" fill="#000080" stroke="#000080"/>
<circle cx="1412.8" cy="560.4" r="3.45" fill="#060181" stroke="#060181"/>
<circle cx="1401.7" cy="626.1" r="3.45" fill="#2f188b" stroke="#2f188b"/>
<circle cx="1667.2" cy="234.7" r="3.45" fill="#472c95" stroke="#472c95"/>
<circle cx="1752.4" cy="428.0" r="3.45" fill="#0b0382" stroke="#0b0382"/>
<circle cx="1641.3" cy="246.7" r="3.45" fill="#0b0382" stroke="#0b0382"/>
<circle cx="1396.8" cy="605.2" r="3.45" fill="#100482" stroke="#100482"/>
<circle cx="1420.5" cy="598.9" r="3.45" fill="#7e63b3" stroke="#7e63b3"/>
<circle cx="1413.4" cy="554.0" r="3.45" fill="#020180" stroke="#020180"/>
<circle cx="1460.3" cy="489.7" r="3.45" fill="#110582" stroke="#110582"/>
<circle cx="1465.8" cy="499.4" r="3.45" fill="#2f188b" stroke="#2f188b"/>
<circle cx="1517.6" cy="352.1" r="3.45" fill="#000080" stroke="#000080"/>
<circle cx="1426.9" cy="564.3" r="3.45" fill="#51359b" stroke="#51359b"/>
<circle cx="1426.1" cy="559.2" r="3.45" fill="#150783" stroke="#150783"/>
<circle cx="1457.7" cy="414.7" r="3.45" fill="#000080" stroke="#000080"/>
<circle cx="1396.4" cy="575.5" r="3.45" fill="#010080" stroke="#010080"/>
<circle cx="1398.6" cy="549.5" r="3.45" fill="#000080" stroke="#000080"/>
<circle cx="1827.0" cy="84.0" r="3.45" fill="#5b3fa0" stroke="#5b3fa0"/>
<circle cx="1517.1" cy="417.3" r="3.45" fill="#beacd8" stroke="#beacd8"/>
<circle cx="1518.8" cy="658.8" r="3.45" fill="#311a8c" stroke="#311a8c"/>
<circle cx="1396.0" cy="546.4" r="3.45" fill="#000080" stroke="#000080"/>
<circle cx="1397.3" cy="645.6" r="3.45" fill="#52369b" stroke="#52369b"/>
<circle cx="1403.0" cy="625.9" r="3.45" fill="#361e8e" stroke="#361e8e"/>
<circle cx="1542.9" cy="302.8" r="3.45" fill="#000080" stroke="#000080"/>
<circle cx="1408.7" cy="457.4" r="3.45" fill="#000080" stroke="#000080"/>
<circle cx="1398.7" cy="510.2" r="3.45" fill="#000080" stroke="#000080"/>
<circle cx="1395.7" cy="611.4" r="3.45" fill="#0a0381" stroke="#0a0381"/>
<circle cx="1402.4" cy="597.4" r="3.45" fill="#120583" stroke="#120583"/>
<circle cx="1398.3" cy="535.5" r="3.45" fill="#000080" stroke="#000080"/>
<circle cx="1510.7" cy="703.8" r="3.45" fill="#000080" stroke="#000080"/>
<circle cx="1397.3" cy="602.7" r="3.45" fill="#060281" stroke="#060281"/>
<circle cx="1398.2" cy="526.2" r="3.45" fill="#000080" stroke="#000080"/>
<circle cx="1396.3" cy="633.1" r="3.45" fill="#452a94" stroke="#452a94"/>
<circle cx="1497.1" cy="694.9" r="3.45" fill="#060181" stroke="#060181"/>
<circle cx="1542.2" cy="354.5" r="3.45" fill="#1c0b85" stroke="#1c0b85"/>
<circle cx="1699.7" cy="194.9" r="3.45" fill="#281389" stroke="#281389"/>
<circle cx="1418.9" cy="452.5" r="3.45" fill="#000080" stroke="#000080"/>
<circle cx="1813.5" cy="304.2" r="3.45" fill="#100482" stroke="#100482"/>
<circle cx="1424.5" cy="493.4" r="3.45" fill="#000080" stroke="#000080"/>
<circle cx="1412.9" cy="606.5" r="3.45" fill="#593d9f" stroke="#593d9f"/>
<circle cx="1635.9" cy="242.6" r="3.45" fill="#0b0382" stroke="#0b0382"/>
<circle cx="1427.5" cy="583.4" r="3.45" fill="#ad98cf" stroke="#ad98cf"/>
<circle cx="1732.1" cy="157.7" r="3.45" fill="#180884" stroke="#180884"/>
<circle cx="1476.5" cy="451.9" r="3.45" fill="#100582" stroke="#100582"/>
<circle cx="1561.8" cy="246.3" r="3.45" fill="#000080" stroke="#000080"/>
<circle cx="1622.8" cy="256.5" r="3.45" fill="#0c0382" stroke="#0c0382"/>
<circle cx="1407.1" cy="556.8" r="3.45" fill="#020080" stroke="#020080"/>
<circle cx="1762.3" cy="120.5" r="3.45" fill="#130683" stroke="#130683"/>
<circle cx="1405.2" cy="639.2" r="3.45" fill="#6a4ea8" stroke="#6a4ea8"/>
<circle cx="1577.2" cy="330.3" r="3.45" fill="#9077be" stroke="#9077be"/>
<circle cx="1498.6" cy="692.8" r="3.45" fill="#060281" stroke="#060281"/>
<circle cx="1509.6" cy="423.4" r="3.45" fill="#54389c" stroke="#54389c"/>
<circle cx="1645.3" cy="173.6" r="3.45" fill="#000080" stroke="#000080"/>
<circle cx="1430.9" cy="560.2" r="3.45" fill="#271288" stroke="#271288"/>
<circle cx="1415.6" cy="444.2" r="3.45" fill="#000080" stroke="#000080"/>
<circle cx="1406.1" cy="575.2" r="3.45" fill="#050181" stroke="#050181"/>
<circle cx="1791.7" cy="120.1" r="3.45" fill="#7256ac" stroke="#7256ac"/>
<circle cx="1839.1" cy="340.7" r="3.45" fill="#080281" stroke="#080281"/>
<circle cx="1574.2" cy="298.1" r="3.45" fill="#060281" stroke="#060281"/>
<circle cx="1702.2" cy="574.0" r="3.45" fill="#080281" stroke="#080281"/>
<circle cx="1601.8" cy="264.8" r="3.45" fill="#020180" stroke="#020180"/>
<circle cx="1465.7" cy="702.3" r="3.45" fill="#1f0d86" stroke="#1f0d86"/>
<circle cx="1454.8" cy="507.6" r="3.45" fill="#3b2290" stroke="#3b2290"/>
<circle cx="1396.6" cy="612.8" r="3.45" fill="#0d0482" stroke="#0d0482"/>
<circle cx="1789.9" cy="424.5" r="3.45" fill="#080281" stroke="#080281"/>
<circle cx="1540.3" cy="306.6" r="3.45" fill="#000080" stroke="#000080"/>
<circle cx="1499.7" cy="346.2" r="3.45" fill="#000080" stroke="#000080"/>
<circle cx="1460.3" cy="508.3" r="3.45" fill="#412793" stroke="#412793"/>
<circle cx="1529.8" cy="375.2" r="3.45" fill="#150783" stroke="#150783"/>
<circle cx="1556.4" cy="702.7" r="3.45" fill="#000080" stroke="#000080"/>
<circle cx="1514.1" cy="703.6" r="3.45" fill="#000080" stroke="#000080"/>
<circle cx="1397.9" cy="561.9" r="3.45" fill="#000080" stroke="#000080"/>
<circle cx="1399.6" cy="381.3" r="3.45" fill="#000080" stroke="#000080"/>
<circle cx="1465.3" cy="698.7" r="3.45" fill="#39208f" stroke="#39208f"/>
<circle cx="1476.4" cy="490.7" r="3.45" fill="#a690ca" stroke="#a690ca"/>
<circle cx="1707.0" cy="144.5" r="3.45" fill="#010080" stroke="#010080"/>
<circle cx="1396.3" cy="660.2" r="3.45" fill="#ac97ce" stroke="#ac97ce"/>
<circle cx="1448.2" cy="704.4" r="3.45" fill="#52369b" stroke="#52369b"/>
<circle cx="1546.9" cy="695.0" r="3.45" fill="#000080" stroke="#000080"/>
<circle cx="1419.3" cy="577.6" r="3.45" fill="#2b158a" stroke="#2b158a"/>
<circle cx="1417.4" cy="596.1" r="3.45" fill="#452a95" stroke="#452a95"/>
<circle cx="1532.3" cy="306.0" r="3.45" fill="#000080" stroke="#000080"/>
<circle cx="1627.7" cy="284.7" r="3.45" fill="#a690ca" stroke="#a690ca"/>
<circle cx="1480.9" cy="685.5" r="3.45" fill="#452a95" stroke="#452a95"/>
<circle cx="1401.1" cy="626.8" r="3.45" fill="#341c8d" stroke="#341c8d"/>
<circle cx="1397.5" cy="599.3" r="3.45" fill="#0c0382" stroke="#0c0382"/>
<circle cx="1408.0" cy="536.1" r="3.45" fill="#000080" stroke="#000080"/>
<circle cx="1473.8" cy="498.3" r="3.45" fill="#a690ca" stroke="#a690ca"/>
<circle cx="1411.5" cy="568.5" r="3.45" fill="#110583" stroke="#110583"/>
<circle cx="1402.7" cy="608.4" r="3.45" fill="#241087" stroke="#241087"/>
<circle cx="1405.6" cy="621.8" r="3.45" fill="#482c96" stroke="#482c96"/>
<circle cx="1399.6" cy="600.3" r="3.45" fill="#110582" stroke="#110582"/>
<circle cx="1399.1" cy="666.2" r="3.45" fill="#ffffff" stroke="#ffffff"/>
<circle cx="1397.6" cy="625.1" r="3.45" fill="#1e0c86" stroke="#1e0c86"/>
<circle cx="1481.9" cy="402.4" r="3.45" fill="#010080" stroke="#010080"/>
<circle cx="1490.1" cy="701.5" r="3.45" fill="#080281" stroke="#080281"/>
<circle cx="1409.2" cy="569.5" r="3.45" fill="#070281" stroke="#070281"/>
<circle cx="1507.6" cy="704.2" r="3.45" fill="#010080" stroke="#010080"/>
<circle cx="1397.6" cy="578.6" r="3.45" fill="#020180" stroke="#020180"/>
<circle cx="1762.2" cy="115.3" r="3.45" fill="#060281" stroke="#060281"/>
<circle cx="1399.6" cy="653.2" r="3.45" fill="#e1d9ed" stroke="#e1d9ed"/>
<circle cx="1443.0" cy="556.3" r="3.45" fill="#674ba6" stroke="#674ba6"/>
<circle cx="1398.2" cy="614.2" r="3.45" fill="#0e0482" stroke="#0e0482"/>
<circle cx="1398.1" cy="552.5" r="3.45" fill="#000080" stroke="#000080"/>
<circle cx="1397.3" cy="591.2" r="3.45" fill="#060181" stroke="#060181"/>
<circle cx="1395.6" cy="615.7" r="3.45" fill="#180884" stroke="#180884"/>
<circle cx="1703.5" cy="110.4" r="3.45" fill="#000080" stroke="#000080"/>
<circle cx="1408.8" cy="619.0" r="3.45" fill="#7054ab" stroke="#7054ab"/>
<circle cx="1470.9" cy="686.7" r="3.45" fill="#7357ad" stroke="#7357ad"/>
<circle cx="1473.5" cy="435.0" r="3.45" fill="#020180" stroke="#020180"/>
<circle cx="1427.2" cy="585.8" r="3.45" fill="#c2b2db" stroke="#c2b2db"/>
<circle cx="1453.2" cy="508.9" r="3.45" fill="#2f188b" stroke="#2f188b"/>
<circle cx="1467.8" cy="685.7" r="3.45" fill="#6b4ea8" stroke="#6b4ea8"/>
<circle cx="1412.1" cy="557.4" r="3.45" fill="#030180" stroke="#030180"/>
<circle cx="1452.3" cy="444.8" r="3.45" fill="#000080" stroke="#000080"/>
<circle cx="1571.7" cy="274.4" r="3.45" fill="#000080" stroke="#000080"/>
<circle cx="1488.3" cy="705.5" r="3.45" fill="#060281" stroke="#060281"/>
<circle cx="1404.2" cy="647.7" r="3.45" fill="#9279bf" stroke="#9279bf"/>
<circle cx="1415.9" cy="618.0" r="3.45" fill="#9880c2" stroke="#9880c2"/>
<circle cx="1411.8" cy="608.8" r="3.45" fill="#5f43a2" stroke="#5f43a2"/>
<circle cx="1444.8" cy="549.6" r="3.45" fill="#7357ad" stroke="#7357ad"/>
<circle cx="1398.5" cy="604.3" r="3.45" fill="#090281" stroke="#090281"/>
<circle cx="1411.8" cy="457.4" r="3.45" fill="#000080" stroke="#000080"/>
<circle cx="1626.2" cy="192.2" r="3.45" fill="#000080" stroke="#000080"/>
<circle cx="1427.1" cy="554.5" r="3.45" fill="#180884" stroke="#180884"/>
<circle cx="1501.5" cy="684.2" r="3.45" fill="#160784" stroke="#160784"/>
<circle cx="1507.9" cy="398.8" r="3.45" fill="#110582" stroke="#110582"/>
<circle cx="1412.9" cy="550.0" r="3.45" fill="#020180" stroke="#020180"/>
<circle cx="1649.9" cy="523.1" r="3.45" fill="#9077bd" stroke="#9077bd"/>
<circle cx="1401.0" cy="591.0" r="3.45" fill="#110583" stroke="#110583"/>
<circle cx="1746.6" cy="107.9" r="3.45" fill="#000080" stroke="#000080"/>
<circle cx="1447.8" cy="552.9" r="3.45" fill="#ffffff" stroke="#ffffff"/>
<circle cx="1634.3" cy="255.9" r="3.45" fill="#1c0b85" stroke="#1c0b85"/>
<circle cx="1397.9" cy="635.3" r="3.45" fill="#361e8e" stroke="#361e8e"/>
<circle cx="1729.7" cy="141.8" r="3.45" fill="#030180" stroke="#030180"/>
<circle cx="1587.2" cy="269.9" r="3.45" fill="#010080" stroke="#010080"/>
<circle cx="1712.8" cy="191.8" r="3.45" fill="#7d61b2" stroke="#7d61b2"/>
<circle cx="1412.2" cy="615.5" r="3.45" fill="#583b9e" stroke="#583b9e"/>
<circle cx="1397.8" cy="639.3" r="3.45" fill="#271388" stroke="#271388"/>
<circle cx="1439.9" cy="530.7" r="3.45" fill="#230f87" stroke="#230f87"/>
<circle cx="1470.9" cy="462.7" r="3.45" fill="#0a0281" stroke="#0a0281"/>
<circle cx="1422.9" cy="559.9" r="3.45" fill="#170784" stroke="#170784"/>
<circle cx="1396.5" cy="604.2" r="3.45" fill="#0c0382" stroke="#0c0382"/>
<circle cx="1403.1" cy="629.6" r="3.45" fill="#6246a4" stroke="#6246a4"/>
<circle cx="1503.8" cy="706.0" r="3.45" fill="#010080" stroke="#010080"/>
<circle cx="1399.0" cy="644.1" r="3.45" fill="#482d96" stroke="#482d96"/>
<circle cx="1641.4" cy="261.2" r="3.45" fill="#381f8f" stroke="#381f8f"/>
<circle cx="1558.1" cy="343.6" r="3.45" fill="#351d8e" stroke="#351d8e"/>
<circle cx="1542.0" cy="668.0" r="3.45" fill="#020080" stroke="#020080"/>
<circle cx="1425.8" cy="580.5" r="3.45" fill="#452b95" stroke="#452b95"/>
<circle cx="1764.7" cy="147.7" r="3.45" fill="#c3b3dc" stroke="#c3b3dc"/>
<circle cx="1570.5" cy="337.1" r="3.45" fill="#6246a4" stroke="#6246a4"/>
<circle cx="1397.4" cy="633.8" r="3.45" fill="#351d8e" stroke="#351d8e"/>
<circle cx="1397.4" cy="642.8" r="3.45" fill="#452a95" stroke="#452a95"/>
<circle cx="1443.7" cy="702.4" r="3.45" fill="#7155ac" stroke="#7155ac"/>
<circle cx="1444.8" cy="349.3" r="3.45" fill="#000080" stroke="#000080"/>
<circle cx="1408.6" cy="581.2" r="3.45" fill="#130683" stroke="#130683"/>
<circle cx="1412.6" cy="586.0" r="3.45" fill="#1f0d86" stroke="#1f0d86"/>
<circle cx="1406.7" cy="630.0" r="3.45" fill="#694da7" stroke="#694da7"/>
<circle cx="1529.6" cy="256.1" r="3.45" fill="#000080" stroke="#000080"/>
<circle cx="1456.4" cy="698.9" r="3.45" fill="#3d2491" stroke="#3d2491"/>
<circle cx="1539.2" cy="629.0" r="3.45" fill="#694ca7" stroke="#694ca7"/>
<circle cx="1495.4" cy="390.8" r="3.45" fill="#010080" stroke="#010080"/>
<circle cx="1884.1" cy="156.3" r="3.45" fill="#7e63b3" stroke="#7e63b3"/>
<circle cx="1563.1" cy="349.0" r="3.45" fill="#6f52aa" stroke="#6f52aa"/>
<circle cx="1470.0" cy="500.1" r="3.45" fill="#6448a5" stroke="#6448a5"/>
<circle cx="1396.0" cy="494.0" r="3.45" fill="#000080" stroke="#000080"/>
<circle cx="1716.7" cy="462.7" r="3.45" fill="#100482" stroke="#100482"/>
<circle cx="1629.7" cy="633.2" r="3.45" fill="#0b0382" stroke="#0b0382"/>
<circle cx="1550.0" cy="344.3" r="3.45" fill="#1d0c85" stroke="#1d0c85"/>
<circle cx="1507.8" cy="689.4" r="3.45" fill="#030180" stroke="#030180"/>
<circle cx="1640.8" cy="254.5" r="3.45" fill="#261188" stroke="#261188"/>
<circle cx="1623.3" cy="159.6" r="3.45" fill="#000080" stroke="#000080"/>
<circle cx="1417.7" cy="448.3" r="3.45" fill="#000080" stroke="#000080"/>
<circle cx="1546.7" cy="377.2" r="3.45" fill="#977ec1" stroke="#977ec1"/>
<circle cx="1426.3" cy="524.5" r="3.45" fill="#020080" stroke="#020080"/>
<circle cx="1501.6" cy="700.7" r="3.45" fill="#030180" stroke="#030180"/>
<circle cx="1552.4" cy="358.9" r="3.45" fill="#593d9f" stroke="#593d9f"/>
<circle cx="1397.8" cy="585.6" r="3.45" fill="#030180" stroke="#030180"/>
<circle cx="1587.5" cy="310.2" r="3.45" fill="#321b8c" stroke="#321b8c"/>
<circle cx="1430.8" cy="524.8" r="3.45" fill="#050181" stroke="#050181"/>
<circle cx="1403.2" cy="565.2" r="3.45" fill="#020180" stroke="#020180"/>
<circle cx="1534.7" cy="662.5" r="3.45" fill="#0e0482" stroke="#0e0482"/>
<circle cx="1519.9" cy="651.4" r="3.45" fill="#462b95" stroke="#462b95"/>
<circle cx="1720.0" cy="145.9" r="3.45" fill="#030180" stroke="#030180"/>
<circle cx="1602.1" cy="247.7" r="3.45" fill="#000080" stroke="#000080"/>
<circle cx="1408.9" cy="525.5" r="3.45" fill="#000080" stroke="#000080"/>
<circle cx="1398.8" cy="595.2" r="3.45" fill="#070281" stroke="#070281"/>
<circle cx="1787.8" cy="109.5" r="3.45" fill="#241087" stroke="#241087"/>
<circle cx="1597.0" cy="665.0" r="3.45" fill="#0b0382" stroke="#0b0382"/>
<circle cx="1659.8" cy="197.0" r="3.45" fill="#010080" stroke="#010080"/>
<circle cx="1720.0" cy="182.0" r="3.45" fill="#8166b5" stroke="#8166b5"/>
<circle cx="1399.0" cy="583.1" r="3.45" fill="#020080" stroke="#020080"/>
<circle cx="1406.3" cy="492.4" r="3.45" fill="#000080" stroke="#000080"/>
<circle cx="1467.6" cy="497.1" r="3.45" fill="#53379c" stroke="#53379c"/>
<circle cx="1409.3" cy="527.6" r="3.45" fill="#000080" stroke="#000080"/>
<circle cx="1414.9" cy="555.4" r="3.45" fill="#080281" stroke="#080281"/>
<circle cx="1401.5" cy="572.1" r="3.45" fill="#020080" stroke="#020080"/>
<circle cx="1413.4" cy="606.5" r="3.45" fill="#4c3198" stroke="#4c3198"/>
<circle cx="1395.9" cy="549.8" r="3.45" fill="#000080" stroke="#000080"/>
<circle cx="1421.9" cy="505.2" r="3.45" fill="#000080" stroke="#000080"/>
<circle cx="1777.3" cy="92.3" r="3.45" fill="#030180" stroke="#030180"/>
<circle cx="1396.3" cy="617.2" r="3.45" fill="#160784" stroke="#160784"/>
<circle cx="1408.5" cy="636.3" r="3.45" fill="#c1b0da" stroke="#c1b0da"/>
<circle cx="1443.0" cy="506.4" r="3.45" fill="#040181" stroke="#040181"/>
<circle cx="1477.1" cy="292.3" r="3.45" fill="#000080" stroke="#000080"/>
<circle cx="1571.5" cy="680.9" r="3.45" fill="#000080" stroke="#000080"/>
<circle cx="1512.8" cy="691.6" r="3.45" fill="#020080" stroke="#020080"/>
<circle cx="1395.5" cy="650.6" r="3.45" fill="#52369b" stroke="#52369b"/>
<circle cx="1513.7" cy="691.6" r="3.45" fill="#020180" stroke="#020180"/>
<circle cx="1400.4" cy="523.4" r="3.45" fill="#000080" stroke="#000080"/>
<circle cx="1504.9" cy="391.1" r="3.45" fill="#030180" stroke="#030180"/>
<circle cx="1541.5" cy="631.2" r="3.45" fill="#593d9f" stroke="#593d9f"/>
<circle cx="1396.2" cy="637.3" r="3.45" fill="#30198c" stroke="#30198c"/>
<circle cx="1712.7" cy="94.8" r="3.45" fill="#000080" stroke="#000080"/>
<circle cx="1522.8" cy="411.7" r="3.45" fill="#937abf" stroke="#937abf"/>
<circle cx="1427.8" cy="470.5" r="3.45" fill="#000080" stroke="#000080"/>
<circle cx="1527.5" cy="359.8" r="3.45" fill="#060281" stroke="#060281"/>
<circle cx="1441.4" cy="428.0" r="3.45" fill="#000080" stroke="#000080"/>
<circle cx="1572.5" cy="343.5" r="3.45" fill="#846ab7" stroke="#846ab7"/>
<circle cx="1404.0" cy="560.9" r="3.45" fill="#010080" stroke="#010080"/>
<circle cx="1637.2" cy="560.2" r="3.45" fill="#4f339a" stroke="#4f339a"/>
<circle cx="1741.3" cy="134.5" r="3.45" fill="#0a0281" stroke="#0a0281"/>
<circle cx="1644.8" cy="633.6" r="3.45" fill="#0b0382" stroke="#0b0382"/>
<circle cx="1399.0" cy="606.9" r="3.45" fill="#150783" stroke="#150783"/>
<circle cx="1467.7" cy="502.2" r="3.45" fill="#472c96" stroke="#472c96"/>
<circle cx="1396.0" cy="484.3" r="3.45" fill="#000080" stroke="#000080"/>
<circle cx="1641.5" cy="141.8" r="3.45" fill="#000080" stroke="#000080"/>
<circle cx="1444.9" cy="403.9" r="3.45" fill="#000080" stroke="#000080"/>
<circle cx="1743.9" cy="158.9" r="3.45" fill="#7054ab" stroke="#7054ab"/>
<circle cx="1397.7" cy="604.2" r="3.45" fill="#0d0382" stroke="#0d0382"/>
<circle cx="1396.0" cy="659.1" r="3.45" fill="#a58fca" stroke="#a58fca"/>
<circle cx="1398.2" cy="611.1" r="3.45" fill="#100582" stroke="#100582"/>
<circle cx="1397.0" cy="502.2" r="3.45" fill="#000080" stroke="#000080"/>
<circle cx="1395.7" cy="606.7" r="3.45" fill="#090281" stroke="#090281"/>
<circle cx="1398.1" cy="648.2" r="3.45" fill="#51359b" stroke="#51359b"/>
<circle cx="1398.1" cy="526.0" r="3.45" fill="#000080" stroke="#000080"/>
<circle cx="1402.8" cy="601.3" r="3.45" fill="#0f0482" stroke="#0f0482"/>
<circle cx="1412.0" cy="511.7" r="3.45" fill="#000080" stroke="#000080"/>
<circle cx="1785.1" cy="126.6" r="3.45" fill="#8065b4" stroke="#8065b4"/>
<circle cx="1454.2" cy="423.5" r="3.45" fill="#000080" stroke="#000080"/>
<circle cx="1410.8" cy="568.2" r="3.45" fill="#070281" stroke="#070281"/>
<circle cx="1534.5" cy="322.1" r="3.45" fill="#000080" stroke="#000080"/>
<circle cx="1649.1" cy="256.8" r="3.45" fill="#50349a" stroke="#50349a"/>
<circle cx="1724.0" cy="142.9" r="3.45" fill="#030180" stroke="#030180"/>
<circle cx="1565.7" cy="227.7" r="3.45" fill="#000080" stroke="#000080"/>
<circle cx="1763.0" cy="151.0" r="3.45" fill="#967dc1" stroke="#967dc1"/>
<circle cx="1428.6" cy="580.8" r="3.45" fill="#d4c8e5" stroke="#d4c8e5"/>
<circle cx="1493.4" cy="685.1" r="3.45" fill="#2b158a" stroke="#2b158a"/>
<circle cx="1395.8" cy="618.2" r="3.45" fill="#160784" stroke="#160784"/>
<circle cx="1410.3" cy="346.6" r="3.45" fill="#000080" stroke="#000080"/>
<circle cx="1419.4" cy="571.7" r="3.45" fill="#2a1489" stroke="#2a1489"/>
<circle cx="1454.5" cy="701.6" r="3.45" fill="#442a94" stroke="#442a94"/>
<circle cx="1403.4" cy="599.2" r="3.45" fill="#120583" stroke="#120583"/>
<circle cx="1431.2" cy="476.3" r="3.45" fill="#000080" stroke="#000080"/>
<circle cx="1493.7" cy="700.3" r="3.45" fill="#040181" stroke="#040181"/>
<circle cx="1456.0" cy="703.5" r="3.45" fill="#472c96" stroke="#472c96"/>
<circle cx="1407.5" cy="638.5" r="3.45" fill="#9b83c4" stroke="#9b83c4"/>
<circle cx="1477.3" cy="466.2" r="3.45" fill="#220f87" stroke="#220f87"/>
<circle cx="1534.3" cy="660.2" r="3.45" fill="#0d0382" stroke="#0d0382"/>
<circle cx="1416.9" cy="583.5" r="3.45" fill="#361e8e" stroke="#361e8e"/>
<circle cx="1450.2" cy="461.7" r="3.45" fill="#000080" stroke="#000080"/>
<circle cx="1511.5" cy="705.5" r="3.45" fill="#000080" stroke="#000080"/>
<circle cx="1492.8" cy="706.1" r="3.45" fill="#040181" stroke="#040181"/>
<circle cx="1402.6" cy="586.6" r="3.45" fill="#090281" stroke="#090281"/>
<circle cx="1398.8" cy="563.3" r="3.45" fill="#010080" stroke="#010080"/>
<circle cx="1441.2" cy="403.6" r="3.45" fill="#000080" stroke="#000080"/>
<circle cx="1396.1" cy="558.1" r="3.45" fill="#000080" stroke="#000080"/>
<circle cx="1396.4" cy="588.1" r="3.45" fill="#030180" stroke="#030180"/>
<circle cx="1654.5" cy="209.5" r="3.45" fill="#010080" stroke="#010080"/>
<circle cx="1590.1" cy="619.9" r="3.45" fill="#010080" stroke="#010080"/>
<circle cx="1517.5" cy="290.0" r="3.45" fill="#000080" stroke="#000080"/>
<circle cx="1437.1" cy="386.0" r="3.45" fill="#000080" stroke="#000080"/>
<circle cx="1642.9" cy="246.3" r="3.45" fill="#180884" stroke="#180884"/>
<circle cx="1395.6" cy="516.9" r="3.45" fill="#000080" stroke="#000080"/>
<circle cx="1526.0" cy="643.0" r="3.45" fill="#7458ae" stroke="#7458ae"/>
<circle cx="1737.6" cy="160.8" r="3.45" fill="#4d3198" stroke="#4d3198"/>
<circle cx="1437.6" cy="704.9" r="3.45" fill="#a690ca" stroke="#a690ca"/>
<circle cx="1601.4" cy="569.1" r="3.45" fill="#aa95cd" stroke="#aa95cd"/>
<circle cx="1468.2" cy="697.7" r="3.45" fill="#351d8e" stroke="#351d8e"/>
<circle cx="1712.3" cy="182.5" r="3.45" fill="#261288" stroke="#261288"/>
<circle cx="1617.7" cy="258.9" r="3.45" fill="#0b0381" stroke="#0b0381"/>
<circle cx="1397.0" cy="589.7" r="3.45" fill="#060281" stroke="#060281"/>
<circle cx="1498.9" cy="429.4" r="3.45" fill="#291489" stroke="#291489"/>
<circle cx="1463.4" cy="417.1" r="3.45" fill="#000080" stroke="#000080"/>
<circle cx="1486.4" cy="703.2" r="3.45" fill="#080281" stroke="#080281"/>
<circle cx="1547.2" cy="345.4" r="3.45" fill="#120583" stroke="#120583"/>
<circle cx="1508.1" cy="704.0" r="3.45" fill="#010080" stroke="#010080"/>
<circle cx="1461.5" cy="519.3" r="3.45" fill="#b29ed1" stroke="#b29ed1"/>
<circle cx="1507.8" cy="702.2" r="3.45" fill="#010080" stroke="#010080"/>
<circle cx="1396.0" cy="593.0" r="3.45" fill="#070281" stroke="#070281"/>
<circle cx="1730.9" cy="95.9" r="3.45" fill="#000080" stroke="#000080"/>
<circle cx="1415.8" cy="548.5" r="3.45" fill="#020080" stroke="#020080"/>
<circle cx="1733.6" cy="173.8" r="3.45" fill="#a48ec9" stroke="#a48ec9"/>
<circle cx="1484.2" cy="688.1" r="3.45" fill="#351d8e" stroke="#351d8e"/>
<circle cx="1520.4" cy="673.9" r="3.45" fill="#080281" stroke="#080281"/>
<circle cx="1500.5" cy="331.7" r="3.45" fill="#000080" stroke="#000080"/>
<circle cx="1397.0" cy="594.0" r="3.45" fill="#060281" stroke="#060281"/>
<circle cx="1396.5" cy="594.6" r="3.45" fill="#090281" stroke="#090281"/>
<circle cx="1538.9" cy="389.1" r="3.45" fill="#ffffff" stroke="#ffffff"/>
<circle cx="1767.1" cy="106.2" r="3.45" fill="#050181" stroke="#050181"/>
<circle cx="1652.8" cy="250.3" r="3.45" fill="#361e8e" stroke="#361e8e"/>
<circle cx="1684.9" cy="123.2" r="3.45" fill="#000080" stroke="#000080"/>
<circle cx="1402.1" cy="585.0" r="3.45" fill="#070281" stroke="#070281"/>
<circle cx="1396.4" cy="568.7" r="3.45" fill="#010080" stroke="#010080"/>
<circle cx="1408.0" cy="638.6" r="3.45" fill="#b5a2d3" stroke="#b5a2d3"/>
<circle cx="1456.9" cy="490.7" r="3.45" fill="#0f0482" stroke="#0f0482"/>
<circle cx="1859.2" cy="428.4" r="3.45" fill="#080281" stroke="#080281"/>
<circle cx="1395.5" cy="660.3" r="3.45" fill="#f5f2f9" stroke="#f5f2f9"/>
<circle cx="1396.7" cy="608.8" r="3.45" fill="#150783" stroke="#150783"/>
<circle cx="1409.9" cy="490.8" r="3.45" fill="#000080" stroke="#000080"/>
<circle cx="1395.8" cy="604.7" r="3.45" fill="#0f0482" stroke="#0f0482"/>
<circle cx="1655.5" cy="201.2" r="3.45" fill="#010080" stroke="#010080"/>
<circle cx="1680.7" cy="169.9" r="3.45" fill="#000080" stroke="#000080"/>
<circle cx="1420.7" cy="569.5" r="3.45" fill="#31198c" stroke="#31198c"/>
<circle cx="1850.8" cy="252.1" r="3.45" fill="#080281" stroke="#080281"/>
<circle cx="1395.7" cy="646.6" r="3.45" fill="#7054ab" stroke="#7054ab"/>
<circle cx="1396.4" cy="617.1" r="3.45" fill="#1f0d86" stroke="#1f0d86"/>
<circle cx="1416.1" cy="593.7" r="3.45" fill="#402692" stroke="#402692"/>
<circle cx="1498.5" cy="658.3" r="3.45" fill="#ffffff" stroke="#ffffff"/>
<circle cx="1422.6" cy="357.4" r="3.45" fill="#000080" stroke="#000080"/>
<circle cx="1404.0" cy="607.6" r="3.45" fill="#341c8d" stroke="#341c8d"/>
<circle cx="1566.5" cy="698.0" r="3.45" fill="#000080" stroke="#000080"/>
<circle cx="1427.6" cy="480.1" r="3.45" fill="#000080" stroke="#000080"/>
<circle cx="1396.2" cy="663.3" r="3.45" fill="#ede8f5" stroke="#ede8f5"/>
<circle cx="1809.5" cy="283.0" r="3.45" fill="#d4c9e6" stroke="#d4c9e6"/>
<circle cx="1729.3" cy="105.5" r="3.45" fill="#000080" stroke="#000080"/>
<circle cx="1536.5" cy="660.7" r="3.45" fill="#090281" stroke="#090281"/>
<circle cx="1757.0" cy="140.2" r="3.45" fill="#3b2190" stroke="#3b2190"/>
<circle cx="1443.3" cy="533.0" r="3.45" fill="#291489" stroke="#291489"/>
<circle cx="1397.3" cy="606.3" r="3.45" fill="#0c0382" stroke="#0c0382"/>
<circle cx="1409.7" cy="616.2" r="3.45" fill="#51359b" stroke="#51359b"/>
<circle cx="1503.7" cy="701.5" r="3.45" fill="#010080" stroke="#010080"/>
<circle cx="1423.3" cy="562.7" r="3.45" fill="#2f188b" stroke="#2f188b"/>
<circle cx="1398.8" cy="632.5" r="3.45" fill="#4b2f97" stroke="#4b2f97"/>
<circle cx="1427.8" cy="569.6" r="3.45" fill="#573b9e" stroke="#573b9e"/>
<circle cx="1461.9" cy="431.6" r="3.45" fill="#000080" stroke="#000080"/>
<circle cx="1667.4" cy="195.4" r="3.45" fill="#020180" stroke="#020180"/>
<circle cx="1403.4" cy="550.4" r="3.45" fill="#010080" stroke="#010080"/>
<circle cx="1397.5" cy="511.5" r="3.45" fill="#000080" stroke="#000080"/>
<circle cx="1621.1" cy="289.3" r="3.45" fill="#ac98ce" stroke="#ac98ce"/>
<circle cx="1518.0" cy="677.0" r="3.45" fill="#090281" stroke="#090281"/>
<circle cx="1431.1" cy="405.0" r="3.45" fill="#000080" stroke="#000080"/>
<circle cx="1450.6" cy="525.5" r="3.45" fill="#4b3098" stroke="#4b3098"/>
<circle cx="1698.0" cy="146.2" r="3.45" fill="#000080" stroke="#000080"/>
<circle cx="1505.8" cy="702.9" r="3.45" fill="#010080" stroke="#010080"/>
<circle cx="1604.9" cy="291.8" r="3.45" fill="#361e8e" stroke="#361e8e"/>
<circle cx="1396.5" cy="547.2" r="3.45" fill="#000080" stroke="#000080"/>
<circle cx="1637.6" cy="246.1" r="3.45" fill="#110582" stroke="#110582"/>
<circle cx="1639.3" cy="527.4" r="3.45" fill="#aa95cd" stroke="#aa95cd"/>
<circle cx="1397.6" cy="659.2" r="3.45" fill="#a18ac7" stroke="#a18ac7"/>
<circle cx="1647.7" cy="212.0" r="3.45" fill="#010080" stroke="#010080"/>
<circle cx="1413.6" cy="624.8" r="3.45" fill="#ffffff" stroke="#ffffff"/>
<circle cx="1503.3" cy="700.5" r="3.45" fill="#010080" stroke="#010080"/>
<circle cx="1398.7" cy="636.3" r="3.45" fill="#39208f" stroke="#39208f"/>
<circle cx="1469.4" cy="448.3" r="3.45" fill="#020180" stroke="#020180"/>
<circle cx="1494.8" cy="698.7" r="3.45" fill="#080281" stroke="#080281"/>
<circle cx="1397.8" cy="521.6" r="3.45" fill="#000080" stroke="#000080"/>
<circle cx="1404.7" cy="600.7" r="3.45" fill="#30198c" stroke="#30198c"/>
<circle cx="1734.1" cy="413.9" r="3.45" fill="#7559ae" stroke="#7559ae"/>
<circle cx="1418.2" cy="537.9" r="3.45" fill="#030180" stroke="#030180"/>
<circle cx="1590.9" cy="623.8" r="3.45" fill="#010080" stroke="#010080"/>
<circle cx="1415.5" cy="541.4" r="3.45" fill="#010080" stroke="#010080"/>
<circle cx="1405.4" cy="624.4" r="3.45" fill="#8368b6" stroke="#8368b6"/>
<circle cx="1396.3" cy="575.6" r="3.45" fill="#010080" stroke="#010080"/>
<circle cx="1733.7" cy="150.3" r="3.45" fill="#200d86" stroke="#200d86"/>
<circle cx="1411.4" cy="620.5" r="3.45" fill="#c1b1da" stroke="#c1b1da"/>
<circle cx="1589.3" cy="196.7" r="3.45" fill="#000080" stroke="#000080"/>
<circle cx="1448.6" cy="478.0" r="3.45" fill="#030180" stroke="#030180"/>
<circle cx="1398.5" cy="634.1" r="3.45" fill="#361e8e" stroke="#361e8e"/>
<circle cx="1459.3" cy="705.8" r="3.45" fill="#341c8d" stroke="#341c8d"/>
<circle cx="1427.1" cy="558.9" r="3.45" fill="#281389" stroke="#281389"/>
<circle cx="1419.5" cy="503.8" r="3.45" fill="#000080" stroke="#000080"/>
<circle cx="1487.9" cy="478.2" r="3.45" fill="#e4dcef" stroke="#e4dcef"/>
<circle cx="1451.1" cy="695.5" r="3.45" fill="#a38cc8" stroke="#a38cc8"/>
<circle cx="1401.0" cy="597.2" r="3.45" fill="#100482" stroke="#100482"/>
<circle cx="1496.8" cy="353.4" r="3.45" fill="#000080" stroke="#000080"/>
<circle cx="1458.7" cy="505.7" r="3.45" fill="#170884" stroke="#170884"/>
<circle cx="1398.5" cy="617.5" r="3.45" fill="#261288" stroke="#261288"/>
<circle cx="1415.6" cy="576.4" r="3.45" fill="#261288" stroke="#261288"/>
<circle cx="1411.5" cy="480.3" r="3.45" fill="#000080" stroke="#000080"/>
<circle cx="1484.5" cy="344.5" r="3.45" fill="#000080" stroke="#000080"/>
<circle cx="1643.2" cy="244.5" r="3.45" fill="#1a0984" stroke="#1a0984"/>
<circle cx="1464.0" cy="703.9" r="3.45" fill="#220f87" stroke="#220f87"/>
<circle cx="1511.0" cy="705.6" r="3.45" fill="#000080" stroke="#000080"/>
<circle cx="1413.5" cy="568.5" r="3.45" fill="#0d0382" stroke="#0d0382"/>
<circle cx="1397.5" cy="446.9" r="3.45" fill="#000080" stroke="#000080"/>
<circle cx="1398.8" cy="532.6" r="3.45" fill="#000080" stroke="#000080"/>
<circle cx="1416.3" cy="534.2" r="3.45" fill="#000080" stroke="#000080"/>
<circle cx="1401.0" cy="573.8" r="3.45" fill="#010080" stroke="#010080"/>
<circle cx="1413.2" cy="558.2" r="3.45" fill="#070281" stroke="#070281"/>
<circle cx="1399.1" cy="634.3" r="3.45" fill="#341c8d" stroke="#341c8d"/>
<circle cx="1758.5" cy="149.4" r="3.45" fill="#b29ed1" stroke="#b29ed1"/>
<circle cx="1510.7" cy="681.9" r="3.45" fill="#070281" stroke="#070281"/>
<circle cx="1457.8" cy="703.1" r="3.45" fill="#361e8e" stroke="#361e8e"/>
<circle cx="1495.9" cy="403.3" r="3.45" fill="#040181" stroke="#040181"/>
<circle cx="1538.2" cy="340.1" r="3.45" fill="#030180" stroke="#030180"/>
<circle cx="1403.2" cy="623.8" r="3.45" fill="#432894" stroke="#432894"/>
<circle cx="1536.8" cy="329.2" r="3.45" fill="#010080" stroke="#010080"/>
<circle cx="1483.2" cy="701.3" r="3.45" fill="#0a0281" stroke="#0a0281"/>
<circle cx="1517.1" cy="702.6" r="3.45" fill="#010080" stroke="#010080"/>
<circle cx="1562.3" cy="351.7" r="3.45" fill="#8166b5" stroke="#8166b5"/>
<circle cx="1448.6" cy="511.3" r="3.45" fill="#170884" stroke="#170884"/>
<circle cx="1396.3" cy="599.8" r="3.45" fill="#080281" stroke="#080281"/>
<circle cx="1412.5" cy="583.6" r="3.45" fill="#1e0c86" stroke="#1e0c86"/>
<circle cx="1448.5" cy="704.5" r="3.45" fill="#5f42a2" stroke="#5f42a2"/>
<circle cx="1467.4" cy="380.9" r="3.45" fill="#000080" stroke="#000080"/>
<circle cx="1461.7" cy="683.0" r="3.45" fill="#ffffff" stroke="#ffffff"/>
<circle cx="1395.8" cy="593.1" r="3.45" fill="#060281" stroke="#060281"/>
<circle cx="1403.3" cy="469.5" r="3.45" fill="#000080" stroke="#000080"/>
<circle cx="1607.0" cy="292.5" r="3.45" fill="#3f2592" stroke="#3f2592"/>
<circle cx="1503.6" cy="697.4" r="3.45" fill="#030180" stroke="#030180"/>
<circle cx="1786.5" cy="84.7" r="3.45" fill="#010080" stroke="#010080"/>
<circle cx="1395.6" cy="576.0" r="3.45" fill="#020080" stroke="#020080"/>
<circle cx="1650.1" cy="267.2" r="3.45" fill="#aa95cd" stroke="#aa95cd"/>
<circle cx="1528.8" cy="399.6" r="3.45" fill="#9b83c4" stroke="#9b83c4"/>
<circle cx="1396.7" cy="536.0" r="3.45" fill="#000080" stroke="#000080"/>
<circle cx="1445.5" cy="483.5" r="3.45" fill="#030180" stroke="#030180"/>
<circle cx="1413.6" cy="611.7" r="3.45" fill="#7256ac" stroke="#7256ac"/>
<circle cx="1418.0" cy="574.4" r="3.45" fill="#1a0985" stroke="#1a0985"/>
<circle cx="1398.9" cy="598.1" r="3.45" fill="#160783" stroke="#160783"/>
<circle cx="1397.1" cy="577.6" r="3.45" fill="#030180" stroke="#030180"/>
<circle cx="1750.4" cy="158.2" r="3.45" fill="#cec1e2" stroke="#cec1e2"/>
<circle cx="1397.1" cy="640.2" r="3.45" fill="#422793" stroke="#422793"/>
<circle cx="1834.6" cy="88.6" r="3.45" fill="#a48ec9" stroke="#a48ec9"/>
<circle cx="1495.8" cy="699.6" r="3.45" fill="#060281" stroke="#060281"/>
<circle cx="1479.3" cy="481.0" r="3.45" fill="#3e2491" stroke="#3e2491"/>
<circle cx="1456.2" cy="700.6" r="3.45" fill="#55389c" stroke="#55389c"/>
<circle cx="1649.9" cy="505.1" r="3.45" fill="#d4c9e6" stroke="#d4c9e6"/>
<circle cx="1398.6" cy="619.3" r="3.45" fill="#200d86" stroke="#200d86"/>
<circle cx="1786.6" cy="128.5" r="3.45" fill="#6a4da8" stroke="#6a4da8"/>
<circle cx="1397.2" cy="616.3" r="3.45" fill="#130683" stroke="#130683"/>
<circle cx="1404.3" cy="574.1" r="3.45" fill="#050181" stroke="#050181"/>
<circle cx="1585.0" cy="604.2" r="3.45" fill="#080281" stroke="#080281"/>
<circle cx="1396.8" cy="605.7" r="3.45" fill="#0d0382" stroke="#0d0382"/>
<circle cx="1713.8" cy="191.7" r="3.45" fill="#5e42a1" stroke="#5e42a1"/>
<circle cx="1470.1" cy="419.6" r="3.45" fill="#000080" stroke="#000080"/>
<circle cx="1398.6" cy="597.2" r="3.45" fill="#070281" stroke="#070281"/>
<circle cx="1442.9" cy="508.0" r="3.45" fill="#040181" stroke="#040181"/>
<circle cx="1609.4" cy="288.6" r="3.45" fill="#311a8c" stroke="#311a8c"/>
<circle cx="1777.7" cy="99.0" r="3.45" fill="#070281" stroke="#070281"/>
<circle cx="1397.6" cy="623.6" r="3.45" fill="#251188" stroke="#251188"/>
<circle cx="1726.5" cy="116.8" r="3.45" fill="#000080" stroke="#000080"/>
<circle cx="1666.3" cy="238.9" r="3.45" fill="#4b2f97" stroke="#4b2f97"/>
<circle cx="1407.5" cy="563.8" r="3.45" fill="#020080" stroke="#020080"/>
<circle cx="1609.6" cy="175.5" r="3.45" fill="#000080" stroke="#000080"/>
<circle cx="1396.0" cy="654.6" r="3.45" fill="#765aaf" stroke="#765aaf"/>
<circle cx="1664.2" cy="223.2" r="3.45" fill="#160783" stroke="#160783"/>
<circle cx="1638.5" cy="259.7" r="3.45" fill="#30198c" stroke="#30198c"/>
<circle cx="1398.6" cy="571.8" r="3.45" fill="#010080" stroke="#010080"/>
<circle cx="1538.5" cy="646.0" r="3.45" fill="#1e0c86" stroke="#1e0c86"/>
<circle cx="1710.4" cy="189.7" r="3.45" fill="#442a94" stroke="#442a94"/>
<circle cx="1593.9" cy="312.6" r="3.45" fill="#7e62b3" stroke="#7e62b3"/>
<circle cx="1404.6" cy="473.6" r="3.45" fill="#000080" stroke="#000080"/>
<circle cx="1416.9" cy="441.1" r="3.45" fill="#000080" stroke="#000080"/>
<circle cx="1396.0" cy="625.8" r="3.45" fill="#281389" stroke="#281389"/>
<circle cx="1506.6" cy="703.5" r="3.45" fill="#010080" stroke="#010080"/>
<circle cx="1446.2" cy="529.8" r="3.45" fill="#381f8f" stroke="#381f8f"/>
<circle cx="1396.3" cy="663.8" r="3.45" fill="#ddd3eb" stroke="#ddd3eb"/>
<circle cx="1739.5" cy="116.5" r="3.45" fill="#010080" stroke="#010080"/>
<circle cx="1398.5" cy="592.8" r="3.45" fill="#080281" stroke="#080281"/>
<circle cx="1412.7" cy="604.4" r="3.45" fill="#3f2592" stroke="#3f2592"/>
<circle cx="1555.5" cy="309.4" r="3.45" fill="#010080" stroke="#010080"/>
<circle cx="1444.5" cy="555.8" r="3.45" fill="#f5f2f9" stroke="#f5f2f9"/>
<circle cx="1423.0" cy="537.9" r="3.45" fill="#030180" stroke="#030180"/>
<circle cx="1469.2" cy="701.5" r="3.45" fill="#2c168a" stroke="#2c168a"/>
<circle cx="1407.9" cy="569.6" r="3.45" fill="#0c0382" stroke="#0c0382"/>
<circle cx="1466.9" cy="686.1" r="3.45" fill="#896fb9" stroke="#896fb9"/>
<circle cx="1397.1" cy="530.8" r="3.45" fill="#000080" stroke="#000080"/>
<circle cx="1397.3" cy="590.8" r="3.45" fill="#050181" stroke="#050181"/>
<circle cx="1626.5" cy="247.6" r="3.45" fill="#060181" stroke="#060181"/>
<circle cx="1754.7" cy="92.0" r="3.45" fill="#000080" stroke="#000080"/>
<circle cx="1452.2" cy="450.9" r="3.45" fill="#000080" stroke="#000080"/>
<circle cx="1510.1" cy="439.6" r="3.45" fill="#ffffff" stroke="#ffffff"/>
<circle cx="1816.1" cy="85.2" r="3.45" fill="#351d8e" stroke="#351d8e"/>
<circle cx="1421.7" cy="510.0" r="3.45" fill="#000080" stroke="#000080"/>
<circle cx="1396.5" cy="645.9" r="3.45" fill="#5a3e9f" stroke="#5a3e9f"/>
<circle cx="1464.8" cy="449.1" r="3.45" fill="#020080" stroke="#020080"/>
<circle cx="1399.2" cy="616.5" r="3.45" fill="#1a0984" stroke="#1a0984"/>
<circle cx="1474.3" cy="701.5" r="3.45" fill="#140683" stroke="#140683"/>
<circle cx="1728.8" cy="168.7" r="3.45" fill="#5c3fa0" stroke="#5c3fa0"/>
<circle cx="1396.9" cy="596.7" r="3.45" fill="#050181" stroke="#050181"/>
<circle cx="1815.4" cy="100.2" r="3.45" fill="#7d62b3" stroke="#7d62b3"/>
<circle cx="1575.8" cy="308.6" r="3.45" fill="#150783" stroke="#150783"/>
<circle cx="1645.7" cy="257.8" r="3.45" fill="#381f8f" stroke="#381f8f"/>
<circle cx="1396.0" cy="623.5" r="3.45" fill="#1f0d86" stroke="#1f0d86"/>
<circle cx="1459.2" cy="518.8" r="3.45" fill="#6b4fa9" stroke="#6b4fa9"/>
<circle cx="1415.4" cy="529.7" r="3.45" fill="#010080" stroke="#010080"/>
<circle cx="1398.6" cy="559.5" r="3.45" fill="#010080" stroke="#010080"/>
<circle cx="1427.7" cy="542.6" r="3.45" fill="#0c0382" stroke="#0c0382"/>
<circle cx="1399.7" cy="652.8" r="3.45" fill="#9d86c5" stroke="#9d86c5"/>
<circle cx="1397.4" cy="638.3" r="3.45" fill="#361d8e" stroke="#361d8e"/>
<circle cx="1575.3" cy="325.7" r="3.45" fill="#261288" stroke="#261288"/>
<circle cx="1508.0" cy="363.1" r="3.45" fill="#000080" stroke="#000080"/>
<circle cx="1680.4" cy="197.9" r="3.45" fill="#0e0482" stroke="#0e0482"/>
<circle cx="1396.0" cy="595.1" r="3.45" fill="#080281" stroke="#080281"/>
<circle cx="1411.6" cy="410.3" r="3.45" fill="#000080" stroke="#000080"/>
<circle cx="1533.2" cy="361.5" r="3.45" fill="#0d0382" stroke="#0d0382"/>
<circle cx="1516.0" cy="377.1" r="3.45" fill="#0d0382" stroke="#0d0382"/>
<circle cx="1534.4" cy="690.4" r="3.45" fill="#000080" stroke="#000080"/>
<circle cx="1425.1" cy="491.6" r="3.45" fill="#000080" stroke="#000080"/>
<circle cx="1536.0" cy="308.5" r="3.45" fill="#000080" stroke="#000080"/>
<circle cx="1481.5" cy="702.4" r="3.45" fill="#090281" stroke="#090281"/>
<circle cx="1484.1" cy="703.6" r="3.45" fill="#0c0382" stroke="#0c0382"/>
<circle cx="1434.5" cy="461.1" r="3.45" fill="#000080" stroke="#000080"/>
<circle cx="1676.8" cy="553.2" r="3.45" fill="#020180" stroke="#020180"/>
<circle cx="1470.9" cy="703.7" r="3.45" fill="#1c0b85" stroke="#1c0b85"/>
<circle cx="1422.7" cy="592.4" r="3.45" fill="#af9bd0" stroke="#af9bd0"/>
<circle cx="1560.7" cy="658.9" r="3.45" fill="#000080" stroke="#000080"/>
<circle cx="1645.5" cy="256.4" r="3.45" fill="#412793" stroke="#412793"/>
<circle cx="1424.7" cy="467.6" r="3.45" fill="#000080" stroke="#000080"/>
<circle cx="1398.8" cy="578.8" r="3.45" fill="#030180" stroke="#030180"/>
<circle cx="1477.7" cy="488.9" r="3.45" fill="#6f52aa" stroke="#6f52aa"/>
<circle cx="1765.6" cy="140.5" r="3.45" fill="#583c9e" stroke="#583c9e"/>
<circle cx="1471.6" cy="485.0" r="3.45" fill="#2e188b" stroke="#2e188b"/>
<circle cx="1455.1" cy="477.1" r="3.45" fill="#050181" stroke="#050181"/>
<circle cx="1396.5" cy="532.9" r="3.45" fill="#000080" stroke="#000080"/>
<circle cx="1436.0" cy="551.9" r="3.45" fill="#38208f" stroke="#38208f"/>
<circle cx="1815.6" cy="272.5" r="3.45" fill="#f2eef7" stroke="#f2eef7"/>
<circle cx="1401.2" cy="650.8" r="3.45" fill="#937abf" stroke="#937abf"/>
<circle cx="1397.1" cy="574.9" r="3.45" fill="#010080" stroke="#010080"/>
<circle cx="1488.9" cy="704.9" r="3.45" fill="#070281" stroke="#070281"/>
<circle cx="1468.6" cy="454.4" r="3.45" fill="#070281" stroke="#070281"/>
<circle cx="1675.1" cy="223.1" r="3.45" fill="#351d8e" stroke="#351d8e"/>
<circle cx="1397.6" cy="594.5" r="3.45" fill="#040181" stroke="#040181"/>
<circle cx="1563.5" cy="320.2" r="3.45" fill="#110582" stroke="#110582"/>
<circle cx="1438.2" cy="514.1" r="3.45" fill="#070281" stroke="#070281"/>
<circle cx="1410.6" cy="607.6" r="3.45" fill="#432894" stroke="#432894"/>
<circle cx="1438.5" cy="532.6" r="3.45" fill="#1d0b85" stroke="#1d0b85"/>
<circle cx="1396.0" cy="544.8" r="3.45" fill="#000080" stroke="#000080"/>
<circle cx="1537.3" cy="628.4" r="3.45" fill="#6d51aa" stroke="#6d51aa"/>
<circle cx="1570.9" cy="290.3" r="3.45" fill="#010080" stroke="#010080"/>
<circle cx="1396.2" cy="559.6" r="3.45" fill="#000080" stroke="#000080"/>
<circle cx="1416.5" cy="609.7" r="3.45" fill="#a28bc8" stroke="#a28bc8"/>
<circle cx="1397.0" cy="633.2" r="3.45" fill="#54389c" stroke="#54389c"/>
<circle cx="1395.8" cy="560.6" r="3.45" fill="#000080" stroke="#000080"/>
<circle cx="1480.0" cy="692.2" r="3.45" fill="#241087" stroke="#241087"/>
<circle cx="1764.1" cy="348.4" r="3.45" fill="#f6f4fa" stroke="#f6f4fa"/>
<circle cx="1440.3" cy="556.7" r="3.45" fill="#785cb0" stroke="#785cb0"/>
<circle cx="1494.5" cy="385.5" r="3.45" fill="#010080" stroke="#010080"/>
<circle cx="1396.8" cy="617.8" r="3.45" fill="#170884" stroke="#170884"/>
<circle cx="1602.9" cy="291.9" r="3.45" fill="#2e188b" stroke="#2e188b"/>
<circle cx="1466.1" cy="695.3" r="3.45" fill="#4a2e97" stroke="#4a2e97"/>
<circle cx="1407.2" cy="572.0" r="3.45" fill="#050181" stroke="#050181"/>
<circle cx="1703.9" cy="171.5" r="3.45" fill="#030180" stroke="#030180"/>
<circle cx="1410.8" cy="393.2" r="3.45" fill="#000080" stroke="#000080"/>
<circle cx="1505.6" cy="435.2" r="3.45" fill="#6d50a9" stroke="#6d50a9"/>
<circle cx="1397.1" cy="613.2" r="3.45" fill="#170784" stroke="#170784"/>
<circle cx="1397.9" cy="634.0" r="3.45" fill="#371e8e" stroke="#371e8e"/>
<circle cx="1454.3" cy="420.2" r="3.45" fill="#000080" stroke="#000080"/>
<circle cx="1537.9" cy="370.1" r="3.45" fill="#462b95" stroke="#462b95"/>
<circle cx="1511.1" cy="377.0" r="3.45" fill="#040181" stroke="#040181"/>
<circle cx="1500.2" cy="427.1" r="3.45" fill="#220f87" stroke="#220f87"/>
<circle cx="1414.1" cy="558.3" r="3.45" fill="#050181" stroke="#050181"/>
<circle cx="1598.4" cy="201.6" r="3.45" fill="#000080" stroke="#000080"/>
<circle cx="1459.8" cy="694.4" r="3.45" fill="#6b4fa8" stroke="#6b4fa8"/>
<circle cx="1836.0" cy="86.1" r="3.45" fill="#bcabd7" stroke="#bcabd7"/>
<circle cx="1397.9" cy="650.9" r="3.45" fill="#a690ca" stroke="#a690ca"/>
<circle cx="1400.3" cy="630.2" r="3.45" fill="#371f8f" stroke="#371f8f"/>
<circle cx="1633.5" cy="279.5" r="3.45" fill="#785cb0" stroke="#785cb0"/>
<circle cx="1422.1" cy="578.4" r="3.45" fill="#452a95" stroke="#452a95"/>
<circle cx="1734.3" cy="178.4" r="3.45" fill="#ffffff" stroke="#ffffff"/>
<circle cx="1709.9" cy="193.9" r="3.45" fill="#7357ad" stroke="#7357ad"/>
<circle cx="1643.4" cy="187.8" r="3.45" fill="#000080" stroke="#000080"/>
<circle cx="1436.4" cy="505.6" r="3.45" fill="#020180" stroke="#020180"/>
<circle cx="1828.0" cy="258.3" r="3.45" fill="#d4c9e6" stroke="#d4c9e6"/>
<circle cx="1458.2" cy="703.1" r="3.45" fill="#2b158a" stroke="#2b158a"/>
<circle cx="1513.7" cy="694.1" r="3.45" fill="#010080" stroke="#010080"/>
<circle cx="1503.6" cy="692.7" r="3.45" fill="#0b0382" stroke="#0b0382"/>
<circle cx="1642.6" cy="250.2" r="3.45" fill="#251188" stroke="#251188"/>
<circle cx="1554.0" cy="619.7" r="3.45" fill="#472c96" stroke="#472c96"/>
<circle cx="1404.8" cy="615.7" r="3.45" fill="#412793" stroke="#412793"/>
<circle cx="1452.4" cy="494.2" r="3.45" fill="#090281" stroke="#090281"/>
<circle cx="1616.5" cy="145.0" r="3.45" fill="#000080" stroke="#000080"/>
<circle cx="1778.3" cy="118.9" r="3.45" fill="#241087" stroke="#241087"/>
<circle cx="1430.0" cy="544.9" r="3.45" fill="#1a0984" stroke="#1a0984"/>
<circle cx="1495.9" cy="432.4" r="3.45" fill="#210e86" stroke="#210e86"/>
<circle cx="1401.5" cy="643.0" r="3.45" fill="#8368b6" stroke="#8368b6"/>
<circle cx="1734.4" cy="470.8" r="3.45" fill="#0b0382" stroke="#0b0382"/>
<circle cx="1396.2" cy="649.9" r="3.45" fill="#775baf" stroke="#775baf"/>
<circle cx="1477.7" cy="425.9" r="3.45" fill="#010080" stroke="#010080"/>
<circle cx="1452.6" cy="460.6" r="3.45" fill="#010080" stroke="#010080"/>
<circle cx="1690.6" cy="173.2" r="3.45" fill="#030180" stroke="#030180"/>
<circle cx="1445.8" cy="510.9" r="3.45" fill="#0c0382" stroke="#0c0382"/>
<circle cx="1650.0" cy="259.0" r="3.45" fill="#422893" stroke="#422893"/>
<circle cx="1420.3" cy="570.4" r="3.45" fill="#160784" stroke="#160784"/>
<circle cx="1395.8" cy="610.1" r="3.45" fill="#110583" stroke="#110583"/>
<circle cx="1418.2" cy="572.3" r="3.45" fill="#241188" stroke="#241188"/>
<circle cx="1439.6" cy="421.1" r="3.45" fill="#000080" stroke="#000080"/>
<circle cx="1552.6" cy="361.2" r="3.45" fill="#ad99cf" stroke="#ad99cf"/>
<circle cx="1582.3" cy="155.9" r="3.45" fill="#000080" stroke="#000080"/>
<circle cx="1547.0" cy="685.5" r="3.45" fill="#000080" stroke="#000080"/>
<circle cx="1428.6" cy="456.2" r="3.45" fill="#000080" stroke="#000080"/>
<circle cx="1398.1" cy="548.8" r="3.45" fill="#000080" stroke="#000080"/>
<circle cx="1399.1" cy="560.4" r="3.45" fill="#000080" stroke="#000080"/>
<circle cx="1406.6" cy="635.8" r="3.45" fill="#a893cc" stroke="#a893cc"/>
<circle cx="1396.0" cy="583.5" r="3.45" fill="#020080" stroke="#020080"/>
<circle cx="1408.6" cy="628.4" r="3.45" fill="#a893cc" stroke="#a893cc"/>
<circle cx="1494.0" cy="389.1" r="3.45" fill="#010080" stroke="#010080"/>
<circle cx="1514.3" cy="234.7" r="3.45" fill="#000080" stroke="#000080"/>
<circle cx="1747.7" cy="155.4" r="3.45" fill="#6043a2" stroke="#6043a2"/>
<circle cx="1622.9" cy="270.9" r="3.45" fill="#271288" stroke="#271288"/>
<circle cx="1616.9" cy="270.0" r="3.45" fill="#150783" stroke="#150783"/>
<circle cx="1574.2" cy="274.3" r="3.45" fill="#000080" stroke="#000080"/>
<circle cx="1417.9" cy="608.9" r="3.45" fill="#7e63b3" stroke="#7e63b3"/>
<circle cx="1499.7" cy="458.1" r="3.45" fill="#f4f1f8" stroke="#f4f1f8"/>
<circle cx="1398.4" cy="493.1" r="3.45" fill="#000080" stroke="#000080"/>
<circle cx="1755.0" cy="140.1" r="3.45" fill="#2d178a" stroke="#2d178a"/>
<circle cx="1743.5" cy="144.7" r="3.45" fill="#2d168a" stroke="#2d168a"/>
<circle cx="1441.9" cy="556.3" r="3.45" fill="#a18ac7" stroke="#a18ac7"/>
<circle cx="1512.7" cy="704.5" r="3.45" fill="#000080" stroke="#000080"/>
<circle cx="1450.1" cy="404.0" r="3.45" fill="#000080" stroke="#000080"/>
<circle cx="1500.2" cy="666.4" r="3.45" fill="#6144a3" stroke="#6144a3"/>
<circle cx="1565.0" cy="632.9" r="3.45" fill="#050181" stroke="#050181"/>
<circle cx="1470.3" cy="444.5" r="3.45" fill="#030180" stroke="#030180"/>
<circle cx="1423.3" cy="573.2" r="3.45" fill="#361e8e" stroke="#361e8e"/>
<circle cx="1396.7" cy="624.4" r="3.45" fill="#241087" stroke="#241087"/>
<circle cx="1429.0" cy="534.9" r="3.45" fill="#0a0281" stroke="#0a0281"/>
<circle cx="1456.8" cy="481.3" r="3.45" fill="#060281" stroke="#060281"/>
<circle cx="1646.0" cy="243.8" r="3.45" fill="#1e0c86" stroke="#1e0c86"/>
<circle cx="1581.4" cy="304.3" r="3.45" fill="#180884" stroke="#180884"/>
<circle cx="1460.6" cy="502.3" r="3.45" fill="#3e2592" stroke="#3e2592"/>
<circle cx="1396.9" cy="622.4" r="3.45" fill="#1c0b85" stroke="#1c0b85"/>
<circle cx="1519.8" cy="328.4" r="3.45" fill="#000080" stroke="#000080"/>
<circle cx="1396.8" cy="647.3" r="3.45" fill="#7b5fb1" stroke="#7b5fb1"/>
<circle cx="1585.3" cy="321.9" r="3.45" fill="#7357ad" stroke="#7357ad"/>
<circle cx="1396.3" cy="514.0" r="3.45" fill="#000080" stroke="#000080"/>
<circle cx="1478.4" cy="456.7" r="3.45" fill="#140683" stroke="#140683"/>
<circle cx="1399.0" cy="561.7" r="3.45" fill="#000080" stroke="#000080"/>
<circle cx="1398.3" cy="575.6" r="3.45" fill="#010080" stroke="#010080"/>
<circle cx="1551.4" cy="342.7" r="3.45" fill="#1c0b85" stroke="#1c0b85"/>
<circle cx="1396.4" cy="635.7" r="3.45" fill="#2d178a" stroke="#2d178a"/>
<circle cx="1395.8" cy="647.5" r="3.45" fill="#462b95" stroke="#462b95"/>
<circle cx="1570.3" cy="292.3" r="3.45" fill="#010080" stroke="#010080"/>
<circle cx="1505.8" cy="701.5" r="3.45" fill="#010080" stroke="#010080"/>
<circle cx="1425.6" cy="565.7" r="3.45" fill="#271288" stroke="#271288"/>
<circle cx="1396.2" cy="542.3" r="3.45" fill="#000080" stroke="#000080"/>
<circle cx="1726.6" cy="181.6" r="3.45" fill="#a690ca" stroke="#a690ca"/>
<circle cx="1471.2" cy="686.2" r="3.45" fill="#c7b8de" stroke="#c7b8de"/>
<circle cx="1401.1" cy="602.7" r="3.45" fill="#140683" stroke="#140683"/>
<circle cx="1418.3" cy="339.4" r="3.45" fill="#000080" stroke="#000080"/>
<circle cx="1444.9" cy="703.7" r="3.45" fill="#6548a5" stroke="#6548a5"/>
<circle cx="1399.1" cy="584.3" r="3.45" fill="#050181" stroke="#050181"/>
<circle cx="1430.2" cy="476.6" r="3.45" fill="#000080" stroke="#000080"/>
<circle cx="1406.2" cy="609.6" r="3.45" fill="#2d178a" stroke="#2d178a"/>
<circle cx="1407.9" cy="560.5" r="3.45" fill="#030180" stroke="#030180"/>
<circle cx="1427.2" cy="572.5" r="3.45" fill="#6448a5" stroke="#6448a5"/>
<circle cx="1452.8" cy="385.9" r="3.45" fill="#000080" stroke="#000080"/>
<circle cx="1482.3" cy="701.9" r="3.45" fill="#0c0382" stroke="#0c0382"/>
<circle cx="1543.2" cy="692.8" r="3.45" fill="#000080" stroke="#000080"/>
<circle cx="1448.0" cy="510.6" r="3.45" fill="#140683" stroke="#140683"/>
<circle cx="1451.7" cy="417.9" r="3.45" fill="#000080" stroke="#000080"/>
<circle cx="1587.9" cy="309.0" r="3.45" fill="#341c8d" stroke="#341c8d"/>
<circle cx="1397.7" cy="630.1" r="3.45" fill="#241087" stroke="#241087"/>
<circle cx="1485.6" cy="688.1" r="3.45" fill="#2b158a" stroke="#2b158a"/>
<circle cx="1716.7" cy="444.3" r="3.45" fill="#6346a4" stroke="#6346a4"/>
<circle cx="1398.6" cy="566.4" r="3.45" fill="#010080" stroke="#010080"/>
<circle cx="1600.1" cy="303.8" r="3.45" fill="#573b9e" stroke="#573b9e"/>
<circle cx="1396.3" cy="624.7" r="3.45" fill="#281389" stroke="#281389"/>
<circle cx="1461.9" cy="319.8" r="3.45" fill="#000080" stroke="#000080"/>
<circle cx="1476.6" cy="458.2" r="3.45" fill="#120583" stroke="#120583"/>
<circle cx="1448.2" cy="534.2" r="3.45" fill="#6e51aa" stroke="#6e51aa"/>
<circle cx="1398.1" cy="637.9" r="3.45" fill="#6043a2" stroke="#6043a2"/>
<circle cx="1510.6" cy="705.9" r="3.45" fill="#000080" stroke="#000080"/>
<circle cx="1397.3" cy="647.6" r="3.45" fill="#5b3fa0" stroke="#5b3fa0"/>
<circle cx="1407.3" cy="470.4" r="3.45" fill="#000080" stroke="#000080"/>
<circle cx="1412.8" cy="598.7" r="3.45" fill="#412793" stroke="#412793"/>
<circle cx="1418.2" cy="611.7" r="3.45" fill="#b8a6d5" stroke="#b8a6d5"/>
<circle cx="1520.4" cy="667.6" r="3.45" fill="#170884" stroke="#170884"/>
<circle cx="1556.3" cy="617.2" r="3.45" fill="#482d96" stroke="#482d96"/>
<circle cx="1528.6" cy="639.8" r="3.45" fill="#9e87c6" stroke="#9e87c6"/>
<circle cx="1398.9" cy="572.1" r="3.45" fill="#010080" stroke="#010080"/>
<circle cx="1432.6" cy="475.3" r="3.45" fill="#000080" stroke="#000080"/>
<circle cx="1398.6" cy="574.7" r="3.45" fill="#010080" stroke="#010080"/>
<circle cx="1653.6" cy="234.7" r="3.45" fill="#190984" stroke="#190984"/>
<circle cx="1538.7" cy="627.3" r="3.45" fill="#aa95cd" stroke="#aa95cd"/>
<circle cx="1413.7" cy="476.4" r="3.45" fill="#000080" stroke="#000080"/>
<circle cx="1605.1" cy="273.4" r="3.45" fill="#060281" stroke="#060281"/>
<circle cx="1399.9" cy="623.2" r="3.45" fill="#220f87" stroke="#220f87"/>
<circle cx="1579.7" cy="258.5" r="3.45" fill="#000080" stroke="#000080"/>
<circle cx="1398.2" cy="661.9" r="3.45" fill="#c6b6dd" stroke="#c6b6dd"/>
<circle cx="1435.4" cy="559.2" r="3.45" fill="#9077be" stroke="#9077be"/>
<circle cx="1397.5" cy="582.6" r="3.45" fill="#020180" stroke="#020180"/>
<circle cx="1489.9" cy="348.4" r="3.45" fill="#000080" stroke="#000080"/>
<circle cx="1786.9" cy="105.9" r="3.45" fill="#271388" stroke="#271388"/>
<circle cx="1430.8" cy="704.2" r="3.45" fill="#ffffff" stroke="#ffffff"/>
<circle cx="1603.2" cy="259.1" r="3.45" fill="#020180" stroke="#020180"/>
<circle cx="1465.1" cy="701.9" r="3.45" fill="#200e86" stroke="#200e86"/>
<circle cx="1652.4" cy="581.1" r="3.45" fill="#0b0382" stroke="#0b0382"/>
<circle cx="1411.2" cy="577.3" r="3.45" fill="#150783" stroke="#150783"/>
<circle cx="1405.1" cy="608.7" r="3.45" fill="#241088" stroke="#241088"/>
<circle cx="1511.9" cy="703.7" r="3.45" fill="#010080" stroke="#010080"/>
<circle cx="1757.3" cy="127.0" r="3.45" fill="#120583" stroke="#120583"/>
<circle cx="1435.6" cy="459.7" r="3.45" fill="#000080" stroke="#000080"/>
<circle cx="1500.9" cy="703.1" r="3.45" fill="#020080" stroke="#020080"/>
<circle cx="1585.6" cy="673.8" r="3.45" fill="#000080" stroke="#000080"/>
<circle cx="1523.4" cy="291.0" r="3.45" fill="#000080" stroke="#000080"/>
<circle cx="1599.0" cy="580.7" r="3.45" fill="#7559ae" stroke="#7559ae"/>
<circle cx="1432.3" cy="473.4" r="3.45" fill="#000080" stroke="#000080"/>
<circle cx="1460.4" cy="698.4" r="3.45" fill="#52369b" stroke="#52369b"/>
<circle cx="1422.2" cy="527.4" r="3.45" fill="#030180" stroke="#030180"/>
<circle cx="1397.3" cy="578.2" r="3.45" fill="#020080" stroke="#020080"/>
<circle cx="1398.8" cy="643.2" r="3.45" fill="#3a2190" stroke="#3a2190"/>
<circle cx="1399.0" cy="611.5" r="3.45" fill="#110582" stroke="#110582"/>
<circle cx="1638.5" cy="258.8" r="3.45" fill="#2f198b" stroke="#2f198b"/>
<circle cx="1398.5" cy="594.3" r="3.45" fill="#060281" stroke="#060281"/>
<circle cx="1398.5" cy="567.4" r="3.45" fill="#010080" stroke="#010080"/>
<circle cx="1765.9" cy="398.3" r="3.45" fill="#100482" stroke="#100482"/>
<circle cx="1395.5" cy="626.6" r="3.45" fill="#271288" stroke="#271288"/>
<circle cx="1422.8" cy="558.5" r="3.45" fill="#0f0482" stroke="#0f0482"/>
<circle cx="1859.1" cy="249.4" r="3.45" fill="#080281" stroke="#080281"/>
<circle cx="1595.9" cy="557.1" r="3.45" fill="#fbf9fc" stroke="#fbf9fc"/>
<circle cx="1515.6" cy="685.1" r="3.45" fill="#030180" stroke="#030180"/>
<circle cx="1396.7" cy="623.8" r="3.45" fill="#230f87" stroke="#230f87"/>
<circle cx="1504.1" cy="655.0" r="3.45" fill="#967ec1" stroke="#967ec1"/>
<circle cx="1490.7" cy="691.0" r="3.45" fill="#150683" stroke="#150683"/>
<circle cx="1508.8" cy="703.5" r="3.45" fill="#010080" stroke="#010080"/>
<circle cx="1418.1" cy="469.0" r="3.45" fill="#000080" stroke="#000080"/>
<circle cx="1640.0" cy="147.1" r="3.45" fill="#000080" stroke="#000080"/>
<circle cx="1398.0" cy="617.7" r="3.45" fill="#1d0b85" stroke="#1d0b85"/>
<circle cx="1411.3" cy="623.2" r="3.45" fill="#9178be" stroke="#9178be"/>
<circle cx="1431.3" cy="425.8" r="3.45" fill="#000080" stroke="#000080"/>
<circle cx="1421.3" cy="592.6" r="3.45" fill="#6144a3" stroke="#6144a3"/>
<circle cx="1503.9" cy="447.7" r="3.45" fill="#d4c9e6" stroke="#d4c9e6"/>
<circle cx="1417.8" cy="553.4" r="3.45" fill="#030180" stroke="#030180"/>
<circle cx="1641.8" cy="569.4" r="3.45" fill="#0e0482" stroke="#0e0482"/>
<circle cx="1873.1" cy="259.9" r="3.45" fill="#060181" stroke="#060181"/>
<circle cx="1477.0" cy="469.3" r="3.45" fill="#3d2391" stroke="#3d2391"/>
<circle cx="1396.1" cy="603.4" r="3.45" fill="#0c0382" stroke="#0c0382"/>
<circle cx="1803.4" cy="109.4" r="3.45" fill="#b29ed1" stroke="#b29ed1"/>
<circle cx="1754.9" cy="111.1" r="3.45" fill="#010080" stroke="#010080"/>
<circle cx="1803.7" cy="101.2" r="3.45" fill="#4e3399" stroke="#4e3399"/>
<circle cx="1396.1" cy="665.4" r="3.45" fill="#ffffff" stroke="#ffffff"/>
<circle cx="1632.8" cy="652.4" r="3.45" fill="#020180" stroke="#020180"/>
<circle cx="1667.1" cy="234.6" r="3.45" fill="#482d96" stroke="#482d96"/>
<circle cx="1428.0" cy="536.3" r="3.45" fill="#080281" stroke="#080281"/>
<circle cx="1418.0" cy="540.0" r="3.45" fill="#010080" stroke="#010080"/>
<circle cx="1504.5" cy="435.6" r="3.45" fill="#886eb9" stroke="#886eb9"/>
<circle cx="1459.0" cy="512.6" r="3.45" fill="#422793" stroke="#422793"/>
<circle cx="1528.0" cy="366.1" r="3.45" fill="#150783" stroke="#150783"/>
<circle cx="1642.8" cy="230.2" r="3.45" fill="#030180" stroke="#030180"/>
<circle cx="1784.3" cy="331.8" r="3.45" fill="#b29fd2" stroke="#b29fd2"/>
<circle cx="1466.8" cy="502.3" r="3.45" fill="#7d61b2" stroke="#7d61b2"/>
<circle cx="1400.3" cy="643.5" r="3.45" fill="#5f42a2" stroke="#5f42a2"/>
<circle cx="1433.1" cy="559.0" r="3.45" fill="#3f2692" stroke="#3f2692"/>
<circle cx="1397.2" cy="527.6" r="3.45" fill="#000080" stroke="#000080"/>
<circle cx="1799.8" cy="119.2" r="3.45" fill="#bdabd8" stroke="#bdabd8"/>
<circle cx="1752.8" cy="153.6" r="3.45" fill="#8d73bc" stroke="#8d73bc"/>
<circle cx="1427.9" cy="449.6" r="3.45" fill="#000080" stroke="#000080"/>
<circle cx="1685.5" cy="225.6" r="3.45" fill="#9178be" stroke="#9178be"/>
<circle cx="1612.9" cy="214.2" r="3.45" fill="#000080" stroke="#000080"/>
<circle cx="1413.4" cy="569.0" r="3.45" fill="#0c0382" stroke="#0c0382"/>
<circle cx="1461.9" cy="492.1" r="3.45" fill="#1c0b85" stroke="#1c0b85"/>
<circle cx="1462.1" cy="503.3" r="3.45" fill="#341c8d" stroke="#341c8d"/>
<circle cx="1417.5" cy="591.3" r="3.45" fill="#51359b" stroke="#51359b"/>
<circle cx="1395.5" cy="654.5" r="3.45" fill="#54389c" stroke="#54389c"/>
<circle cx="1398.8" cy="596.2" r="3.45" fill="#0d0482" stroke="#0d0482"/>
<circle cx="1561.9" cy="638.6" r="3.45" fill="#050181" stroke="#050181"/>
<circle cx="1514.7" cy="374.3" r="3.45" fill="#050181" stroke="#050181"/>
<circle cx="1441.1" cy="503.6" r="3.45" fill="#080281" stroke="#080281"/>
<circle cx="1757.5" cy="127.8" r="3.45" fill="#190984" stroke="#190984"/>
<circle cx="1565.7" cy="646.4" r="3.45" fill="#010080" stroke="#010080"/>
<circle cx="1403.6" cy="588.3" r="3.45" fill="#160784" stroke="#160784"/>
<circle cx="1441.8" cy="543.4" r="3.45" fill="#573b9e" stroke="#573b9e"/>
<circle cx="1629.7" cy="228.1" r="3.45" fill="#000080" stroke="#000080"/>
<circle cx="1396.1" cy="555.8" r="3.45" fill="#000080" stroke="#000080"/>
<circle cx="1649.1" cy="241.2" r="3.45" fill="#110583" stroke="#110583"/>
<circle cx="1398.6" cy="657.9" r="3.45" fill="#b3a0d2" stroke="#b3a0d2"/>
<circle cx="1478.3" cy="489.1" r="3.45" fill="#ddd3eb" stroke="#ddd3eb"/>
<circle cx="1401.6" cy="649.6" r="3.45" fill="#6548a5" stroke="#6548a5"/>
<circle cx="1880.6" cy="153.7" r="3.45" fill="#b29fd2" stroke="#b29fd2"/>
<circle cx="1621.0" cy="253.4" r="3.45" fill="#030180" stroke="#030180"/>
<circle cx="1662.6" cy="168.1" r="3.45" fill="#000080" stroke="#000080"/>
<circle cx="1428.7" cy="586.6" r="3.45" fill="#efebf6" stroke="#efebf6"/>
<circle cx="1397.1" cy="658.9" r="3.45" fill="#a893cc" stroke="#a893cc"/>
<circle cx="1413.3" cy="621.3" r="3.45" fill="#937bbf" stroke="#937bbf"/>
<circle cx="1791.2" cy="82.2" r="3.45" fill="#020080" stroke="#020080"/>
<circle cx="1480.5" cy="458.5" r="3.45" fill="#241087" stroke="#241087"/>
<circle cx="1465.3" cy="336.9" r="3.45" fill="#000080" stroke="#000080"/>
<circle cx="1537.5" cy="367.7" r="3.45" fill="#311a8c" stroke="#311a8c"/>
<circle cx="1399.9" cy="618.7" r="3.45" fill="#261188" stroke="#261188"/>
<circle cx="1469.3" cy="688.8" r="3.45" fill="#a48ec9" stroke="#a48ec9"/>
<circle cx="1398.1" cy="602.5" r="3.45" fill="#100482" stroke="#100482"/>
<circle cx="1510.8" cy="355.0" r="3.45" fill="#000080" stroke="#000080"/>
<circle cx="1506.3" cy="701.8" r="3.45" fill="#010080" stroke="#010080"/>
<circle cx="1756.5" cy="141.5" r="3.45" fill="#402692" stroke="#402692"/>
<circle cx="1400.9" cy="559.7" r="3.45" fill="#000080" stroke="#000080"/>
<circle cx="1481.7" cy="341.5" r="3.45" fill="#000080" stroke="#000080"/>
<circle cx="1398.4" cy="566.5" r="3.45" fill="#000080" stroke="#000080"/>
<circle cx="1417.0" cy="520.3" r="3.45" fill="#000080" stroke="#000080"/>
<circle cx="1398.5" cy="600.9" r="3.45" fill="#060181" stroke="#060181"/>
<circle cx="1743.1" cy="169.7" r="3.45" fill="#ffffff" stroke="#ffffff"/>
<circle cx="1888.9" cy="135.4" r="3.45" fill="#6346a4" stroke="#6346a4"/>
<circle cx="1398.3" cy="589.9" r="3.45" fill="#040181" stroke="#040181"/>
<circle cx="1461.7" cy="462.8" r="3.45" fill="#030180" stroke="#030180"/>
<circle cx="1406.5" cy="598.3" r="3.45" fill="#120583" stroke="#120583"/>
<circle cx="1471.0" cy="703.7" r="3.45" fill="#1c0b85" stroke="#1c0b85"/>
<circle cx="1551.6" cy="627.3" r="3.45" fill="#2a1489" stroke="#2a1489"/>
<circle cx="1526.6" cy="668.9" r="3.45" fill="#0f0482" stroke="#0f0482"/>
<circle cx="1448.1" cy="702.6" r="3.45" fill="#55399d" stroke="#55399d"/>
<circle cx="1396.4" cy="589.9" r="3.45" fill="#080281" stroke="#080281"/>
<circle cx="1433.7" cy="533.0" r="3.45" fill="#0d0382" stroke="#0d0382"/>
<circle cx="1695.1" cy="199.1" r="3.45" fill="#220f87" stroke="#220f87"/>
<circle cx="1539.7" cy="376.1" r="3.45" fill="#9076bd" stroke="#9076bd"/>
<circle cx="1398.6" cy="605.4" r="3.45" fill="#110583" stroke="#110583"/>
<circle cx="1727.3" cy="550.4" r="3.45" fill="#080281" stroke="#080281"/>
<circle cx="1440.0" cy="447.3" r="3.45" fill="#000080" stroke="#000080"/>
<circle cx="1517.5" cy="265.8" r="3.45" fill="#000080" stroke="#000080"/>
<circle cx="1507.4" cy="700.6" r="3.45" fill="#010080" stroke="#010080"/>
<circle cx="1398.6" cy="616.2" r="3.45" fill="#1b0a85" stroke="#1b0a85"/>
<circle cx="1408.5" cy="405.7" r="3.45" fill="#000080" stroke="#000080"/>
<circle cx="1465.9" cy="467.7" r="3.45" fill="#060281" stroke="#060281"/>
<circle cx="1395.7" cy="572.6" r="3.45" fill="#010080" stroke="#010080"/>
<circle cx="1406.8" cy="565.2" r="3.45" fill="#040181" stroke="#040181"/>
<circle cx="1435.0" cy="534.6" r="3.45" fill="#1d0c85" stroke="#1d0c85"/>
<circle cx="1479.0" cy="696.6" r="3.45" fill="#2f188b" stroke="#2f188b"/>
<circle cx="1621.0" cy="247.0" r="3.45" fill="#020080" stroke="#020080"/>
<circle cx="1407.7" cy="581.2" r="3.45" fill="#070281" stroke="#070281"/>
<circle cx="1398.6" cy="533.0" r="3.45" fill="#000080" stroke="#000080"/>
<circle cx="1397.3" cy="668.2" r="3.45" fill="#9a82c3" stroke="#9a82c3"/>
<circle cx="1404.3" cy="647.0" r="3.45" fill="#e2d9ee" stroke="#e2d9ee"/>
<circle cx="1397.7" cy="588.0" r="3.45" fill="#030180" stroke="#030180"/>
<circle cx="1472.4" cy="685.2" r="3.45" fill="#8e75bc" stroke="#8e75bc"/>
<circle cx="1416.6" cy="621.0" r="3.45" fill="#e1d9ed" stroke="#e1d9ed"/>
<circle cx="1617.3" cy="243.9" r="3.45" fill="#010080" stroke="#010080"/>
<circle cx="1723.3" cy="183.8" r="3.45" fill="#fdfcfe" stroke="#fdfcfe"/>
<circle cx="1399.1" cy="659.9" r="3.45" fill="#ad99cf" stroke="#ad99cf"/>
<circle cx="1413.0" cy="629.5" r="3.45" fill="#c9bbdf" stroke="#c9bbdf"/>
<circle cx="1428.9" cy="562.8" r="3.45" fill="#2d178b" stroke="#2d178b"/>
<circle cx="1465.7" cy="462.5" r="3.45" fill="#060181" stroke="#060181"/>
<circle cx="1781.6" cy="135.2" r="3.45" fill="#e0d7ed" stroke="#e0d7ed"/>
<circle cx="1398.1" cy="608.8" r="3.45" fill="#140683" stroke="#140683"/>
<circle cx="1748.3" cy="127.8" r="3.45" fill="#0e0482" stroke="#0e0482"/>
<circle cx="1813.5" cy="92.7" r="3.45" fill="#4e3399" stroke="#4e3399"/>
<circle cx="1738.1" cy="141.6" r="3.45" fill="#100582" stroke="#100582"/>
<circle cx="1436.4" cy="498.3" r="3.45" fill="#010080" stroke="#010080"/>
<circle cx="1413.6" cy="596.4" r="3.45" fill="#54389c" stroke="#54389c"/>
<circle cx="1456.1" cy="535.1" r="3.45" fill="#b6a3d4" stroke="#b6a3d4"/>
<circle cx="1613.0" cy="589.2" r="3.45" fill="#120583" stroke="#120583"/>
<circle cx="1399.1" cy="519.5" r="3.45" fill="#000080" stroke="#000080"/>
<circle cx="1485.0" cy="473.3" r="3.45" fill="#8f76bd" stroke="#8f76bd"/>
<circle cx="1396.4" cy="662.3" r="3.45" fill="#b9a7d5" stroke="#b9a7d5"/>
<circle cx="1397.4" cy="569.9" r="3.45" fill="#010080" stroke="#010080"/>
<circle cx="1416.8" cy="506.1" r="3.45" fill="#000080" stroke="#000080"/>
<circle cx="1754.8" cy="134.1" r="3.45" fill="#1f0d86" stroke="#1f0d86"/>
<circle cx="1396.9" cy="662.2" r="3.45" fill="#9a82c3" stroke="#9a82c3"/>
<circle cx="1515.6" cy="649.0" r="3.45" fill="#b19dd1" stroke="#b19dd1"/>
<circle cx="1685.8" cy="198.9" r="3.45" fill="#130683" stroke="#130683"/>
<circle cx="1548.1" cy="341.1" r="3.45" fill="#120583" stroke="#120583"/>
<circle cx="1490.2" cy="702.5" r="3.45" fill="#070281" stroke="#070281"/>
<circle cx="1557.1" cy="360.2" r="3.45" fill="#9f88c6" stroke="#9f88c6"/>
<circle cx="1561.4" cy="676.7" r="3.45" fill="#000080" stroke="#000080"/>
<circle cx="1437.6" cy="489.6" r="3.45" fill="#010080" stroke="#010080"/>
<circle cx="1396.0" cy="553.7" r="3.45" fill="#000080" stroke="#000080"/>
<circle cx="1606.1" cy="307.4" r="3.45" fill="#dad0e9" stroke="#dad0e9"/>
<circle cx="1465.9" cy="693.6" r="3.45" fill="#402692" stroke="#402692"/>
<circle cx="1562.3" cy="355.5" r="3.45" fill="#d0c3e3" stroke="#d0c3e3"/>
<circle cx="1557.4" cy="291.0" r="3.45" fill="#000080" stroke="#000080"/>
<circle cx="1640.0" cy="255.1" r="3.45" fill="#2a1589" stroke="#2a1589"/>
<circle cx="1504.9" cy="389.3" r="3.45" fill="#050181" stroke="#050181"/>
<circle cx="1438.0" cy="505.7" r="3.45" fill="#080281" stroke="#080281"/>
<circle cx="1404.0" cy="609.9" r="3.45" fill="#1d0c85" stroke="#1d0c85"/>
<circle cx="1493.0" cy="698.5" r="3.45" fill="#070281" stroke="#070281"/>
<circle cx="1434.7" cy="443.9" r="3.45" fill="#000080" stroke="#000080"/>
<circle cx="1753.9" cy="99.3" r="3.45" fill="#000080" stroke="#000080"/>
<circle cx="1431.4" cy="562.5" r="3.45" fill="#39208f" stroke="#39208f"/>
<circle cx="1470.0" cy="705.7" r="3.45" fill="#1d0b85" stroke="#1d0b85"/>
<circle cx="1753.9" cy="142.5" r="3.45" fill="#2e188b" stroke="#2e188b"/>
<circle cx="1723.5" cy="140.2" r="3.45" fill="#020080" stroke="#020080"/>
<circle cx="1839.3" cy="232.0" r="3.45" fill="#d4c9e6" stroke="#d4c9e6"/>
<circle cx="1685.4" cy="162.0" r="3.45" fill="#000080" stroke="#000080"/>
<circle cx="1442.7" cy="533.3" r="3.45" fill="#261288" stroke="#261288"/>
<circle cx="1447.4" cy="506.9" r="3.45" fill="#110582" stroke="#110582"/>
<circle cx="1461.3" cy="427.8" r="3.45" fill="#000080" stroke="#000080"/>
<circle cx="1630.9" cy="217.9" r="3.45" fill="#010080" stroke="#010080"/>
<circle cx="1448.9" cy="506.2" r="3.45" fill="#180884" stroke="#180884"/>
<circle cx="1409.5" cy="586.6" r="3.45" fill="#130683" stroke="#130683"/>
<circle cx="1827.4" cy="325.5" r="3.45" fill="#080281" stroke="#080281"/>
<circle cx="1454.6" cy="526.4" r="3.45" fill="#6548a5" stroke="#6548a5"/>
<circle cx="1419.4" cy="593.7" r="3.45" fill="#a690ca" stroke="#a690ca"/>
<circle cx="1485.1" cy="677.9" r="3.45" fill="#795db0" stroke="#795db0"/>
<circle cx="1517.8" cy="655.7" r="3.45" fill="#492e97" stroke="#492e97"/>
<circle cx="1562.3" cy="596.6" r="3.45" fill="#ffffff" stroke="#ffffff"/>
<circle cx="1651.0" cy="534.4" r="3.45" fill="#4f339a" stroke="#4f339a"/>
<circle cx="1439.2" cy="355.0" r="3.45" fill="#000080" stroke="#000080"/>
<circle cx="1488.8" cy="704.4" r="3.45" fill="#070281" stroke="#070281"/>
<circle cx="1471.5" cy="494.6" r="3.45" fill="#482d96" stroke="#482d96"/>
<circle cx="1463.0" cy="505.4" r="3.45" fill="#361d8e" stroke="#361d8e"/>
<circle cx="1606.9" cy="296.1" r="3.45" fill="#422893" stroke="#422893"/>
<circle cx="1494.3" cy="693.2" r="3.45" fill="#0b0381" stroke="#0b0381"/>
<circle cx="1579.0" cy="306.3" r="3.45" fill="#0a0381" stroke="#0a0381"/>
<circle cx="1407.6" cy="603.5" r="3.45" fill="#1f0d86" stroke="#1f0d86"/>
<circle cx="1510.2" cy="699.1" r="3.45" fill="#010080" stroke="#010080"/>
<circle cx="1414.5" cy="582.4" r="3.45" fill="#2e178b" stroke="#2e178b"/>
<circle cx="1446.5" cy="401.8" r="3.45" fill="#000080" stroke="#000080"/>
<circle cx="1726.0" cy="94.0" r="3.45" fill="#000080" stroke="#000080"/>
<circle cx="1644.3" cy="268.7" r="3.45" fill="#cdbfe1" stroke="#cdbfe1"/>
<circle cx="1397.4" cy="609.3" r="3.45" fill="#0f0482" stroke="#0f0482"/>
<circle cx="1482.5" cy="684.3" r="3.45" fill="#4e3299" stroke="#4e3299"/>
<circle cx="1868.8" cy="180.8" r="3.45" fill="#b29fd2" stroke="#b29fd2"/>
<circle cx="1432.1" cy="568.7" r="3.45" fill="#7559ae" stroke="#7559ae"/>
<circle cx="1779.7" cy="112.8" r="3.45" fill="#130683" stroke="#130683"/>
<circle cx="1556.8" cy="341.9" r="3.45" fill="#361e8e" stroke="#361e8e"/>
<circle cx="1492.3" cy="700.4" r="3.45" fill="#080281" stroke="#080281"/>
<circle cx="1467.0" cy="520.4" r="3.45" fill="#ffffff" stroke="#ffffff"/>
<circle cx="1629.1" cy="227.5" r="3.45" fill="#000080" stroke="#000080"/>
<circle cx="1399.0" cy="593.4" r="3.45" fill="#050181" stroke="#050181"/>
<circle cx="1599.4" cy="604.2" r="3.45" fill="#0e0482" stroke="#0e0482"/>
<circle cx="1463.7" cy="350.7" r="3.45" fill="#000080" stroke="#000080"/>
<circle cx="1423.9" cy="583.9" r="3.45" fill="#866bb8" stroke="#866bb8"/>
<circle cx="1560.9" cy="276.6" r="3.45" fill="#000080" stroke="#000080"/>
<circle cx="1662.7" cy="201.6" r="3.45" fill="#010080" stroke="#010080"/>
<circle cx="1460.6" cy="523.1" r="3.45" fill="#c2b1db" stroke="#c2b1db"/>
<circle cx="1496.5" cy="659.6" r="3.45" fill="#ffffff" stroke="#ffffff"/>
<circle cx="1411.6" cy="572.2" r="3.45" fill="#0c0382" stroke="#0c0382"/>
<circle cx="1457.5" cy="368.3" r="3.45" fill="#000080" stroke="#000080"/>
<circle cx="1888.6" cy="148.3" r="3.45" fill="#100482" stroke="#100482"/>
<circle cx="1398.1" cy="638.6" r="3.45" fill="#402692" stroke="#402692"/>
<circle cx="1400.7" cy="654.1" r="3.45" fill="#8065b4" stroke="#8065b4"/>
<circle cx="1420.3" cy="597.0" r="3.45" fill="#7e62b3" stroke="#7e62b3"/>
<circle cx="1474.6" cy="484.0" r="3.45" fill="#50349a" stroke="#50349a"/>
<circle cx="1490.6" cy="406.0" r="3.45" fill="#030180" stroke="#030180"/>
<circle cx="1731.9" cy="397.6" r="3.45" fill="#aa95cd" stroke="#aa95cd"/>
<circle cx="1474.8" cy="703.6" r="3.45" fill="#120583" stroke="#120583"/>
<circle cx="1455.1" cy="477.3" r="3.45" fill="#050181" stroke="#050181"/>
<circle cx="1593.6" cy="129.9" r="3.45" fill="#000080" stroke="#000080"/>
<circle cx="1484.7" cy="451.7" r="3.45" fill="#1f0d86" stroke="#1f0d86"/>
<circle cx="1730.7" cy="183.3" r="3.45" fill="#ffffff" stroke="#ffffff"/>
<circle cx="1741.7" cy="155.8" r="3.45" fill="#3a2190" stroke="#3a2190"/>
<circle cx="1423.0" cy="551.3" r="3.45" fill="#0d0482" stroke="#0d0482"/>
<circle cx="1476.3" cy="391.3" r="3.45" fill="#000080" stroke="#000080"/>
<circle cx="1514.5" cy="693.5" r="3.45" fill="#020080" stroke="#020080"/>
<circle cx="1507.2" cy="650.1" r="3.45" fill="#ffffff" stroke="#ffffff"/>
<circle cx="1586.5" cy="302.2" r="3.45" fill="#130683" stroke="#130683"/>
<circle cx="1482.2" cy="434.6" r="3.45" fill="#0a0281" stroke="#0a0281"/>
<circle cx="1733.2" cy="126.4" r="3.45" fill="#010080" stroke="#010080"/>
<circle cx="1405.7" cy="519.7" r="3.45" fill="#000080" stroke="#000080"/>
<circle cx="1625.3" cy="249.4" r="3.45" fill="#040180" stroke="#040180"/>
<circle cx="1472.7" cy="410.9" r="3.45" fill="#000080" stroke="#000080"/>
<circle cx="1476.0" cy="433.5" r="3.45" fill="#030180" stroke="#030180"/>
<circle cx="1396.8" cy="545.1" r="3.45" fill="#000080" stroke="#000080"/>
<circle cx="1641.1" cy="215.9" r="3.45" fill="#010080" stroke="#010080"/>
<circle cx="1416.2" cy="501.5" r="3.45" fill="#000080" stroke="#000080"/>
<circle cx="1460.3" cy="706.1" r="3.45" fill="#321a8c" stroke="#321a8c"/>
<circle cx="1405.3" cy="542.3" r="3.45" fill="#000080" stroke="#000080"/>
<circle cx="1682.3" cy="197.7" r="3.45" fill="#100582" stroke="#100582"/>
<circle cx="1518.2" cy="405.6" r="3.45" fill="#3e2491" stroke="#3e2491"/>
<circle cx="1505.4" cy="665.0" r="3.45" fill="#6044a3" stroke="#6044a3"/>
<circle cx="1620.5" cy="280.3" r="3.45" fill="#6347a4" stroke="#6347a4"/>
<circle cx="1452.0" cy="491.9" r="3.45" fill="#080281" stroke="#080281"/>
<circle cx="1625.0" cy="251.4" r="3.45" fill="#050181" stroke="#050181"/>
<circle cx="1500.3" cy="705.6" r="3.45" fill="#020080" stroke="#020080"/>
<circle cx="1416.3" cy="579.1" r="3.45" fill="#2b158a" stroke="#2b158a"/>
<circle cx="1396.3" cy="655.3" r="3.45" fill="#7a5fb1" stroke="#7a5fb1"/>
<circle cx="1479.4" cy="469.8" r="3.45" fill="#321b8c" stroke="#321b8c"/>
<circle cx="1485.0" cy="483.4" r="3.45" fill="#957cc0" stroke="#957cc0"/>
<circle cx="1412.2" cy="624.2" r="3.45" fill="#ffffff" stroke="#ffffff"/>
<circle cx="1478.1" cy="690.6" r="3.45" fill="#3c2391" stroke="#3c2391"/>
<circle cx="1423.7" cy="481.7" r="3.45" fill="#000080" stroke="#000080"/>
<circle cx="1473.3" cy="415.1" r="3.45" fill="#000080" stroke="#000080"/>
<circle cx="1723.4" cy="121.1" r="3.45" fill="#000080" stroke="#000080"/>
<circle cx="1441.4" cy="523.6" r="3.45" fill="#220f87" stroke="#220f87"/>
<circle cx="1427.9" cy="589.6" r="3.45" fill="#9e86c5" stroke="#9e86c5"/>
<circle cx="1402.8" cy="632.7" r="3.45" fill="#8b71bb" stroke="#8b71bb"/>
<circle cx="1532.9" cy="630.8" r="3.45" fill="#f3f0f8" stroke="#f3f0f8"/>
<circle cx="1503.9" cy="702.5" r="3.45" fill="#010080" stroke="#010080"/>
<circle cx="1606.3" cy="278.7" r="3.45" fill="#1e0c85" stroke="#1e0c85"/>
<circle cx="1449.9" cy="705.9" r="3.45" fill="#593c9f" stroke="#593c9f"/>
<circle cx="1783.9" cy="129.4" r="3.45" fill="#957dc0" stroke="#957dc0"/>
<circle cx="1424.0" cy="488.1" r="3.45" fill="#000080" stroke="#000080"/>
<circle cx="1485.0" cy="701.3" r="3.45" fill="#090281" stroke="#090281"/>
<circle cx="1540.6" cy="321.1" r="3.45" fill="#000080" stroke="#000080"/>
<circle cx="1396.6" cy="646.1" r="3.45" fill="#6a4ea8" stroke="#6a4ea8"/>
<circle cx="1435.6" cy="554.5" r="3.45" fill="#4a2f97" stroke="#4a2f97"/>
<circle cx="1727.1" cy="158.5" r="3.45" fill="#120583" stroke="#120583"/>
<circle cx="1489.9" cy="700.2" r="3.45" fill="#070281" stroke="#070281"/>
<circle cx="1417.2" cy="447.4" r="3.45" fill="#000080" stroke="#000080"/>
<circle cx="1773.4" cy="104.7" r="3.45" fill="#060181" stroke="#060181"/>
<circle cx="1881.4" cy="160.4" r="3.45" fill="#aa95cd" stroke="#aa95cd"/>
<circle cx="1451.9" cy="705.7" r="3.45" fill="#4e3399" stroke="#4e3399"/>
<circle cx="1508.6" cy="395.5" r="3.45" fill="#1e0c86" stroke="#1e0c86"/>
<circle cx="1427.4" cy="572.1" r="3.45" fill="#3e2491" stroke="#3e2491"/>
<circle cx="1397.5" cy="556.7" r="3.45" fill="#000080" stroke="#000080"/>
<circle cx="1890.5" cy="164.4" r="3.45" fill="#0e0482" stroke="#0e0482"/>
<circle cx="1398.1" cy="648.5" r="3.45" fill="#7d62b3" stroke="#7d62b3"/>
<circle cx="1537.0" cy="682.2" r="3.45" fill="#010080" stroke="#010080"/>
<circle cx="1435.0" cy="551.2" r="3.45" fill="#311a8c" stroke="#311a8c"/>
<circle cx="1428.5" cy="569.3" r="3.45" fill="#381f8f" stroke="#381f8f"/>
<circle cx="1479.8" cy="704.7" r="3.45" fill="#0d0382" stroke="#0d0382"/>
<circle cx="1506.7" cy="436.9" r="3.45" fill="#ac97ce" stroke="#ac97ce"/>
<circle cx="1396.5" cy="582.2" r="3.45" fill="#020080" stroke="#020080"/>
<circle cx="1442.7" cy="526.9" r="3.45" fill="#281389" stroke="#281389"/>
<circle cx="1423.1" cy="536.1" r="3.45" fill="#050181" stroke="#050181"/>
<circle cx="1432.8" cy="543.8" r="3.45" fill="#1c0b85" stroke="#1c0b85"/>
<circle cx="1770.8" cy="129.9" r="3.45" fill="#402692" stroke="#402692"/>
<circle cx="1398.4" cy="516.7" r="3.45" fill="#000080" stroke="#000080"/>
<circle cx="1686.9" cy="224.5" r="3.45" fill="#7256ac" stroke="#7256ac"/>
<circle cx="1457.9" cy="475.6" r="3.45" fill="#080281" stroke="#080281"/>
<circle cx="1498.1" cy="701.9" r="3.45" fill="#020180" stroke="#020180"/>
<circle cx="1457.6" cy="466.6" r="3.45" fill="#020180" stroke="#020180"/>
<circle cx="1427.4" cy="462.0" r="3.45" fill="#000080" stroke="#000080"/>
<circle cx="1590.3" cy="309.6" r="3.45" fill="#3f2592" stroke="#3f2592"/>
<circle cx="1398.6" cy="489.8" r="3.45" fill="#000080" stroke="#000080"/>
<circle cx="1398.4" cy="624.4" r="3.45" fill="#281389" stroke="#281389"/>
<circle cx="1477.1" cy="432.9" r="3.45" fill="#050181" stroke="#050181"/>
<circle cx="1410.4" cy="631.3" r="3.45" fill="#baa8d6" stroke="#baa8d6"/>
<circle cx="1477.1" cy="702.9" r="3.45" fill="#100482" stroke="#100482"/>
<circle cx="1552.0" cy="670.1" r="3.45" fill="#000080" stroke="#000080"/>
<circle cx="1469.3" cy="314.5" r="3.45" fill="#000080" stroke="#000080"/>
<circle cx="1734.9" cy="175.0" r="3.45" fill="#efebf6" stroke="#efebf6"/>
<circle cx="1608.2" cy="546.2" r="3.45" fill="#fbf9fc" stroke="#fbf9fc"/>
<circle cx="1425.8" cy="588.1" r="3.45" fill="#b19ed1" stroke="#b19ed1"/>
<circle cx="1472.8" cy="683.3" r="3.45" fill="#9d85c5" stroke="#9d85c5"/>
<circle cx="1454.5" cy="700.1" r="3.45" fill="#51359b" stroke="#51359b"/>
<circle cx="1430.4" cy="490.5" r="3.45" fill="#000080" stroke="#000080"/>
<circle cx="1479.9" cy="487.9" r="3.45" fill="#aa94cc" stroke="#aa94cc"/>
<circle cx="1453.5" cy="466.3" r="3.45" fill="#010080" stroke="#010080"/>
<circle cx="1484.3" cy="334.1" r="3.45" fill="#000080" stroke="#000080"/>
<circle cx="1398.2" cy="658.5" r="3.45" fill="#c3b3db" stroke="#c3b3db"/>
<circle cx="1403.1" cy="600.7" r="3.45" fill="#2f188b" stroke="#2f188b"/>
<circle cx="1642.1" cy="511.5" r="3.45" fill="#d4c9e6" stroke="#d4c9e6"/>
<circle cx="1398.9" cy="616.2" r="3.45" fill="#180884" stroke="#180884"/>
<circle cx="1437.6" cy="566.0" r="3.45" fill="#9e87c6" stroke="#9e87c6"/>
<circle cx="1399.1" cy="502.6" r="3.45" fill="#000080" stroke="#000080"/>
<circle cx="1411.1" cy="535.8" r="3.45" fill="#000080" stroke="#000080"/>
<circle cx="1455.2" cy="527.9" r="3.45" fill="#947bc0" stroke="#947bc0"/>
<circle cx="1520.0" cy="406.4" r="3.45" fill="#684ca7" stroke="#684ca7"/>
<circle cx="1498.1" cy="694.9" r="3.45" fill="#0a0381" stroke="#0a0381"/>
<circle cx="1398.0" cy="556.8" r="3.45" fill="#000080" stroke="#000080"/>
<circle cx="1794.6" cy="113.9" r="3.45" fill="#7154ac" stroke="#7154ac"/>
<circle cx="1496.4" cy="703.7" r="3.45" fill="#030180" stroke="#030180"/>
<circle cx="1557.9" cy="344.9" r="3.45" fill="#251188" stroke="#251188"/>
<circle cx="1510.0" cy="389.9" r="3.45" fill="#0c0382" stroke="#0c0382"/>
<circle cx="1482.1" cy="699.6" r="3.45" fill="#150783" stroke="#150783"/>
<circle cx="1628.0" cy="626.8" r="3.45" fill="#0b0382" stroke="#0b0382"/>
<circle cx="1487.7" cy="312.7" r="3.45" fill="#000080" stroke="#000080"/>
<circle cx="1411.7" cy="581.6" r="3.45" fill="#180884" stroke="#180884"/>
<circle cx="1417.5" cy="606.8" r="3.45" fill="#9e87c6" stroke="#9e87c6"/>
<circle cx="1573.6" cy="339.5" r="3.45" fill="#876cb8" stroke="#876cb8"/>
<circle cx="1579.5" cy="583.1" r="3.45" fill="#a18bc8" stroke="#a18bc8"/>
<circle cx="1456.5" cy="515.7" r="3.45" fill="#371f8f" stroke="#371f8f"/>
<circle cx="1555.9" cy="614.1" r="3.45" fill="#442994" stroke="#442994"/>
<circle cx="1415.5" cy="570.5" r="3.45" fill="#1b0a85" stroke="#1b0a85"/>
<circle cx="1426.0" cy="598.7" r="3.45" fill="#ffffff" stroke="#ffffff"/>
<circle cx="1472.6" cy="352.1" r="3.45" fill="#000080" stroke="#000080"/>
<circle cx="1464.5" cy="422.1" r="3.45" fill="#000080" stroke="#000080"/>
<circle cx="1484.3" cy="467.1" r="3.45" fill="#482d96" stroke="#482d96"/>
<circle cx="1480.8" cy="704.0" r="3.45" fill="#0c0382" stroke="#0c0382"/>
<circle cx="1398.9" cy="600.7" r="3.45" fill="#0e0482" stroke="#0e0482"/>
<circle cx="1427.7" cy="574.1" r="3.45" fill="#472c96" stroke="#472c96"/>
<circle cx="1406.3" cy="621.5" r="3.45" fill="#4b3098" stroke="#4b3098"/>
<circle cx="1398.3" cy="512.6" r="3.45" fill="#000080" stroke="#000080"/>
<circle cx="1427.2" cy="495.4" r="3.45" fill="#000080" stroke="#000080"/>
<circle cx="1522.9" cy="297.1" r="3.45" fill="#000080" stroke="#000080"/>
<circle cx="1509.7" cy="433.2" r="3.45" fill="#8e75bc" stroke="#8e75bc"/>
<circle cx="1505.2" cy="701.4" r="3.45" fill="#020080" stroke="#020080"/>
<circle cx="1418.0" cy="563.2" r="3.45" fill="#1d0b85" stroke="#1d0b85"/>
<circle cx="1529.5" cy="359.7" r="3.45" fill="#0a0281" stroke="#0a0281"/>
<circle cx="1508.4" cy="701.5" r="3.45" fill="#000080" stroke="#000080"/>
<circle cx="1397.9" cy="628.1" r="3.45" fill="#251188" stroke="#251188"/>
<circle cx="1405.4" cy="616.6" r="3.45" fill="#371f8f" stroke="#371f8f"/>
<circle cx="1748.6" cy="142.3" r="3.45" fill="#1d0b85" stroke="#1d0b85"/>
<circle cx="1638.7" cy="274.6" r="3.45" fill="#7b60b2" stroke="#7b60b2"/>
<circle cx="1734.4" cy="478.9" r="3.45" fill="#0b0382" stroke="#0b0382"/>
<circle cx="1521.8" cy="228.3" r="3.45" fill="#000080" stroke="#000080"/>
<circle cx="1817.1" cy="97.2" r="3.45" fill="#bcaad7" stroke="#bcaad7"/>
<circle cx="1570.2" cy="348.5" r="3.45" fill="#7e63b3" stroke="#7e63b3"/>
<circle cx="1525.5" cy="686.1" r="3.45" fill="#010080" stroke="#010080"/>
<circle cx="1513.9" cy="658.1" r="3.45" fill="#462b95" stroke="#462b95"/>
<circle cx="1470.8" cy="684.0" r="3.45" fill="#7357ad" stroke="#7357ad"/>
<circle cx="1430.6" cy="531.2" r="3.45" fill="#090281" stroke="#090281"/>
<circle cx="1396.8" cy="630.4" r="3.45" fill="#2c168a" stroke="#2c168a"/>
<circle cx="1402.2" cy="564.1" r="3.45" fill="#010080" stroke="#010080"/>
<circle cx="1518.0" cy="665.1" r="3.45" fill="#1a0a85" stroke="#1a0a85"/>
<circle cx="1727.3" cy="448.2" r="3.45" fill="#120583" stroke="#120583"/>
<circle cx="1396.1" cy="588.0" r="3.45" fill="#040181" stroke="#040181"/>
<circle cx="1396.7" cy="618.4" r="3.45" fill="#150783" stroke="#150783"/>
<circle cx="1779.3" cy="99.2" r="3.45" fill="#050181" stroke="#050181"/>
<circle cx="1524.0" cy="378.6" r="3.45" fill="#150783" stroke="#150783"/>
<circle cx="1427.9" cy="536.3" r="3.45" fill="#0c0382" stroke="#0c0382"/>
<circle cx="1403.9" cy="599.4" r="3.45" fill="#170884" stroke="#170884"/>
<circle cx="1579.5" cy="317.7" r="3.45" fill="#3c2290" stroke="#3c2290"/>
<circle cx="1472.0" cy="688.3" r="3.45" fill="#775baf" stroke="#775baf"/>
<circle cx="1457.0" cy="533.1" r="3.45" fill="#c5b6dd" stroke="#c5b6dd"/>
<circle cx="1466.8" cy="703.9" r="3.45" fill="#220e87" stroke="#220e87"/>
<circle cx="1591.7" cy="290.7" r="3.45" fill="#180884" stroke="#180884"/>
<circle cx="1427.4" cy="350.7" r="3.45" fill="#000080" stroke="#000080"/>
<circle cx="1516.1" cy="427.8" r="3.45" fill="#b9a7d6" stroke="#b9a7d6"/>
<circle cx="1461.2" cy="528.8" r="3.45" fill="#ffffff" stroke="#ffffff"/>
<circle cx="1396.0" cy="525.7" r="3.45" fill="#000080" stroke="#000080"/>
<circle cx="1408.7" cy="515.0" r="3.45" fill="#000080" stroke="#000080"/>
<circle cx="1506.4" cy="703.9" r="3.45" fill="#020080" stroke="#020080"/>
<circle cx="1440.6" cy="523.2" r="3.45" fill="#0f0482" stroke="#0f0482"/>
<circle cx="1488.5" cy="359.9" r="3.45" fill="#000080" stroke="#000080"/>
<circle cx="1534.6" cy="303.9" r="3.45" fill="#000080" stroke="#000080"/>
<circle cx="1738.3" cy="500.8" r="3.45" fill="#080281" stroke="#080281"/>
<circle cx="1477.0" cy="695.8" r="3.45" fill="#30198c" stroke="#30198c"/>
<circle cx="1498.9" cy="665.5" r="3.45" fill="#7a5fb1" stroke="#7a5fb1"/>
<circle cx="1748.6" cy="372.5" r="3.45" fill="#d4c9e6" stroke="#d4c9e6"/>
<circle cx="1403.4" cy="643.9" r="3.45" fill="#a58fca" stroke="#a58fca"/>
<circle cx="1503.7" cy="701.9" r="3.45" fill="#020080" stroke="#020080"/>
<circle cx="1398.0" cy="631.1" r="3.45" fill="#2d178b" stroke="#2d178b"/>
<circle cx="1481.3" cy="677.6" r="3.45" fill="#a58ec9" stroke="#a58ec9"/>
<circle cx="1702.8" cy="159.8" r="3.45" fill="#020080" stroke="#020080"/>
<circle cx="1726.3" cy="176.5" r="3.45" fill="#674ba6" stroke="#674ba6"/>
<circle cx="1398.5" cy="661.4" r="3.45" fill="#ad99cf" stroke="#ad99cf"/>
<circle cx="1461.0" cy="503.1" r="3.45" fill="#38208f" stroke="#38208f"/>
<circle cx="1398.8" cy="523.7" r="3.45" fill="#000080" stroke="#000080"/>
<circle cx="1396.5" cy="555.0" r="3.45" fill="#000080" stroke="#000080"/>
<circle cx="1485.3" cy="703.0" r="3.45" fill="#0a0381" stroke="#0a0381"/>
<circle cx="1395.6" cy="602.0" r="3.45" fill="#060281" stroke="#060281"/>
<circle cx="1402.4" cy="475.3" r="3.45" fill="#000080" stroke="#000080"/>
<circle cx="1604.4" cy="306.8" r="3.45" fill="#9981c3" stroke="#9981c3"/>
<circle cx="1624.5" cy="256.5" r="3.45" fill="#070281" stroke="#070281"/>
<circle cx="1395.7" cy="625.5" r="3.45" fill="#271288" stroke="#271288"/>
<circle cx="1403.6" cy="622.4" r="3.45" fill="#3c2291" stroke="#3c2291"/>
<circle cx="1433.8" cy="539.4" r="3.45" fill="#180884" stroke="#180884"/>
<circle cx="1395.4" cy="580.8" r="3.45" fill="#020180" stroke="#020180"/>
<circle cx="1816.3" cy="94.7" r="3.45" fill="#452a95" stroke="#452a95"/>
<circle cx="1407.1" cy="640.0" r="3.45" fill="#bfafd9" stroke="#bfafd9"/>
<circle cx="1430.0" cy="379.8" r="3.45" fill="#000080" stroke="#000080"/>
<circle cx="1440.8" cy="427.5" r="3.45" fill="#000080" stroke="#000080"/>
<circle cx="1540.5" cy="357.1" r="3.45" fill="#170884" stroke="#170884"/>
<circle cx="1487.2" cy="686.3" r="3.45" fill="#321a8c" stroke="#321a8c"/>
<circle cx="1398.8" cy="661.5" r="3.45" fill="#eee9f5" stroke="#eee9f5"/>
<circle cx="1438.7" cy="520.2" r="3.45" fill="#0d0382" stroke="#0d0382"/>
<circle cx="1564.1" cy="608.5" r="3.45" fill="#4d3299" stroke="#4d3299"/>
<circle cx="1665.6" cy="238.7" r="3.45" fill="#4d3199" stroke="#4d3199"/>
<circle cx="1404.8" cy="489.0" r="3.45" fill="#000080" stroke="#000080"/>
<circle cx="1511.8" cy="648.5" r="3.45" fill="#856bb7" stroke="#856bb7"/>
<circle cx="1415.5" cy="575.5" r="3.45" fill="#1d0b85" stroke="#1d0b85"/>
<circle cx="1401.5" cy="529.9" r="3.45" fill="#000080" stroke="#000080"/>
<circle cx="1396.4" cy="565.1" r="3.45" fill="#000080" stroke="#000080"/>
<circle cx="1689.0" cy="197.8" r="3.45" fill="#130683" stroke="#130683"/>
<circle cx="1601.4" cy="259.8" r="3.45" fill="#010080" stroke="#010080"/>
<circle cx="1503.1" cy="417.8" r="3.45" fill="#241087" stroke="#241087"/>
<circle cx="1503.4" cy="694.9" r="3.45" fill="#040180" stroke="#040180"/>
<circle cx="1397.2" cy="521.0" r="3.45" fill="#000080" stroke="#000080"/>
<circle cx="1497.8" cy="694.1" r="3.45" fill="#0a0281" stroke="#0a0281"/>
<circle cx="1513.4" cy="689.1" r="3.45" fill="#030180" stroke="#030180"/>
<circle cx="1736.3" cy="140.5" r="3.45" fill="#060281" stroke="#060281"/>
<circle cx="1774.0" cy="469.7" r="3.45" fill="#080281" stroke="#080281"/>
<circle cx="1451.4" cy="540.0" r="3.45" fill="#a691cb" stroke="#a691cb"/>
<circle cx="1480.8" cy="704.8" r="3.45" fill="#0a0381" stroke="#0a0381"/>
<circle cx="1429.7" cy="393.0" r="3.45" fill="#000080" stroke="#000080"/>
<circle cx="1702.8" cy="202.9" r="3.45" fill="#422793" stroke="#422793"/>
<circle cx="1634.9" cy="260.4" r="3.45" fill="#241087" stroke="#241087"/>
<circle cx="1567.5" cy="686.1" r="3.45" fill="#000080" stroke="#000080"/>
<circle cx="1421.3" cy="397.1" r="3.45" fill="#000080" stroke="#000080"/>
<circle cx="1689.0" cy="139.9" r="3.45" fill="#000080" stroke="#000080"/>
<circle cx="1408.8" cy="628.9" r="3.45" fill="#6a4ea8" stroke="#6a4ea8"/>
<circle cx="1441.2" cy="396.8" r="3.45" fill="#000080" stroke="#000080"/>
<circle cx="1763.2" cy="114.4" r="3.45" fill="#0f0482" stroke="#0f0482"/>
<circle cx="1563.5" cy="347.4" r="3.45" fill="#51359a" stroke="#51359a"/>
<circle cx="1646.8" cy="263.6" r="3.45" fill="#a18bc8" stroke="#a18bc8"/>
<circle cx="1399.1" cy="655.7" r="3.45" fill="#9880c2" stroke="#9880c2"/>
<circle cx="1408.7" cy="442.3" r="3.45" fill="#000080" stroke="#000080"/>
<circle cx="1531.7" cy="321.2" r="3.45" fill="#000080" stroke="#000080"/>
<circle cx="1436.9" cy="370.9" r="3.45" fill="#000080" stroke="#000080"/>
<circle cx="1417.8" cy="599.6" r="3.45" fill="#795db0" stroke="#795db0"/>
<circle cx="1461.3" cy="694.6" r="3.45" fill="#53379c" stroke="#53379c"/>
<circle cx="1457.6" cy="436.5" r="3.45" fill="#000080" stroke="#000080"/>
<circle cx="1576.8" cy="327.6" r="3.45" fill="#4c3198" stroke="#4c3198"/>
<circle cx="1520.5" cy="336.5" r="3.45" fill="#000080" stroke="#000080"/>
<circle cx="1486.0" cy="437.4" r="3.45" fill="#140683" stroke="#140683"/>
<circle cx="1398.8" cy="626.9" r="3.45" fill="#2d168a" stroke="#2d168a"/>
<circle cx="1711.5" cy="140.0" r="3.45" fill="#000080" stroke="#000080"/>
<circle cx="1437.9" cy="507.1" r="3.45" fill="#040181" stroke="#040181"/>
<circle cx="1602.6" cy="298.4" r="3.45" fill="#6043a2" stroke="#6043a2"/>
<circle cx="1632.3" cy="266.1" r="3.45" fill="#2d178b" stroke="#2d178b"/>
<circle cx="1397.6" cy="587.1" r="3.45" fill="#040181" stroke="#040181"/>
<circle cx="1501.4" cy="386.9" r="3.45" fill="#020180" stroke="#020180"/>
<circle cx="1473.8" cy="678.3" r="3.45" fill="#fcfbfd" stroke="#fcfbfd"/>
<circle cx="1505.8" cy="705.1" r="3.45" fill="#020080" stroke="#020080"/>
<circle cx="1396.6" cy="554.9" r="3.45" fill="#000080" stroke="#000080"/>
<circle cx="1396.8" cy="543.3" r="3.45" fill="#000080" stroke="#000080"/>
<circle cx="1484.1" cy="687.1" r="3.45" fill="#1e0c86" stroke="#1e0c86"/>
<circle cx="1398.7" cy="576.6" r="3.45" fill="#010080" stroke="#010080"/>
<circle cx="1395.8" cy="627.2" r="3.45" fill="#2f188b" stroke="#2f188b"/>
<circle cx="1417.3" cy="542.0" r="3.45" fill="#020180" stroke="#020180"/>
<circle cx="1739.0" cy="414.9" r="3.45" fill="#6346a4" stroke="#6346a4"/>
<circle cx="1395.6" cy="590.7" r="3.45" fill="#080281" stroke="#080281"/>
<circle cx="1419.0" cy="595.4" r="3.45" fill="#7b60b2" stroke="#7b60b2"/>
<circle cx="1514.0" cy="669.3" r="3.45" fill="#1c0b85" stroke="#1c0b85"/>
<circle cx="1403.9" cy="610.7" r="3.45" fill="#1d0b85" stroke="#1d0b85"/>
<circle cx="1488.3" cy="698.9" r="3.45" fill="#100582" stroke="#100582"/>
<circle cx="1747.1" cy="382.7" r="3.45" fill="#aa95cd" stroke="#aa95cd"/>
<circle cx="1546.1" cy="337.0" r="3.45" fill="#070281" stroke="#070281"/>
<circle cx="1448.0" cy="526.2" r="3.45" fill="#371f8f" stroke="#371f8f"/>
<circle cx="1416.0" cy="493.9" r="3.45" fill="#000080" stroke="#000080"/>
</g>
<g id="lab-a">
<path d="M322.5 215.0L343.5 243.0M288.0 283.5L309.0 311.0M205.0 302.5L225.5 330.0M218.5 370.0L240.0 398.5M164.0 395.0L186.0 423.0M92.6 504.1L127.5 609.0M135.3 504.1L138.0 577.3M130.7 517.3L144.8 517.3M115.5 546.2L123.4 576.7M116.4 563.0L122.5 640.7M157.0 563.0L139.9 595.0M118.5 587.4L122.5 640.7M171.3 581.3L123.4 637.1M146.3 590.4L143.8 601.1M117.9 604.1L122.5 642.3M158.2 615.7L125.5 636.2M116.4 628.5L122.5 643.8M172.2 634.6L128.6 641.3M123.2 661.0L124.3 672.7" stroke="#000" stroke-width="1.7" fill="none" stroke-linecap="butt"/>
<g class="la">
<text x="295.5" y="210.0">CE3</text>
<text x="260.5" y="280.0">GH3</text>
<text x="164.5" y="299.0">GH103</text>
<text x="181.5" y="369.0">GH23</text>
<text x="142.5" y="392.5">AA6</text>
<text x="80.0" y="501.5">PL6</text>
<text x="120.5" y="501.5">GT41</text>
<text x="92.5" y="523.5">GT51</text>
<text x="188.5" y="526.5">GT1</text>
<text x="102.5" y="546.0">GT8</text>
<text x="154.0" y="551.5">CE4</text>
<text x="81.0" y="566.5">GT70</text>
<text x="159.0" y="566.5">GH29</text>
<text x="83.5" y="587.5">GH8</text>
<text x="175.0" y="583.5">GH130</text>
<text x="141.0" y="592.5">AA7</text>
<text x="76.5" y="608.5">AA12</text>
<text x="157.5" y="618.5">CE16</text>
<text x="76.0" y="631.5">CE12</text>
<text x="172.5" y="638.5">GH88</text>
<text x="78.5" y="656.0">GT10</text>
<text x="131.5" y="665.0">GH141</text>
<text x="82.5" y="688.5">GH13_38</text>
</g></g>
<g id="lab-b">
<path d="M1091.5 88.5L1092.6 150.0M1055.7 110.0L1055.7 165.4M1113.8 107.2L1101.7 156.6M1150.0 97.8L1143.0 119.7M949.2 136.4L973.3 165.4M1007.4 140.8L994.2 197.2M1090.4 140.2L1088.6 156.6M952.0 165.8L976.6 196.1M1040.7 169.8L1035.0 202.7M1061.6 193.9L1028.2 218.5M932.0 201.6L952.5 233.5M1045.1 223.0L977.7 255.6M990.9 232.0L924.6 278.8M1044.3 243.7L962.3 272.0M1020.5 266.6L961.7 279.3M827.4 243.1L843.8 278.2M811.5 263.9L839.9 285.4M899.8 253.4L922.9 285.9M791.1 297.3L810.9 333.1M836.6 301.7L853.0 346.3M877.9 307.4L858.5 345.2M774.7 319.3L794.9 355.0M803.6 329.1L803.9 407.4M757.1 341.2L761.5 362.3M840.1 353.5L848.7 384.9M1009.6 290.3L949.2 316.6M968.9 297.5L882.2 339.7M995.7 316.0L920.6 354.4M947.0 325.4L858.5 354.0M959.0 346.3L916.2 370.4M912.9 375.5L796.4 422.5M948.1 373.7L796.4 422.5M986.5 377.4L800.7 453.0M768.1 389.9L774.6 429.4M937.0 396.0L854.1 422.7M892.0 407.4L878.5 422.1M966.5 405.7L792.0 478.0M746.8 423.9L769.8 452.5M910.2 427.0L892.0 441.0M954.0 426.0L792.5 491.0M877.5 447.0L776.2 513.2M923.0 447.0L780.1 513.2M753.8 467.2L762.1 497.5M853.5 469.0L792.0 500.0M896.0 468.0L792.0 514.0M931.0 468.0L784.1 521.2M754.2 489.1L761.5 511.8M847.5 489.5L778.0 528.0M878.0 489.5L767.4 536.2M903.0 489.0L772.0 541.0M955.0 488.5L800.7 543.8M842.5 510.0L780.1 544.2M887.0 509.5L767.4 551.3M908.5 509.5L770.0 556.0M825.0 531.0L766.0 560.0M867.0 531.0L763.5 582.2M904.5 531.0L763.5 589.8M975.3 527.6L763.5 612.2M813.0 551.5L763.5 582.2M842.5 552.5L763.5 589.8M882.0 552.5L763.5 597.3M942.3 547.7L763.5 612.2M750.5 568.5L762.1 633.3M807.5 572.0L763.5 597.3M836.0 573.0L763.5 597.3M881.5 573.0L763.5 604.9M950.0 574.7L763.5 619.5M989.6 574.7L763.5 627.4M746.1 590.1L762.6 634.4M797.0 593.5L763.5 604.9M834.0 593.5L763.5 604.9M865.0 593.5L763.5 612.2M963.2 596.0L763.5 627.4M1023.6 599.7L763.5 627.4M745.7 611.4L762.6 634.9M785.5 614.0L763.5 619.5M835.0 614.0L763.5 619.5M946.7 615.8L763.5 635.4M977.0 623.0L763.5 635.4M1012.5 621.6L763.5 635.4M746.8 632.2L762.6 656.4M777.5 634.0L763.5 635.4M815.5 636.5L763.5 635.4M852.5 632.5L763.5 635.4M1037.9 639.9L763.5 642.9M963.0 643.5L763.5 642.9M990.5 643.8L763.5 642.9M924.8 647.6L763.5 642.9M747.2 652.4L762.6 657.5M768.5 656.5L763.5 658.1M978.5 665.5L763.5 650.6M1019.2 663.4L763.5 650.6M911.6 668.5L763.5 658.1M949.0 669.5L763.5 658.1M751.6 673.3L762.1 665.6M794.0 672.5L763.5 665.9M989.6 684.9L763.5 658.1M943.4 689.8L763.5 658.1M771.4 686.7L763.2 666.3M747.2 702.5L762.1 666.3M985.2 708.6L763.5 658.1M927.0 710.8L763.5 665.9" stroke="#000" stroke-width="1.7" fill="none" stroke-linecap="butt"/>
<g class="lb">
<text x="1077.2" y="85.9">trpA</text>
<text x="1041.0" y="106.8">recJ</text>
<text x="1100.6" y="106.8">folK</text>
<text x="1140.1" y="94.7">asd</text>
<text x="919.1" y="140.8">folA</text>
<text x="989.4" y="138.0">panC</text>
<text x="1076.1" y="136.9">trpB</text>
<text x="921.7" y="169.4">thiE</text>
<text x="1028.2" y="166.9">thiL</text>
<text x="1065.1" y="198.8">SOD2</text>
<text x="893.2" y="206.0">nadA</text>
<text x="1048.0" y="228.7">pcm</text>
<text x="994.2" y="236.4">thiG</text>
<text x="1047.3" y="248.5">bioB</text>
<text x="1021.6" y="270.1">nadB</text>
<text x="985.0" y="273.8">motB</text>
<text x="796.6" y="248.1">thiD</text>
<text x="778.0" y="268.7">hslU</text>
<text x="865.8" y="259.1">bioA</text>
<text x="752.7" y="303.0">sdaA</text>
<text x="806.0" y="306.7">thiC</text>
<text x="880.5" y="311.8">flhA</text>
<text x="735.8" y="323.9">pheA</text>
<text x="792.2" y="326.5">dps</text>
<text x="717.1" y="344.5">hsdM</text>
<text x="809.8" y="356.6">flhB</text>
<text x="1012.9" y="295.8">gshB</text>
<text x="972.2" y="303.4">htpX</text>
<text x="999.2" y="319.9">cysH</text>
<text x="949.8" y="329.8">motA</text>
<text x="961.9" y="351.3">speE</text>
<text x="915.1" y="380.3">cheY</text>
<text x="949.8" y="378.1">cysI</text>
<text x="989.1" y="382.5">fliC</text>
<text x="715.8" y="393.6">clsA_B</text>
<text x="939.0" y="400.2">maa</text>
<text x="896.4" y="410.5">msrP</text>
<text x="969.4" y="410.7">panD</text>
<text x="715.8" y="428.7">flgA</text>
<text x="912.8" y="431.8">cysD</text>
<text x="956.6" y="430.9">nirB</text>
<text x="880.0" y="451.4">cheA</text>
<text x="925.8" y="451.4">fimT</text>
<text x="717.1" y="470.5">exoP</text>
<text x="855.9" y="472.8">gacA</text>
<text x="898.6" y="472.2">nirD</text>
<text x="933.6" y="472.2">msrQ</text>
<text x="717.1" y="492.4">aspA</text>
<text x="850.0" y="493.6">pilA</text>
<text x="880.0" y="493.6">clsC</text>
<text x="905.0" y="493.0">dsrAB</text>
<text x="957.7" y="493.0">cysJ</text>
<text x="844.9" y="514.2">gacS</text>
<text x="889.6" y="513.5">flhC</text>
<text x="910.5" y="513.5">catalase</text>
<text x="827.4" y="535.3">fimV</text>
<text x="869.5" y="535.1">pilV</text>
<text x="907.0" y="535.1">flaG</text>
<text x="979.0" y="532.2">impB</text>
<text x="815.3" y="555.5">pilG</text>
<text x="844.9" y="556.6">mcrA</text>
<text x="884.4" y="556.6">dmsA</text>
<text x="944.5" y="552.2">nifH</text>
<text x="719.3" y="573.6">nrfH</text>
<text x="809.8" y="576.2">narI</text>
<text x="838.3" y="577.3">nasA</text>
<text x="884.1" y="577.3">vgrG</text>
<text x="953.3" y="579.5">aprA</text>
<text x="991.8" y="579.5">yscC</text>
<text x="716.5" y="594.5">trbJ</text>
<text x="799.3" y="597.5">norV</text>
<text x="836.6" y="597.5">dfx</text>
<text x="867.3" y="597.5">napA</text>
<text x="966.9" y="600.4">virD4</text>
<text x="1027.3" y="605.4">nrfA</text>
<text x="715.8" y="615.8">pilA</text>
<text x="787.4" y="618.0">hspC</text>
<text x="837.2" y="618.0">cooS</text>
<text x="947.8" y="621.2">malE</text>
<text x="978.6" y="626.7">malG</text>
<text x="1014.8" y="625.6">dsrA</text>
<text x="716.5" y="636.6">vasI</text>
<text x="779.1" y="637.7">malF</text>
<text x="817.5" y="640.6">trbL</text>
<text x="854.8" y="636.6">dsrB</text>
<text x="1041.2" y="644.3">cooF</text>
<text x="965.4" y="647.6">cysP</text>
<text x="992.8" y="647.6">impG</text>
<text x="928.1" y="652.0">virB9</text>
<text x="716.5" y="657.5">tyrA</text>
<text x="770.3" y="659.7">aspA</text>
<text x="980.8" y="669.6">adhE</text>
<text x="1022.0" y="668.5">narH</text>
<text x="913.8" y="673.3">acsE</text>
<text x="951.1" y="673.3">pelA</text>
<text x="719.8" y="678.3">THI5</text>
<text x="796.6" y="676.6">norB</text>
<text x="992.8" y="690.4">cdhD</text>
<text x="946.3" y="694.8">vpsM</text>
<text x="758.2" y="698.5">THI4</text>
<text x="716.5" y="708.0">nirK</text>
<text x="989.1" y="713.5">narG</text>
<text x="930.3" y="715.7">napD</text>
</g></g>
<g id="lab-c">
<path d="M1715.1 201.2L1649.1 226.6M1512.8 232.3L1529.6 256.1M1605.7 284.3L1513.7 317.6M1407.5 337.6L1429.7 393.0M1567.6 338.2L1439.2 355.0M1631.7 338.2L1435.1 377.8M1553.4 399.9L1397.5 446.9M1536.6 420.8L1402.4 475.3M1518.4 442.4L1413.7 476.4M1508.2 463.2L1432.6 475.3M1578.2 463.9L1409.9 490.8M1499.5 484.0L1436.4 498.3M1474.2 504.8L1406.2 529.3M1543.4 505.5L1408.0 536.1M1465.9 525.6L1409.9 536.1M1454.6 546.4L1398.6 566.4M1524.5 545.6L1398.6 574.7M1450.4 567.9L1427.7 573.9M1631.1 564.5L1402.4 597.4M1438.5 589.0L1402.4 597.4M1614.1 593.6L1398.6 613.3M1425.1 609.9L1398.6 619.3M1417.5 630.3L1406.2 621.2M1408.8 654.1L1398.6 657.9" stroke="#000" stroke-width="1.7" fill="none" stroke-linecap="butt"/>
<g class="lc">
<text x="1718.3" y="207.6">PF07676</text>
<text x="1449.4" y="237.0">PF09976</text>
<text x="1609.5" y="290.0">PF13512</text>
<text x="1373.3" y="335.0">PF13857</text>
<text x="1570.5" y="342.9">PF12796</text>
<text x="1634.9" y="342.9">PF13637</text>
<text x="1556.4" y="405.7">PF01875</text>
<text x="1539.2" y="426.1">PF07022</text>
<text x="1521.5" y="447.3">PF00023</text>
<text x="1511.3" y="468.8">PF00614</text>
<text x="1581.2" y="469.6">PF12625</text>
<text x="1502.6" y="489.6">PF00028</text>
<text x="1476.9" y="510.4">PF13606</text>
<text x="1546.0" y="511.2">PF06719</text>
<text x="1468.5" y="531.2">PF04865</text>
<text x="1457.2" y="552.0">PF10116</text>
<text x="1527.1" y="551.3">PF15738</text>
<text x="1453.4" y="572.8">PF01852</text>
<text x="1634.1" y="570.2">PF08798</text>
<text x="1441.3" y="594.4">PF14525</text>
<text x="1616.7" y="599.3">PF13306</text>
<text x="1428.1" y="615.5">PF06761</text>
<text x="1420.5" y="636.3">PF12236</text>
<text x="1411.1" y="659.0">PF07095</text>
</g></g>
</svg>
</body>
</html>
